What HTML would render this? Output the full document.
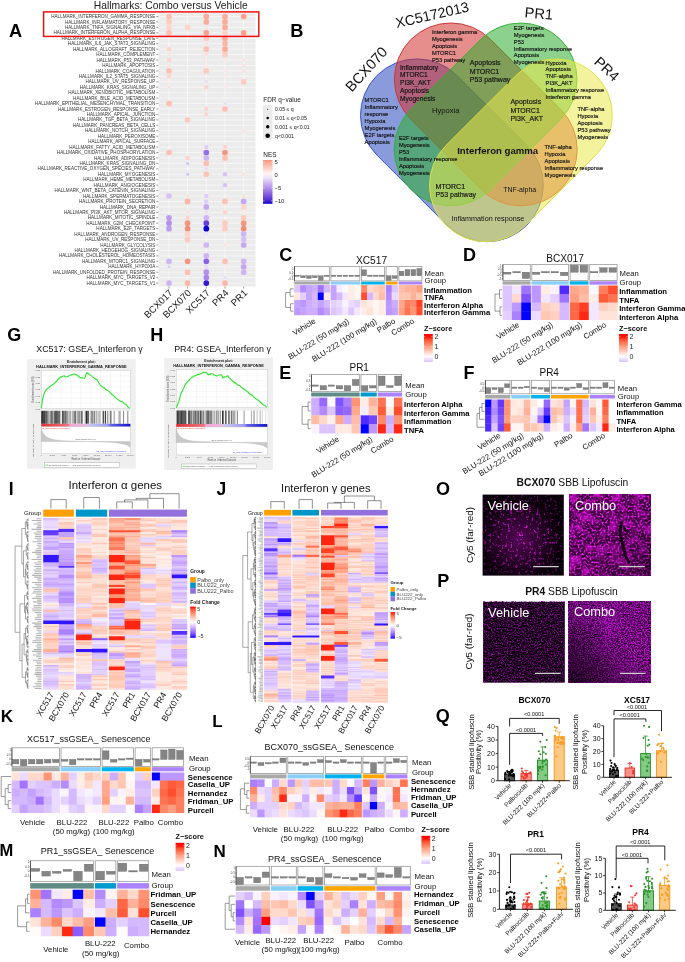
<!DOCTYPE html>
<html><head><meta charset="utf-8"><style>
html,body{margin:0;padding:0;background:#fff;width:685px;height:962px;overflow:hidden}
svg{display:block;will-change:transform}
text{font-family:"Liberation Sans",sans-serif}
</style></head><body>
<svg width="685" height="962" viewBox="0 0 685 962">
<text x="170.80" y="8.90" font-size="10.3" text-anchor="middle" fill="#1a1a1a">Hallmarks: Combo versus Vehicle</text>
<rect x="158.50" y="13.20" width="97.00" height="273.30" fill="#ebebeb"/>
<line x1="158.5" y1="16.50" x2="255.5" y2="16.50" stroke="#fff" stroke-width="0.55"/>
<line x1="158.5" y1="21.94" x2="255.5" y2="21.94" stroke="#fff" stroke-width="0.55"/>
<line x1="158.5" y1="27.38" x2="255.5" y2="27.38" stroke="#fff" stroke-width="0.55"/>
<line x1="158.5" y1="32.82" x2="255.5" y2="32.82" stroke="#fff" stroke-width="0.55"/>
<line x1="158.5" y1="38.26" x2="255.5" y2="38.26" stroke="#fff" stroke-width="0.55"/>
<line x1="158.5" y1="43.70" x2="255.5" y2="43.70" stroke="#fff" stroke-width="0.55"/>
<line x1="158.5" y1="49.14" x2="255.5" y2="49.14" stroke="#fff" stroke-width="0.55"/>
<line x1="158.5" y1="54.58" x2="255.5" y2="54.58" stroke="#fff" stroke-width="0.55"/>
<line x1="158.5" y1="60.02" x2="255.5" y2="60.02" stroke="#fff" stroke-width="0.55"/>
<line x1="158.5" y1="65.46" x2="255.5" y2="65.46" stroke="#fff" stroke-width="0.55"/>
<line x1="158.5" y1="70.90" x2="255.5" y2="70.90" stroke="#fff" stroke-width="0.55"/>
<line x1="158.5" y1="76.34" x2="255.5" y2="76.34" stroke="#fff" stroke-width="0.55"/>
<line x1="158.5" y1="81.78" x2="255.5" y2="81.78" stroke="#fff" stroke-width="0.55"/>
<line x1="158.5" y1="87.22" x2="255.5" y2="87.22" stroke="#fff" stroke-width="0.55"/>
<line x1="158.5" y1="92.66" x2="255.5" y2="92.66" stroke="#fff" stroke-width="0.55"/>
<line x1="158.5" y1="98.10" x2="255.5" y2="98.10" stroke="#fff" stroke-width="0.55"/>
<line x1="158.5" y1="103.54" x2="255.5" y2="103.54" stroke="#fff" stroke-width="0.55"/>
<line x1="158.5" y1="108.98" x2="255.5" y2="108.98" stroke="#fff" stroke-width="0.55"/>
<line x1="158.5" y1="114.42" x2="255.5" y2="114.42" stroke="#fff" stroke-width="0.55"/>
<line x1="158.5" y1="119.86" x2="255.5" y2="119.86" stroke="#fff" stroke-width="0.55"/>
<line x1="158.5" y1="125.30" x2="255.5" y2="125.30" stroke="#fff" stroke-width="0.55"/>
<line x1="158.5" y1="130.74" x2="255.5" y2="130.74" stroke="#fff" stroke-width="0.55"/>
<line x1="158.5" y1="136.18" x2="255.5" y2="136.18" stroke="#fff" stroke-width="0.55"/>
<line x1="158.5" y1="141.62" x2="255.5" y2="141.62" stroke="#fff" stroke-width="0.55"/>
<line x1="158.5" y1="147.06" x2="255.5" y2="147.06" stroke="#fff" stroke-width="0.55"/>
<line x1="158.5" y1="152.50" x2="255.5" y2="152.50" stroke="#fff" stroke-width="0.55"/>
<line x1="158.5" y1="157.94" x2="255.5" y2="157.94" stroke="#fff" stroke-width="0.55"/>
<line x1="158.5" y1="163.38" x2="255.5" y2="163.38" stroke="#fff" stroke-width="0.55"/>
<line x1="158.5" y1="168.82" x2="255.5" y2="168.82" stroke="#fff" stroke-width="0.55"/>
<line x1="158.5" y1="174.26" x2="255.5" y2="174.26" stroke="#fff" stroke-width="0.55"/>
<line x1="158.5" y1="179.70" x2="255.5" y2="179.70" stroke="#fff" stroke-width="0.55"/>
<line x1="158.5" y1="185.14" x2="255.5" y2="185.14" stroke="#fff" stroke-width="0.55"/>
<line x1="158.5" y1="190.58" x2="255.5" y2="190.58" stroke="#fff" stroke-width="0.55"/>
<line x1="158.5" y1="196.02" x2="255.5" y2="196.02" stroke="#fff" stroke-width="0.55"/>
<line x1="158.5" y1="201.46" x2="255.5" y2="201.46" stroke="#fff" stroke-width="0.55"/>
<line x1="158.5" y1="206.90" x2="255.5" y2="206.90" stroke="#fff" stroke-width="0.55"/>
<line x1="158.5" y1="212.34" x2="255.5" y2="212.34" stroke="#fff" stroke-width="0.55"/>
<line x1="158.5" y1="217.78" x2="255.5" y2="217.78" stroke="#fff" stroke-width="0.55"/>
<line x1="158.5" y1="223.22" x2="255.5" y2="223.22" stroke="#fff" stroke-width="0.55"/>
<line x1="158.5" y1="228.66" x2="255.5" y2="228.66" stroke="#fff" stroke-width="0.55"/>
<line x1="158.5" y1="234.10" x2="255.5" y2="234.10" stroke="#fff" stroke-width="0.55"/>
<line x1="158.5" y1="239.54" x2="255.5" y2="239.54" stroke="#fff" stroke-width="0.55"/>
<line x1="158.5" y1="244.98" x2="255.5" y2="244.98" stroke="#fff" stroke-width="0.55"/>
<line x1="158.5" y1="250.42" x2="255.5" y2="250.42" stroke="#fff" stroke-width="0.55"/>
<line x1="158.5" y1="255.86" x2="255.5" y2="255.86" stroke="#fff" stroke-width="0.55"/>
<line x1="158.5" y1="261.30" x2="255.5" y2="261.30" stroke="#fff" stroke-width="0.55"/>
<line x1="158.5" y1="266.74" x2="255.5" y2="266.74" stroke="#fff" stroke-width="0.55"/>
<line x1="158.5" y1="272.18" x2="255.5" y2="272.18" stroke="#fff" stroke-width="0.55"/>
<line x1="158.5" y1="277.62" x2="255.5" y2="277.62" stroke="#fff" stroke-width="0.55"/>
<line x1="158.5" y1="283.06" x2="255.5" y2="283.06" stroke="#fff" stroke-width="0.55"/>
<line x1="169.00" y1="13.2" x2="169.00" y2="286.5" stroke="#fff" stroke-width="0.55"/>
<line x1="187.60" y1="13.2" x2="187.60" y2="286.5" stroke="#fff" stroke-width="0.55"/>
<line x1="206.30" y1="13.2" x2="206.30" y2="286.5" stroke="#fff" stroke-width="0.55"/>
<line x1="225.00" y1="13.2" x2="225.00" y2="286.5" stroke="#fff" stroke-width="0.55"/>
<line x1="243.70" y1="13.2" x2="243.70" y2="286.5" stroke="#fff" stroke-width="0.55"/>
<text x="155.40" y="18.10" font-size="4.55" text-anchor="end" fill="#333">HALLMARK_INTERFERON_GAMMA_RESPONSE</text>
<line x1="156.3" y1="16.50" x2="158.3" y2="16.50" stroke="#333" stroke-width="0.5"/>
<text x="155.40" y="23.54" font-size="4.55" text-anchor="end" fill="#333">HALLMARK_INFLAMMATORY_RESPONSE</text>
<line x1="156.3" y1="21.94" x2="158.3" y2="21.94" stroke="#333" stroke-width="0.5"/>
<text x="155.40" y="28.98" font-size="4.55" text-anchor="end" fill="#333">HALLMARK_TNFA_SIGNALING_VIA_NFKB</text>
<line x1="156.3" y1="27.38" x2="158.3" y2="27.38" stroke="#333" stroke-width="0.5"/>
<text x="155.40" y="34.42" font-size="4.55" text-anchor="end" fill="#333">HALLMARK_INTERFERON_ALPHA_RESPONSE</text>
<line x1="156.3" y1="32.82" x2="158.3" y2="32.82" stroke="#333" stroke-width="0.5"/>
<text x="155.40" y="39.86" font-size="4.55" text-anchor="end" fill="#333">HALLMARK_ESTROGEN_RESPONSE_LATE</text>
<line x1="156.3" y1="38.26" x2="158.3" y2="38.26" stroke="#333" stroke-width="0.5"/>
<text x="155.40" y="45.30" font-size="4.55" text-anchor="end" fill="#333">HALLMARK_IL6_JAK_STAT3_SIGNALING</text>
<line x1="156.3" y1="43.70" x2="158.3" y2="43.70" stroke="#333" stroke-width="0.5"/>
<text x="155.40" y="50.74" font-size="4.55" text-anchor="end" fill="#333">HALLMARK_ALLOGRAFT_REJECTION</text>
<line x1="156.3" y1="49.14" x2="158.3" y2="49.14" stroke="#333" stroke-width="0.5"/>
<text x="155.40" y="56.18" font-size="4.55" text-anchor="end" fill="#333">HALLMARK_COMPLEMENT</text>
<line x1="156.3" y1="54.58" x2="158.3" y2="54.58" stroke="#333" stroke-width="0.5"/>
<text x="155.40" y="61.62" font-size="4.55" text-anchor="end" fill="#333">HALLMARK_P53_PATHWAY</text>
<line x1="156.3" y1="60.02" x2="158.3" y2="60.02" stroke="#333" stroke-width="0.5"/>
<text x="155.40" y="67.06" font-size="4.55" text-anchor="end" fill="#333">HALLMARK_APOPTOSIS</text>
<line x1="156.3" y1="65.46" x2="158.3" y2="65.46" stroke="#333" stroke-width="0.5"/>
<text x="155.40" y="72.50" font-size="4.55" text-anchor="end" fill="#333">HALLMARK_COAGULATION</text>
<line x1="156.3" y1="70.90" x2="158.3" y2="70.90" stroke="#333" stroke-width="0.5"/>
<text x="155.40" y="77.94" font-size="4.55" text-anchor="end" fill="#333">HALLMARK_IL2_STAT5_SIGNALING</text>
<line x1="156.3" y1="76.34" x2="158.3" y2="76.34" stroke="#333" stroke-width="0.5"/>
<text x="155.40" y="83.38" font-size="4.55" text-anchor="end" fill="#333">HALLMARK_UV_RESPONSE_UP</text>
<line x1="156.3" y1="81.78" x2="158.3" y2="81.78" stroke="#333" stroke-width="0.5"/>
<text x="155.40" y="88.82" font-size="4.55" text-anchor="end" fill="#333">HALLMARK_KRAS_SIGNALING_UP</text>
<line x1="156.3" y1="87.22" x2="158.3" y2="87.22" stroke="#333" stroke-width="0.5"/>
<text x="155.40" y="94.26" font-size="4.55" text-anchor="end" fill="#333">HALLMARK_XENOBIOTIC_METABOLISM</text>
<line x1="156.3" y1="92.66" x2="158.3" y2="92.66" stroke="#333" stroke-width="0.5"/>
<text x="155.40" y="99.70" font-size="4.55" text-anchor="end" fill="#333">HALLMARK_BILE_ACID_METABOLISM</text>
<line x1="156.3" y1="98.10" x2="158.3" y2="98.10" stroke="#333" stroke-width="0.5"/>
<text x="155.40" y="105.14" font-size="4.55" text-anchor="end" fill="#333">HALLMARK_EPITHELIAL_MESENCHYMAL_TRANSITION</text>
<line x1="156.3" y1="103.54" x2="158.3" y2="103.54" stroke="#333" stroke-width="0.5"/>
<text x="155.40" y="110.58" font-size="4.55" text-anchor="end" fill="#333">HALLMARK_ESTROGEN_RESPONSE_EARLY</text>
<line x1="156.3" y1="108.98" x2="158.3" y2="108.98" stroke="#333" stroke-width="0.5"/>
<text x="155.40" y="116.02" font-size="4.55" text-anchor="end" fill="#333">HALLMARK_APICAL_JUNCTION</text>
<line x1="156.3" y1="114.42" x2="158.3" y2="114.42" stroke="#333" stroke-width="0.5"/>
<text x="155.40" y="121.46" font-size="4.55" text-anchor="end" fill="#333">HALLMARK_TGF_BETA_SIGNALING</text>
<line x1="156.3" y1="119.86" x2="158.3" y2="119.86" stroke="#333" stroke-width="0.5"/>
<text x="155.40" y="126.90" font-size="4.55" text-anchor="end" fill="#333">HALLMARK_PANCREAS_BETA_CELLS</text>
<line x1="156.3" y1="125.30" x2="158.3" y2="125.30" stroke="#333" stroke-width="0.5"/>
<text x="155.40" y="132.34" font-size="4.55" text-anchor="end" fill="#333">HALLMARK_NOTCH_SIGNALING</text>
<line x1="156.3" y1="130.74" x2="158.3" y2="130.74" stroke="#333" stroke-width="0.5"/>
<text x="155.40" y="137.78" font-size="4.55" text-anchor="end" fill="#333">HALLMARK_PEROXISOME</text>
<line x1="156.3" y1="136.18" x2="158.3" y2="136.18" stroke="#333" stroke-width="0.5"/>
<text x="155.40" y="143.22" font-size="4.55" text-anchor="end" fill="#333">HALLMARK_APICAL_SURFACE</text>
<line x1="156.3" y1="141.62" x2="158.3" y2="141.62" stroke="#333" stroke-width="0.5"/>
<text x="155.40" y="148.66" font-size="4.55" text-anchor="end" fill="#333">HALLMARK_FATTY_ACID_METABOLISM</text>
<line x1="156.3" y1="147.06" x2="158.3" y2="147.06" stroke="#333" stroke-width="0.5"/>
<text x="155.40" y="154.10" font-size="4.55" text-anchor="end" fill="#333">HALLMARK_OXIDATIVE_PHOSPHORYLATION</text>
<line x1="156.3" y1="152.50" x2="158.3" y2="152.50" stroke="#333" stroke-width="0.5"/>
<text x="155.40" y="159.54" font-size="4.55" text-anchor="end" fill="#333">HALLMARK_ADIPOGENESIS</text>
<line x1="156.3" y1="157.94" x2="158.3" y2="157.94" stroke="#333" stroke-width="0.5"/>
<text x="155.40" y="164.98" font-size="4.55" text-anchor="end" fill="#333">HALLMARK_KRAS_SIGNALING_DN</text>
<line x1="156.3" y1="163.38" x2="158.3" y2="163.38" stroke="#333" stroke-width="0.5"/>
<text x="155.40" y="170.42" font-size="4.55" text-anchor="end" fill="#333">HALLMARK_REACTIVE_OXYGEN_SPECIES_PATHWAY</text>
<line x1="156.3" y1="168.82" x2="158.3" y2="168.82" stroke="#333" stroke-width="0.5"/>
<text x="155.40" y="175.86" font-size="4.55" text-anchor="end" fill="#333">HALLMARK_MYOGENESIS</text>
<line x1="156.3" y1="174.26" x2="158.3" y2="174.26" stroke="#333" stroke-width="0.5"/>
<text x="155.40" y="181.30" font-size="4.55" text-anchor="end" fill="#333">HALLMARK_HEME_METABOLISM</text>
<line x1="156.3" y1="179.70" x2="158.3" y2="179.70" stroke="#333" stroke-width="0.5"/>
<text x="155.40" y="186.74" font-size="4.55" text-anchor="end" fill="#333">HALLMARK_ANGIOGENESIS</text>
<line x1="156.3" y1="185.14" x2="158.3" y2="185.14" stroke="#333" stroke-width="0.5"/>
<text x="155.40" y="192.18" font-size="4.55" text-anchor="end" fill="#333">HALLMARK_WNT_BETA_CATENIN_SIGNALING</text>
<line x1="156.3" y1="190.58" x2="158.3" y2="190.58" stroke="#333" stroke-width="0.5"/>
<text x="155.40" y="197.62" font-size="4.55" text-anchor="end" fill="#333">HALLMARK_SPERMATOGENESIS</text>
<line x1="156.3" y1="196.02" x2="158.3" y2="196.02" stroke="#333" stroke-width="0.5"/>
<text x="155.40" y="203.06" font-size="4.55" text-anchor="end" fill="#333">HALLMARK_PROTEIN_SECRETION</text>
<line x1="156.3" y1="201.46" x2="158.3" y2="201.46" stroke="#333" stroke-width="0.5"/>
<text x="155.40" y="208.50" font-size="4.55" text-anchor="end" fill="#333">HALLMARK_DNA_REPAIR</text>
<line x1="156.3" y1="206.90" x2="158.3" y2="206.90" stroke="#333" stroke-width="0.5"/>
<text x="155.40" y="213.94" font-size="4.55" text-anchor="end" fill="#333">HALLMARK_PI3K_AKT_MTOR_SIGNALING</text>
<line x1="156.3" y1="212.34" x2="158.3" y2="212.34" stroke="#333" stroke-width="0.5"/>
<text x="155.40" y="219.38" font-size="4.55" text-anchor="end" fill="#333">HALLMARK_MITOTIC_SPINDLE</text>
<line x1="156.3" y1="217.78" x2="158.3" y2="217.78" stroke="#333" stroke-width="0.5"/>
<text x="155.40" y="224.82" font-size="4.55" text-anchor="end" fill="#333">HALLMARK_G2M_CHECKPOINT</text>
<line x1="156.3" y1="223.22" x2="158.3" y2="223.22" stroke="#333" stroke-width="0.5"/>
<text x="155.40" y="230.26" font-size="4.55" text-anchor="end" fill="#333">HALLMARK_E2F_TARGETS</text>
<line x1="156.3" y1="228.66" x2="158.3" y2="228.66" stroke="#333" stroke-width="0.5"/>
<text x="155.40" y="235.70" font-size="4.55" text-anchor="end" fill="#333">HALLMARK_ANDROGEN_RESPONSE</text>
<line x1="156.3" y1="234.10" x2="158.3" y2="234.10" stroke="#333" stroke-width="0.5"/>
<text x="155.40" y="241.14" font-size="4.55" text-anchor="end" fill="#333">HALLMARK_UV_RESPONSE_DN</text>
<line x1="156.3" y1="239.54" x2="158.3" y2="239.54" stroke="#333" stroke-width="0.5"/>
<text x="155.40" y="246.58" font-size="4.55" text-anchor="end" fill="#333">HALLMARK_GLYCOLYSIS</text>
<line x1="156.3" y1="244.98" x2="158.3" y2="244.98" stroke="#333" stroke-width="0.5"/>
<text x="155.40" y="252.02" font-size="4.55" text-anchor="end" fill="#333">HALLMARK_HEDGEHOG_SIGNALING</text>
<line x1="156.3" y1="250.42" x2="158.3" y2="250.42" stroke="#333" stroke-width="0.5"/>
<text x="155.40" y="257.46" font-size="4.55" text-anchor="end" fill="#333">HALLMARK_CHOLESTEROL_HOMEOSTASIS</text>
<line x1="156.3" y1="255.86" x2="158.3" y2="255.86" stroke="#333" stroke-width="0.5"/>
<text x="155.40" y="262.90" font-size="4.55" text-anchor="end" fill="#333">HALLMARK_MTORC1_SIGNALING</text>
<line x1="156.3" y1="261.30" x2="158.3" y2="261.30" stroke="#333" stroke-width="0.5"/>
<text x="155.40" y="268.34" font-size="4.55" text-anchor="end" fill="#333">HALLMARK_HYPOXIA</text>
<line x1="156.3" y1="266.74" x2="158.3" y2="266.74" stroke="#333" stroke-width="0.5"/>
<text x="155.40" y="273.78" font-size="4.55" text-anchor="end" fill="#333">HALLMARK_UNFOLDED_PROTEIN_RESPONSE</text>
<line x1="156.3" y1="272.18" x2="158.3" y2="272.18" stroke="#333" stroke-width="0.5"/>
<text x="155.40" y="279.22" font-size="4.55" text-anchor="end" fill="#333">HALLMARK_MYC_TARGETS_V2</text>
<line x1="156.3" y1="277.62" x2="158.3" y2="277.62" stroke="#333" stroke-width="0.5"/>
<text x="155.40" y="284.66" font-size="4.55" text-anchor="end" fill="#333">HALLMARK_MYC_TARGETS_V1</text>
<line x1="156.3" y1="283.06" x2="158.3" y2="283.06" stroke="#333" stroke-width="0.5"/>
<circle cx="169.00" cy="16.50" r="2.85" fill="#fcc1b2"/>
<circle cx="187.60" cy="16.50" r="0.7" fill="#fff5f2"/>
<circle cx="206.30" cy="16.50" r="2.85" fill="#f9ac99"/>
<circle cx="225.00" cy="16.50" r="2.85" fill="#f9ac99"/>
<circle cx="243.70" cy="16.50" r="2.85" fill="#f6a28d"/>
<circle cx="169.00" cy="21.94" r="2.85" fill="#fecbbf"/>
<circle cx="187.60" cy="21.94" r="0.7" fill="#fff5f2"/>
<circle cx="206.30" cy="21.94" r="2.85" fill="#f9ac99"/>
<circle cx="225.00" cy="21.94" r="2.85" fill="#f9ac99"/>
<circle cx="243.70" cy="21.94" r="0.7" fill="#fff5f2"/>
<circle cx="169.00" cy="27.38" r="2.85" fill="#ffd5cb"/>
<circle cx="187.60" cy="27.38" r="2.85" fill="#ffd5cb"/>
<circle cx="206.30" cy="27.38" r="1.5" fill="#ffe0d8"/>
<circle cx="225.00" cy="27.38" r="2.85" fill="#f9ac99"/>
<circle cx="243.70" cy="27.38" r="0.7" fill="#fff5f2"/>
<circle cx="169.00" cy="32.82" r="2.85" fill="#fcc1b2"/>
<circle cx="187.60" cy="32.82" r="0.7" fill="#f7f2fd"/>
<circle cx="206.30" cy="32.82" r="2.85" fill="#f6a28d"/>
<circle cx="225.00" cy="32.82" r="2.85" fill="#ffd5cb"/>
<circle cx="243.70" cy="32.82" r="2.85" fill="#f6a28d"/>
<circle cx="169.00" cy="38.26" r="0.7" fill="#fff5f2"/>
<circle cx="187.60" cy="38.26" r="0.7" fill="#fff5f2"/>
<circle cx="206.30" cy="38.26" r="2.85" fill="#fecbbf"/>
<circle cx="225.00" cy="38.26" r="2.85" fill="#f9ac99"/>
<circle cx="243.70" cy="38.26" r="0.7" fill="#fff5f2"/>
<circle cx="169.00" cy="43.70" r="0.7" fill="#fff5f2"/>
<circle cx="187.60" cy="43.70" r="0.7" fill="#fff9f7"/>
<circle cx="206.30" cy="43.70" r="1.5" fill="#ffe0d8"/>
<circle cx="225.00" cy="43.70" r="2.85" fill="#fbb6a6"/>
<circle cx="243.70" cy="43.70" r="0.7" fill="#fff5f2"/>
<circle cx="169.00" cy="49.14" r="2.2" fill="#ffd5cb"/>
<circle cx="187.60" cy="49.14" r="0.7" fill="#fff5f2"/>
<circle cx="206.30" cy="49.14" r="2.85" fill="#fcc1b2"/>
<circle cx="225.00" cy="49.14" r="2.85" fill="#f9ac99"/>
<circle cx="243.70" cy="49.14" r="0.7" fill="#fff5f2"/>
<circle cx="169.00" cy="54.58" r="1.5" fill="#ffe0d8"/>
<circle cx="187.60" cy="54.58" r="0.7" fill="#fff9f7"/>
<circle cx="206.30" cy="54.58" r="1.5" fill="#ffe0d8"/>
<circle cx="225.00" cy="54.58" r="2.85" fill="#fecbbf"/>
<circle cx="243.70" cy="54.58" r="0.7" fill="#fff5f2"/>
<circle cx="169.00" cy="60.02" r="2.2" fill="#ffd5cb"/>
<circle cx="187.60" cy="60.02" r="0.7" fill="#fff9f7"/>
<circle cx="206.30" cy="60.02" r="1.5" fill="#ffeae5"/>
<circle cx="225.00" cy="60.02" r="1.5" fill="#ffeae5"/>
<circle cx="243.70" cy="60.02" r="1.5" fill="#ffe0d8"/>
<circle cx="169.00" cy="65.46" r="1.5" fill="#ffe0d8"/>
<circle cx="187.60" cy="65.46" r="0.7" fill="#fff9f7"/>
<circle cx="206.30" cy="65.46" r="1.5" fill="#ffeae5"/>
<circle cx="225.00" cy="65.46" r="0.7" fill="#fff5f2"/>
<circle cx="243.70" cy="65.46" r="1.5" fill="#ffe0d8"/>
<circle cx="169.00" cy="70.90" r="2.85" fill="#fcc1b2"/>
<circle cx="187.60" cy="70.90" r="0.7" fill="#efe6fb"/>
<circle cx="206.30" cy="70.90" r="2.85" fill="#fecbbf"/>
<circle cx="225.00" cy="70.90" r="1.5" fill="#ffeae5"/>
<circle cx="243.70" cy="70.90" r="1.5" fill="#ffe0d8"/>
<circle cx="169.00" cy="76.34" r="2.2" fill="#ffd5cb"/>
<circle cx="187.60" cy="76.34" r="0.7" fill="#fff9f7"/>
<circle cx="206.30" cy="76.34" r="0.7" fill="#fff5f2"/>
<circle cx="225.00" cy="76.34" r="1.5" fill="#ffeae5"/>
<circle cx="243.70" cy="76.34" r="0.7" fill="#fff5f2"/>
<circle cx="169.00" cy="81.78" r="1.5" fill="#ffeae5"/>
<circle cx="187.60" cy="81.78" r="0.7" fill="#fff9f7"/>
<circle cx="206.30" cy="81.78" r="1.5" fill="#e6daf9"/>
<circle cx="225.00" cy="81.78" r="0.7" fill="#fff5f2"/>
<circle cx="243.70" cy="81.78" r="2.85" fill="#fecbbf"/>
<circle cx="169.00" cy="87.22" r="1.5" fill="#ffe0d8"/>
<circle cx="187.60" cy="87.22" r="0.7" fill="#fff9f7"/>
<circle cx="206.30" cy="87.22" r="2.2" fill="#ffd5cb"/>
<circle cx="225.00" cy="87.22" r="1.5" fill="#ffeae5"/>
<circle cx="243.70" cy="87.22" r="0.7" fill="#fff5f2"/>
<circle cx="169.00" cy="92.66" r="0.7" fill="#fff5f2"/>
<circle cx="187.60" cy="92.66" r="0.7" fill="#fff9f7"/>
<circle cx="206.30" cy="92.66" r="0.7" fill="#fff5f2"/>
<circle cx="225.00" cy="92.66" r="0.7" fill="#fff9f7"/>
<circle cx="243.70" cy="92.66" r="0.7" fill="#fff9f7"/>
<circle cx="169.00" cy="98.10" r="0.7" fill="#fff5f2"/>
<circle cx="187.60" cy="98.10" r="0.7" fill="#fff9f7"/>
<circle cx="206.30" cy="98.10" r="0.7" fill="#fff5f2"/>
<circle cx="225.00" cy="98.10" r="0.7" fill="#fff9f7"/>
<circle cx="243.70" cy="98.10" r="0.7" fill="#fff9f7"/>
<circle cx="169.00" cy="103.54" r="2.85" fill="#fcc1b2"/>
<circle cx="187.60" cy="103.54" r="0.7" fill="#fff9f7"/>
<circle cx="206.30" cy="103.54" r="0.7" fill="#fff5f2"/>
<circle cx="225.00" cy="103.54" r="1.5" fill="#e6daf9"/>
<circle cx="243.70" cy="103.54" r="0.7" fill="#fff9f7"/>
<circle cx="169.00" cy="108.98" r="0.7" fill="#fff5f2"/>
<circle cx="187.60" cy="108.98" r="0.7" fill="#fff9f7"/>
<circle cx="206.30" cy="108.98" r="2.2" fill="#ffd5cb"/>
<circle cx="225.00" cy="108.98" r="2.85" fill="#fcc1b2"/>
<circle cx="243.70" cy="108.98" r="0.7" fill="#fff9f7"/>
<circle cx="169.00" cy="114.42" r="0.7" fill="#fff5f2"/>
<circle cx="187.60" cy="114.42" r="0.7" fill="#faf7fe"/>
<circle cx="206.30" cy="114.42" r="2.2" fill="#ffd5cb"/>
<circle cx="225.00" cy="114.42" r="0.7" fill="#fff5f2"/>
<circle cx="243.70" cy="114.42" r="0.7" fill="#fff9f7"/>
<circle cx="169.00" cy="119.86" r="0.7" fill="#fff5f2"/>
<circle cx="187.60" cy="119.86" r="2.85" fill="#fecbbf"/>
<circle cx="206.30" cy="119.86" r="0.7" fill="#fff5f2"/>
<circle cx="225.00" cy="119.86" r="0.7" fill="#fff5f2"/>
<circle cx="243.70" cy="119.86" r="0.7" fill="#fff9f7"/>
<circle cx="169.00" cy="125.30" r="0.7" fill="#fff5f2"/>
<circle cx="187.60" cy="125.30" r="0.7" fill="#fff9f7"/>
<circle cx="206.30" cy="125.30" r="0.7" fill="#fff5f2"/>
<circle cx="225.00" cy="125.30" r="0.7" fill="#fff9f7"/>
<circle cx="243.70" cy="125.30" r="0.7" fill="#fff9f7"/>
<circle cx="169.00" cy="130.74" r="0.7" fill="#fff5f2"/>
<circle cx="187.60" cy="130.74" r="0.7" fill="#fff9f7"/>
<circle cx="206.30" cy="130.74" r="0.7" fill="#fff5f2"/>
<circle cx="225.00" cy="130.74" r="0.7" fill="#fff9f7"/>
<circle cx="243.70" cy="130.74" r="1.5" fill="#ffe0d8"/>
<circle cx="169.00" cy="136.18" r="0.7" fill="#fff5f2"/>
<circle cx="187.60" cy="136.18" r="0.7" fill="#fff9f7"/>
<circle cx="206.30" cy="136.18" r="0.7" fill="#fff5f2"/>
<circle cx="225.00" cy="136.18" r="0.7" fill="#fff9f7"/>
<circle cx="243.70" cy="136.18" r="0.7" fill="#fff9f7"/>
<circle cx="169.00" cy="141.62" r="0.7" fill="#fff5f2"/>
<circle cx="187.60" cy="141.62" r="0.7" fill="#fff9f7"/>
<circle cx="206.30" cy="141.62" r="0.7" fill="#fff5f2"/>
<circle cx="225.00" cy="141.62" r="0.7" fill="#fff9f7"/>
<circle cx="243.70" cy="141.62" r="0.7" fill="#fff9f7"/>
<circle cx="169.00" cy="147.06" r="0.7" fill="#fff5f2"/>
<circle cx="187.60" cy="147.06" r="0.7" fill="#fff9f7"/>
<circle cx="206.30" cy="147.06" r="2.2" fill="#decdf7"/>
<circle cx="225.00" cy="147.06" r="2.2" fill="#ffd5cb"/>
<circle cx="243.70" cy="147.06" r="0.7" fill="#fff9f7"/>
<circle cx="169.00" cy="152.50" r="2.85" fill="#fcc1b2"/>
<circle cx="187.60" cy="152.50" r="0.7" fill="#fff9f7"/>
<circle cx="206.30" cy="152.50" r="2.85" fill="#946ee4"/>
<circle cx="225.00" cy="152.50" r="2.85" fill="#f49781"/>
<circle cx="243.70" cy="152.50" r="0.7" fill="#fff9f7"/>
<circle cx="169.00" cy="157.94" r="0.7" fill="#fff5f2"/>
<circle cx="187.60" cy="157.94" r="2.2" fill="#ffd5cb"/>
<circle cx="206.30" cy="157.94" r="2.85" fill="#cdb5f2"/>
<circle cx="225.00" cy="157.94" r="2.85" fill="#fcc1b2"/>
<circle cx="243.70" cy="157.94" r="0.7" fill="#fff9f7"/>
<circle cx="169.00" cy="163.38" r="0.7" fill="#fff5f2"/>
<circle cx="187.60" cy="163.38" r="1.5" fill="#d5c1f5"/>
<circle cx="206.30" cy="163.38" r="2.85" fill="#fcc1b2"/>
<circle cx="225.00" cy="163.38" r="0.7" fill="#fff5f2"/>
<circle cx="243.70" cy="163.38" r="0.7" fill="#fff9f7"/>
<circle cx="169.00" cy="168.82" r="0.7" fill="#fff5f2"/>
<circle cx="187.60" cy="168.82" r="0.7" fill="#fff9f7"/>
<circle cx="206.30" cy="168.82" r="1.5" fill="#e6daf9"/>
<circle cx="225.00" cy="168.82" r="0.7" fill="#fff5f2"/>
<circle cx="243.70" cy="168.82" r="0.7" fill="#fff9f7"/>
<circle cx="169.00" cy="174.26" r="0.7" fill="#fff5f2"/>
<circle cx="187.60" cy="174.26" r="1.5" fill="#d5c1f5"/>
<circle cx="206.30" cy="174.26" r="2.85" fill="#fcc1b2"/>
<circle cx="225.00" cy="174.26" r="2.2" fill="#d5c1f5"/>
<circle cx="243.70" cy="174.26" r="1.5" fill="#ffe0d8"/>
<circle cx="169.00" cy="179.70" r="0.7" fill="#fff5f2"/>
<circle cx="187.60" cy="179.70" r="0.7" fill="#fff9f7"/>
<circle cx="206.30" cy="179.70" r="0.7" fill="#fff5f2"/>
<circle cx="225.00" cy="179.70" r="0.7" fill="#fff9f7"/>
<circle cx="243.70" cy="179.70" r="0.7" fill="#fff9f7"/>
<circle cx="169.00" cy="185.14" r="0.7" fill="#fff5f2"/>
<circle cx="187.60" cy="185.14" r="0.7" fill="#fff9f7"/>
<circle cx="206.30" cy="185.14" r="0.7" fill="#fff5f2"/>
<circle cx="225.00" cy="185.14" r="2.2" fill="#d5c1f5"/>
<circle cx="243.70" cy="185.14" r="0.7" fill="#fff9f7"/>
<circle cx="169.00" cy="190.58" r="0.7" fill="#fff5f2"/>
<circle cx="187.60" cy="190.58" r="0.7" fill="#fff9f7"/>
<circle cx="206.30" cy="190.58" r="0.7" fill="#fff5f2"/>
<circle cx="225.00" cy="190.58" r="0.7" fill="#fff9f7"/>
<circle cx="243.70" cy="190.58" r="0.7" fill="#fff9f7"/>
<circle cx="169.00" cy="196.02" r="2.85" fill="#d5c1f5"/>
<circle cx="187.60" cy="196.02" r="1.5" fill="#ffe0d8"/>
<circle cx="206.30" cy="196.02" r="2.2" fill="#decdf7"/>
<circle cx="225.00" cy="196.02" r="0.7" fill="#fff9f7"/>
<circle cx="243.70" cy="196.02" r="1.5" fill="#ffe0d8"/>
<circle cx="169.00" cy="201.46" r="0.7" fill="#fff9f7"/>
<circle cx="187.60" cy="201.46" r="2.85" fill="#fbb6a6"/>
<circle cx="206.30" cy="201.46" r="2.2" fill="#decdf7"/>
<circle cx="225.00" cy="201.46" r="2.85" fill="#fcc1b2"/>
<circle cx="243.70" cy="201.46" r="2.85" fill="#c4a9f0"/>
<circle cx="169.00" cy="206.90" r="0.7" fill="#fff5f2"/>
<circle cx="187.60" cy="206.90" r="0.7" fill="#fff9f7"/>
<circle cx="206.30" cy="206.90" r="2.85" fill="#c4a9f0"/>
<circle cx="225.00" cy="206.90" r="0.7" fill="#fff5f2"/>
<circle cx="243.70" cy="206.90" r="2.85" fill="#ffd5cb"/>
<circle cx="169.00" cy="212.34" r="0.7" fill="#fff5f2"/>
<circle cx="187.60" cy="212.34" r="1.5" fill="#ffe0d8"/>
<circle cx="206.30" cy="212.34" r="1.5" fill="#e6daf9"/>
<circle cx="225.00" cy="212.34" r="2.2" fill="#ffd5cb"/>
<circle cx="243.70" cy="212.34" r="1.5" fill="#ffeae5"/>
<circle cx="169.00" cy="217.78" r="2.85" fill="#bb9dee"/>
<circle cx="187.60" cy="217.78" r="2.2" fill="#ffd5cb"/>
<circle cx="206.30" cy="217.78" r="2.85" fill="#cdb5f2"/>
<circle cx="225.00" cy="217.78" r="0.7" fill="#fff5f2"/>
<circle cx="243.70" cy="217.78" r="2.85" fill="#fecbbf"/>
<circle cx="169.00" cy="223.22" r="2.85" fill="#b291eb"/>
<circle cx="187.60" cy="223.22" r="2.85" fill="#f49781"/>
<circle cx="206.30" cy="223.22" r="2.85" fill="#663fd9"/>
<circle cx="225.00" cy="223.22" r="2.85" fill="#fecbbf"/>
<circle cx="243.70" cy="223.22" r="2.85" fill="#f49781"/>
<circle cx="169.00" cy="228.66" r="2.85" fill="#bb9dee"/>
<circle cx="187.60" cy="228.66" r="2.85" fill="#f18d76"/>
<circle cx="206.30" cy="228.66" r="2.85" fill="#0c00cd"/>
<circle cx="225.00" cy="228.66" r="2.85" fill="#fecbbf"/>
<circle cx="243.70" cy="228.66" r="2.85" fill="#f18d76"/>
<circle cx="169.00" cy="234.10" r="0.7" fill="#fff5f2"/>
<circle cx="187.60" cy="234.10" r="2.85" fill="#ffd5cb"/>
<circle cx="206.30" cy="234.10" r="2.2" fill="#efe6fb"/>
<circle cx="225.00" cy="234.10" r="0.7" fill="#fff5f2"/>
<circle cx="243.70" cy="234.10" r="2.85" fill="#cdb5f2"/>
<circle cx="169.00" cy="239.54" r="0.7" fill="#fff5f2"/>
<circle cx="187.60" cy="239.54" r="2.85" fill="#fecbbf"/>
<circle cx="206.30" cy="239.54" r="0.7" fill="#fff5f2"/>
<circle cx="225.00" cy="239.54" r="0.7" fill="#fff5f2"/>
<circle cx="243.70" cy="239.54" r="2.85" fill="#d5c1f5"/>
<circle cx="169.00" cy="244.98" r="0.7" fill="#fff5f2"/>
<circle cx="187.60" cy="244.98" r="0.7" fill="#fff9f7"/>
<circle cx="206.30" cy="244.98" r="2.85" fill="#cdb5f2"/>
<circle cx="225.00" cy="244.98" r="1.5" fill="#ffe0d8"/>
<circle cx="243.70" cy="244.98" r="2.85" fill="#c4a9f0"/>
<circle cx="169.00" cy="250.42" r="0.7" fill="#fff5f2"/>
<circle cx="187.60" cy="250.42" r="0.7" fill="#fff9f7"/>
<circle cx="206.30" cy="250.42" r="0.7" fill="#fff5f2"/>
<circle cx="225.00" cy="250.42" r="0.7" fill="#fff9f7"/>
<circle cx="243.70" cy="250.42" r="0.7" fill="#fff9f7"/>
<circle cx="169.00" cy="255.86" r="0.7" fill="#fff5f2"/>
<circle cx="187.60" cy="255.86" r="0.7" fill="#fff9f7"/>
<circle cx="206.30" cy="255.86" r="2.85" fill="#cdb5f2"/>
<circle cx="225.00" cy="255.86" r="0.7" fill="#fff5f2"/>
<circle cx="243.70" cy="255.86" r="0.7" fill="#fff9f7"/>
<circle cx="169.00" cy="261.30" r="2.85" fill="#cdb5f2"/>
<circle cx="187.60" cy="261.30" r="2.85" fill="#f49781"/>
<circle cx="206.30" cy="261.30" r="2.85" fill="#8962e1"/>
<circle cx="225.00" cy="261.30" r="2.85" fill="#fcc1b2"/>
<circle cx="243.70" cy="261.30" r="2.85" fill="#cdb5f2"/>
<circle cx="169.00" cy="266.74" r="1.5" fill="#decdf7"/>
<circle cx="187.60" cy="266.74" r="0.7" fill="#fff9f7"/>
<circle cx="206.30" cy="266.74" r="2.2" fill="#e6daf9"/>
<circle cx="225.00" cy="266.74" r="1.5" fill="#ffeae5"/>
<circle cx="243.70" cy="266.74" r="2.85" fill="#c4a9f0"/>
<circle cx="169.00" cy="272.18" r="0.7" fill="#fff5f2"/>
<circle cx="187.60" cy="272.18" r="2.85" fill="#fcc1b2"/>
<circle cx="206.30" cy="272.18" r="2.85" fill="#b291eb"/>
<circle cx="225.00" cy="272.18" r="0.7" fill="#fff5f2"/>
<circle cx="243.70" cy="272.18" r="2.85" fill="#cdb5f2"/>
<circle cx="169.00" cy="277.62" r="0.7" fill="#fff5f2"/>
<circle cx="187.60" cy="277.62" r="0.7" fill="#fff9f7"/>
<circle cx="206.30" cy="277.62" r="2.85" fill="#a886e9"/>
<circle cx="225.00" cy="277.62" r="1.5" fill="#e6daf9"/>
<circle cx="243.70" cy="277.62" r="0.7" fill="#fff9f7"/>
<circle cx="169.00" cy="283.06" r="2.85" fill="#cdb5f2"/>
<circle cx="187.60" cy="283.06" r="2.85" fill="#fbb6a6"/>
<circle cx="206.30" cy="283.06" r="2.85" fill="#3216d0"/>
<circle cx="225.00" cy="283.06" r="2.85" fill="#fbb6a6"/>
<circle cx="243.70" cy="283.06" r="1.5" fill="#efe6fb"/>
<line x1="169.00" y1="286.5" x2="169.00" y2="288.5" stroke="#333" stroke-width="0.5"/>
<line x1="187.60" y1="286.5" x2="187.60" y2="288.5" stroke="#333" stroke-width="0.5"/>
<line x1="206.30" y1="286.5" x2="206.30" y2="288.5" stroke="#333" stroke-width="0.5"/>
<line x1="225.00" y1="286.5" x2="225.00" y2="288.5" stroke="#333" stroke-width="0.5"/>
<line x1="243.70" y1="286.5" x2="243.70" y2="288.5" stroke="#333" stroke-width="0.5"/>
<text x="173.30" y="293.50" font-size="9.6" text-anchor="end" fill="#1a1a1a" transform="rotate(-45 173.30 293.50)">BCX017</text>
<text x="191.90" y="293.50" font-size="9.6" text-anchor="end" fill="#1a1a1a" transform="rotate(-45 191.90 293.50)">BCX070</text>
<text x="210.60" y="293.50" font-size="9.6" text-anchor="end" fill="#1a1a1a" transform="rotate(-45 210.60 293.50)">XC517</text>
<text x="229.30" y="293.50" font-size="9.6" text-anchor="end" fill="#1a1a1a" transform="rotate(-45 229.30 293.50)">PR4</text>
<text x="248.00" y="293.50" font-size="9.6" text-anchor="end" fill="#1a1a1a" transform="rotate(-45 248.00 293.50)">PR1</text>
<rect x="43.6" y="11.9" width="215.2" height="24.5" fill="none" stroke="#f50a0a" stroke-width="1.45"/>
<text x="9.00" y="37.20" font-size="18.2" font-weight="bold">A</text>
<text x="263.30" y="102.00" font-size="6.4" fill="#1a1a1a">FDR q−value</text>
<rect x="263.00" y="105.00" width="9.50" height="34.80" fill="#ebebeb"/>
<circle cx="267.7" cy="109.2" r="0.55" fill="#000"/>
<text x="275.00" y="111.10" font-size="5.2" fill="#1a1a1a">0.05 ≤ q</text>
<circle cx="267.7" cy="118.0" r="1.25" fill="#000"/>
<text x="275.00" y="119.90" font-size="5.2" fill="#1a1a1a">0.01 ≤ q&lt;0.05</text>
<circle cx="267.7" cy="126.8" r="1.7" fill="#000"/>
<text x="275.00" y="128.70" font-size="5.2" fill="#1a1a1a">0.001 ≤ q&lt;0.01</text>
<circle cx="267.7" cy="135.8" r="2.3" fill="#000"/>
<text x="275.00" y="137.70" font-size="5.2" fill="#1a1a1a">q&lt;0.001</text>
<text x="263.30" y="157.30" font-size="6.4" fill="#1a1a1a">NES</text>
<defs><linearGradient id="nesg" x1="0" y1="0" x2="0" y2="1">
<stop offset="0.00" stop-color="#f49781"/>
<stop offset="0.10" stop-color="#fbb6a6"/>
<stop offset="0.20" stop-color="#ffd5cb"/>
<stop offset="0.30" stop-color="#fff5f2"/>
<stop offset="0.40" stop-color="#efe6fb"/>
<stop offset="0.50" stop-color="#d5c1f5"/>
<stop offset="0.60" stop-color="#bb9dee"/>
<stop offset="0.70" stop-color="#9e7ae6"/>
<stop offset="0.80" stop-color="#7e57de"/>
<stop offset="0.90" stop-color="#5833d6"/>
<stop offset="1.00" stop-color="#0c00cd"/>
</linearGradient></defs>
<rect x="263.00" y="160.00" width="9.50" height="43.80" fill="url(#nesg)"/>
<line x1="263" y1="162.3" x2="264.6" y2="162.3" stroke="#fff" stroke-width="0.5"/>
<line x1="270.9" y1="162.3" x2="272.5" y2="162.3" stroke="#fff" stroke-width="0.5"/>
<text x="274.50" y="164.40" font-size="5.8" fill="#1a1a1a">5</text>
<line x1="263" y1="175.3" x2="264.6" y2="175.3" stroke="#fff" stroke-width="0.5"/>
<line x1="270.9" y1="175.3" x2="272.5" y2="175.3" stroke="#fff" stroke-width="0.5"/>
<text x="274.50" y="177.40" font-size="5.8" fill="#1a1a1a">0</text>
<line x1="263" y1="188.0" x2="264.6" y2="188.0" stroke="#fff" stroke-width="0.5"/>
<line x1="270.9" y1="188.0" x2="272.5" y2="188.0" stroke="#fff" stroke-width="0.5"/>
<text x="274.50" y="190.10" font-size="5.8" fill="#1a1a1a">−5</text>
<line x1="263" y1="200.9" x2="264.6" y2="200.9" stroke="#fff" stroke-width="0.5"/>
<line x1="270.9" y1="200.9" x2="272.5" y2="200.9" stroke="#fff" stroke-width="0.5"/>
<text x="274.50" y="203.00" font-size="5.8" fill="#1a1a1a">−10</text>
<rect x="-105.9" y="-56.4" width="211.8" height="112.8" rx="56.4" ry="56.4" transform="translate(451.9 150.3) rotate(45)" fill="#2949bf" fill-opacity="0.55" stroke="#3050c8" stroke-width="0.9"/>
<rect x="-105.9" y="-56.4" width="211.8" height="112.8" rx="56.4" ry="56.4" transform="translate(485.8 114.4) rotate(45)" fill="#d1312e" fill-opacity="0.55" stroke="#d03030" stroke-width="0.9"/>
<rect x="-105.9" y="-56.4" width="211.8" height="112.8" rx="56.4" ry="56.4" transform="translate(485.6 114.4) rotate(-45)" fill="#2ead2e" fill-opacity="0.55" stroke="#30b030" stroke-width="0.9"/>
<rect x="-105.9" y="-56.4" width="211.8" height="112.8" rx="56.4" ry="56.4" transform="translate(520.9 150.3) rotate(-45)" fill="#e9e94f" fill-opacity="0.55" stroke="#e0e040" stroke-width="0.9"/>
<text x="433.30" y="19.60" font-size="14.2" text-anchor="middle" fill="#111" transform="rotate(-13 433.30 19.60)">XC5172013</text>
<text x="538.40" y="18.60" font-size="14.6" text-anchor="middle" fill="#111" transform="rotate(5 538.40 18.60)">PR1</text>
<text x="370.00" y="72.60" font-size="14.6" text-anchor="middle" fill="#111" transform="rotate(-47.5 370.00 72.60)">BCX070</text>
<text x="603.40" y="72.60" font-size="14.3" text-anchor="middle" fill="#111" transform="rotate(43 603.40 72.60)">PR4</text>
<text x="431.90" y="34.20" font-size="5.75" fill="#111" stroke="#111" stroke-width="0.16">Interferon gamma</text>
<text x="431.90" y="41.20" font-size="5.75" fill="#111" stroke="#111" stroke-width="0.16">Myogenesis</text>
<text x="431.90" y="48.20" font-size="5.75" fill="#111" stroke="#111" stroke-width="0.16">Apoptosis</text>
<text x="431.90" y="55.20" font-size="5.75" fill="#111" stroke="#111" stroke-width="0.16">MTORC1</text>
<text x="431.90" y="62.20" font-size="5.75" fill="#111" stroke="#111" stroke-width="0.16">P53 pathway</text>
<text x="400.00" y="69.50" font-size="6.6" fill="#111" stroke="#111" stroke-width="0.16">Inflammatory</text>
<text x="400.00" y="77.40" font-size="6.6" fill="#111" stroke="#111" stroke-width="0.16">MTORC1</text>
<text x="400.00" y="85.30" font-size="6.6" fill="#111" stroke="#111" stroke-width="0.16">PI3K_AKT</text>
<text x="400.00" y="93.20" font-size="6.6" fill="#111" stroke="#111" stroke-width="0.16">Apoptosis</text>
<text x="400.00" y="101.10" font-size="6.6" fill="#111" stroke="#111" stroke-width="0.16">Myogenesis</text>
<text x="364.60" y="102.20" font-size="5.75" fill="#111" stroke="#111" stroke-width="0.16">MTORC1</text>
<text x="364.60" y="109.10" font-size="5.75" fill="#111" stroke="#111" stroke-width="0.16">Inflammatory</text>
<text x="364.60" y="116.00" font-size="5.75" fill="#111" stroke="#111" stroke-width="0.16">response</text>
<text x="364.60" y="122.90" font-size="5.75" fill="#111" stroke="#111" stroke-width="0.16">Hypoxia</text>
<text x="364.60" y="129.80" font-size="5.75" fill="#111" stroke="#111" stroke-width="0.16">Myogenesis</text>
<text x="364.60" y="136.70" font-size="5.75" fill="#111" stroke="#111" stroke-width="0.16">E2F targets</text>
<text x="364.60" y="143.60" font-size="5.75" fill="#111" stroke="#111" stroke-width="0.16">Apoptosis</text>
<text x="445.80" y="113.00" font-size="7.6" text-anchor="middle" fill="#111">Hypoxia</text>
<text x="469.80" y="65.30" font-size="7.0" fill="#111" stroke="#111" stroke-width="0.16">Apoptosis</text>
<text x="469.80" y="73.80" font-size="7.0" fill="#111" stroke="#111" stroke-width="0.16">MTORC1</text>
<text x="469.80" y="82.30" font-size="7.0" fill="#111" stroke="#111" stroke-width="0.16">P53 pathway</text>
<text x="513.80" y="30.00" font-size="5.75" fill="#111" stroke="#111" stroke-width="0.16">E2F targets</text>
<text x="513.80" y="36.85" font-size="5.75" fill="#111" stroke="#111" stroke-width="0.16">Myogenesis</text>
<text x="513.80" y="43.70" font-size="5.75" fill="#111" stroke="#111" stroke-width="0.16">P53</text>
<text x="513.80" y="50.55" font-size="5.75" fill="#111" stroke="#111" stroke-width="0.16">Inflammatory response</text>
<text x="513.80" y="57.40" font-size="5.75" fill="#111" stroke="#111" stroke-width="0.16">Apoptosis</text>
<text x="513.80" y="64.25" font-size="5.75" fill="#111" stroke="#111" stroke-width="0.16">Myogenesis</text>
<text x="545.60" y="64.60" font-size="5.75" fill="#111" stroke="#111" stroke-width="0.16">Hypoxia</text>
<text x="545.60" y="71.45" font-size="5.75" fill="#111" stroke="#111" stroke-width="0.16">Apoptosis</text>
<text x="545.60" y="78.30" font-size="5.75" fill="#111" stroke="#111" stroke-width="0.16">TNF-alpha</text>
<text x="545.60" y="85.15" font-size="5.75" fill="#111" stroke="#111" stroke-width="0.16">PI3K_AKT</text>
<text x="545.60" y="92.00" font-size="5.75" fill="#111" stroke="#111" stroke-width="0.16">Inflammatory response</text>
<text x="545.60" y="98.85" font-size="5.75" fill="#111" stroke="#111" stroke-width="0.16">Interferon gamma</text>
<text x="510.40" y="104.00" font-size="7.0" fill="#111" stroke="#111" stroke-width="0.16">Apoptosis</text>
<text x="510.40" y="112.50" font-size="7.0" fill="#111" stroke="#111" stroke-width="0.16">MTORC1</text>
<text x="510.40" y="121.00" font-size="7.0" fill="#111" stroke="#111" stroke-width="0.16">PI3K_AKT</text>
<text x="577.40" y="111.00" font-size="5.75" fill="#111" stroke="#111" stroke-width="0.16">TNF-alpha</text>
<text x="577.40" y="118.10" font-size="5.75" fill="#111" stroke="#111" stroke-width="0.16">Hypoxia</text>
<text x="577.40" y="125.20" font-size="5.75" fill="#111" stroke="#111" stroke-width="0.16">Apoptosis</text>
<text x="577.40" y="132.30" font-size="5.75" fill="#111" stroke="#111" stroke-width="0.16">P53 pathway</text>
<text x="577.40" y="139.40" font-size="5.75" fill="#111" stroke="#111" stroke-width="0.16">Myogenesis</text>
<text x="398.90" y="140.40" font-size="5.75" fill="#111" stroke="#111" stroke-width="0.16">E2F targets</text>
<text x="398.90" y="147.35" font-size="5.75" fill="#111" stroke="#111" stroke-width="0.16">Myogenesis</text>
<text x="398.90" y="154.30" font-size="5.75" fill="#111" stroke="#111" stroke-width="0.16">P53</text>
<text x="398.90" y="161.25" font-size="5.75" fill="#111" stroke="#111" stroke-width="0.16">Inflammatory response</text>
<text x="398.90" y="168.20" font-size="5.75" fill="#111" stroke="#111" stroke-width="0.16">Apoptosis</text>
<text x="398.90" y="175.15" font-size="5.75" fill="#111" stroke="#111" stroke-width="0.16">Myogenesis</text>
<text x="497.70" y="154.00" font-size="9.6" text-anchor="middle" font-weight="bold" fill="#111">Interferon gamma</text>
<text x="544.60" y="148.70" font-size="5.75" fill="#111" stroke="#111" stroke-width="0.16">TNF-alpha</text>
<text x="544.60" y="155.65" font-size="5.75" fill="#111" stroke="#111" stroke-width="0.16">Hypoxia</text>
<text x="544.60" y="162.60" font-size="5.75" fill="#111" stroke="#111" stroke-width="0.16">Apoptosis</text>
<text x="544.60" y="169.55" font-size="5.75" fill="#111" stroke="#111" stroke-width="0.16">Inflammatory response</text>
<text x="544.60" y="176.50" font-size="5.75" fill="#111" stroke="#111" stroke-width="0.16">Myogenesis</text>
<text x="435.60" y="188.50" font-size="7.0" fill="#111" stroke="#111" stroke-width="0.16">MTORC1</text>
<text x="435.60" y="196.80" font-size="7.0" fill="#111" stroke="#111" stroke-width="0.16">P53 pathway</text>
<text x="519.70" y="191.90" font-size="7.0" text-anchor="middle" fill="#111">TNF-alpha</text>
<text x="487.90" y="221.30" font-size="7.2" text-anchor="middle" fill="#111">Inflammation response</text>
<text x="290.20" y="37.00" font-size="18.2" font-weight="bold">B</text>
<rect x="294.20" y="285.10" width="6.25" height="7.80" fill="#dcc4ff"/>
<rect x="300.10" y="285.10" width="6.25" height="7.80" fill="#b38bff"/>
<rect x="306.01" y="285.10" width="6.25" height="7.80" fill="#c4a2ff"/>
<rect x="311.91" y="285.10" width="6.25" height="7.80" fill="#ccadff"/>
<rect x="317.82" y="285.10" width="6.25" height="7.80" fill="#a074ff"/>
<rect x="323.72" y="285.10" width="6.25" height="7.80" fill="#d4b9ff"/>
<rect x="330.63" y="285.10" width="6.25" height="7.80" fill="#c4a2ff"/>
<rect x="336.53" y="285.10" width="6.25" height="7.80" fill="#f4ecff"/>
<rect x="342.44" y="285.10" width="6.25" height="7.80" fill="#fbf8ff"/>
<rect x="348.34" y="285.10" width="6.25" height="7.80" fill="#ffece5"/>
<rect x="354.25" y="285.10" width="6.25" height="7.80" fill="#fff5f2"/>
<rect x="361.15" y="285.10" width="6.25" height="7.80" fill="#ff8969"/>
<rect x="367.06" y="285.10" width="6.25" height="7.80" fill="#ffd9cb"/>
<rect x="372.96" y="285.10" width="6.25" height="7.80" fill="#ffcfbf"/>
<rect x="378.87" y="285.10" width="6.25" height="7.80" fill="#ffc6b2"/>
<rect x="385.77" y="285.10" width="6.25" height="7.80" fill="#aa80ff"/>
<rect x="391.68" y="285.10" width="6.25" height="7.80" fill="#dcc4ff"/>
<rect x="398.58" y="285.10" width="6.25" height="7.80" fill="#ffbca6"/>
<rect x="404.49" y="285.10" width="6.25" height="7.80" fill="#ffb299"/>
<rect x="410.39" y="285.10" width="6.25" height="7.80" fill="#ffb299"/>
<rect x="416.30" y="285.10" width="6.25" height="7.80" fill="#ff9e81"/>
<rect x="294.20" y="292.55" width="6.25" height="7.80" fill="#ffe8e0"/>
<rect x="300.10" y="292.55" width="6.25" height="7.80" fill="#e3d0ff"/>
<rect x="306.01" y="292.55" width="6.25" height="7.80" fill="#c4a2ff"/>
<rect x="311.91" y="292.55" width="6.25" height="7.80" fill="#d4b9ff"/>
<rect x="317.82" y="292.55" width="6.25" height="7.80" fill="#0000ff"/>
<rect x="323.72" y="292.55" width="6.25" height="7.80" fill="#ffece5"/>
<rect x="330.63" y="292.55" width="6.25" height="7.80" fill="#c4a2ff"/>
<rect x="336.53" y="292.55" width="6.25" height="7.80" fill="#d4b9ff"/>
<rect x="342.44" y="292.55" width="6.25" height="7.80" fill="#f2e7ff"/>
<rect x="348.34" y="292.55" width="6.25" height="7.80" fill="#ffece5"/>
<rect x="354.25" y="292.55" width="6.25" height="7.80" fill="#fff5f2"/>
<rect x="361.15" y="292.55" width="6.25" height="7.80" fill="#ff4d2e"/>
<rect x="367.06" y="292.55" width="6.25" height="7.80" fill="#d4b9ff"/>
<rect x="372.96" y="292.55" width="6.25" height="7.80" fill="#ffd9cb"/>
<rect x="378.87" y="292.55" width="6.25" height="7.80" fill="#ffbca6"/>
<rect x="385.77" y="292.55" width="6.25" height="7.80" fill="#b38bff"/>
<rect x="391.68" y="292.55" width="6.25" height="7.80" fill="#ebdcff"/>
<rect x="398.58" y="292.55" width="6.25" height="7.80" fill="#ffc6b2"/>
<rect x="404.49" y="292.55" width="6.25" height="7.80" fill="#ffc6b2"/>
<rect x="410.39" y="292.55" width="6.25" height="7.80" fill="#ffb299"/>
<rect x="416.30" y="292.55" width="6.25" height="7.80" fill="#ffc6b2"/>
<rect x="294.20" y="300.00" width="6.25" height="7.80" fill="#c4a2ff"/>
<rect x="300.10" y="300.00" width="6.25" height="7.80" fill="#bc97ff"/>
<rect x="306.01" y="300.00" width="6.25" height="7.80" fill="#ccadff"/>
<rect x="311.91" y="300.00" width="6.25" height="7.80" fill="#d4b9ff"/>
<rect x="317.82" y="300.00" width="6.25" height="7.80" fill="#c4a2ff"/>
<rect x="323.72" y="300.00" width="6.25" height="7.80" fill="#d4b9ff"/>
<rect x="330.63" y="300.00" width="6.25" height="7.80" fill="#e3d0ff"/>
<rect x="336.53" y="300.00" width="6.25" height="7.80" fill="#ebdcff"/>
<rect x="342.44" y="300.00" width="6.25" height="7.80" fill="#f8f3ff"/>
<rect x="348.34" y="300.00" width="6.25" height="7.80" fill="#ebdcff"/>
<rect x="354.25" y="300.00" width="6.25" height="7.80" fill="#e3d0ff"/>
<rect x="361.15" y="300.00" width="6.25" height="7.80" fill="#ffe2d8"/>
<rect x="367.06" y="300.00" width="6.25" height="7.80" fill="#ffece5"/>
<rect x="372.96" y="300.00" width="6.25" height="7.80" fill="#fff5f2"/>
<rect x="378.87" y="300.00" width="6.25" height="7.80" fill="#ffece5"/>
<rect x="385.77" y="300.00" width="6.25" height="7.80" fill="#bc97ff"/>
<rect x="391.68" y="300.00" width="6.25" height="7.80" fill="#ccadff"/>
<rect x="398.58" y="300.00" width="6.25" height="7.80" fill="#ffa88d"/>
<rect x="404.49" y="300.00" width="6.25" height="7.80" fill="#ff7e5e"/>
<rect x="410.39" y="300.00" width="6.25" height="7.80" fill="#ff8969"/>
<rect x="416.30" y="300.00" width="6.25" height="7.80" fill="#ff3e22"/>
<rect x="294.20" y="307.45" width="6.25" height="7.80" fill="#bc97ff"/>
<rect x="300.10" y="307.45" width="6.25" height="7.80" fill="#c4a2ff"/>
<rect x="306.01" y="307.45" width="6.25" height="7.80" fill="#ccadff"/>
<rect x="311.91" y="307.45" width="6.25" height="7.80" fill="#ccadff"/>
<rect x="317.82" y="307.45" width="6.25" height="7.80" fill="#b38bff"/>
<rect x="323.72" y="307.45" width="6.25" height="7.80" fill="#c4a2ff"/>
<rect x="330.63" y="307.45" width="6.25" height="7.80" fill="#dcc4ff"/>
<rect x="336.53" y="307.45" width="6.25" height="7.80" fill="#e3d0ff"/>
<rect x="342.44" y="307.45" width="6.25" height="7.80" fill="#f2e7ff"/>
<rect x="348.34" y="307.45" width="6.25" height="7.80" fill="#dcc4ff"/>
<rect x="354.25" y="307.45" width="6.25" height="7.80" fill="#f2e7ff"/>
<rect x="361.15" y="307.45" width="6.25" height="7.80" fill="#ffece5"/>
<rect x="367.06" y="307.45" width="6.25" height="7.80" fill="#ffe2d8"/>
<rect x="372.96" y="307.45" width="6.25" height="7.80" fill="#fff5f2"/>
<rect x="378.87" y="307.45" width="6.25" height="7.80" fill="#ffece5"/>
<rect x="385.77" y="307.45" width="6.25" height="7.80" fill="#bc97ff"/>
<rect x="391.68" y="307.45" width="6.25" height="7.80" fill="#c4a2ff"/>
<rect x="398.58" y="307.45" width="6.25" height="7.80" fill="#ff9e81"/>
<rect x="404.49" y="307.45" width="6.25" height="7.80" fill="#ff7352"/>
<rect x="410.39" y="307.45" width="6.25" height="7.80" fill="#ff9475"/>
<rect x="416.30" y="307.45" width="6.25" height="7.80" fill="#ff4d2e"/>
<rect x="294.20" y="281.60" width="35.43" height="2.90" fill="#a9a9a9"/>
<rect x="330.63" y="281.60" width="29.52" height="2.90" fill="#87cefa"/>
<rect x="361.15" y="281.60" width="23.62" height="2.90" fill="#00b2ee"/>
<rect x="385.77" y="281.60" width="11.81" height="2.90" fill="#ffa500"/>
<rect x="398.58" y="281.60" width="23.62" height="2.90" fill="#ab82ff"/>
<rect x="294.50" y="266.40" width="34.83" height="14.50" fill="#fff" stroke="#8c8c8c" stroke-width="0.7"/>
<rect x="330.93" y="266.40" width="28.92" height="14.50" fill="#fff" stroke="#8c8c8c" stroke-width="0.7"/>
<rect x="361.45" y="266.40" width="23.02" height="14.50" fill="#fff" stroke="#8c8c8c" stroke-width="0.7"/>
<rect x="386.07" y="266.40" width="11.21" height="14.50" fill="#fff" stroke="#8c8c8c" stroke-width="0.7"/>
<rect x="398.88" y="266.40" width="23.02" height="14.50" fill="#fff" stroke="#8c8c8c" stroke-width="0.7"/>
<rect x="294.79" y="275.15" width="4.72" height="1.30" fill="#858585" stroke="#5c5c5c" stroke-width="0.35"/>
<rect x="300.70" y="275.80" width="4.72" height="1.98" fill="#858585" stroke="#5c5c5c" stroke-width="0.35"/>
<rect x="306.60" y="275.80" width="4.72" height="2.64" fill="#858585" stroke="#5c5c5c" stroke-width="0.35"/>
<rect x="312.50" y="275.80" width="4.72" height="1.98" fill="#858585" stroke="#5c5c5c" stroke-width="0.35"/>
<rect x="318.41" y="275.80" width="4.72" height="4.50" fill="#858585" stroke="#5c5c5c" stroke-width="0.35"/>
<rect x="324.31" y="275.15" width="4.72" height="1.30" fill="#858585" stroke="#5c5c5c" stroke-width="0.35"/>
<rect x="331.22" y="275.15" width="4.72" height="1.30" fill="#858585" stroke="#5c5c5c" stroke-width="0.35"/>
<rect x="337.12" y="275.15" width="4.72" height="1.30" fill="#858585" stroke="#5c5c5c" stroke-width="0.35"/>
<rect x="343.03" y="275.15" width="4.72" height="1.30" fill="#858585" stroke="#5c5c5c" stroke-width="0.35"/>
<rect x="348.93" y="275.15" width="4.72" height="1.30" fill="#858585" stroke="#5c5c5c" stroke-width="0.35"/>
<rect x="354.84" y="275.15" width="4.72" height="1.30" fill="#858585" stroke="#5c5c5c" stroke-width="0.35"/>
<rect x="361.74" y="269.86" width="4.72" height="5.94" fill="#858585" stroke="#5c5c5c" stroke-width="0.35"/>
<rect x="367.65" y="275.15" width="4.72" height="1.30" fill="#858585" stroke="#5c5c5c" stroke-width="0.35"/>
<rect x="373.55" y="275.15" width="4.72" height="1.30" fill="#858585" stroke="#5c5c5c" stroke-width="0.35"/>
<rect x="379.46" y="275.15" width="4.72" height="1.30" fill="#858585" stroke="#5c5c5c" stroke-width="0.35"/>
<rect x="386.36" y="275.80" width="4.72" height="4.50" fill="#858585" stroke="#5c5c5c" stroke-width="0.35"/>
<rect x="392.27" y="275.80" width="4.72" height="2.64" fill="#858585" stroke="#5c5c5c" stroke-width="0.35"/>
<rect x="399.17" y="271.18" width="4.72" height="4.62" fill="#858585" stroke="#5c5c5c" stroke-width="0.35"/>
<rect x="405.08" y="269.53" width="4.72" height="6.27" fill="#858585" stroke="#5c5c5c" stroke-width="0.35"/>
<rect x="410.98" y="269.53" width="4.72" height="6.27" fill="#858585" stroke="#5c5c5c" stroke-width="0.35"/>
<rect x="416.89" y="268.54" width="4.72" height="7.26" fill="#858585" stroke="#5c5c5c" stroke-width="0.35"/>
<line x1="294.50" y1="266.40" x2="294.50" y2="280.90" stroke="#333" stroke-width="0.7"/>
<line x1="293.60" y1="269.20" x2="294.50" y2="269.20" stroke="#333" stroke-width="0.4"/>
<text x="293.30" y="270.20" font-size="2.9" text-anchor="end" fill="#444">1</text>
<line x1="293.60" y1="272.50" x2="294.50" y2="272.50" stroke="#333" stroke-width="0.4"/>
<text x="293.30" y="273.50" font-size="2.9" text-anchor="end" fill="#444">0.5</text>
<line x1="293.60" y1="275.80" x2="294.50" y2="275.80" stroke="#333" stroke-width="0.4"/>
<text x="293.30" y="276.80" font-size="2.9" text-anchor="end" fill="#444">0</text>
<line x1="293.60" y1="279.10" x2="294.50" y2="279.10" stroke="#333" stroke-width="0.4"/>
<text x="293.30" y="280.10" font-size="2.9" text-anchor="end" fill="#444">-0.5</text>
<text x="424.00" y="292.70" font-size="7.7" font-weight="bold">Inflammation</text>
<text x="424.00" y="300.30" font-size="7.7" font-weight="bold">TNFA</text>
<text x="424.00" y="307.90" font-size="7.7" font-weight="bold">Interferon Alpha</text>
<text x="424.00" y="314.90" font-size="7.7" font-weight="bold">Interferon Gamma</text>
<path d="M293.60 288.83H290.10V296.27H293.60" fill="none" stroke="#555" stroke-width="0.6"/>
<path d="M293.60 303.73H290.60V311.17H293.60" fill="none" stroke="#555" stroke-width="0.6"/>
<path d="M290.10 292.55H285.60V307.45H290.60" fill="none" stroke="#555" stroke-width="0.6"/>
<text x="424.60" y="275.60" font-size="7.7" fill="#111">Mean</text>
<text x="424.60" y="282.80" font-size="7.7" fill="#111">Group</text>
<text x="316.21" y="322.50" font-size="7.8" text-anchor="end" fill="#111" transform="rotate(-32 316.21 322.50)">Vehicle</text>
<text x="349.69" y="322.50" font-size="7.8" text-anchor="end" fill="#111" transform="rotate(-32 349.69 322.50)">BLU-222 (50 mg/kg)</text>
<text x="377.26" y="322.50" font-size="7.8" text-anchor="end" fill="#111" transform="rotate(-32 377.26 322.50)">BLU-222 (100 mg/kg)</text>
<text x="395.98" y="322.50" font-size="7.8" text-anchor="end" fill="#111" transform="rotate(-32 395.98 322.50)">Palbo</text>
<text x="414.69" y="322.50" font-size="7.8" text-anchor="end" fill="#111" transform="rotate(-32 414.69 322.50)">Combo</text>
<text x="371.50" y="263.60" font-size="10.2" text-anchor="middle" fill="#111">XC517</text>
<text x="279.30" y="260.80" font-size="18.0" font-weight="bold">C</text>
<text x="424.00" y="330.50" font-size="7.3" font-weight="bold" fill="#111">Z−score</text>
<defs><linearGradient id="zgC" x1="0" y1="0" x2="0" y2="1">
<stop offset="0.00" stop-color="#ff0000"/>
<stop offset="0.10" stop-color="#ff0f04"/>
<stop offset="0.20" stop-color="#ff4e2e"/>
<stop offset="0.30" stop-color="#ff7150"/>
<stop offset="0.40" stop-color="#ff9071"/>
<stop offset="0.50" stop-color="#ffac93"/>
<stop offset="0.60" stop-color="#ffc8b5"/>
<stop offset="0.70" stop-color="#ffe3d9"/>
<stop offset="0.80" stop-color="#fffefd"/>
<stop offset="0.90" stop-color="#eddfff"/>
<stop offset="1.00" stop-color="#d8bfff"/>
</linearGradient></defs>
<rect x="424.00" y="334.00" width="8.80" height="28.00" fill="url(#zgC)"/>
<path d="M424.00 336.59h1.6M431.20 336.59h1.6" stroke="#fff" stroke-width="0.45" stroke-dasharray="0.8 0.4"/>
<text x="434.40" y="339.11" font-size="7.0" fill="#222">2</text>
<path d="M424.00 346.56h1.6M431.20 346.56h1.6" stroke="#fff" stroke-width="0.45" stroke-dasharray="0.8 0.4"/>
<text x="434.40" y="349.08" font-size="7.0" fill="#222">1</text>
<text x="434.40" y="359.04" font-size="7.0" fill="#222">0</text>
<rect x="502.60" y="285.50" width="9.67" height="8.90" fill="#dcc4ff"/>
<rect x="511.92" y="285.50" width="9.67" height="8.90" fill="#f2e7ff"/>
<rect x="521.23" y="285.50" width="9.67" height="8.90" fill="#a074ff"/>
<rect x="531.55" y="285.50" width="9.67" height="8.90" fill="#bc97ff"/>
<rect x="540.87" y="285.50" width="9.67" height="8.90" fill="#ffece5"/>
<rect x="550.18" y="285.50" width="9.67" height="8.90" fill="#f8f3ff"/>
<rect x="559.50" y="285.50" width="9.67" height="8.90" fill="#502bff"/>
<rect x="569.82" y="285.50" width="9.67" height="8.90" fill="#ffa88d"/>
<rect x="579.13" y="285.50" width="9.67" height="8.90" fill="#ffb299"/>
<rect x="589.45" y="285.50" width="9.67" height="8.90" fill="#fbf8ff"/>
<rect x="598.77" y="285.50" width="9.67" height="8.90" fill="#ff7e5e"/>
<rect x="608.08" y="285.50" width="9.67" height="8.90" fill="#ff4d2e"/>
<rect x="502.60" y="294.05" width="9.67" height="8.90" fill="#dcc4ff"/>
<rect x="511.92" y="294.05" width="9.67" height="8.90" fill="#ffd9cb"/>
<rect x="521.23" y="294.05" width="9.67" height="8.90" fill="#7e52ff"/>
<rect x="531.55" y="294.05" width="9.67" height="8.90" fill="#bc97ff"/>
<rect x="540.87" y="294.05" width="9.67" height="8.90" fill="#f2e7ff"/>
<rect x="550.18" y="294.05" width="9.67" height="8.90" fill="#e3d0ff"/>
<rect x="559.50" y="294.05" width="9.67" height="8.90" fill="#a074ff"/>
<rect x="569.82" y="294.05" width="9.67" height="8.90" fill="#ff9e81"/>
<rect x="579.13" y="294.05" width="9.67" height="8.90" fill="#ffbca6"/>
<rect x="589.45" y="294.05" width="9.67" height="8.90" fill="#ffece5"/>
<rect x="598.77" y="294.05" width="9.67" height="8.90" fill="#ff5b3a"/>
<rect x="608.08" y="294.05" width="9.67" height="8.90" fill="#ff7352"/>
<rect x="502.60" y="302.60" width="9.67" height="8.90" fill="#dcc4ff"/>
<rect x="511.92" y="302.60" width="9.67" height="8.90" fill="#bc97ff"/>
<rect x="521.23" y="302.60" width="9.67" height="8.90" fill="#0000ff"/>
<rect x="531.55" y="302.60" width="9.67" height="8.90" fill="#d4b9ff"/>
<rect x="540.87" y="302.60" width="9.67" height="8.90" fill="#ffcfbf"/>
<rect x="550.18" y="302.60" width="9.67" height="8.90" fill="#ffd9cb"/>
<rect x="559.50" y="302.60" width="9.67" height="8.90" fill="#d4b9ff"/>
<rect x="569.82" y="302.60" width="9.67" height="8.90" fill="#ff6846"/>
<rect x="579.13" y="302.60" width="9.67" height="8.90" fill="#ff3e22"/>
<rect x="589.45" y="302.60" width="9.67" height="8.90" fill="#f2e7ff"/>
<rect x="598.77" y="302.60" width="9.67" height="8.90" fill="#ffcfbf"/>
<rect x="608.08" y="302.60" width="9.67" height="8.90" fill="#ffd9cb"/>
<rect x="502.60" y="311.15" width="9.67" height="8.90" fill="#e3d0ff"/>
<rect x="511.92" y="311.15" width="9.67" height="8.90" fill="#aa80ff"/>
<rect x="521.23" y="311.15" width="9.67" height="8.90" fill="#0000ff"/>
<rect x="531.55" y="311.15" width="9.67" height="8.90" fill="#ebdcff"/>
<rect x="540.87" y="311.15" width="9.67" height="8.90" fill="#ffc6b2"/>
<rect x="550.18" y="311.15" width="9.67" height="8.90" fill="#ffcfbf"/>
<rect x="559.50" y="311.15" width="9.67" height="8.90" fill="#d4b9ff"/>
<rect x="569.82" y="311.15" width="9.67" height="8.90" fill="#ff6846"/>
<rect x="579.13" y="311.15" width="9.67" height="8.90" fill="#ff2913"/>
<rect x="589.45" y="311.15" width="9.67" height="8.90" fill="#f2e7ff"/>
<rect x="598.77" y="311.15" width="9.67" height="8.90" fill="#ffe2d8"/>
<rect x="608.08" y="311.15" width="9.67" height="8.90" fill="#ffe2d8"/>
<rect x="502.60" y="281.30" width="27.95" height="3.30" fill="#a9a9a9"/>
<rect x="531.55" y="281.30" width="37.27" height="3.30" fill="#87cefa"/>
<rect x="569.82" y="281.30" width="18.63" height="3.30" fill="#00b2ee"/>
<rect x="589.45" y="281.30" width="27.95" height="3.30" fill="#ab82ff"/>
<rect x="502.90" y="264.60" width="27.35" height="15.80" fill="#fff" stroke="#8c8c8c" stroke-width="0.7"/>
<rect x="531.85" y="264.60" width="36.67" height="15.80" fill="#fff" stroke="#8c8c8c" stroke-width="0.7"/>
<rect x="570.12" y="264.60" width="18.03" height="15.80" fill="#fff" stroke="#8c8c8c" stroke-width="0.7"/>
<rect x="589.75" y="264.60" width="27.35" height="15.80" fill="#fff" stroke="#8c8c8c" stroke-width="0.7"/>
<rect x="503.53" y="272.20" width="7.45" height="1.89" fill="#858585" stroke="#5c5c5c" stroke-width="0.35"/>
<rect x="512.85" y="271.55" width="7.45" height="1.30" fill="#858585" stroke="#5c5c5c" stroke-width="0.35"/>
<rect x="522.16" y="272.20" width="7.45" height="6.30" fill="#858585" stroke="#5c5c5c" stroke-width="0.35"/>
<rect x="532.48" y="272.20" width="7.45" height="2.20" fill="#858585" stroke="#5c5c5c" stroke-width="0.35"/>
<rect x="541.80" y="271.55" width="7.45" height="1.30" fill="#858585" stroke="#5c5c5c" stroke-width="0.35"/>
<rect x="551.11" y="271.55" width="7.45" height="1.30" fill="#858585" stroke="#5c5c5c" stroke-width="0.35"/>
<rect x="560.43" y="272.20" width="7.45" height="3.47" fill="#858585" stroke="#5c5c5c" stroke-width="0.35"/>
<rect x="570.75" y="265.27" width="7.45" height="6.93" fill="#858585" stroke="#5c5c5c" stroke-width="0.35"/>
<rect x="580.06" y="265.27" width="7.45" height="6.93" fill="#858585" stroke="#5c5c5c" stroke-width="0.35"/>
<rect x="590.38" y="271.55" width="7.45" height="1.30" fill="#858585" stroke="#5c5c5c" stroke-width="0.35"/>
<rect x="599.70" y="267.79" width="7.45" height="4.41" fill="#858585" stroke="#5c5c5c" stroke-width="0.35"/>
<rect x="609.01" y="267.79" width="7.45" height="4.41" fill="#858585" stroke="#5c5c5c" stroke-width="0.35"/>
<line x1="502.90" y1="264.60" x2="502.90" y2="280.40" stroke="#333" stroke-width="0.7"/>
<line x1="502.00" y1="265.90" x2="502.90" y2="265.90" stroke="#333" stroke-width="0.4"/>
<text x="501.70" y="266.90" font-size="2.9" text-anchor="end" fill="#444">1</text>
<line x1="502.00" y1="269.05" x2="502.90" y2="269.05" stroke="#333" stroke-width="0.4"/>
<text x="501.70" y="270.05" font-size="2.9" text-anchor="end" fill="#444">0.5</text>
<line x1="502.00" y1="272.20" x2="502.90" y2="272.20" stroke="#333" stroke-width="0.4"/>
<text x="501.70" y="273.20" font-size="2.9" text-anchor="end" fill="#444">0</text>
<line x1="502.00" y1="275.35" x2="502.90" y2="275.35" stroke="#333" stroke-width="0.4"/>
<text x="501.70" y="276.35" font-size="2.9" text-anchor="end" fill="#444">-0.5</text>
<line x1="502.00" y1="278.50" x2="502.90" y2="278.50" stroke="#333" stroke-width="0.4"/>
<text x="501.70" y="279.50" font-size="2.9" text-anchor="end" fill="#444">-1</text>
<text x="619.20" y="293.60" font-size="7.7" font-weight="bold">Inflammation</text>
<text x="619.20" y="302.60" font-size="7.7" font-weight="bold">TNFA</text>
<text x="619.20" y="310.80" font-size="7.7" font-weight="bold">Interferon Gamma</text>
<text x="619.20" y="319.50" font-size="7.7" font-weight="bold">Interferon Alpha</text>
<path d="M502.00 289.77H499.50V298.32H502.00" fill="none" stroke="#555" stroke-width="0.6"/>
<path d="M502.00 306.88H500.00V315.43H502.00" fill="none" stroke="#555" stroke-width="0.6"/>
<path d="M499.50 294.05H495.00V311.15H500.00" fill="none" stroke="#555" stroke-width="0.6"/>
<text x="619.60" y="275.60" font-size="7.7" fill="#111">Mean</text>
<text x="619.60" y="285.00" font-size="7.7" fill="#111">Group</text>
<text x="519.88" y="326.10" font-size="7.8" text-anchor="end" fill="#111" transform="rotate(-32 519.88 326.10)">Vehicle</text>
<text x="553.48" y="326.10" font-size="7.8" text-anchor="end" fill="#111" transform="rotate(-32 553.48 326.10)">BLU-222 (50 mg/kg)</text>
<text x="582.43" y="326.10" font-size="7.8" text-anchor="end" fill="#111" transform="rotate(-32 582.43 326.10)">BLU-222 (100 mg/kg)</text>
<text x="606.72" y="326.10" font-size="7.8" text-anchor="end" fill="#111" transform="rotate(-32 606.72 326.10)">Combo</text>
<text x="565.00" y="262.00" font-size="10.1" text-anchor="middle" fill="#111">BCX017</text>
<text x="463.10" y="260.80" font-size="18.0" font-weight="bold">D</text>
<text x="619.00" y="330.50" font-size="7.3" font-weight="bold" fill="#111">Z−score</text>
<defs><linearGradient id="zgD" x1="0" y1="0" x2="0" y2="1">
<stop offset="0.00" stop-color="#ff0000"/>
<stop offset="0.10" stop-color="#ff0f04"/>
<stop offset="0.20" stop-color="#ff4e2e"/>
<stop offset="0.30" stop-color="#ff7150"/>
<stop offset="0.40" stop-color="#ff9071"/>
<stop offset="0.50" stop-color="#ffac93"/>
<stop offset="0.60" stop-color="#ffc8b5"/>
<stop offset="0.70" stop-color="#ffe3d9"/>
<stop offset="0.80" stop-color="#fffefd"/>
<stop offset="0.90" stop-color="#eddfff"/>
<stop offset="1.00" stop-color="#d8bfff"/>
</linearGradient></defs>
<rect x="619.00" y="334.00" width="8.80" height="28.00" fill="url(#zgD)"/>
<path d="M619.00 336.59h1.6M626.20 336.59h1.6" stroke="#fff" stroke-width="0.45" stroke-dasharray="0.8 0.4"/>
<text x="629.40" y="339.11" font-size="7.0" fill="#222">2</text>
<path d="M619.00 346.56h1.6M626.20 346.56h1.6" stroke="#fff" stroke-width="0.45" stroke-dasharray="0.8 0.4"/>
<text x="629.40" y="349.08" font-size="7.0" fill="#222">1</text>
<text x="629.40" y="359.04" font-size="7.0" fill="#222">0</text>
<rect x="311.20" y="397.60" width="8.42" height="9.22" fill="#ccadff"/>
<rect x="319.27" y="397.60" width="8.42" height="9.22" fill="#9569ff"/>
<rect x="327.35" y="397.60" width="8.42" height="9.22" fill="#fbf8ff"/>
<rect x="335.42" y="397.60" width="8.42" height="9.22" fill="#7e52ff"/>
<rect x="343.49" y="397.60" width="8.42" height="9.22" fill="#aa80ff"/>
<rect x="351.56" y="397.60" width="8.42" height="9.22" fill="#ff9475"/>
<rect x="360.64" y="397.60" width="8.42" height="9.22" fill="#ffece5"/>
<rect x="368.71" y="397.60" width="8.42" height="9.22" fill="#ffb299"/>
<rect x="377.78" y="397.60" width="8.42" height="9.22" fill="#ff7352"/>
<rect x="385.85" y="397.60" width="8.42" height="9.22" fill="#fcfaff"/>
<rect x="393.93" y="397.60" width="8.42" height="9.22" fill="#ff7352"/>
<rect x="311.20" y="406.48" width="8.42" height="9.22" fill="#ccadff"/>
<rect x="319.27" y="406.48" width="8.42" height="9.22" fill="#b38bff"/>
<rect x="327.35" y="406.48" width="8.42" height="9.22" fill="#dcc4ff"/>
<rect x="335.42" y="406.48" width="8.42" height="9.22" fill="#8a5dff"/>
<rect x="343.49" y="406.48" width="8.42" height="9.22" fill="#9569ff"/>
<rect x="351.56" y="406.48" width="8.42" height="9.22" fill="#ffa88d"/>
<rect x="360.64" y="406.48" width="8.42" height="9.22" fill="#f4ecff"/>
<rect x="368.71" y="406.48" width="8.42" height="9.22" fill="#ffc6b2"/>
<rect x="377.78" y="406.48" width="8.42" height="9.22" fill="#ff5b3a"/>
<rect x="385.85" y="406.48" width="8.42" height="9.22" fill="#ffece5"/>
<rect x="393.93" y="406.48" width="8.42" height="9.22" fill="#ff4d2e"/>
<rect x="311.20" y="415.35" width="8.42" height="9.22" fill="#ffbca6"/>
<rect x="319.27" y="415.35" width="8.42" height="9.22" fill="#ffd9cb"/>
<rect x="327.35" y="415.35" width="8.42" height="9.22" fill="#fff2ed"/>
<rect x="335.42" y="415.35" width="8.42" height="9.22" fill="#ffa88d"/>
<rect x="343.49" y="415.35" width="8.42" height="9.22" fill="#ccadff"/>
<rect x="351.56" y="415.35" width="8.42" height="9.22" fill="#ffbca6"/>
<rect x="360.64" y="415.35" width="8.42" height="9.22" fill="#502bff"/>
<rect x="368.71" y="415.35" width="8.42" height="9.22" fill="#7145ff"/>
<rect x="377.78" y="415.35" width="8.42" height="9.22" fill="#ff8969"/>
<rect x="385.85" y="415.35" width="8.42" height="9.22" fill="#ccadff"/>
<rect x="393.93" y="415.35" width="8.42" height="9.22" fill="#ff9475"/>
<rect x="311.20" y="424.23" width="8.42" height="9.22" fill="#f8f3ff"/>
<rect x="319.27" y="424.23" width="8.42" height="9.22" fill="#dcc4ff"/>
<rect x="327.35" y="424.23" width="8.42" height="9.22" fill="#dcc4ff"/>
<rect x="335.42" y="424.23" width="8.42" height="9.22" fill="#ffe8e0"/>
<rect x="343.49" y="424.23" width="8.42" height="9.22" fill="#ffece5"/>
<rect x="351.56" y="424.23" width="8.42" height="9.22" fill="#ffc6b2"/>
<rect x="360.64" y="424.23" width="8.42" height="9.22" fill="#0000ff"/>
<rect x="368.71" y="424.23" width="8.42" height="9.22" fill="#bc97ff"/>
<rect x="377.78" y="424.23" width="8.42" height="9.22" fill="#ff2913"/>
<rect x="385.85" y="424.23" width="8.42" height="9.22" fill="#d4b9ff"/>
<rect x="393.93" y="424.23" width="8.42" height="9.22" fill="#ff2913"/>
<rect x="311.20" y="392.50" width="48.44" height="4.00" fill="#608b87"/>
<rect x="360.64" y="392.50" width="16.15" height="4.00" fill="#009acd"/>
<rect x="377.78" y="392.50" width="24.22" height="4.00" fill="#ab82ff"/>
<rect x="311.50" y="374.50" width="47.84" height="16.90" fill="#fff" stroke="#8c8c8c" stroke-width="0.7"/>
<rect x="360.94" y="374.50" width="15.55" height="16.90" fill="#fff" stroke="#8c8c8c" stroke-width="0.7"/>
<rect x="378.08" y="374.50" width="23.62" height="16.90" fill="#fff" stroke="#8c8c8c" stroke-width="0.7"/>
<rect x="312.01" y="384.95" width="6.46" height="1.30" fill="#858585" stroke="#5c5c5c" stroke-width="0.35"/>
<rect x="320.08" y="385.60" width="6.46" height="4.28" fill="#858585" stroke="#5c5c5c" stroke-width="0.35"/>
<rect x="328.15" y="384.95" width="6.46" height="1.30" fill="#858585" stroke="#5c5c5c" stroke-width="0.35"/>
<rect x="336.23" y="385.60" width="6.46" height="3.32" fill="#858585" stroke="#5c5c5c" stroke-width="0.35"/>
<rect x="344.30" y="385.60" width="6.46" height="5.20" fill="#858585" stroke="#5c5c5c" stroke-width="0.35"/>
<rect x="352.37" y="379.43" width="6.46" height="6.18" fill="#858585" stroke="#5c5c5c" stroke-width="0.35"/>
<rect x="361.44" y="385.60" width="6.46" height="5.20" fill="#858585" stroke="#5c5c5c" stroke-width="0.35"/>
<rect x="369.52" y="385.60" width="6.46" height="2.38" fill="#858585" stroke="#5c5c5c" stroke-width="0.35"/>
<rect x="378.59" y="376.10" width="6.46" height="9.50" fill="#858585" stroke="#5c5c5c" stroke-width="0.35"/>
<rect x="386.66" y="385.60" width="6.46" height="1.90" fill="#858585" stroke="#5c5c5c" stroke-width="0.35"/>
<rect x="394.73" y="376.10" width="6.46" height="9.50" fill="#858585" stroke="#5c5c5c" stroke-width="0.35"/>
<line x1="311.50" y1="374.50" x2="311.50" y2="391.40" stroke="#333" stroke-width="0.7"/>
<line x1="310.60" y1="376.10" x2="311.50" y2="376.10" stroke="#333" stroke-width="0.4"/>
<text x="310.30" y="377.10" font-size="2.9" text-anchor="end" fill="#444">1</text>
<line x1="310.60" y1="380.85" x2="311.50" y2="380.85" stroke="#333" stroke-width="0.4"/>
<text x="310.30" y="381.85" font-size="2.9" text-anchor="end" fill="#444">0.5</text>
<line x1="310.60" y1="385.60" x2="311.50" y2="385.60" stroke="#333" stroke-width="0.4"/>
<text x="310.30" y="386.60" font-size="2.9" text-anchor="end" fill="#444">0</text>
<line x1="310.60" y1="390.35" x2="311.50" y2="390.35" stroke="#333" stroke-width="0.4"/>
<text x="310.30" y="391.35" font-size="2.9" text-anchor="end" fill="#444">-0.5</text>
<text x="404.10" y="406.80" font-size="7.6" font-weight="bold">Interferon Alpha</text>
<text x="404.10" y="415.50" font-size="7.6" font-weight="bold">Interferon Gamma</text>
<text x="404.10" y="424.30" font-size="7.6" font-weight="bold">Inflammation</text>
<text x="404.10" y="432.80" font-size="7.6" font-weight="bold">TNFA</text>
<path d="M310.60 402.04H308.10V410.91H310.60" fill="none" stroke="#555" stroke-width="0.6"/>
<path d="M310.60 419.79H308.10V428.66H310.60" fill="none" stroke="#555" stroke-width="0.6"/>
<path d="M308.10 406.48H302.10V424.23H308.10" fill="none" stroke="#555" stroke-width="0.6"/>
<text x="405.30" y="387.50" font-size="7.7" fill="#111">Mean</text>
<text x="405.30" y="397.10" font-size="7.7" fill="#111">Group</text>
<text x="339.72" y="440.50" font-size="7.8" text-anchor="end" fill="#111" transform="rotate(-32 339.72 440.50)">Vehicle</text>
<text x="373.01" y="440.50" font-size="7.8" text-anchor="end" fill="#111" transform="rotate(-32 373.01 440.50)">BLU-222 (50 mg/kg)</text>
<text x="394.19" y="440.50" font-size="7.8" text-anchor="end" fill="#111" transform="rotate(-32 394.19 440.50)">Combo</text>
<text x="359.20" y="370.70" font-size="10.0" text-anchor="middle" fill="#111">PR1</text>
<text x="279.30" y="378.60" font-size="18.0" font-weight="bold">E</text>
<rect x="485.10" y="399.50" width="6.64" height="8.27" fill="#0000ff"/>
<rect x="491.39" y="399.50" width="6.64" height="8.27" fill="#bc97ff"/>
<rect x="497.68" y="399.50" width="6.64" height="8.27" fill="#6239ff"/>
<rect x="503.97" y="399.50" width="6.64" height="8.27" fill="#ff9475"/>
<rect x="511.26" y="399.50" width="6.64" height="8.27" fill="#ffe8e0"/>
<rect x="517.55" y="399.50" width="6.64" height="8.27" fill="#ffece5"/>
<rect x="523.84" y="399.50" width="6.64" height="8.27" fill="#ffbca6"/>
<rect x="531.13" y="399.50" width="6.64" height="8.27" fill="#ffece5"/>
<rect x="537.42" y="399.50" width="6.64" height="8.27" fill="#ffffff"/>
<rect x="543.71" y="399.50" width="6.64" height="8.27" fill="#9569ff"/>
<rect x="551.00" y="399.50" width="6.64" height="8.27" fill="#ffe2d8"/>
<rect x="557.29" y="399.50" width="6.64" height="8.27" fill="#ffd9cb"/>
<rect x="563.58" y="399.50" width="6.64" height="8.27" fill="#c4a2ff"/>
<rect x="569.87" y="399.50" width="6.64" height="8.27" fill="#fff5f2"/>
<rect x="576.16" y="399.50" width="6.64" height="8.27" fill="#ff7352"/>
<rect x="582.45" y="399.50" width="6.64" height="8.27" fill="#d4b9ff"/>
<rect x="589.74" y="399.50" width="6.64" height="8.27" fill="#ffe2d8"/>
<rect x="596.03" y="399.50" width="6.64" height="8.27" fill="#fff5f2"/>
<rect x="602.32" y="399.50" width="6.64" height="8.27" fill="#ff5b3a"/>
<rect x="608.61" y="399.50" width="6.64" height="8.27" fill="#ffffff"/>
<rect x="485.10" y="407.43" width="6.64" height="8.27" fill="#381bff"/>
<rect x="491.39" y="407.43" width="6.64" height="8.27" fill="#b38bff"/>
<rect x="497.68" y="407.43" width="6.64" height="8.27" fill="#7145ff"/>
<rect x="503.97" y="407.43" width="6.64" height="8.27" fill="#ff9475"/>
<rect x="511.26" y="407.43" width="6.64" height="8.27" fill="#ffece5"/>
<rect x="517.55" y="407.43" width="6.64" height="8.27" fill="#ffe2d8"/>
<rect x="523.84" y="407.43" width="6.64" height="8.27" fill="#ffb299"/>
<rect x="531.13" y="407.43" width="6.64" height="8.27" fill="#fff5f2"/>
<rect x="537.42" y="407.43" width="6.64" height="8.27" fill="#dcc4ff"/>
<rect x="543.71" y="407.43" width="6.64" height="8.27" fill="#6239ff"/>
<rect x="551.00" y="407.43" width="6.64" height="8.27" fill="#ffbca6"/>
<rect x="557.29" y="407.43" width="6.64" height="8.27" fill="#ffc6b2"/>
<rect x="563.58" y="407.43" width="6.64" height="8.27" fill="#ccadff"/>
<rect x="569.87" y="407.43" width="6.64" height="8.27" fill="#ebdcff"/>
<rect x="576.16" y="407.43" width="6.64" height="8.27" fill="#ff7352"/>
<rect x="582.45" y="407.43" width="6.64" height="8.27" fill="#dcc4ff"/>
<rect x="589.74" y="407.43" width="6.64" height="8.27" fill="#ffb299"/>
<rect x="596.03" y="407.43" width="6.64" height="8.27" fill="#fff5f2"/>
<rect x="602.32" y="407.43" width="6.64" height="8.27" fill="#ff6846"/>
<rect x="608.61" y="407.43" width="6.64" height="8.27" fill="#ffffff"/>
<rect x="485.10" y="415.35" width="6.64" height="8.27" fill="#502bff"/>
<rect x="491.39" y="415.35" width="6.64" height="8.27" fill="#c4a2ff"/>
<rect x="497.68" y="415.35" width="6.64" height="8.27" fill="#7e52ff"/>
<rect x="503.97" y="415.35" width="6.64" height="8.27" fill="#ff9e81"/>
<rect x="511.26" y="415.35" width="6.64" height="8.27" fill="#ffcfbf"/>
<rect x="517.55" y="415.35" width="6.64" height="8.27" fill="#ffcfbf"/>
<rect x="523.84" y="415.35" width="6.64" height="8.27" fill="#ffc6b2"/>
<rect x="531.13" y="415.35" width="6.64" height="8.27" fill="#f2e7ff"/>
<rect x="537.42" y="415.35" width="6.64" height="8.27" fill="#a074ff"/>
<rect x="543.71" y="415.35" width="6.64" height="8.27" fill="#0000ff"/>
<rect x="551.00" y="415.35" width="6.64" height="8.27" fill="#ffc6b2"/>
<rect x="557.29" y="415.35" width="6.64" height="8.27" fill="#ffe2d8"/>
<rect x="563.58" y="415.35" width="6.64" height="8.27" fill="#dcc4ff"/>
<rect x="569.87" y="415.35" width="6.64" height="8.27" fill="#f8f3ff"/>
<rect x="576.16" y="415.35" width="6.64" height="8.27" fill="#ff7352"/>
<rect x="582.45" y="415.35" width="6.64" height="8.27" fill="#e3d0ff"/>
<rect x="589.74" y="415.35" width="6.64" height="8.27" fill="#ffc6b2"/>
<rect x="596.03" y="415.35" width="6.64" height="8.27" fill="#ffece5"/>
<rect x="602.32" y="415.35" width="6.64" height="8.27" fill="#ff7e5e"/>
<rect x="608.61" y="415.35" width="6.64" height="8.27" fill="#ffffff"/>
<rect x="485.10" y="423.27" width="6.64" height="8.27" fill="#502bff"/>
<rect x="491.39" y="423.27" width="6.64" height="8.27" fill="#dcc4ff"/>
<rect x="497.68" y="423.27" width="6.64" height="8.27" fill="#7145ff"/>
<rect x="503.97" y="423.27" width="6.64" height="8.27" fill="#ff5b3a"/>
<rect x="511.26" y="423.27" width="6.64" height="8.27" fill="#fff5f2"/>
<rect x="517.55" y="423.27" width="6.64" height="8.27" fill="#fff5f2"/>
<rect x="523.84" y="423.27" width="6.64" height="8.27" fill="#ffbca6"/>
<rect x="531.13" y="423.27" width="6.64" height="8.27" fill="#ffc6b2"/>
<rect x="537.42" y="423.27" width="6.64" height="8.27" fill="#ffd9cb"/>
<rect x="543.71" y="423.27" width="6.64" height="8.27" fill="#ccadff"/>
<rect x="551.00" y="423.27" width="6.64" height="8.27" fill="#ffece5"/>
<rect x="557.29" y="423.27" width="6.64" height="8.27" fill="#fff5f2"/>
<rect x="563.58" y="423.27" width="6.64" height="8.27" fill="#ccadff"/>
<rect x="569.87" y="423.27" width="6.64" height="8.27" fill="#ffece5"/>
<rect x="576.16" y="423.27" width="6.64" height="8.27" fill="#ff9e81"/>
<rect x="582.45" y="423.27" width="6.64" height="8.27" fill="#a074ff"/>
<rect x="589.74" y="423.27" width="6.64" height="8.27" fill="#dcc4ff"/>
<rect x="596.03" y="423.27" width="6.64" height="8.27" fill="#f2e7ff"/>
<rect x="602.32" y="423.27" width="6.64" height="8.27" fill="#ff2913"/>
<rect x="608.61" y="423.27" width="6.64" height="8.27" fill="#ffece5"/>
<rect x="485.10" y="395.00" width="25.16" height="3.50" fill="#a9a9a9"/>
<rect x="511.26" y="395.00" width="18.87" height="3.50" fill="#87cefa"/>
<rect x="531.13" y="395.00" width="18.87" height="3.50" fill="#00b2ee"/>
<rect x="551.00" y="395.00" width="37.74" height="3.50" fill="#ffa500"/>
<rect x="589.74" y="395.00" width="25.16" height="3.50" fill="#ab82ff"/>
<rect x="485.40" y="380.30" width="24.56" height="13.50" fill="#fff" stroke="#8c8c8c" stroke-width="0.7"/>
<rect x="511.56" y="380.30" width="18.27" height="13.50" fill="#fff" stroke="#8c8c8c" stroke-width="0.7"/>
<rect x="531.43" y="380.30" width="18.27" height="13.50" fill="#fff" stroke="#8c8c8c" stroke-width="0.7"/>
<rect x="551.30" y="380.30" width="37.14" height="13.50" fill="#fff" stroke="#8c8c8c" stroke-width="0.7"/>
<rect x="590.04" y="380.30" width="24.56" height="13.50" fill="#fff" stroke="#8c8c8c" stroke-width="0.7"/>
<rect x="485.73" y="387.70" width="5.03" height="5.50" fill="#858585" stroke="#5c5c5c" stroke-width="0.35"/>
<rect x="492.02" y="387.70" width="5.03" height="1.75" fill="#858585" stroke="#5c5c5c" stroke-width="0.35"/>
<rect x="498.31" y="387.70" width="5.03" height="4.90" fill="#858585" stroke="#5c5c5c" stroke-width="0.35"/>
<rect x="504.60" y="383.85" width="5.03" height="3.85" fill="#858585" stroke="#5c5c5c" stroke-width="0.35"/>
<rect x="511.89" y="387.05" width="5.03" height="1.30" fill="#858585" stroke="#5c5c5c" stroke-width="0.35"/>
<rect x="518.18" y="387.05" width="5.03" height="1.30" fill="#858585" stroke="#5c5c5c" stroke-width="0.35"/>
<rect x="524.47" y="386.30" width="5.03" height="1.40" fill="#858585" stroke="#5c5c5c" stroke-width="0.35"/>
<rect x="531.76" y="387.05" width="5.03" height="1.30" fill="#858585" stroke="#5c5c5c" stroke-width="0.35"/>
<rect x="538.05" y="387.70" width="5.03" height="1.40" fill="#858585" stroke="#5c5c5c" stroke-width="0.35"/>
<rect x="544.34" y="387.70" width="5.03" height="3.85" fill="#858585" stroke="#5c5c5c" stroke-width="0.35"/>
<rect x="551.63" y="387.05" width="5.03" height="1.30" fill="#858585" stroke="#5c5c5c" stroke-width="0.35"/>
<rect x="557.92" y="387.05" width="5.03" height="1.30" fill="#858585" stroke="#5c5c5c" stroke-width="0.35"/>
<rect x="564.21" y="387.70" width="5.03" height="2.45" fill="#858585" stroke="#5c5c5c" stroke-width="0.35"/>
<rect x="570.50" y="387.05" width="5.03" height="1.30" fill="#858585" stroke="#5c5c5c" stroke-width="0.35"/>
<rect x="576.79" y="383.50" width="5.03" height="4.20" fill="#858585" stroke="#5c5c5c" stroke-width="0.35"/>
<rect x="583.08" y="387.70" width="5.03" height="1.75" fill="#858585" stroke="#5c5c5c" stroke-width="0.35"/>
<rect x="590.37" y="387.05" width="5.03" height="1.30" fill="#858585" stroke="#5c5c5c" stroke-width="0.35"/>
<rect x="596.66" y="387.05" width="5.03" height="1.30" fill="#858585" stroke="#5c5c5c" stroke-width="0.35"/>
<rect x="602.95" y="382.80" width="5.03" height="4.90" fill="#858585" stroke="#5c5c5c" stroke-width="0.35"/>
<rect x="609.24" y="387.05" width="5.03" height="1.30" fill="#858585" stroke="#5c5c5c" stroke-width="0.35"/>
<line x1="485.40" y1="380.30" x2="485.40" y2="393.80" stroke="#333" stroke-width="0.7"/>
<line x1="484.50" y1="384.20" x2="485.40" y2="384.20" stroke="#333" stroke-width="0.4"/>
<text x="484.20" y="385.20" font-size="2.9" text-anchor="end" fill="#444">0.5</text>
<line x1="484.50" y1="387.70" x2="485.40" y2="387.70" stroke="#333" stroke-width="0.4"/>
<text x="484.20" y="388.70" font-size="2.9" text-anchor="end" fill="#444">0</text>
<line x1="484.50" y1="391.20" x2="485.40" y2="391.20" stroke="#333" stroke-width="0.4"/>
<text x="484.20" y="392.20" font-size="2.9" text-anchor="end" fill="#444">-0.5</text>
<text x="616.40" y="407.10" font-size="7.6" font-weight="bold">Interferon Gamma</text>
<text x="616.40" y="415.30" font-size="7.6" font-weight="bold">Inflammation</text>
<text x="616.40" y="424.00" font-size="7.6" font-weight="bold">TNFA</text>
<text x="616.40" y="432.20" font-size="7.6" font-weight="bold">Interferon Alpha</text>
<path d="M484.50 403.46H482.00V411.39H484.50" fill="none" stroke="#555" stroke-width="0.6"/>
<path d="M482.00 407.42H479.50V419.31H484.50" fill="none" stroke="#555" stroke-width="0.6"/>
<path d="M479.50 413.37H477.00V427.24H484.50" fill="none" stroke="#555" stroke-width="0.6"/>
<text x="617.80" y="391.10" font-size="7.7" fill="#111">Mean</text>
<text x="617.80" y="398.90" font-size="7.7" fill="#111">Group</text>
<text x="501.08" y="437.00" font-size="7.8" text-anchor="end" fill="#111" transform="rotate(-32 501.08 437.00)">Vehicle</text>
<text x="524.10" y="437.00" font-size="7.8" text-anchor="end" fill="#111" transform="rotate(-32 524.10 437.00)">BLU-222 (50 mg/kg)</text>
<text x="543.96" y="437.00" font-size="7.8" text-anchor="end" fill="#111" transform="rotate(-32 543.96 437.00)">BLU-222 (100 mg/kg)</text>
<text x="573.27" y="437.00" font-size="7.8" text-anchor="end" fill="#111" transform="rotate(-32 573.27 437.00)">Palbo</text>
<text x="605.72" y="437.00" font-size="7.8" text-anchor="end" fill="#111" transform="rotate(-32 605.72 437.00)">Combo</text>
<text x="549.20" y="376.00" font-size="10.0" text-anchor="middle" fill="#111">PR4</text>
<text x="463.50" y="378.50" font-size="18.0" font-weight="bold">F</text>
<text x="7.20" y="340.50" font-size="18.0" font-weight="bold">G</text>
<text x="89.50" y="352.30" font-size="8.9" text-anchor="middle" fill="#111">XC517: GSEA_Interferon γ</text>
<rect x="27.00" y="359.20" width="108.80" height="109.60" fill="#efefef"/>
<text x="81.40" y="363.40" font-size="3.6" text-anchor="middle" font-weight="bold" fill="#222">Enrichment plot:</text>
<text x="81.40" y="368.40" font-size="3.9" text-anchor="middle" font-weight="bold" fill="#111">HALLMARK_INTERFERON_GAMMA_RESPONSE</text>
<rect x="41.30" y="370.40" width="89.10" height="38.20" fill="#fff" stroke="#bbb" stroke-width="0.4"/>
<line x1="41.3" y1="375.86" x2="130.4" y2="375.86" stroke="#ececec" stroke-width="0.4"/>
<line x1="41.3" y1="381.31" x2="130.4" y2="381.31" stroke="#ececec" stroke-width="0.4"/>
<line x1="41.3" y1="386.77" x2="130.4" y2="386.77" stroke="#ececec" stroke-width="0.4"/>
<line x1="41.3" y1="392.23" x2="130.4" y2="392.23" stroke="#ececec" stroke-width="0.4"/>
<line x1="41.3" y1="397.69" x2="130.4" y2="397.69" stroke="#ececec" stroke-width="0.4"/>
<line x1="41.3" y1="403.14" x2="130.4" y2="403.14" stroke="#ececec" stroke-width="0.4"/>
<line x1="51.20" y1="370.4" x2="51.20" y2="453.7" stroke="#ececec" stroke-width="0.4"/>
<line x1="61.10" y1="370.4" x2="61.10" y2="453.7" stroke="#ececec" stroke-width="0.4"/>
<line x1="71.00" y1="370.4" x2="71.00" y2="453.7" stroke="#ececec" stroke-width="0.4"/>
<line x1="80.90" y1="370.4" x2="80.90" y2="453.7" stroke="#ececec" stroke-width="0.4"/>
<line x1="90.80" y1="370.4" x2="90.80" y2="453.7" stroke="#ececec" stroke-width="0.4"/>
<line x1="100.70" y1="370.4" x2="100.70" y2="453.7" stroke="#ececec" stroke-width="0.4"/>
<line x1="110.60" y1="370.4" x2="110.60" y2="453.7" stroke="#ececec" stroke-width="0.4"/>
<line x1="120.50" y1="370.4" x2="120.50" y2="453.7" stroke="#ececec" stroke-width="0.4"/>
<polyline points="41.30,408.40 41.62,405.69 41.95,403.54 42.27,400.92 42.60,398.70 43.23,396.85 43.85,394.42 44.48,392.49 45.10,391.44 46.38,389.61 47.65,388.33 48.93,387.85 50.20,386.07 51.45,385.59 52.70,384.38 53.95,383.69 55.20,382.35 56.05,381.78 56.90,380.97 57.75,379.57 58.60,378.74 59.65,378.05 60.70,376.81 61.75,376.88 62.80,376.09 63.62,376.00 64.45,375.93 65.27,376.97 66.10,376.77 67.15,376.59 68.20,376.33 69.25,375.74 70.30,375.52 71.58,374.67 72.85,374.75 74.12,374.07 75.40,374.24 76.23,374.93 77.05,374.90 77.88,375.69 78.70,376.52 80.17,377.69 81.65,377.59 83.12,378.20 84.60,378.30 85.15,377.03 85.70,375.44 86.25,373.93 86.80,372.69 88.12,373.53 89.45,374.70 90.77,375.33 92.10,376.43 93.38,377.41 94.65,378.59 95.92,379.32 97.20,379.86 98.25,382.04 99.30,383.61 100.35,385.03 101.40,386.17 102.88,387.36 104.35,387.91 105.83,389.58 107.30,390.37 108.55,391.11 109.80,391.91 111.05,393.73 112.30,394.89 113.55,395.26 114.80,397.25 116.05,398.14 117.30,399.15 118.58,399.92 119.85,401.02 121.12,401.75 122.40,401.54 124.28,403.71 126.15,404.74 128.03,407.02 129.90,408.40" fill="none" stroke="#33e533" stroke-width="1.15" stroke-linejoin="round"/>
<text x="40.10" y="371.30" font-size="2.4" text-anchor="end" fill="#555">0.30</text>
<text x="40.10" y="377.67" font-size="2.4" text-anchor="end" fill="#555">0.25</text>
<text x="40.10" y="384.03" font-size="2.4" text-anchor="end" fill="#555">0.20</text>
<text x="40.10" y="390.40" font-size="2.4" text-anchor="end" fill="#555">0.15</text>
<text x="40.10" y="396.77" font-size="2.4" text-anchor="end" fill="#555">0.10</text>
<text x="40.10" y="403.13" font-size="2.4" text-anchor="end" fill="#555">0.05</text>
<text x="40.10" y="409.50" font-size="2.4" text-anchor="end" fill="#555">0.00</text>
<text x="34.10" y="389.50" font-size="2.6" text-anchor="middle" fill="#555" transform="rotate(-90 34.10 389.50)">Enrichment score (ES)</text>
<rect x="41.30" y="410.90" width="89.10" height="12.90" fill="#fff"/>
<line x1="41.60" y1="410.9" x2="41.60" y2="423.8" stroke="rgb(38,38,38)" stroke-width="0.73"/>
<line x1="42.15" y1="410.9" x2="42.15" y2="423.8" stroke="rgb(20,20,20)" stroke-width="0.68"/>
<line x1="42.71" y1="410.9" x2="42.71" y2="423.8" stroke="rgb(1,1,1)" stroke-width="0.77"/>
<line x1="43.27" y1="410.9" x2="43.27" y2="423.8" stroke="rgb(0,0,0)" stroke-width="0.57"/>
<line x1="43.84" y1="410.9" x2="43.84" y2="423.8" stroke="rgb(46,46,46)" stroke-width="0.80"/>
<line x1="44.39" y1="410.9" x2="44.39" y2="423.8" stroke="rgb(27,27,27)" stroke-width="0.82"/>
<line x1="44.96" y1="410.9" x2="44.96" y2="423.8" stroke="rgb(21,21,21)" stroke-width="0.36"/>
<line x1="45.53" y1="410.9" x2="45.53" y2="423.8" stroke="rgb(25,25,25)" stroke-width="0.47"/>
<line x1="46.09" y1="410.9" x2="46.09" y2="423.8" stroke="rgb(24,24,24)" stroke-width="0.49"/>
<line x1="46.64" y1="410.9" x2="46.64" y2="423.8" stroke="rgb(30,30,30)" stroke-width="0.67"/>
<line x1="47.84" y1="410.9" x2="47.84" y2="423.8" stroke="rgb(18,18,18)" stroke-width="0.71"/>
<line x1="49.06" y1="410.9" x2="49.06" y2="423.8" stroke="rgb(38,38,38)" stroke-width="0.50"/>
<line x1="50.34" y1="410.9" x2="50.34" y2="423.8" stroke="rgb(35,35,35)" stroke-width="0.37"/>
<line x1="50.93" y1="410.9" x2="50.93" y2="423.8" stroke="rgb(25,25,25)" stroke-width="0.44"/>
<line x1="51.56" y1="410.9" x2="51.56" y2="423.8" stroke="rgb(42,42,42)" stroke-width="0.54"/>
<line x1="52.18" y1="410.9" x2="52.18" y2="423.8" stroke="rgb(49,49,49)" stroke-width="0.61"/>
<line x1="52.80" y1="410.9" x2="52.80" y2="423.8" stroke="rgb(1,1,1)" stroke-width="0.37"/>
<line x1="54.14" y1="410.9" x2="54.14" y2="423.8" stroke="rgb(11,11,11)" stroke-width="0.60"/>
<line x1="54.89" y1="410.9" x2="54.89" y2="423.8" stroke="rgb(36,36,36)" stroke-width="0.78"/>
<line x1="55.49" y1="410.9" x2="55.49" y2="423.8" stroke="rgb(65,65,65)" stroke-width="0.64"/>
<line x1="56.14" y1="410.9" x2="56.14" y2="423.8" stroke="rgb(38,38,38)" stroke-width="0.83"/>
<line x1="56.69" y1="410.9" x2="56.69" y2="423.8" stroke="rgb(58,58,58)" stroke-width="0.79"/>
<line x1="57.42" y1="410.9" x2="57.42" y2="423.8" stroke="rgb(37,37,37)" stroke-width="0.63"/>
<line x1="58.08" y1="410.9" x2="58.08" y2="423.8" stroke="rgb(63,63,63)" stroke-width="0.63"/>
<line x1="58.68" y1="410.9" x2="58.68" y2="423.8" stroke="rgb(36,36,36)" stroke-width="0.53"/>
<line x1="59.32" y1="410.9" x2="59.32" y2="423.8" stroke="rgb(46,46,46)" stroke-width="0.66"/>
<line x1="60.00" y1="410.9" x2="60.00" y2="423.8" stroke="rgb(17,17,17)" stroke-width="0.44"/>
<line x1="62.33" y1="410.9" x2="62.33" y2="423.8" stroke="rgb(67,67,67)" stroke-width="0.69"/>
<line x1="62.91" y1="410.9" x2="62.91" y2="423.8" stroke="rgb(1,1,1)" stroke-width="0.73"/>
<line x1="63.54" y1="410.9" x2="63.54" y2="423.8" stroke="rgb(51,51,51)" stroke-width="0.52"/>
<line x1="64.11" y1="410.9" x2="64.11" y2="423.8" stroke="rgb(43,43,43)" stroke-width="0.43"/>
<line x1="64.76" y1="410.9" x2="64.76" y2="423.8" stroke="rgb(38,38,38)" stroke-width="0.51"/>
<line x1="65.49" y1="410.9" x2="65.49" y2="423.8" stroke="rgb(33,33,33)" stroke-width="0.56"/>
<line x1="66.11" y1="410.9" x2="66.11" y2="423.8" stroke="rgb(78,78,78)" stroke-width="0.61"/>
<line x1="66.74" y1="410.9" x2="66.74" y2="423.8" stroke="rgb(71,71,71)" stroke-width="0.36"/>
<line x1="67.30" y1="410.9" x2="67.30" y2="423.8" stroke="rgb(63,63,63)" stroke-width="0.43"/>
<line x1="68.14" y1="410.9" x2="68.14" y2="423.8" stroke="rgb(49,49,49)" stroke-width="0.46"/>
<line x1="69.87" y1="410.9" x2="69.87" y2="423.8" stroke="rgb(60,60,60)" stroke-width="0.55"/>
<line x1="70.68" y1="410.9" x2="70.68" y2="423.8" stroke="rgb(59,59,59)" stroke-width="0.38"/>
<line x1="72.33" y1="410.9" x2="72.33" y2="423.8" stroke="rgb(83,83,83)" stroke-width="0.51"/>
<line x1="74.10" y1="410.9" x2="74.10" y2="423.8" stroke="rgb(0,0,0)" stroke-width="0.79"/>
<line x1="75.72" y1="410.9" x2="75.72" y2="423.8" stroke="rgb(17,17,17)" stroke-width="0.78"/>
<line x1="77.63" y1="410.9" x2="77.63" y2="423.8" stroke="rgb(36,36,36)" stroke-width="0.45"/>
<line x1="78.57" y1="410.9" x2="78.57" y2="423.8" stroke="rgb(20,20,20)" stroke-width="0.40"/>
<line x1="79.51" y1="410.9" x2="79.51" y2="423.8" stroke="rgb(54,54,54)" stroke-width="0.51"/>
<line x1="81.14" y1="410.9" x2="81.14" y2="423.8" stroke="rgb(36,36,36)" stroke-width="0.84"/>
<line x1="82.18" y1="410.9" x2="82.18" y2="423.8" stroke="rgb(24,24,24)" stroke-width="0.69"/>
<line x1="85.06" y1="410.9" x2="85.06" y2="423.8" stroke="rgb(116,116,116)" stroke-width="0.47"/>
<line x1="86.11" y1="410.9" x2="86.11" y2="423.8" stroke="rgb(20,20,20)" stroke-width="0.81"/>
<line x1="88.61" y1="410.9" x2="88.61" y2="423.8" stroke="rgb(36,36,36)" stroke-width="0.78"/>
<line x1="90.83" y1="410.9" x2="90.83" y2="423.8" stroke="rgb(70,70,70)" stroke-width="0.40"/>
<line x1="91.41" y1="410.9" x2="91.41" y2="423.8" stroke="rgb(112,112,112)" stroke-width="0.74"/>
<line x1="92.61" y1="410.9" x2="92.61" y2="423.8" stroke="rgb(80,80,80)" stroke-width="0.74"/>
<line x1="94.20" y1="410.9" x2="94.20" y2="423.8" stroke="rgb(35,35,35)" stroke-width="0.80"/>
<line x1="96.16" y1="410.9" x2="96.16" y2="423.8" stroke="rgb(108,108,108)" stroke-width="0.76"/>
<line x1="97.35" y1="410.9" x2="97.35" y2="423.8" stroke="rgb(123,123,123)" stroke-width="0.37"/>
<line x1="99.03" y1="410.9" x2="99.03" y2="423.8" stroke="rgb(23,23,23)" stroke-width="0.47"/>
<line x1="100.26" y1="410.9" x2="100.26" y2="423.8" stroke="rgb(131,131,131)" stroke-width="0.54"/>
<line x1="102.54" y1="410.9" x2="102.54" y2="423.8" stroke="rgb(70,70,70)" stroke-width="0.40"/>
<line x1="103.72" y1="410.9" x2="103.72" y2="423.8" stroke="rgb(1,1,1)" stroke-width="0.84"/>
<line x1="105.55" y1="410.9" x2="105.55" y2="423.8" stroke="rgb(9,9,9)" stroke-width="0.81"/>
<line x1="107.75" y1="410.9" x2="107.75" y2="423.8" stroke="rgb(96,96,96)" stroke-width="0.84"/>
<line x1="110.12" y1="410.9" x2="110.12" y2="423.8" stroke="rgb(87,87,87)" stroke-width="0.50"/>
<line x1="110.93" y1="410.9" x2="110.93" y2="423.8" stroke="rgb(45,45,45)" stroke-width="0.84"/>
<line x1="114.23" y1="410.9" x2="114.23" y2="423.8" stroke="rgb(54,54,54)" stroke-width="0.51"/>
<line x1="119.11" y1="410.9" x2="119.11" y2="423.8" stroke="rgb(3,3,3)" stroke-width="0.47"/>
<line x1="120.39" y1="410.9" x2="120.39" y2="423.8" stroke="rgb(113,113,113)" stroke-width="0.50"/>
<line x1="123.57" y1="410.9" x2="123.57" y2="423.8" stroke="rgb(92,92,92)" stroke-width="0.75"/>
<line x1="127.82" y1="410.9" x2="127.82" y2="423.8" stroke="rgb(98,98,98)" stroke-width="0.81"/>
<rect x="86.30" y="410.90" width="1.30" height="12.90" fill="#000"/>
<defs><linearGradient id="gbar1" x1="0" y1="0" x2="1" y2="0"><stop offset="0" stop-color="#e0303a"/><stop offset="0.3" stop-color="#f0707a"/><stop offset="0.33" stop-color="#f0a8d8"/><stop offset="0.5" stop-color="#f0b8e0"/><stop offset="0.53" stop-color="#c8c8f4"/><stop offset="0.75" stop-color="#9a9af0"/><stop offset="0.78" stop-color="#6464e6"/><stop offset="1" stop-color="#1414cc"/></linearGradient></defs>
<rect x="41.30" y="423.80" width="89.10" height="3.00" fill="url(#gbar1)"/>
<rect x="41.30" y="426.80" width="89.10" height="26.90" fill="#fff" stroke="#bbb" stroke-width="0.4"/>
<path d="M41.30 441.60 L41.30 429.00 C44.30 437.60 49.30 439.60 63.30 440.80 L110.80 442.20 C120.40 443.10 127.40 444.10 129.90 447.10 L129.90 441.60 Z" fill="#c8c8c8" stroke="#aaa" stroke-width="0.3"/>
<text x="41.70" y="428.70" font-size="2.2" fill="#e03030">na_pos (positively correlated)</text>
<text x="96.54" y="451.50" font-size="2.2" fill="#3030e0">na_neg (negatively correlated)</text>
<text x="85.85" y="440.00" font-size="2.4" text-anchor="middle" fill="#555">Zero cross at 8XXX</text>
<text x="34.10" y="440.25" font-size="2.4" text-anchor="middle" fill="#555" transform="rotate(-90 34.10 440.25)">Ranked list metric (PreRanked)</text>
<text x="41.30" y="456.30" font-size="2.1" text-anchor="middle" fill="#555">0</text>
<text x="52.44" y="456.30" font-size="2.1" text-anchor="middle" fill="#555">2,000</text>
<text x="63.58" y="456.30" font-size="2.1" text-anchor="middle" fill="#555">4,000</text>
<text x="74.71" y="456.30" font-size="2.1" text-anchor="middle" fill="#555">6,000</text>
<text x="85.85" y="456.30" font-size="2.1" text-anchor="middle" fill="#555">8,000</text>
<text x="96.99" y="456.30" font-size="2.1" text-anchor="middle" fill="#555">10,000</text>
<text x="108.12" y="456.30" font-size="2.1" text-anchor="middle" fill="#555">12,000</text>
<text x="119.26" y="456.30" font-size="2.1" text-anchor="middle" fill="#555">14,000</text>
<text x="130.40" y="456.30" font-size="2.1" text-anchor="middle" fill="#555">16,000</text>
<text x="85.85" y="459.70" font-size="2.6" text-anchor="middle" fill="#555">Rank in Ordered Dataset</text>
<rect x="44.41" y="462.80" width="75.07" height="4.60" fill="#fff" stroke="#999" stroke-width="0.4"/>
<line x1="45.408" y1="465.1" x2="48.408" y2="465.1" stroke="#3ee03e" stroke-width="0.8"/>
<text x="49.01" y="466.00" font-size="2.4" fill="#555">Enrichment profile  — Hits      Ranking metric scores</text>
<text x="150.20" y="340.50" font-size="18.0" font-weight="bold">H</text>
<text x="222.50" y="352.30" font-size="8.9" text-anchor="middle" fill="#111">PR4: GSEA_Interferon γ</text>
<rect x="164.20" y="358.00" width="108.80" height="112.00" fill="#efefef"/>
<text x="218.60" y="362.20" font-size="3.6" text-anchor="middle" font-weight="bold" fill="#222">Enrichment plot:</text>
<text x="218.60" y="367.20" font-size="3.9" text-anchor="middle" font-weight="bold" fill="#111">HALLMARK_INTERFERON_GAMMA_RESPONSE</text>
<rect x="176.20" y="369.80" width="91.10" height="38.00" fill="#fff" stroke="#bbb" stroke-width="0.4"/>
<line x1="176.2" y1="375.23" x2="267.3" y2="375.23" stroke="#ececec" stroke-width="0.4"/>
<line x1="176.2" y1="380.66" x2="267.3" y2="380.66" stroke="#ececec" stroke-width="0.4"/>
<line x1="176.2" y1="386.09" x2="267.3" y2="386.09" stroke="#ececec" stroke-width="0.4"/>
<line x1="176.2" y1="391.51" x2="267.3" y2="391.51" stroke="#ececec" stroke-width="0.4"/>
<line x1="176.2" y1="396.94" x2="267.3" y2="396.94" stroke="#ececec" stroke-width="0.4"/>
<line x1="176.2" y1="402.37" x2="267.3" y2="402.37" stroke="#ececec" stroke-width="0.4"/>
<line x1="186.32" y1="369.8" x2="186.32" y2="455.0" stroke="#ececec" stroke-width="0.4"/>
<line x1="196.44" y1="369.8" x2="196.44" y2="455.0" stroke="#ececec" stroke-width="0.4"/>
<line x1="206.57" y1="369.8" x2="206.57" y2="455.0" stroke="#ececec" stroke-width="0.4"/>
<line x1="216.69" y1="369.8" x2="216.69" y2="455.0" stroke="#ececec" stroke-width="0.4"/>
<line x1="226.81" y1="369.8" x2="226.81" y2="455.0" stroke="#ececec" stroke-width="0.4"/>
<line x1="236.93" y1="369.8" x2="236.93" y2="455.0" stroke="#ececec" stroke-width="0.4"/>
<line x1="247.06" y1="369.8" x2="247.06" y2="455.0" stroke="#ececec" stroke-width="0.4"/>
<line x1="257.18" y1="369.8" x2="257.18" y2="455.0" stroke="#ececec" stroke-width="0.4"/>
<polyline points="176.20,407.80 176.77,406.50 177.35,405.19 177.93,403.82 178.50,402.54 179.20,399.96 179.90,397.77 180.60,394.50 181.30,392.57 182.25,391.14 183.20,388.95 184.15,387.30 185.10,384.61 186.28,383.54 187.45,381.90 188.62,380.77 189.80,379.37 191.23,377.79 192.65,376.97 194.07,376.00 195.50,375.62 196.70,375.17 197.90,374.26 199.10,374.60 200.30,373.64 201.48,373.64 202.65,372.68 203.82,372.08 205.00,372.47 205.95,372.43 206.90,373.07 207.85,374.46 208.80,374.97 209.53,374.14 210.25,374.56 210.97,373.89 211.70,373.78 212.88,373.78 214.05,374.99 215.22,375.22 216.40,375.97 217.60,375.77 218.80,375.05 220.00,374.99 221.20,374.67 221.67,375.35 222.15,375.97 222.62,376.90 223.10,377.90 224.28,376.88 225.45,377.13 226.62,376.36 227.80,375.91 228.75,377.47 229.70,378.18 230.65,379.07 231.60,380.28 232.55,381.20 233.50,381.26 234.45,382.88 235.40,382.62 236.82,384.30 238.25,385.34 239.68,385.47 241.10,387.19 242.53,387.97 243.95,389.38 245.38,390.01 246.80,391.25 248.23,392.33 249.65,394.06 251.07,394.25 252.50,395.76 254.15,397.35 255.80,398.79 257.45,399.62 259.10,401.05 261.00,402.77 262.90,404.58 264.80,405.46 266.70,407.40" fill="none" stroke="#33e533" stroke-width="1.15" stroke-linejoin="round"/>
<text x="175.00" y="370.70" font-size="2.4" text-anchor="end" fill="#555">0.30</text>
<text x="175.00" y="377.03" font-size="2.4" text-anchor="end" fill="#555">0.25</text>
<text x="175.00" y="383.37" font-size="2.4" text-anchor="end" fill="#555">0.20</text>
<text x="175.00" y="389.70" font-size="2.4" text-anchor="end" fill="#555">0.15</text>
<text x="175.00" y="396.03" font-size="2.4" text-anchor="end" fill="#555">0.10</text>
<text x="175.00" y="402.37" font-size="2.4" text-anchor="end" fill="#555">0.05</text>
<text x="175.00" y="408.70" font-size="2.4" text-anchor="end" fill="#555">0.00</text>
<text x="169.00" y="388.80" font-size="2.6" text-anchor="middle" fill="#555" transform="rotate(-90 169.00 388.80)">Enrichment score (ES)</text>
<rect x="176.20" y="410.60" width="91.10" height="13.40" fill="#fff"/>
<line x1="177.05" y1="410.6" x2="177.05" y2="424.0" stroke="rgb(3,3,3)" stroke-width="0.77"/>
<line x1="177.61" y1="410.6" x2="177.61" y2="424.0" stroke="rgb(14,14,14)" stroke-width="0.65"/>
<line x1="178.18" y1="410.6" x2="178.18" y2="424.0" stroke="rgb(7,7,7)" stroke-width="0.57"/>
<line x1="178.74" y1="410.6" x2="178.74" y2="424.0" stroke="rgb(48,48,48)" stroke-width="0.82"/>
<line x1="179.31" y1="410.6" x2="179.31" y2="424.0" stroke="rgb(13,13,13)" stroke-width="0.37"/>
<line x1="179.86" y1="410.6" x2="179.86" y2="424.0" stroke="rgb(16,16,16)" stroke-width="0.54"/>
<line x1="180.46" y1="410.6" x2="180.46" y2="424.0" stroke="rgb(29,29,29)" stroke-width="0.47"/>
<line x1="181.01" y1="410.6" x2="181.01" y2="424.0" stroke="rgb(7,7,7)" stroke-width="0.61"/>
<line x1="181.64" y1="410.6" x2="181.64" y2="424.0" stroke="rgb(9,9,9)" stroke-width="0.80"/>
<line x1="182.25" y1="410.6" x2="182.25" y2="424.0" stroke="rgb(49,49,49)" stroke-width="0.73"/>
<line x1="182.88" y1="410.6" x2="182.88" y2="424.0" stroke="rgb(54,54,54)" stroke-width="0.83"/>
<line x1="183.44" y1="410.6" x2="183.44" y2="424.0" stroke="rgb(40,40,40)" stroke-width="0.58"/>
<line x1="184.05" y1="410.6" x2="184.05" y2="424.0" stroke="rgb(53,53,53)" stroke-width="0.60"/>
<line x1="184.70" y1="410.6" x2="184.70" y2="424.0" stroke="rgb(52,52,52)" stroke-width="0.80"/>
<line x1="185.31" y1="410.6" x2="185.31" y2="424.0" stroke="rgb(55,55,55)" stroke-width="0.71"/>
<line x1="185.93" y1="410.6" x2="185.93" y2="424.0" stroke="rgb(19,19,19)" stroke-width="0.70"/>
<line x1="188.38" y1="410.6" x2="188.38" y2="424.0" stroke="rgb(33,33,33)" stroke-width="0.68"/>
<line x1="189.04" y1="410.6" x2="189.04" y2="424.0" stroke="rgb(13,13,13)" stroke-width="0.61"/>
<line x1="189.77" y1="410.6" x2="189.77" y2="424.0" stroke="rgb(5,5,5)" stroke-width="0.76"/>
<line x1="191.06" y1="410.6" x2="191.06" y2="424.0" stroke="rgb(4,4,4)" stroke-width="0.68"/>
<line x1="191.68" y1="410.6" x2="191.68" y2="424.0" stroke="rgb(61,61,61)" stroke-width="0.40"/>
<line x1="192.96" y1="410.6" x2="192.96" y2="424.0" stroke="rgb(63,63,63)" stroke-width="0.56"/>
<line x1="193.70" y1="410.6" x2="193.70" y2="424.0" stroke="rgb(26,26,26)" stroke-width="0.44"/>
<line x1="194.43" y1="410.6" x2="194.43" y2="424.0" stroke="rgb(71,71,71)" stroke-width="0.36"/>
<line x1="195.18" y1="410.6" x2="195.18" y2="424.0" stroke="rgb(19,19,19)" stroke-width="0.76"/>
<line x1="195.78" y1="410.6" x2="195.78" y2="424.0" stroke="rgb(53,53,53)" stroke-width="0.54"/>
<line x1="196.94" y1="410.6" x2="196.94" y2="424.0" stroke="rgb(27,27,27)" stroke-width="0.66"/>
<line x1="197.72" y1="410.6" x2="197.72" y2="424.0" stroke="rgb(27,27,27)" stroke-width="0.37"/>
<line x1="198.42" y1="410.6" x2="198.42" y2="424.0" stroke="rgb(60,60,60)" stroke-width="0.80"/>
<line x1="200.03" y1="410.6" x2="200.03" y2="424.0" stroke="rgb(18,18,18)" stroke-width="0.68"/>
<line x1="200.69" y1="410.6" x2="200.69" y2="424.0" stroke="rgb(38,38,38)" stroke-width="0.79"/>
<line x1="201.29" y1="410.6" x2="201.29" y2="424.0" stroke="rgb(33,33,33)" stroke-width="0.61"/>
<line x1="202.55" y1="410.6" x2="202.55" y2="424.0" stroke="rgb(37,37,37)" stroke-width="0.36"/>
<line x1="203.33" y1="410.6" x2="203.33" y2="424.0" stroke="rgb(5,5,5)" stroke-width="0.37"/>
<line x1="203.94" y1="410.6" x2="203.94" y2="424.0" stroke="rgb(57,57,57)" stroke-width="0.60"/>
<line x1="205.90" y1="410.6" x2="205.90" y2="424.0" stroke="rgb(41,41,41)" stroke-width="0.48"/>
<line x1="206.72" y1="410.6" x2="206.72" y2="424.0" stroke="rgb(76,76,76)" stroke-width="0.70"/>
<line x1="207.39" y1="410.6" x2="207.39" y2="424.0" stroke="rgb(50,50,50)" stroke-width="0.35"/>
<line x1="207.96" y1="410.6" x2="207.96" y2="424.0" stroke="rgb(10,10,10)" stroke-width="0.71"/>
<line x1="208.63" y1="410.6" x2="208.63" y2="424.0" stroke="rgb(17,17,17)" stroke-width="0.47"/>
<line x1="209.28" y1="410.6" x2="209.28" y2="424.0" stroke="rgb(46,46,46)" stroke-width="0.50"/>
<line x1="210.16" y1="410.6" x2="210.16" y2="424.0" stroke="rgb(91,91,91)" stroke-width="0.83"/>
<line x1="211.09" y1="410.6" x2="211.09" y2="424.0" stroke="rgb(52,52,52)" stroke-width="0.64"/>
<line x1="211.67" y1="410.6" x2="211.67" y2="424.0" stroke="rgb(54,54,54)" stroke-width="0.44"/>
<line x1="213.02" y1="410.6" x2="213.02" y2="424.0" stroke="rgb(97,97,97)" stroke-width="0.66"/>
<line x1="214.50" y1="410.6" x2="214.50" y2="424.0" stroke="rgb(74,74,74)" stroke-width="0.40"/>
<line x1="216.19" y1="410.6" x2="216.19" y2="424.0" stroke="rgb(50,50,50)" stroke-width="0.56"/>
<line x1="217.03" y1="410.6" x2="217.03" y2="424.0" stroke="rgb(66,66,66)" stroke-width="0.39"/>
<line x1="217.76" y1="410.6" x2="217.76" y2="424.0" stroke="rgb(106,106,106)" stroke-width="0.39"/>
<line x1="218.79" y1="410.6" x2="218.79" y2="424.0" stroke="rgb(65,65,65)" stroke-width="0.55"/>
<line x1="220.46" y1="410.6" x2="220.46" y2="424.0" stroke="rgb(14,14,14)" stroke-width="0.39"/>
<line x1="225.41" y1="410.6" x2="225.41" y2="424.0" stroke="rgb(57,57,57)" stroke-width="0.75"/>
<line x1="226.16" y1="410.6" x2="226.16" y2="424.0" stroke="rgb(60,60,60)" stroke-width="0.83"/>
<line x1="228.54" y1="410.6" x2="228.54" y2="424.0" stroke="rgb(30,30,30)" stroke-width="0.59"/>
<line x1="229.30" y1="410.6" x2="229.30" y2="424.0" stroke="rgb(89,89,89)" stroke-width="0.81"/>
<line x1="230.95" y1="410.6" x2="230.95" y2="424.0" stroke="rgb(134,134,134)" stroke-width="0.42"/>
<line x1="231.85" y1="410.6" x2="231.85" y2="424.0" stroke="rgb(11,11,11)" stroke-width="0.80"/>
<line x1="233.91" y1="410.6" x2="233.91" y2="424.0" stroke="rgb(32,32,32)" stroke-width="0.69"/>
<line x1="235.07" y1="410.6" x2="235.07" y2="424.0" stroke="rgb(74,74,74)" stroke-width="0.41"/>
<line x1="237.35" y1="410.6" x2="237.35" y2="424.0" stroke="rgb(75,75,75)" stroke-width="0.71"/>
<line x1="244.12" y1="410.6" x2="244.12" y2="424.0" stroke="rgb(80,80,80)" stroke-width="0.59"/>
<line x1="251.40" y1="410.6" x2="251.40" y2="424.0" stroke="rgb(104,104,104)" stroke-width="0.55"/>
<line x1="254.02" y1="410.6" x2="254.02" y2="424.0" stroke="rgb(80,80,80)" stroke-width="0.71"/>
<line x1="257.17" y1="410.6" x2="257.17" y2="424.0" stroke="rgb(168,168,168)" stroke-width="0.71"/>
<line x1="260.15" y1="410.6" x2="260.15" y2="424.0" stroke="rgb(149,149,149)" stroke-width="0.73"/>
<line x1="262.27" y1="410.6" x2="262.27" y2="424.0" stroke="rgb(150,150,150)" stroke-width="0.42"/>
<line x1="265.70" y1="410.6" x2="265.70" y2="424.0" stroke="rgb(185,185,185)" stroke-width="0.39"/>
<rect x="222.21" y="410.60" width="1.30" height="13.40" fill="#000"/>
<defs><linearGradient id="gbar2" x1="0" y1="0" x2="1" y2="0"><stop offset="0" stop-color="#e0303a"/><stop offset="0.3" stop-color="#f0707a"/><stop offset="0.33" stop-color="#f0a8d8"/><stop offset="0.5" stop-color="#f0b8e0"/><stop offset="0.53" stop-color="#c8c8f4"/><stop offset="0.75" stop-color="#9a9af0"/><stop offset="0.78" stop-color="#6464e6"/><stop offset="1" stop-color="#1414cc"/></linearGradient></defs>
<rect x="176.20" y="424.00" width="91.10" height="3.00" fill="url(#gbar2)"/>
<rect x="176.20" y="427.00" width="91.10" height="28.00" fill="#fff" stroke="#bbb" stroke-width="0.4"/>
<path d="M176.20 442.40 L176.20 429.20 C179.20 438.40 184.20 440.40 198.20 441.60 L247.26 443.00 C257.30 443.90 264.30 444.90 266.80 447.90 L266.80 442.40 Z" fill="#c8c8c8" stroke="#aaa" stroke-width="0.3"/>
<text x="176.60" y="428.90" font-size="2.2" fill="#e03030">na_pos (positively correlated)</text>
<text x="232.68" y="452.80" font-size="2.2" fill="#3030e0">na_neg (negatively correlated)</text>
<text x="221.75" y="440.80" font-size="2.4" text-anchor="middle" fill="#555">Zero cross at 8XXX</text>
<text x="169.00" y="441.00" font-size="2.4" text-anchor="middle" fill="#555" transform="rotate(-90 169.00 441.00)">Ranked list metric (PreRanked)</text>
<text x="176.20" y="457.60" font-size="2.1" text-anchor="middle" fill="#555">0</text>
<text x="187.59" y="457.60" font-size="2.1" text-anchor="middle" fill="#555">2,000</text>
<text x="198.97" y="457.60" font-size="2.1" text-anchor="middle" fill="#555">4,000</text>
<text x="210.36" y="457.60" font-size="2.1" text-anchor="middle" fill="#555">6,000</text>
<text x="221.75" y="457.60" font-size="2.1" text-anchor="middle" fill="#555">8,000</text>
<text x="233.14" y="457.60" font-size="2.1" text-anchor="middle" fill="#555">10,000</text>
<text x="244.53" y="457.60" font-size="2.1" text-anchor="middle" fill="#555">12,000</text>
<text x="255.91" y="457.60" font-size="2.1" text-anchor="middle" fill="#555">14,000</text>
<text x="267.30" y="457.60" font-size="2.1" text-anchor="middle" fill="#555">16,000</text>
<text x="221.75" y="461.00" font-size="2.6" text-anchor="middle" fill="#555">Rank in Ordered Dataset</text>
<rect x="181.61" y="464.00" width="75.07" height="4.60" fill="#fff" stroke="#999" stroke-width="0.4"/>
<line x1="182.608" y1="466.3" x2="185.608" y2="466.3" stroke="#3ee03e" stroke-width="0.8"/>
<text x="186.21" y="467.20" font-size="2.4" fill="#555">Enrichment profile  — Hits      Ranking metric scores</text>
<rect x="43.20" y="509.60" width="30.70" height="7.10" fill="#ffa000"/>
<rect x="75.90" y="509.60" width="31.30" height="7.10" fill="#0096c8"/>
<rect x="108.90" y="509.60" width="78.00" height="7.10" fill="#9370db"/>
<path fill="#d7beff" d="M43.2 517.90h15.65v2.02h-15.65zM43.2 542.65h15.65v3.79h-15.65zM43.2 553.26h15.65v2.02h-15.65zM43.2 565.64h15.65v2.02h-15.65zM43.2 572.71h15.65v2.02h-15.65zM43.2 579.78h15.65v2.02h-15.65zM43.2 597.46h15.65v2.02h-15.65zM43.2 613.37h15.65v2.02h-15.65zM43.2 616.91h15.65v3.79h-15.65zM43.2 652.27h15.65v2.02h-15.65zM43.2 668.18h15.65v2.02h-15.65zM43.2 682.33h15.65v3.79h-15.65zM58.6 547.96h15.65v2.02h-15.65zM58.6 567.41h15.65v2.02h-15.65zM58.6 572.71h15.65v2.02h-15.65zM58.6 581.55h15.65v2.02h-15.65zM58.6 586.85h15.65v2.02h-15.65zM58.6 609.84h15.65v2.02h-15.65zM58.6 618.68h15.65v2.02h-15.65zM58.6 652.27h15.65v2.02h-15.65zM75.9 526.74h15.95v2.02h-15.95zM75.9 618.68h15.95v2.02h-15.95zM75.9 678.79h15.95v3.79h-15.95zM75.9 684.10h15.95v2.02h-15.95zM91.6 563.87h15.95v2.02h-15.95zM91.6 570.94h15.95v2.02h-15.95zM91.6 654.04h15.95v2.02h-15.95zM91.6 662.88h15.95v2.02h-15.95zM91.6 668.18h15.95v2.02h-15.95zM108.9 618.68h15.90v2.02h-15.90zM108.9 622.21h15.90v3.79h-15.90zM108.9 645.20h15.90v2.02h-15.90zM124.5 662.88h15.90v2.02h-15.90zM140.1 567.41h15.90v2.02h-15.90zM140.1 666.42h15.90v2.02h-15.90zM140.1 675.26h15.90v2.02h-15.90zM140.1 678.79h15.90v2.02h-15.90zM140.1 685.86h15.90v2.02h-15.90zM171.3 558.56h15.90v2.02h-15.90zM171.3 567.41h15.90v2.02h-15.90zM171.3 570.94h15.90v2.02h-15.90zM171.3 588.62h15.90v2.02h-15.90zM171.3 593.93h15.90v2.02h-15.90zM171.3 597.46h15.90v2.02h-15.90zM171.3 620.45h15.90v2.02h-15.90zM171.3 634.59h15.90v2.02h-15.90zM171.3 657.58h15.90v2.02h-15.90zM171.3 661.11h15.90v2.02h-15.90z"/>
<path fill="#e3d0ff" d="M43.2 519.67h15.65v2.02h-15.65zM43.2 526.74h15.65v2.02h-15.65zM43.2 567.41h15.65v2.02h-15.65zM43.2 570.94h15.65v2.02h-15.65zM43.2 574.48h15.65v2.02h-15.65zM43.2 592.16h15.65v2.02h-15.65zM43.2 666.42h15.65v2.02h-15.65zM43.2 671.72h15.65v3.79h-15.65zM43.2 677.02h15.65v2.02h-15.65zM43.2 685.86h15.65v2.02h-15.65zM58.6 606.30h15.65v3.79h-15.65zM58.6 611.61h15.65v2.02h-15.65zM58.6 636.36h15.65v2.02h-15.65zM58.6 639.89h15.65v2.02h-15.65zM58.6 643.43h15.65v2.02h-15.65zM58.6 671.72h15.65v2.02h-15.65zM75.9 523.20h15.95v2.02h-15.95zM75.9 537.35h15.95v2.02h-15.95zM75.9 602.77h15.95v2.02h-15.95zM75.9 606.30h15.95v2.02h-15.95zM75.9 682.33h15.95v2.02h-15.95zM91.6 572.71h15.95v2.02h-15.95zM91.6 622.21h15.95v2.02h-15.95zM91.6 643.43h15.95v3.79h-15.95zM91.6 666.42h15.95v2.02h-15.95zM91.6 669.95h15.95v3.79h-15.95zM108.9 608.07h15.90v2.02h-15.90zM108.9 611.61h15.90v2.02h-15.90zM124.5 602.77h15.90v5.55h-15.90zM124.5 634.59h15.90v2.02h-15.90zM124.5 666.42h15.90v2.02h-15.90zM124.5 671.72h15.90v2.02h-15.90zM124.5 678.79h15.90v2.02h-15.90zM140.1 537.35h15.90v2.02h-15.90zM140.1 570.94h15.90v3.79h-15.90zM140.1 613.37h15.90v2.02h-15.90zM140.1 625.75h15.90v2.02h-15.90zM140.1 636.36h15.90v2.02h-15.90zM140.1 669.95h15.90v5.55h-15.90zM140.1 682.33h15.90v2.02h-15.90zM155.7 524.97h15.90v2.02h-15.90zM155.7 535.58h15.90v2.02h-15.90zM155.7 569.17h15.90v2.02h-15.90zM155.7 659.34h15.90v2.02h-15.90zM171.3 578.01h15.90v3.79h-15.90zM171.3 583.32h15.90v2.02h-15.90zM171.3 599.23h15.90v2.02h-15.90zM171.3 659.34h15.90v2.02h-15.90z"/>
<path fill="#e9d9ff" d="M43.2 521.44h15.65v5.55h-15.65zM43.2 549.72h15.65v2.02h-15.65zM43.2 593.93h15.65v2.02h-15.65zM43.2 601.00h15.65v2.02h-15.65zM43.2 608.07h15.65v2.02h-15.65zM43.2 631.05h15.65v2.02h-15.65zM43.2 654.04h15.65v2.02h-15.65zM43.2 675.26h15.65v2.02h-15.65zM43.2 687.63h15.65v2.02h-15.65zM58.6 616.91h15.65v2.02h-15.65zM58.6 654.04h15.65v3.79h-15.65zM58.6 673.49h15.65v2.02h-15.65zM75.9 535.58h15.95v2.02h-15.95zM75.9 540.88h15.95v2.02h-15.95zM75.9 629.29h15.95v3.79h-15.95zM91.6 623.98h15.95v2.02h-15.95zM91.6 639.89h15.95v2.02h-15.95zM91.6 646.97h15.95v2.02h-15.95zM108.9 643.43h15.90v2.02h-15.90zM124.5 636.36h15.90v2.02h-15.90zM124.5 659.34h15.90v2.02h-15.90zM140.1 539.12h15.90v3.79h-15.90zM140.1 569.17h15.90v2.02h-15.90zM140.1 604.53h15.90v5.55h-15.90zM140.1 616.91h15.90v2.02h-15.90zM140.1 634.59h15.90v2.02h-15.90zM140.1 687.63h15.90v2.02h-15.90zM155.7 523.20h15.90v2.02h-15.90zM155.7 537.35h15.90v2.02h-15.90zM155.7 572.71h15.90v2.02h-15.90zM155.7 602.77h15.90v3.79h-15.90zM155.7 638.13h15.90v2.02h-15.90zM155.7 645.20h15.90v2.02h-15.90zM171.3 590.39h15.90v2.02h-15.90z"/>
<path fill="#efe3ff" d="M43.2 528.51h15.65v2.02h-15.65zM43.2 606.30h15.65v2.02h-15.65zM43.2 655.81h15.65v2.02h-15.65zM58.6 540.88h15.65v2.02h-15.65zM75.9 539.12h15.95v2.02h-15.95zM75.9 604.53h15.95v2.02h-15.95zM91.6 616.91h15.95v2.02h-15.95zM91.6 620.45h15.95v2.02h-15.95zM91.6 641.66h15.95v2.02h-15.95zM124.5 601.00h15.90v2.02h-15.90zM124.5 657.58h15.90v2.02h-15.90zM140.1 609.84h15.90v2.02h-15.90zM140.1 662.88h15.90v2.02h-15.90zM140.1 680.56h15.90v2.02h-15.90zM155.7 570.94h15.90v2.02h-15.90zM155.7 643.43h15.90v2.02h-15.90zM155.7 646.97h15.90v12.63h-15.90zM171.3 629.29h15.90v2.02h-15.90z"/>
<path fill="#5731ff" d="M43.2 530.28h15.65v2.02h-15.65zM58.6 528.51h15.65v3.79h-15.65zM58.6 565.64h15.65v2.02h-15.65zM171.3 631.05h15.90v3.79h-15.90z"/>
<path fill="#653bff" d="M43.2 532.04h15.65v3.79h-15.65z"/>
<path fill="#dec7ff" d="M43.2 535.58h15.65v2.02h-15.65zM43.2 539.12h15.65v2.02h-15.65zM43.2 551.49h15.65v2.02h-15.65zM43.2 576.25h15.65v2.02h-15.65zM43.2 586.85h15.65v2.02h-15.65zM43.2 599.23h15.65v2.02h-15.65zM43.2 611.61h15.65v2.02h-15.65zM43.2 669.95h15.65v2.02h-15.65zM43.2 678.79h15.65v2.02h-15.65zM58.6 539.12h15.65v2.02h-15.65zM58.6 613.37h15.65v3.79h-15.65zM75.9 524.97h15.95v2.02h-15.95zM75.9 528.51h15.95v3.79h-15.95zM75.9 533.81h15.95v2.02h-15.95zM91.6 558.56h15.95v2.02h-15.95zM91.6 562.10h15.95v2.02h-15.95zM91.6 565.64h15.95v2.02h-15.95zM91.6 655.81h15.95v3.79h-15.95zM91.6 661.11h15.95v2.02h-15.95zM91.6 664.65h15.95v2.02h-15.95zM91.6 673.49h15.95v2.02h-15.95zM108.9 615.14h15.90v2.02h-15.90zM108.9 620.45h15.90v2.02h-15.90zM124.5 608.07h15.90v2.02h-15.90zM124.5 677.02h15.90v2.02h-15.90zM124.5 684.10h15.90v2.02h-15.90zM140.1 544.42h15.90v2.02h-15.90zM140.1 583.32h15.90v5.55h-15.90zM140.1 611.61h15.90v2.02h-15.90zM140.1 615.14h15.90v2.02h-15.90zM140.1 623.98h15.90v2.02h-15.90zM140.1 627.52h15.90v2.02h-15.90zM140.1 664.65h15.90v2.02h-15.90zM140.1 668.18h15.90v2.02h-15.90zM140.1 677.02h15.90v2.02h-15.90zM140.1 684.10h15.90v2.02h-15.90zM155.7 639.89h15.90v3.79h-15.90zM171.3 533.81h15.90v2.02h-15.90zM171.3 565.64h15.90v2.02h-15.90zM171.3 585.09h15.90v2.02h-15.90zM171.3 595.69h15.90v2.02h-15.90zM171.3 618.68h15.90v2.02h-15.90zM171.3 622.21h15.90v2.02h-15.90zM171.3 638.13h15.90v2.02h-15.90zM171.3 643.43h15.90v2.02h-15.90z"/>
<path fill="#d1b4ff" d="M43.2 537.35h15.65v2.02h-15.65zM43.2 563.87h15.65v2.02h-15.65zM43.2 585.09h15.65v2.02h-15.65zM43.2 595.69h15.65v2.02h-15.65zM43.2 664.65h15.65v2.02h-15.65zM43.2 680.56h15.65v2.02h-15.65zM58.6 569.17h15.65v3.79h-15.65zM58.6 578.01h15.65v3.79h-15.65zM58.6 585.09h15.65v2.02h-15.65zM58.6 588.62h15.65v2.02h-15.65zM58.6 602.77h15.65v3.79h-15.65zM58.6 634.59h15.65v2.02h-15.65zM58.6 641.66h15.65v2.02h-15.65zM75.9 620.45h15.95v2.02h-15.95zM75.9 632.82h15.95v2.02h-15.95zM75.9 673.49h15.95v5.55h-15.95zM75.9 685.86h15.95v3.79h-15.95zM91.6 560.33h15.95v2.02h-15.95zM91.6 569.17h15.95v2.02h-15.95zM91.6 652.27h15.95v2.02h-15.95zM108.9 609.84h15.90v2.02h-15.90zM108.9 655.81h15.90v3.79h-15.90zM124.5 664.65h15.90v2.02h-15.90zM124.5 673.49h15.90v2.02h-15.90zM124.5 680.56h15.90v2.02h-15.90zM124.5 685.86h15.90v2.02h-15.90zM140.1 629.29h15.90v2.02h-15.90zM171.3 556.80h15.90v2.02h-15.90zM171.3 563.87h15.90v2.02h-15.90zM171.3 581.55h15.90v2.02h-15.90zM171.3 592.16h15.90v2.02h-15.90zM171.3 601.00h15.90v2.02h-15.90zM171.3 639.89h15.90v3.79h-15.90zM171.3 650.50h15.90v3.79h-15.90zM171.3 662.88h15.90v2.02h-15.90z"/>
<path fill="#cbabff" d="M43.2 540.88h15.65v2.02h-15.65zM43.2 562.10h15.65v2.02h-15.65zM43.2 569.17h15.65v2.02h-15.65zM43.2 578.01h15.65v2.02h-15.65zM43.2 581.55h15.65v2.02h-15.65zM43.2 615.14h15.65v2.02h-15.65zM58.6 549.72h15.65v3.79h-15.65zM58.6 555.03h15.65v2.02h-15.65zM58.6 623.98h15.65v2.02h-15.65zM75.9 532.04h15.95v2.02h-15.95zM75.9 622.21h15.95v2.02h-15.95zM91.6 567.41h15.95v2.02h-15.95zM108.9 613.37h15.90v2.02h-15.90zM124.5 668.18h15.90v3.79h-15.90zM124.5 682.33h15.90v2.02h-15.90zM124.5 687.63h15.90v2.02h-15.90zM171.3 532.04h15.90v2.02h-15.90zM171.3 535.58h15.90v2.02h-15.90zM171.3 560.33h15.90v2.02h-15.90zM171.3 572.71h15.90v2.02h-15.90zM171.3 586.85h15.90v2.02h-15.90zM171.3 623.98h15.90v3.79h-15.90zM171.3 636.36h15.90v2.02h-15.90zM171.3 648.74h15.90v2.02h-15.90zM171.3 654.04h15.90v3.79h-15.90z"/>
<path fill="#c4a2ff" d="M43.2 546.19h15.65v3.79h-15.65zM43.2 583.32h15.65v2.02h-15.65zM58.6 532.04h15.65v5.55h-15.65zM58.6 544.42h15.65v2.02h-15.65zM58.6 553.26h15.65v2.02h-15.65zM58.6 556.80h15.65v2.02h-15.65zM58.6 560.33h15.65v2.02h-15.65zM58.6 583.32h15.65v2.02h-15.65zM58.6 590.39h15.65v2.02h-15.65zM58.6 595.69h15.65v2.02h-15.65zM58.6 625.75h15.65v3.79h-15.65zM108.9 616.91h15.90v2.02h-15.90zM108.9 652.27h15.90v2.02h-15.90zM124.5 661.11h15.90v2.02h-15.90zM124.5 675.26h15.90v2.02h-15.90zM171.3 562.10h15.90v2.02h-15.90zM171.3 569.17h15.90v2.02h-15.90zM171.3 627.52h15.90v2.02h-15.90zM171.3 664.65h15.90v2.02h-15.90z"/>
<path fill="#3117ff" d="M43.2 555.03h15.65v7.32h-15.65zM43.2 620.45h15.65v3.79h-15.65zM58.6 620.45h15.65v3.79h-15.65zM75.9 648.74h15.95v3.79h-15.95zM91.6 648.74h15.95v3.79h-15.95zM171.3 574.48h15.90v3.79h-15.90z"/>
<path fill="#ffbaa3" d="M43.2 588.62h15.65v2.02h-15.65zM43.2 609.84h15.65v2.02h-15.65zM58.6 657.58h15.65v2.02h-15.65zM75.9 574.48h15.95v2.02h-15.95zM75.9 627.52h15.95v2.02h-15.95zM75.9 641.66h15.95v2.02h-15.95zM91.6 613.37h15.95v3.79h-15.95zM108.9 579.78h15.90v2.02h-15.90zM124.5 549.72h15.90v2.02h-15.90zM124.5 579.78h15.90v2.02h-15.90zM124.5 583.32h15.90v3.79h-15.90zM124.5 592.16h15.90v2.02h-15.90zM140.1 542.65h15.90v2.02h-15.90zM140.1 599.23h15.90v2.02h-15.90zM155.7 530.28h15.90v2.02h-15.90z"/>
<path fill="#ffc9b7" d="M43.2 590.39h15.65v2.02h-15.65zM43.2 625.75h15.65v2.02h-15.65zM43.2 632.82h15.65v3.79h-15.65zM43.2 639.89h15.65v3.79h-15.65zM58.6 521.44h15.65v3.79h-15.65zM58.6 659.34h15.65v2.02h-15.65zM58.6 680.56h15.65v2.02h-15.65zM58.6 684.10h15.65v2.02h-15.65zM75.9 547.96h15.95v2.02h-15.95zM75.9 570.94h15.95v2.02h-15.95zM75.9 581.55h15.95v2.02h-15.95zM75.9 597.46h15.95v3.79h-15.95zM75.9 609.84h15.95v2.02h-15.95zM75.9 643.43h15.95v2.02h-15.95zM75.9 654.04h15.95v2.02h-15.95zM91.6 517.90h15.95v2.02h-15.95zM91.6 533.81h15.95v3.79h-15.95zM91.6 542.65h15.95v2.02h-15.95zM91.6 583.32h15.95v5.55h-15.95zM91.6 608.07h15.95v2.02h-15.95zM91.6 625.75h15.95v2.02h-15.95zM91.6 632.82h15.95v2.02h-15.95zM91.6 675.26h15.95v2.02h-15.95zM91.6 678.79h15.95v2.02h-15.95zM91.6 684.10h15.95v2.02h-15.95zM108.9 523.20h15.90v2.02h-15.90zM108.9 551.49h15.90v3.79h-15.90zM108.9 650.50h15.90v2.02h-15.90zM108.9 673.49h15.90v2.02h-15.90zM108.9 684.10h15.90v3.79h-15.90zM124.5 532.04h15.90v2.02h-15.90zM124.5 537.35h15.90v2.02h-15.90zM124.5 540.88h15.90v2.02h-15.90zM124.5 544.42h15.90v5.55h-15.90zM124.5 615.14h15.90v2.02h-15.90zM124.5 631.05h15.90v3.79h-15.90zM124.5 638.13h15.90v3.79h-15.90zM124.5 648.74h15.90v2.02h-15.90zM140.1 519.67h15.90v2.02h-15.90zM140.1 523.20h15.90v3.79h-15.90zM140.1 528.51h15.90v3.79h-15.90zM140.1 533.81h15.90v2.02h-15.90zM140.1 556.80h15.90v2.02h-15.90zM140.1 618.68h15.90v2.02h-15.90zM140.1 641.66h15.90v2.02h-15.90zM140.1 645.20h15.90v3.79h-15.90zM155.7 521.44h15.90v2.02h-15.90zM155.7 539.12h15.90v2.02h-15.90zM155.7 547.96h15.90v2.02h-15.90zM155.7 579.78h15.90v2.02h-15.90zM155.7 583.32h15.90v2.02h-15.90zM155.7 595.69h15.90v2.02h-15.90zM155.7 599.23h15.90v2.02h-15.90zM155.7 609.84h15.90v2.02h-15.90zM155.7 627.52h15.90v3.79h-15.90zM155.7 666.42h15.90v2.02h-15.90zM155.7 684.10h15.90v2.02h-15.90zM171.3 519.67h15.90v3.79h-15.90zM171.3 539.12h15.90v3.79h-15.90zM171.3 546.19h15.90v2.02h-15.90zM171.3 645.20h15.90v2.02h-15.90zM171.3 666.42h15.90v2.02h-15.90zM171.3 673.49h15.90v2.02h-15.90zM171.3 680.56h15.90v2.02h-15.90z"/>
<path fill="#fff0ea" d="M43.2 602.77h15.65v2.02h-15.65zM58.6 662.88h15.65v2.02h-15.65zM58.6 669.95h15.65v2.02h-15.65zM75.9 669.95h15.95v2.02h-15.95zM155.7 555.03h15.90v3.79h-15.90zM155.7 560.33h15.90v2.02h-15.90zM155.7 563.87h15.90v2.02h-15.90zM171.3 613.37h15.90v2.02h-15.90zM171.3 616.91h15.90v2.02h-15.90z"/>
<path fill="#ffe0d6" d="M43.2 604.53h15.65v2.02h-15.65zM43.2 623.98h15.65v2.02h-15.65zM43.2 627.52h15.65v2.02h-15.65zM58.6 675.26h15.65v2.02h-15.65zM58.6 678.79h15.65v2.02h-15.65zM58.6 685.86h15.65v3.79h-15.65zM75.9 542.65h15.95v3.79h-15.95zM75.9 579.78h15.95v2.02h-15.95zM75.9 585.09h15.95v2.02h-15.95zM75.9 613.37h15.95v2.02h-15.95zM75.9 645.20h15.95v3.79h-15.95zM75.9 657.58h15.95v2.02h-15.95zM75.9 662.88h15.95v2.02h-15.95zM75.9 666.42h15.95v2.02h-15.95zM75.9 671.72h15.95v2.02h-15.95zM91.6 524.97h15.95v2.02h-15.95zM91.6 532.04h15.95v2.02h-15.95zM91.6 540.88h15.95v2.02h-15.95zM91.6 546.19h15.95v2.02h-15.95zM91.6 578.01h15.95v5.55h-15.95zM91.6 592.16h15.95v2.02h-15.95zM91.6 599.23h15.95v2.02h-15.95zM91.6 604.53h15.95v2.02h-15.95zM91.6 609.84h15.95v2.02h-15.95zM91.6 677.02h15.95v2.02h-15.95zM91.6 682.33h15.95v2.02h-15.95zM108.9 634.59h15.90v2.02h-15.90zM108.9 687.63h15.90v2.02h-15.90zM124.5 650.50h15.90v2.02h-15.90zM140.1 535.58h15.90v2.02h-15.90zM140.1 549.72h15.90v2.02h-15.90zM140.1 555.03h15.90v2.02h-15.90zM140.1 592.16h15.90v2.02h-15.90zM140.1 595.69h15.90v2.02h-15.90zM140.1 643.43h15.90v2.02h-15.90zM140.1 648.74h15.90v2.02h-15.90zM140.1 661.11h15.90v2.02h-15.90zM155.7 517.90h15.90v2.02h-15.90zM155.7 528.51h15.90v2.02h-15.90zM155.7 540.88h15.90v3.79h-15.90zM155.7 553.26h15.90v2.02h-15.90zM155.7 558.56h15.90v2.02h-15.90zM155.7 574.48h15.90v3.79h-15.90zM155.7 586.85h15.90v3.79h-15.90zM155.7 613.37h15.90v3.79h-15.90zM155.7 622.21h15.90v2.02h-15.90zM155.7 680.56h15.90v3.79h-15.90zM171.3 523.20h15.90v3.79h-15.90zM171.3 544.42h15.90v2.02h-15.90zM171.3 547.96h15.90v2.02h-15.90zM171.3 602.77h15.90v3.79h-15.90zM171.3 615.14h15.90v2.02h-15.90zM171.3 668.18h15.90v3.79h-15.90zM171.3 678.79h15.90v2.02h-15.90z"/>
<path fill="#ffd9cb" d="M43.2 629.29h15.65v2.02h-15.65zM43.2 646.97h15.65v2.02h-15.65zM58.6 517.90h15.65v2.02h-15.65zM58.6 524.97h15.65v2.02h-15.65zM75.9 553.26h15.95v2.02h-15.95zM75.9 569.17h15.95v2.02h-15.95zM75.9 578.01h15.95v2.02h-15.95zM75.9 586.85h15.95v2.02h-15.95zM75.9 590.39h15.95v5.55h-15.95zM75.9 639.89h15.95v2.02h-15.95zM75.9 652.27h15.95v2.02h-15.95zM75.9 659.34h15.95v2.02h-15.95zM91.6 519.67h15.95v2.02h-15.95zM91.6 551.49h15.95v2.02h-15.95zM91.6 555.03h15.95v2.02h-15.95zM91.6 576.25h15.95v2.02h-15.95zM91.6 588.62h15.95v2.02h-15.95zM91.6 593.93h15.95v2.02h-15.95zM91.6 597.46h15.95v2.02h-15.95zM91.6 636.36h15.95v2.02h-15.95zM108.9 661.11h15.90v3.79h-15.90zM108.9 669.95h15.90v2.02h-15.90zM124.5 641.66h15.90v2.02h-15.90zM140.1 546.19h15.90v2.02h-15.90zM140.1 551.49h15.90v2.02h-15.90zM140.1 560.33h15.90v2.02h-15.90zM140.1 576.25h15.90v3.79h-15.90zM140.1 590.39h15.90v2.02h-15.90zM140.1 593.93h15.90v2.02h-15.90zM140.1 632.82h15.90v2.02h-15.90zM140.1 639.89h15.90v2.02h-15.90zM140.1 650.50h15.90v3.79h-15.90zM155.7 519.67h15.90v2.02h-15.90zM155.7 526.74h15.90v2.02h-15.90zM155.7 533.81h15.90v2.02h-15.90zM155.7 546.19h15.90v2.02h-15.90zM155.7 590.39h15.90v2.02h-15.90zM155.7 606.30h15.90v2.02h-15.90zM155.7 611.61h15.90v2.02h-15.90zM155.7 618.68h15.90v3.79h-15.90zM155.7 632.82h15.90v2.02h-15.90zM155.7 636.36h15.90v2.02h-15.90zM155.7 662.88h15.90v2.02h-15.90zM155.7 669.95h15.90v2.02h-15.90zM171.3 608.07h15.90v3.79h-15.90zM171.3 682.33h15.90v2.02h-15.90zM171.3 687.63h15.90v2.02h-15.90z"/>
<path fill="#ffd1c1" d="M43.2 636.36h15.65v2.02h-15.65zM43.2 643.43h15.65v3.79h-15.65zM43.2 659.34h15.65v3.79h-15.65zM58.6 526.74h15.65v2.02h-15.65zM58.6 661.11h15.65v2.02h-15.65zM58.6 664.65h15.65v3.79h-15.65zM75.9 519.67h15.95v2.02h-15.95zM75.9 549.72h15.95v3.79h-15.95zM75.9 560.33h15.95v2.02h-15.95zM75.9 567.41h15.95v2.02h-15.95zM75.9 588.62h15.95v2.02h-15.95zM75.9 595.69h15.95v2.02h-15.95zM75.9 601.00h15.95v2.02h-15.95zM75.9 608.07h15.95v2.02h-15.95zM75.9 611.61h15.95v2.02h-15.95zM75.9 615.14h15.95v3.79h-15.95zM91.6 521.44h15.95v3.79h-15.95zM91.6 528.51h15.95v2.02h-15.95zM91.6 556.80h15.95v2.02h-15.95zM91.6 574.48h15.95v2.02h-15.95zM91.6 590.39h15.95v2.02h-15.95zM91.6 611.61h15.95v2.02h-15.95zM91.6 627.52h15.95v2.02h-15.95zM91.6 631.05h15.95v2.02h-15.95zM91.6 687.63h15.95v2.02h-15.95zM108.9 639.89h15.90v3.79h-15.90zM108.9 659.34h15.90v2.02h-15.90zM108.9 664.65h15.90v2.02h-15.90zM108.9 680.56h15.90v3.79h-15.90zM124.5 542.65h15.90v2.02h-15.90zM124.5 553.26h15.90v2.02h-15.90zM124.5 613.37h15.90v2.02h-15.90zM124.5 616.91h15.90v2.02h-15.90zM140.1 517.90h15.90v2.02h-15.90zM140.1 574.48h15.90v2.02h-15.90zM140.1 620.45h15.90v2.02h-15.90zM140.1 638.13h15.90v2.02h-15.90zM140.1 654.04h15.90v3.79h-15.90zM140.1 659.34h15.90v2.02h-15.90zM155.7 549.72h15.90v2.02h-15.90zM155.7 578.01h15.90v2.02h-15.90zM155.7 581.55h15.90v2.02h-15.90zM155.7 585.09h15.90v2.02h-15.90zM155.7 592.16h15.90v3.79h-15.90zM155.7 597.46h15.90v2.02h-15.90zM155.7 601.00h15.90v2.02h-15.90zM155.7 608.07h15.90v2.02h-15.90zM155.7 616.91h15.90v2.02h-15.90zM155.7 623.98h15.90v3.79h-15.90zM155.7 634.59h15.90v2.02h-15.90zM155.7 664.65h15.90v2.02h-15.90zM155.7 668.18h15.90v2.02h-15.90zM171.3 549.72h15.90v5.55h-15.90zM171.3 611.61h15.90v2.02h-15.90zM171.3 646.97h15.90v2.02h-15.90zM171.3 671.72h15.90v2.02h-15.90zM171.3 685.86h15.90v2.02h-15.90z"/>
<path fill="#ffb299" d="M43.2 638.13h15.65v2.02h-15.65zM43.2 648.74h15.65v3.79h-15.65zM75.9 556.80h15.95v2.02h-15.95zM75.9 576.25h15.95v2.02h-15.95zM75.9 625.75h15.95v2.02h-15.95zM108.9 521.44h15.90v2.02h-15.90zM108.9 526.74h15.90v3.79h-15.90zM108.9 569.17h15.90v5.55h-15.90zM108.9 583.32h15.90v2.02h-15.90zM108.9 602.77h15.90v2.02h-15.90zM108.9 631.05h15.90v2.02h-15.90zM124.5 521.44h15.90v2.02h-15.90zM124.5 526.74h15.90v2.02h-15.90zM124.5 535.58h15.90v2.02h-15.90zM124.5 551.49h15.90v2.02h-15.90zM124.5 567.41h15.90v2.02h-15.90zM124.5 586.85h15.90v2.02h-15.90zM124.5 593.93h15.90v3.79h-15.90zM124.5 609.84h15.90v2.02h-15.90zM124.5 654.04h15.90v3.79h-15.90z"/>
<path fill="#ffe8e0" d="M43.2 657.58h15.65v2.02h-15.65zM43.2 662.88h15.65v2.02h-15.65zM58.6 519.67h15.65v2.02h-15.65zM58.6 668.18h15.65v2.02h-15.65zM58.6 677.02h15.65v2.02h-15.65zM58.6 682.33h15.65v2.02h-15.65zM75.9 517.90h15.95v2.02h-15.95zM75.9 521.44h15.95v2.02h-15.95zM75.9 546.19h15.95v2.02h-15.95zM75.9 583.32h15.95v2.02h-15.95zM75.9 655.81h15.95v2.02h-15.95zM75.9 661.11h15.95v2.02h-15.95zM75.9 664.65h15.95v2.02h-15.95zM75.9 668.18h15.95v2.02h-15.95zM91.6 526.74h15.95v2.02h-15.95zM91.6 530.28h15.95v2.02h-15.95zM91.6 537.35h15.95v3.79h-15.95zM91.6 544.42h15.95v2.02h-15.95zM91.6 547.96h15.95v3.79h-15.95zM91.6 553.26h15.95v2.02h-15.95zM91.6 595.69h15.95v2.02h-15.95zM91.6 601.00h15.95v2.02h-15.95zM91.6 634.59h15.95v2.02h-15.95zM91.6 680.56h15.95v2.02h-15.95zM91.6 685.86h15.95v2.02h-15.95zM108.9 646.97h15.90v3.79h-15.90zM124.5 643.43h15.90v2.02h-15.90zM124.5 646.97h15.90v2.02h-15.90zM140.1 521.44h15.90v2.02h-15.90zM140.1 526.74h15.90v2.02h-15.90zM140.1 532.04h15.90v2.02h-15.90zM140.1 547.96h15.90v2.02h-15.90zM140.1 553.26h15.90v2.02h-15.90zM140.1 558.56h15.90v2.02h-15.90zM140.1 562.10h15.90v2.02h-15.90zM140.1 579.78h15.90v3.79h-15.90zM140.1 622.21h15.90v2.02h-15.90zM140.1 631.05h15.90v2.02h-15.90zM140.1 657.58h15.90v2.02h-15.90zM155.7 544.42h15.90v2.02h-15.90zM155.7 551.49h15.90v2.02h-15.90zM155.7 562.10h15.90v2.02h-15.90zM155.7 565.64h15.90v2.02h-15.90zM155.7 631.05h15.90v2.02h-15.90zM155.7 671.72h15.90v9.09h-15.90zM155.7 685.86h15.90v3.79h-15.90zM171.3 517.90h15.90v2.02h-15.90zM171.3 526.74h15.90v3.79h-15.90zM171.3 537.35h15.90v2.02h-15.90zM171.3 542.65h15.90v2.02h-15.90zM171.3 675.26h15.90v3.79h-15.90zM171.3 684.10h15.90v2.02h-15.90z"/>
<path fill="#ffc2ad" d="M58.6 537.35h15.65v2.02h-15.65zM75.9 558.56h15.95v2.02h-15.95zM75.9 563.87h15.95v3.79h-15.95zM75.9 572.71h15.95v2.02h-15.95zM91.6 602.77h15.95v2.02h-15.95zM91.6 606.30h15.95v2.02h-15.95zM91.6 629.29h15.95v2.02h-15.95zM91.6 659.34h15.95v2.02h-15.95zM108.9 524.97h15.90v2.02h-15.90zM108.9 532.04h15.90v3.79h-15.90zM108.9 549.72h15.90v2.02h-15.90zM108.9 581.55h15.90v2.02h-15.90zM108.9 586.85h15.90v2.02h-15.90zM108.9 604.53h15.90v3.79h-15.90zM108.9 629.29h15.90v2.02h-15.90zM108.9 632.82h15.90v2.02h-15.90zM108.9 671.72h15.90v2.02h-15.90zM108.9 675.26h15.90v5.55h-15.90zM124.5 519.67h15.90v2.02h-15.90zM124.5 524.97h15.90v2.02h-15.90zM124.5 528.51h15.90v2.02h-15.90zM124.5 533.81h15.90v2.02h-15.90zM124.5 539.12h15.90v2.02h-15.90zM124.5 611.61h15.90v2.02h-15.90zM124.5 629.29h15.90v2.02h-15.90zM140.1 565.64h15.90v2.02h-15.90zM140.1 588.62h15.90v2.02h-15.90zM140.1 597.46h15.90v2.02h-15.90zM140.1 601.00h15.90v2.02h-15.90zM155.7 532.04h15.90v2.02h-15.90zM155.7 661.11h15.90v2.02h-15.90z"/>
<path fill="#bd99ff" d="M58.6 542.65h15.65v2.02h-15.65zM58.6 546.19h15.65v2.02h-15.65zM58.6 558.56h15.65v2.02h-15.65zM58.6 562.10h15.65v2.02h-15.65zM58.6 638.13h15.65v2.02h-15.65zM58.6 645.20h15.65v5.55h-15.65zM108.9 654.04h15.90v2.02h-15.90zM171.3 555.03h15.90v2.02h-15.90z"/>
<path fill="#b690ff" d="M58.6 563.87h15.65v2.02h-15.65zM58.6 574.48h15.65v3.79h-15.65zM58.6 593.93h15.65v2.02h-15.65zM58.6 597.46h15.65v5.55h-15.65z"/>
<path fill="#af87ff" d="M58.6 592.16h15.65v2.02h-15.65zM58.6 631.05h15.65v2.02h-15.65z"/>
<path fill="#a87eff" d="M58.6 629.29h15.65v2.02h-15.65zM58.6 632.82h15.65v2.02h-15.65zM58.6 650.50h15.65v2.02h-15.65zM171.3 530.28h15.90v2.02h-15.90z"/>
<path fill="#ffaa90" d="M75.9 555.03h15.95v2.02h-15.95zM108.9 517.90h15.90v3.79h-15.90zM108.9 562.10h15.90v3.79h-15.90zM124.5 523.20h15.90v2.02h-15.90zM124.5 556.80h15.90v2.02h-15.90zM124.5 565.64h15.90v2.02h-15.90zM124.5 590.39h15.90v2.02h-15.90zM124.5 597.46h15.90v3.79h-15.90zM124.5 645.20h15.90v2.02h-15.90zM124.5 652.27h15.90v2.02h-15.90zM140.1 563.87h15.90v2.02h-15.90z"/>
<path fill="#ff9a7c" d="M75.9 562.10h15.95v2.02h-15.95zM108.9 540.88h15.90v2.02h-15.90zM108.9 593.93h15.90v2.02h-15.90zM124.5 563.87h15.90v2.02h-15.90zM124.5 569.17h15.90v2.02h-15.90zM124.5 581.55h15.90v2.02h-15.90z"/>
<path fill="#ffa286" d="M75.9 623.98h15.95v2.02h-15.95zM108.9 535.58h15.90v2.02h-15.90zM124.5 555.03h15.90v2.02h-15.90zM124.5 558.56h15.90v2.02h-15.90zM124.5 578.01h15.90v2.02h-15.90zM124.5 588.62h15.90v2.02h-15.90z"/>
<path fill="#ff2410" d="M75.9 634.59h15.95v5.55h-15.95zM108.9 555.03h15.90v7.32h-15.90zM108.9 574.48h15.90v5.55h-15.90zM108.9 588.62h15.90v5.55h-15.90zM108.9 597.46h15.90v5.55h-15.90zM108.9 636.36h15.90v3.79h-15.90zM108.9 666.42h15.90v3.79h-15.90zM124.5 620.45h15.90v9.09h-15.90z"/>
<path fill="#f4ecff" d="M91.6 618.68h15.95v2.02h-15.95zM155.7 567.41h15.90v2.02h-15.90z"/>
<path fill="#8f62ff" d="M91.6 638.13h15.95v2.02h-15.95z"/>
<path fill="#ff5031" d="M108.9 530.28h15.90v2.02h-15.90zM108.9 565.64h15.90v3.79h-15.90zM124.5 530.28h15.90v2.02h-15.90z"/>
<path fill="#ff6f4d" d="M108.9 537.35h15.90v3.79h-15.90zM108.9 625.75h15.90v2.02h-15.90z"/>
<path fill="#ff8160" d="M108.9 542.65h15.90v2.02h-15.90zM108.9 546.19h15.90v2.02h-15.90z"/>
<path fill="#ff9273" d="M108.9 544.42h15.90v2.02h-15.90zM108.9 595.69h15.90v2.02h-15.90zM124.5 517.90h15.90v2.02h-15.90zM124.5 570.94h15.90v2.02h-15.90z"/>
<path fill="#ff7857" d="M108.9 547.96h15.90v2.02h-15.90z"/>
<path fill="#ff4427" d="M108.9 585.09h15.90v2.02h-15.90zM124.5 574.48h15.90v3.79h-15.90z"/>
<path fill="#ff6544" d="M108.9 627.52h15.90v2.02h-15.90z"/>
<path fill="#ff5b3a" d="M124.5 560.33h15.90v3.79h-15.90zM124.5 572.71h15.90v2.02h-15.90zM124.5 618.68h15.90v2.02h-15.90z"/>
<path fill="#faf6ff" d="M140.1 602.77h15.90v2.02h-15.90z"/>
<path fill="#fff7f5" d="M171.3 606.30h15.90v2.02h-15.90z"/>
<path d="M28.5 518.8H27.9V520.6H28.5M28.5 524.1H27.9V525.9H28.5M28.5 527.6H27.9V529.4H28.5M27.9 525.0H27.4V528.5H27.9M28.5 522.3H27.1V526.7H27.4M27.9 519.7H26.9V524.5H27.1M28.5 531.2H27.8V532.9H28.5M28.5 534.7H27.8V536.5H28.5M28.5 540.0H27.9V541.8H28.5M28.5 538.2H27.6V540.9H27.9M27.8 535.6H27.3V539.6H27.6M27.8 532.0H26.8V537.6H27.3M26.9 522.1H25.4V534.8H26.8M28.5 543.5H27.9V545.3H28.5M28.5 548.8H27.9V550.6H28.5M28.5 547.1H27.6V549.7H27.9M27.9 544.4H27.2V548.4H27.6M28.5 552.4H27.9V554.1H28.5M28.5 557.7H27.8V559.4H28.5M28.5 555.9H27.6V558.6H27.8M27.9 553.3H27.2V557.2H27.6M27.2 546.4H26.2V555.2H27.2M28.5 561.2H27.9V563.0H28.5M28.5 568.3H27.9V570.1H28.5M28.5 566.5H27.6V569.2H27.9M28.5 564.8H27.4V567.8H27.6M27.9 562.1H26.9V566.3H27.4M28.5 571.8H27.9V573.6H28.5M28.5 577.1H27.9V578.9H28.5M28.5 575.4H27.6V578.0H27.9M27.9 572.7H27.1V576.7H27.6M26.9 564.2H25.9V574.7H27.1M28.5 580.7H27.9V582.4H28.5M28.5 584.2H27.8V586.0H28.5M28.5 587.7H27.9V589.5H28.5M27.8 585.1H27.4V588.6H27.9M27.9 581.5H26.9V586.9H27.4M25.9 569.4H25.3V584.2H26.9M26.2 550.8H23.5V576.8H25.3M25.4 528.5H21.8V563.8H23.5M28.5 593.0H27.9V594.8H28.5M28.5 591.3H27.6V593.9H27.9M28.5 598.3H27.9V600.1H28.5M28.5 596.6H27.6V599.2H27.9M27.6 592.6H26.9V597.9H27.6M28.5 603.6H27.8V605.4H28.5M28.5 601.9H27.6V604.5H27.8M28.5 612.5H27.9V614.3H28.5M28.5 610.7H27.6V613.4H27.9M28.5 609.0H27.4V612.0H27.6M28.5 607.2H27.1V610.5H27.4M27.6 603.2H26.6V608.8H27.1M28.5 616.0H27.8V617.8H28.5M28.5 621.3H27.9V623.1H28.5M28.5 619.6H27.6V622.2H27.9M27.8 616.9H27.3V620.9H27.6M26.6 606.0H25.5V618.9H27.3M26.9 595.3H24.5V612.5H25.5M28.5 624.9H27.9V626.6H28.5M28.5 631.9H27.9V633.7H28.5M28.5 630.2H27.7V632.8H27.9M28.5 628.4H27.4V631.5H27.7M27.9 625.8H27.1V629.9H27.4M28.5 635.5H27.9V637.2H28.5M28.5 642.5H27.9V644.3H28.5M28.5 640.8H27.6V643.4H27.9M28.5 646.1H27.9V647.9H28.5M27.6 642.1H27.1V647.0H27.9M28.5 639.0H26.9V644.5H27.1M27.9 636.4H26.6V641.8H26.9M27.1 627.9H25.5V639.1H26.6M28.5 651.4H27.9V653.2H28.5M28.5 649.6H27.6V652.3H27.9M28.5 654.9H27.8V656.7H28.5M28.5 658.5H27.9V660.2H28.5M28.5 663.8H27.8V665.5H28.5M28.5 662.0H27.6V664.6H27.8M27.9 659.3H27.1V663.3H27.6M27.8 655.8H26.8V661.3H27.1M27.6 650.9H26.3V658.6H26.8M25.5 633.5H24.1V654.8H26.3M28.5 669.1H27.9V670.8H28.5M28.5 667.3H27.6V670.0H27.9M28.5 672.6H27.8V674.4H28.5M28.5 676.1H27.8V677.9H28.5M27.8 673.5H27.5V677.0H27.8M27.6 668.6H26.8V675.3H27.5M28.5 679.7H27.9V681.4H28.5M28.5 686.7H27.8V688.5H28.5M28.5 685.0H27.6V687.6H27.8M28.5 683.2H27.3V686.3H27.6M27.9 680.6H26.9V684.8H27.3M26.8 671.9H25.5V682.7H26.9M24.1 644.1H22.1V677.3H25.5M24.5 603.9H19.9V660.7H22.1M21.8 546.1H15.1V632.3H19.9" fill="none" stroke="#333" stroke-width="0.42"/>
<path fill="#b4b4b4" d="M36.5 518.25h4.97v1.06h-4.97zM31.7 520.02h9.75v1.06h-9.75zM37.2 521.79h4.32v1.06h-4.32zM33.4 523.56h8.08v1.06h-8.08zM37.4 525.33h4.05v1.06h-4.05zM36.4 527.09h5.11v1.06h-5.11zM31.5 528.86h9.99v1.06h-9.99zM36.6 530.63h4.86v1.06h-4.86zM33.8 532.40h7.67v1.06h-7.67zM35.0 534.17h6.48v1.06h-6.48zM35.1 535.93h6.45v1.06h-6.45zM34.8 537.70h6.72v1.06h-6.72zM36.8 539.47h4.75v1.06h-4.75zM32.6 541.24h8.90v1.06h-8.90zM37.4 543.01h4.08v1.06h-4.08zM36.5 544.77h5.02v1.06h-5.02zM37.9 546.54h3.63v1.06h-3.63zM36.3 548.31h5.23v1.06h-5.23zM35.4 550.08h6.15v1.06h-6.15zM32.1 551.85h9.36v1.06h-9.36zM35.5 553.61h5.96v1.06h-5.96zM37.3 555.38h4.24v1.06h-4.24zM36.3 557.15h5.18v1.06h-5.18zM31.6 558.92h9.95v1.06h-9.95zM37.6 560.69h3.91v1.06h-3.91zM34.0 562.45h7.53v1.06h-7.53zM35.5 564.22h5.95v1.06h-5.95zM33.7 565.99h7.80v1.06h-7.80zM35.8 567.76h5.70v1.06h-5.70zM33.5 569.53h7.99v1.06h-7.99zM34.8 571.29h6.73v1.06h-6.73zM33.8 573.06h7.72v1.06h-7.72zM32.1 574.83h9.36v1.06h-9.36zM34.2 576.60h7.28v1.06h-7.28zM37.1 578.37h4.42v1.06h-4.42zM37.6 580.14h3.92v1.06h-3.92zM31.9 581.90h9.65v1.06h-9.65zM34.8 583.67h6.68v1.06h-6.68zM36.7 585.44h4.76v1.06h-4.76zM31.9 587.21h9.65v1.06h-9.65zM34.2 588.98h7.26v1.06h-7.26zM33.3 590.74h8.24v1.06h-8.24zM32.3 592.51h9.23v1.06h-9.23zM36.1 594.28h5.36v1.06h-5.36zM35.7 596.05h5.82v1.06h-5.82zM32.3 597.82h9.21v1.06h-9.21zM37.1 599.58h4.38v1.06h-4.38zM33.0 601.35h8.47v1.06h-8.47zM37.4 603.12h4.13v1.06h-4.13zM33.5 604.89h7.99v1.06h-7.99zM33.4 606.66h8.06v1.06h-8.06zM31.8 608.42h9.67v1.06h-9.67zM32.5 610.19h8.98v1.06h-8.98zM34.7 611.96h6.77v1.06h-6.77zM36.7 613.73h4.78v1.06h-4.78zM37.0 615.50h4.48v1.06h-4.48zM34.6 617.26h6.94v1.06h-6.94zM34.7 619.03h6.81v1.06h-6.81zM37.5 620.80h3.96v1.06h-3.96zM32.1 622.57h9.37v1.06h-9.37zM34.7 624.34h6.80v1.06h-6.80zM33.4 626.10h8.06v1.06h-8.06zM36.6 627.87h4.93v1.06h-4.93zM36.4 629.64h5.09v1.06h-5.09zM37.9 631.41h3.58v1.06h-3.58zM35.8 633.18h5.73v1.06h-5.73zM36.3 634.94h5.23v1.06h-5.23zM35.2 636.71h6.25v1.06h-6.25zM35.5 638.48h5.95v1.06h-5.95zM32.6 640.25h8.92v1.06h-8.92zM32.2 642.02h9.29v1.06h-9.29zM36.9 643.78h4.64v1.06h-4.64zM35.4 645.55h6.08v1.06h-6.08zM36.9 647.32h4.58v1.06h-4.58zM33.7 649.09h7.81v1.06h-7.81zM31.7 650.86h9.84v1.06h-9.84zM36.7 652.62h4.81v1.06h-4.81zM33.0 654.39h8.48v1.06h-8.48zM36.0 656.16h5.45v1.06h-5.45zM37.9 657.93h3.59v1.06h-3.59zM33.0 659.70h8.47v1.06h-8.47zM35.8 661.46h5.72v1.06h-5.72zM36.9 663.23h4.61v1.06h-4.61zM35.2 665.00h6.33v1.06h-6.33zM36.5 666.77h5.01v1.06h-5.01zM35.3 668.54h6.17v1.06h-6.17zM35.1 670.31h6.40v1.06h-6.40zM35.3 672.07h6.22v1.06h-6.22zM34.2 673.84h7.33v1.06h-7.33zM36.1 675.61h5.38v1.06h-5.38zM37.4 677.38h4.12v1.06h-4.12zM37.4 679.15h4.05v1.06h-4.05zM37.3 680.91h4.19v1.06h-4.19zM34.6 682.68h6.89v1.06h-6.89zM35.7 684.45h5.84v1.06h-5.84zM32.7 686.22h8.75v1.06h-8.75zM34.7 687.99h6.78v1.06h-6.78z"/>
<text x="24.00" y="515.20" font-size="6.1" fill="#111">Group</text>
<path d="M50.88 508.60V499.60H66.23V508.60" fill="none" stroke="#333" stroke-width="0.55"/>
<path d="M83.73 508.60V497.50H99.38V508.60" fill="none" stroke="#333" stroke-width="0.55"/>
<path d="M116.70 508.60V501.90H132.30V508.60" fill="none" stroke="#333" stroke-width="0.55"/>
<path d="M124.50 501.90V499.90H147.90V508.60" fill="none" stroke="#333" stroke-width="0.55"/>
<path d="M136.20 499.90V498.40H163.50V508.60" fill="none" stroke="#333" stroke-width="0.55"/>
<path d="M149.85 498.40V493.70H179.10V508.60" fill="none" stroke="#333" stroke-width="0.55"/>
<text x="54.08" y="694.30" font-size="8.6" text-anchor="end" fill="#111" transform="rotate(-60 54.08 694.30)">XC517</text>
<text x="69.43" y="694.30" font-size="8.6" text-anchor="end" fill="#111" transform="rotate(-60 69.43 694.30)">BCX070</text>
<text x="86.93" y="694.30" font-size="8.6" text-anchor="end" fill="#111" transform="rotate(-60 86.93 694.30)">XC517</text>
<text x="102.58" y="694.30" font-size="8.6" text-anchor="end" fill="#111" transform="rotate(-60 102.58 694.30)">PR4</text>
<text x="119.90" y="694.30" font-size="8.6" text-anchor="end" fill="#111" transform="rotate(-60 119.90 694.30)">XC517</text>
<text x="135.50" y="694.30" font-size="8.6" text-anchor="end" fill="#111" transform="rotate(-60 135.50 694.30)">PR1</text>
<text x="151.10" y="694.30" font-size="8.6" text-anchor="end" fill="#111" transform="rotate(-60 151.10 694.30)">BCX017</text>
<text x="166.70" y="694.30" font-size="8.6" text-anchor="end" fill="#111" transform="rotate(-60 166.70 694.30)">PR4</text>
<text x="182.30" y="694.30" font-size="8.6" text-anchor="end" fill="#111" transform="rotate(-60 182.30 694.30)">BCX070</text>
<text x="115.30" y="488.80" font-size="11.5" text-anchor="middle" fill="#111">Interferon α genes</text>
<text x="8.70" y="494.60" font-size="17.5" font-weight="bold">I</text>
<text x="190.20" y="573.30" font-size="4.9" font-weight="bold" fill="#222">Group</text>
<rect x="190.20" y="577.00" width="5.60" height="5.57" fill="#ffa000"/>
<text x="197.30" y="581.73" font-size="5.4" fill="#444">Palbo_only</text>
<rect x="190.20" y="582.57" width="5.60" height="5.57" fill="#0096c8"/>
<text x="197.30" y="587.30" font-size="5.4" fill="#444">BLU222_only</text>
<rect x="190.20" y="588.14" width="5.60" height="5.57" fill="#9370db"/>
<text x="197.30" y="592.87" font-size="5.4" fill="#444">BLU222_Palbo</text>
<text x="190.20" y="603.70" font-size="4.9" font-weight="bold" fill="#222">Fold Change</text>
<defs><linearGradient id="fcI" x1="0" y1="0" x2="0" y2="1"><stop offset="0.0" stop-color="#ff0000"/><stop offset="0.1" stop-color="#ff5b3a"/><stop offset="0.2" stop-color="#ff8969"/><stop offset="0.3" stop-color="#ffb299"/><stop offset="0.4" stop-color="#ffd9cb"/><stop offset="0.5" stop-color="#ffffff"/><stop offset="0.6" stop-color="#e3d0ff"/><stop offset="0.7" stop-color="#c4a2ff"/><stop offset="0.8" stop-color="#a074ff"/><stop offset="0.9" stop-color="#7145ff"/><stop offset="1.0" stop-color="#0000ff"/></linearGradient></defs>
<rect x="190.20" y="606.60" width="5.60" height="31.20" fill="url(#fcI)"/>
<text x="197.30" y="610.54" font-size="5.4" fill="#333">5</text>
<text x="197.30" y="624.34" font-size="5.4" fill="#333">0</text>
<text x="197.30" y="638.24" font-size="5.4" fill="#333">−5</text>
<rect x="264.10" y="509.90" width="26.90" height="5.60" fill="#ffa000"/>
<rect x="292.40" y="509.90" width="26.60" height="5.60" fill="#0096c8"/>
<rect x="321.00" y="509.90" width="66.70" height="5.60" fill="#9370db"/>
<path fill="#d7beff" d="M264.1 516.80h13.75v1.18h-13.75zM264.1 519.58h13.75v1.18h-13.75zM264.1 534.42h13.75v1.18h-13.75zM264.1 540.91h13.75v1.18h-13.75zM264.1 542.77h13.75v1.18h-13.75zM264.1 546.48h13.75v2.10h-13.75zM264.1 552.04h13.75v1.18h-13.75zM264.1 556.68h13.75v1.18h-13.75zM264.1 561.32h13.75v1.18h-13.75zM264.1 564.10h13.75v1.18h-13.75zM264.1 574.30h13.75v1.18h-13.75zM264.1 576.16h13.75v1.18h-13.75zM264.1 602.13h13.75v1.18h-13.75zM264.1 611.40h13.75v2.10h-13.75zM264.1 652.21h13.75v1.18h-13.75zM264.1 675.40h13.75v1.18h-13.75zM264.1 677.26h13.75v1.18h-13.75zM264.1 680.04h13.75v1.18h-13.75zM264.1 681.89h13.75v3.03h-13.75zM264.1 687.46h13.75v1.18h-13.75zM277.6 516.80h13.75v1.18h-13.75zM277.6 518.65h13.75v1.18h-13.75zM277.6 526.07h13.75v1.18h-13.75zM277.6 533.50h13.75v1.18h-13.75zM277.6 535.35h13.75v1.18h-13.75zM277.6 541.84h13.75v1.18h-13.75zM277.6 543.70h13.75v1.18h-13.75zM277.6 551.12h13.75v1.18h-13.75zM277.6 577.09h13.75v1.18h-13.75zM277.6 578.94h13.75v1.18h-13.75zM277.6 580.80h13.75v1.18h-13.75zM277.6 606.77h13.75v1.18h-13.75zM277.6 608.62h13.75v1.18h-13.75zM277.6 620.68h13.75v3.03h-13.75zM277.6 628.10h13.75v3.03h-13.75zM277.6 652.21h13.75v1.18h-13.75zM277.6 655.92h13.75v2.10h-13.75zM277.6 661.49h13.75v1.18h-13.75zM277.6 667.05h13.75v2.10h-13.75zM277.6 669.84h13.75v1.18h-13.75zM277.6 689.31h13.75v2.10h-13.75zM277.6 693.02h13.75v1.18h-13.75zM277.6 696.73h13.75v1.18h-13.75zM292.4 556.68h13.60v1.18h-13.60zM292.4 598.42h13.60v3.03h-13.60zM292.4 658.71h13.60v1.18h-13.60zM305.7 603.98h13.60v1.18h-13.60zM305.7 606.77h13.60v1.18h-13.60zM305.7 608.62h13.60v1.18h-13.60zM305.7 611.40h13.60v1.18h-13.60zM305.7 618.82h13.60v1.18h-13.60zM305.7 620.68h13.60v2.10h-13.60zM305.7 627.17h13.60v1.18h-13.60zM305.7 629.03h13.60v1.18h-13.60zM305.7 642.01h13.60v1.18h-13.60zM305.7 667.05h13.60v2.10h-13.60zM305.7 669.84h13.60v2.10h-13.60zM305.7 692.10h13.60v2.10h-13.60zM321.0 629.95h13.64v1.18h-13.64zM321.0 684.68h13.64v1.18h-13.64zM321.0 687.46h13.64v1.18h-13.64zM334.3 555.75h13.64v1.18h-13.64zM334.3 665.20h13.64v1.18h-13.64zM334.3 667.05h13.64v2.10h-13.64zM334.3 681.89h13.64v1.18h-13.64zM334.3 685.61h13.64v2.10h-13.64zM334.3 688.39h13.64v1.18h-13.64zM334.3 694.88h13.64v1.18h-13.64zM347.7 576.16h13.64v1.18h-13.64zM347.7 590.07h13.64v1.18h-13.64zM347.7 597.49h13.64v1.18h-13.64zM347.7 599.35h13.64v2.10h-13.64zM347.7 667.05h13.64v1.18h-13.64zM347.7 671.69h13.64v1.18h-13.64zM347.7 673.55h13.64v1.18h-13.64zM347.7 679.11h13.64v2.10h-13.64zM347.7 681.89h13.64v1.18h-13.64zM361.0 555.75h13.64v1.18h-13.64zM361.0 557.61h13.64v1.18h-13.64zM361.0 576.16h13.64v2.10h-13.64zM361.0 595.64h13.64v1.18h-13.64zM361.0 630.88h13.64v1.18h-13.64zM361.0 636.45h13.64v1.18h-13.64zM361.0 648.50h13.64v2.10h-13.64zM361.0 652.21h13.64v1.18h-13.64zM361.0 655.92h13.64v2.10h-13.64zM361.0 675.40h13.64v1.18h-13.64zM374.4 524.22h13.64v1.18h-13.64zM374.4 527.93h13.64v1.18h-13.64zM374.4 533.50h13.64v1.18h-13.64zM374.4 546.48h13.64v2.10h-13.64zM374.4 551.12h13.64v2.10h-13.64zM374.4 554.83h13.64v2.10h-13.64zM374.4 561.32h13.64v1.18h-13.64zM374.4 568.74h13.64v1.18h-13.64zM374.4 573.38h13.64v1.18h-13.64zM374.4 577.09h13.64v1.18h-13.64zM374.4 617.90h13.64v1.18h-13.64zM374.4 649.43h13.64v1.18h-13.64zM374.4 676.33h13.64v1.18h-13.64z"/>
<path fill="#dec7ff" d="M264.1 517.73h13.75v1.18h-13.75zM264.1 521.44h13.75v1.18h-13.75zM264.1 528.86h13.75v1.18h-13.75zM264.1 530.71h13.75v1.18h-13.75zM264.1 557.61h13.75v1.18h-13.75zM264.1 559.46h13.75v1.18h-13.75zM264.1 606.77h13.75v1.18h-13.75zM264.1 629.03h13.75v1.18h-13.75zM264.1 651.29h13.75v1.18h-13.75zM264.1 671.69h13.75v2.10h-13.75zM264.1 676.33h13.75v1.18h-13.75zM277.6 517.73h13.75v1.18h-13.75zM277.6 519.58h13.75v1.18h-13.75zM277.6 523.29h13.75v1.18h-13.75zM277.6 525.15h13.75v1.18h-13.75zM277.6 527.93h13.75v3.03h-13.75zM277.6 552.97h13.75v2.10h-13.75zM277.6 578.01h13.75v1.18h-13.75zM277.6 581.72h13.75v1.18h-13.75zM277.6 591.00h13.75v1.18h-13.75zM277.6 595.64h13.75v1.18h-13.75zM277.6 598.42h13.75v1.18h-13.75zM277.6 603.06h13.75v1.18h-13.75zM277.6 617.90h13.75v1.18h-13.75zM277.6 640.16h13.75v1.18h-13.75zM277.6 644.79h13.75v2.10h-13.75zM277.6 647.58h13.75v1.18h-13.75zM277.6 664.27h13.75v1.18h-13.75zM277.6 693.95h13.75v1.18h-13.75zM292.4 540.91h13.60v1.18h-13.60zM292.4 557.61h13.60v1.18h-13.60zM292.4 629.95h13.60v1.18h-13.60zM292.4 660.56h13.60v1.18h-13.60zM292.4 698.59h13.60v1.18h-13.60zM292.4 701.37h13.60v1.18h-13.60zM305.7 572.45h13.60v2.10h-13.60zM305.7 607.69h13.60v1.18h-13.60zM305.7 625.32h13.60v1.18h-13.60zM305.7 628.10h13.60v1.18h-13.60zM305.7 633.66h13.60v1.18h-13.60zM305.7 666.13h13.60v1.18h-13.60zM305.7 695.81h13.60v1.18h-13.60zM305.7 697.66h13.60v1.18h-13.60zM321.0 679.11h13.64v1.18h-13.64zM334.3 554.83h13.64v1.18h-13.64zM334.3 646.65h13.64v2.10h-13.64zM334.3 655.92h13.64v1.18h-13.64zM334.3 664.27h13.64v1.18h-13.64zM334.3 666.13h13.64v1.18h-13.64zM334.3 671.69h13.64v1.18h-13.64zM334.3 700.44h13.64v1.18h-13.64zM347.7 534.42h13.64v1.18h-13.64zM347.7 578.01h13.64v1.18h-13.64zM347.7 596.56h13.64v1.18h-13.64zM347.7 663.34h13.64v1.18h-13.64zM347.7 670.76h13.64v1.18h-13.64zM347.7 685.61h13.64v1.18h-13.64zM347.7 689.31h13.64v1.18h-13.64zM361.0 552.97h13.64v2.10h-13.64zM361.0 556.68h13.64v1.18h-13.64zM361.0 559.46h13.64v1.18h-13.64zM361.0 578.01h13.64v3.96h-13.64zM361.0 593.78h13.64v2.10h-13.64zM361.0 629.95h13.64v1.18h-13.64zM361.0 634.59h13.64v1.18h-13.64zM374.4 532.57h13.64v1.18h-13.64zM374.4 541.84h13.64v1.18h-13.64zM374.4 543.70h13.64v3.03h-13.64zM374.4 549.26h13.64v1.18h-13.64zM374.4 580.80h13.64v2.10h-13.64zM374.4 619.75h13.64v3.03h-13.64zM374.4 629.95h13.64v1.18h-13.64zM374.4 673.55h13.64v1.18h-13.64zM374.4 675.40h13.64v1.18h-13.64zM374.4 677.26h13.64v1.18h-13.64z"/>
<path fill="#e9d9ff" d="M264.1 518.65h13.75v1.18h-13.75zM264.1 688.39h13.75v2.10h-13.75zM277.6 648.50h13.75v1.18h-13.75zM277.6 650.36h13.75v1.18h-13.75zM292.4 601.20h13.60v1.18h-13.60zM292.4 700.44h13.60v1.18h-13.60zM305.7 617.90h13.60v1.18h-13.60zM305.7 626.24h13.60v1.18h-13.60zM305.7 629.95h13.60v1.18h-13.60zM305.7 631.81h13.60v2.10h-13.60zM321.0 605.84h13.64v2.10h-13.64zM321.0 680.04h13.64v1.18h-13.64zM321.0 681.89h13.64v1.18h-13.64zM321.0 683.75h13.64v1.18h-13.64zM347.7 532.57h13.64v1.18h-13.64zM347.7 577.09h13.64v1.18h-13.64zM347.7 601.20h13.64v1.18h-13.64zM347.7 660.56h13.64v2.10h-13.64zM347.7 666.13h13.64v1.18h-13.64zM347.7 676.33h13.64v2.10h-13.64zM347.7 682.82h13.64v1.18h-13.64zM347.7 684.68h13.64v1.18h-13.64zM347.7 686.53h13.64v1.18h-13.64zM361.0 554.83h13.64v1.18h-13.64zM361.0 558.54h13.64v1.18h-13.64zM361.0 637.38h13.64v1.18h-13.64zM361.0 650.36h13.64v1.18h-13.64zM361.0 654.07h13.64v1.18h-13.64zM361.0 669.84h13.64v1.18h-13.64zM361.0 671.69h13.64v2.10h-13.64zM361.0 674.47h13.64v1.18h-13.64zM374.4 646.65h13.64v1.18h-13.64zM374.4 671.69h13.64v2.10h-13.64zM374.4 674.47h13.64v1.18h-13.64zM374.4 678.18h13.64v1.18h-13.64z"/>
<path fill="#efe3ff" d="M264.1 520.51h13.75v1.18h-13.75zM292.4 539.99h13.60v1.18h-13.60zM292.4 558.54h13.60v2.10h-13.60zM292.4 630.88h13.60v1.18h-13.60zM292.4 699.52h13.60v1.18h-13.60zM305.7 624.39h13.60v1.18h-13.60zM305.7 630.88h13.60v1.18h-13.60zM305.7 634.59h13.60v1.18h-13.60zM321.0 678.18h13.64v1.18h-13.64zM321.0 686.53h13.64v1.18h-13.64zM347.7 607.69h13.64v1.18h-13.64zM347.7 664.27h13.64v2.10h-13.64zM347.7 667.98h13.64v1.18h-13.64zM347.7 669.84h13.64v1.18h-13.64zM347.7 672.62h13.64v1.18h-13.64zM347.7 674.47h13.64v1.18h-13.64zM347.7 678.18h13.64v1.18h-13.64zM347.7 683.75h13.64v1.18h-13.64zM347.7 687.46h13.64v1.18h-13.64zM361.0 655.00h13.64v1.18h-13.64zM361.0 668.91h13.64v1.18h-13.64zM361.0 673.55h13.64v1.18h-13.64zM361.0 678.18h13.64v1.18h-13.64z"/>
<path fill="#a87eff" d="M264.1 522.37h13.75v1.18h-13.75zM264.1 614.19h13.75v1.18h-13.75zM264.1 636.45h13.75v1.18h-13.75zM305.7 616.04h13.60v1.18h-13.60zM374.4 613.26h13.64v1.18h-13.64z"/>
<path fill="#b690ff" d="M264.1 523.29h13.75v1.18h-13.75zM264.1 571.52h13.75v1.18h-13.75zM305.7 614.19h13.60v1.18h-13.60z"/>
<path fill="#cbabff" d="M264.1 524.22h13.75v1.18h-13.75zM264.1 526.07h13.75v1.18h-13.75zM264.1 527.93h13.75v1.18h-13.75zM264.1 532.57h13.75v1.18h-13.75zM264.1 539.99h13.75v1.18h-13.75zM264.1 541.84h13.75v1.18h-13.75zM264.1 551.12h13.75v1.18h-13.75zM264.1 558.54h13.75v1.18h-13.75zM264.1 568.74h13.75v1.18h-13.75zM264.1 578.94h13.75v1.18h-13.75zM264.1 603.98h13.75v2.10h-13.75zM264.1 609.55h13.75v1.18h-13.75zM264.1 626.24h13.75v1.18h-13.75zM264.1 649.43h13.75v1.18h-13.75zM264.1 670.76h13.75v1.18h-13.75zM264.1 673.55h13.75v1.18h-13.75zM277.6 579.87h13.75v1.18h-13.75zM277.6 584.51h13.75v1.18h-13.75zM277.6 587.29h13.75v1.18h-13.75zM277.6 594.71h13.75v1.18h-13.75zM277.6 596.56h13.75v1.18h-13.75zM277.6 616.04h13.75v2.10h-13.75zM277.6 618.82h13.75v1.18h-13.75zM277.6 624.39h13.75v1.18h-13.75zM277.6 637.38h13.75v1.18h-13.75zM277.6 649.43h13.75v1.18h-13.75zM277.6 658.71h13.75v1.18h-13.75zM277.6 662.42h13.75v1.18h-13.75zM277.6 666.13h13.75v1.18h-13.75zM277.6 692.10h13.75v1.18h-13.75zM277.6 694.88h13.75v1.18h-13.75zM277.6 697.66h13.75v1.18h-13.75zM292.4 547.41h13.60v1.18h-13.60zM292.4 549.26h13.60v1.18h-13.60zM305.7 593.78h13.60v1.18h-13.60zM305.7 596.56h13.60v1.18h-13.60zM305.7 600.27h13.60v1.18h-13.60zM305.7 605.84h13.60v1.18h-13.60zM305.7 609.55h13.60v1.18h-13.60zM305.7 642.94h13.60v1.18h-13.60zM305.7 662.42h13.60v1.18h-13.60zM305.7 665.20h13.60v1.18h-13.60zM305.7 671.69h13.60v1.18h-13.60zM305.7 698.59h13.60v2.10h-13.60zM321.0 689.31h13.64v2.10h-13.64zM321.0 695.81h13.64v1.18h-13.64zM321.0 697.66h13.64v2.10h-13.64zM321.0 701.37h13.64v1.18h-13.64zM334.3 648.50h13.64v1.18h-13.64zM334.3 651.29h13.64v1.18h-13.64zM334.3 656.85h13.64v2.10h-13.64zM334.3 659.63h13.64v3.03h-13.64zM334.3 680.97h13.64v1.18h-13.64zM334.3 682.82h13.64v1.18h-13.64zM334.3 684.68h13.64v1.18h-13.64zM334.3 692.10h13.64v1.18h-13.64zM334.3 693.95h13.64v1.18h-13.64zM334.3 698.59h13.64v1.18h-13.64zM347.7 572.45h13.64v1.18h-13.64zM347.7 578.94h13.64v1.18h-13.64zM347.7 589.14h13.64v1.18h-13.64zM347.7 591.00h13.64v1.18h-13.64zM361.0 635.52h13.64v1.18h-13.64zM374.4 529.78h13.64v1.18h-13.64zM374.4 534.42h13.64v1.18h-13.64zM374.4 548.33h13.64v1.18h-13.64zM374.4 558.54h13.64v1.18h-13.64zM374.4 560.39h13.64v1.18h-13.64zM374.4 563.17h13.64v1.18h-13.64zM374.4 565.03h13.64v1.18h-13.64zM374.4 567.81h13.64v1.18h-13.64zM374.4 575.23h13.64v1.18h-13.64zM374.4 579.87h13.64v1.18h-13.64zM374.4 615.12h13.64v3.03h-13.64zM374.4 618.82h13.64v1.18h-13.64z"/>
<path fill="#c4a2ff" d="M264.1 525.15h13.75v1.18h-13.75zM264.1 544.62h13.75v1.18h-13.75zM264.1 553.90h13.75v1.18h-13.75zM264.1 560.39h13.75v1.18h-13.75zM264.1 565.03h13.75v1.18h-13.75zM264.1 570.59h13.75v1.18h-13.75zM264.1 577.09h13.75v1.18h-13.75zM264.1 603.06h13.75v1.18h-13.75zM264.1 605.84h13.75v1.18h-13.75zM264.1 608.62h13.75v1.18h-13.75zM277.6 542.77h13.75v1.18h-13.75zM277.6 544.62h13.75v1.18h-13.75zM277.6 586.36h13.75v1.18h-13.75zM277.6 600.27h13.75v2.10h-13.75zM277.6 607.69h13.75v1.18h-13.75zM277.6 626.24h13.75v1.18h-13.75zM277.6 657.78h13.75v1.18h-13.75zM277.6 688.39h13.75v1.18h-13.75zM292.4 659.63h13.60v1.18h-13.60zM305.7 594.71h13.60v2.10h-13.60zM305.7 604.91h13.60v1.18h-13.60zM305.7 613.26h13.60v1.18h-13.60zM305.7 643.87h13.60v1.18h-13.60zM305.7 668.91h13.60v1.18h-13.60zM305.7 696.73h13.60v1.18h-13.60zM321.0 691.17h13.64v1.18h-13.64zM321.0 693.02h13.64v2.10h-13.64zM334.3 650.36h13.64v1.18h-13.64zM334.3 652.21h13.64v1.18h-13.64zM334.3 658.71h13.64v1.18h-13.64zM334.3 669.84h13.64v1.18h-13.64zM334.3 672.62h13.64v2.10h-13.64zM334.3 699.52h13.64v1.18h-13.64zM347.7 586.36h13.64v1.18h-13.64zM361.0 631.81h13.64v1.18h-13.64zM374.4 552.97h13.64v1.18h-13.64zM374.4 562.25h13.64v1.18h-13.64zM374.4 578.01h13.64v1.18h-13.64zM374.4 642.94h13.64v2.10h-13.64z"/>
<path fill="#af87ff" d="M264.1 527.00h13.75v1.18h-13.75zM264.1 552.97h13.75v1.18h-13.75zM277.6 588.22h13.75v1.18h-13.75zM292.4 555.75h13.60v1.18h-13.60zM361.0 632.74h13.64v1.18h-13.64z"/>
<path fill="#d1b4ff" d="M264.1 529.78h13.75v1.18h-13.75zM264.1 531.64h13.75v1.18h-13.75zM264.1 533.50h13.75v1.18h-13.75zM264.1 535.35h13.75v1.18h-13.75zM264.1 545.55h13.75v1.18h-13.75zM264.1 555.75h13.75v1.18h-13.75zM264.1 563.17h13.75v1.18h-13.75zM264.1 566.88h13.75v2.10h-13.75zM264.1 575.23h13.75v1.18h-13.75zM264.1 578.01h13.75v1.18h-13.75zM264.1 590.07h13.75v1.18h-13.75zM264.1 607.69h13.75v1.18h-13.75zM264.1 610.48h13.75v1.18h-13.75zM264.1 624.39h13.75v1.18h-13.75zM264.1 627.17h13.75v2.10h-13.75zM264.1 650.36h13.75v1.18h-13.75zM264.1 654.07h13.75v2.10h-13.75zM264.1 668.91h13.75v1.18h-13.75zM264.1 674.47h13.75v1.18h-13.75zM264.1 678.18h13.75v1.18h-13.75zM264.1 684.68h13.75v1.18h-13.75zM277.6 524.22h13.75v1.18h-13.75zM277.6 527.00h13.75v1.18h-13.75zM277.6 530.71h13.75v1.18h-13.75zM277.6 532.57h13.75v1.18h-13.75zM277.6 534.42h13.75v1.18h-13.75zM277.6 536.28h13.75v1.18h-13.75zM277.6 552.04h13.75v1.18h-13.75zM277.6 583.58h13.75v1.18h-13.75zM277.6 590.07h13.75v1.18h-13.75zM277.6 591.93h13.75v1.18h-13.75zM277.6 597.49h13.75v1.18h-13.75zM277.6 599.35h13.75v1.18h-13.75zM277.6 604.91h13.75v2.10h-13.75zM277.6 638.30h13.75v1.18h-13.75zM277.6 641.08h13.75v1.18h-13.75zM277.6 653.14h13.75v2.10h-13.75zM277.6 659.63h13.75v2.10h-13.75zM277.6 663.34h13.75v1.18h-13.75zM277.6 668.91h13.75v1.18h-13.75zM277.6 695.81h13.75v1.18h-13.75zM277.6 698.59h13.75v1.18h-13.75zM305.7 612.33h13.60v1.18h-13.60zM305.7 616.97h13.60v1.18h-13.60zM305.7 622.53h13.60v1.18h-13.60zM305.7 663.34h13.60v1.18h-13.60zM305.7 688.39h13.60v1.18h-13.60zM305.7 690.24h13.60v2.10h-13.60zM305.7 693.95h13.60v2.10h-13.60zM305.7 700.44h13.60v1.18h-13.60zM321.0 688.39h13.64v1.18h-13.64zM321.0 692.10h13.64v1.18h-13.64zM334.3 649.43h13.64v1.18h-13.64zM334.3 654.07h13.64v2.10h-13.64zM334.3 662.42h13.64v2.10h-13.64zM334.3 674.47h13.64v1.18h-13.64zM334.3 683.75h13.64v1.18h-13.64zM334.3 687.46h13.64v1.18h-13.64zM334.3 689.31h13.64v1.18h-13.64zM334.3 691.17h13.64v1.18h-13.64zM334.3 693.02h13.64v1.18h-13.64zM334.3 695.81h13.64v2.10h-13.64zM334.3 701.37h13.64v1.18h-13.64zM347.7 587.29h13.64v2.10h-13.64zM347.7 598.42h13.64v1.18h-13.64zM347.7 602.13h13.64v1.18h-13.64zM361.0 560.39h13.64v1.18h-13.64zM361.0 638.30h13.64v1.18h-13.64zM374.4 528.86h13.64v1.18h-13.64zM374.4 531.64h13.64v1.18h-13.64zM374.4 535.35h13.64v2.10h-13.64zM374.4 542.77h13.64v1.18h-13.64zM374.4 557.61h13.64v1.18h-13.64zM374.4 559.46h13.64v1.18h-13.64zM374.4 564.10h13.64v1.18h-13.64zM374.4 570.59h13.64v1.18h-13.64zM374.4 574.30h13.64v1.18h-13.64zM374.4 578.94h13.64v1.18h-13.64zM374.4 622.53h13.64v1.18h-13.64z"/>
<path fill="#ffd1c1" d="M264.1 536.28h13.75v1.18h-13.75zM264.1 581.72h13.75v2.10h-13.75zM264.1 588.22h13.75v1.18h-13.75zM264.1 617.90h13.75v1.18h-13.75zM264.1 621.61h13.75v1.18h-13.75zM264.1 631.81h13.75v1.18h-13.75zM264.1 634.59h13.75v1.18h-13.75zM264.1 639.23h13.75v1.18h-13.75zM264.1 645.72h13.75v1.18h-13.75zM264.1 647.58h13.75v1.18h-13.75zM264.1 667.98h13.75v1.18h-13.75zM264.1 699.52h13.75v1.18h-13.75zM277.6 520.51h13.75v2.10h-13.75zM277.6 545.55h13.75v1.18h-13.75zM277.6 558.54h13.75v1.18h-13.75zM277.6 568.74h13.75v1.18h-13.75zM277.6 572.45h13.75v1.18h-13.75zM277.6 633.66h13.75v1.18h-13.75zM277.6 635.52h13.75v1.18h-13.75zM277.6 675.40h13.75v3.03h-13.75zM277.6 684.68h13.75v1.18h-13.75zM292.4 516.80h13.60v2.10h-13.60zM292.4 520.51h13.60v1.18h-13.60zM292.4 527.93h13.60v1.18h-13.60zM292.4 534.42h13.60v2.10h-13.60zM292.4 544.62h13.60v1.18h-13.60zM292.4 552.04h13.60v1.18h-13.60zM292.4 581.72h13.60v1.18h-13.60zM292.4 584.51h13.60v1.18h-13.60zM292.4 592.85h13.60v1.18h-13.60zM292.4 594.71h13.60v1.18h-13.60zM292.4 605.84h13.60v2.10h-13.60zM292.4 616.04h13.60v1.18h-13.60zM292.4 619.75h13.60v1.18h-13.60zM292.4 625.32h13.60v1.18h-13.60zM292.4 628.10h13.60v1.18h-13.60zM292.4 638.30h13.60v1.18h-13.60zM292.4 640.16h13.60v1.18h-13.60zM292.4 645.72h13.60v1.18h-13.60zM292.4 650.36h13.60v1.18h-13.60zM292.4 661.49h13.60v1.18h-13.60zM292.4 665.20h13.60v2.10h-13.60zM292.4 671.69h13.60v2.10h-13.60zM292.4 681.89h13.60v1.18h-13.60zM292.4 688.39h13.60v1.18h-13.60zM292.4 693.02h13.60v1.18h-13.60zM292.4 694.88h13.60v2.10h-13.60zM292.4 697.66h13.60v1.18h-13.60zM305.7 518.65h13.60v1.18h-13.60zM305.7 521.44h13.60v1.18h-13.60zM305.7 523.29h13.60v1.18h-13.60zM305.7 529.78h13.60v1.18h-13.60zM305.7 542.77h13.60v1.18h-13.60zM305.7 544.62h13.60v1.18h-13.60zM305.7 551.12h13.60v1.18h-13.60zM305.7 567.81h13.60v1.18h-13.60zM305.7 570.59h13.60v1.18h-13.60zM305.7 579.87h13.60v2.10h-13.60zM305.7 591.93h13.60v1.18h-13.60zM305.7 597.49h13.60v1.18h-13.60zM305.7 640.16h13.60v1.18h-13.60zM305.7 644.79h13.60v1.18h-13.60zM305.7 647.58h13.60v1.18h-13.60zM305.7 652.21h13.60v1.18h-13.60zM305.7 676.33h13.60v1.18h-13.60zM305.7 680.04h13.60v2.10h-13.60zM305.7 689.31h13.60v1.18h-13.60zM321.0 516.80h13.64v1.18h-13.64zM321.0 520.51h13.64v1.18h-13.64zM321.0 532.57h13.64v3.03h-13.64zM321.0 579.87h13.64v1.18h-13.64zM321.0 585.43h13.64v1.18h-13.64zM321.0 590.07h13.64v1.18h-13.64zM321.0 591.93h13.64v1.18h-13.64zM321.0 626.24h13.64v1.18h-13.64zM321.0 628.10h13.64v1.18h-13.64zM321.0 636.45h13.64v1.18h-13.64zM321.0 640.16h13.64v1.18h-13.64zM321.0 650.36h13.64v2.10h-13.64zM321.0 653.14h13.64v1.18h-13.64zM321.0 663.34h13.64v1.18h-13.64zM321.0 670.76h13.64v1.18h-13.64zM321.0 672.62h13.64v1.18h-13.64zM321.0 674.47h13.64v1.18h-13.64zM334.3 585.43h13.64v3.03h-13.64zM334.3 589.14h13.64v2.10h-13.64zM334.3 593.78h13.64v1.18h-13.64zM334.3 619.75h13.64v1.18h-13.64zM334.3 623.46h13.64v1.18h-13.64zM334.3 628.10h13.64v1.18h-13.64zM334.3 639.23h13.64v1.18h-13.64zM334.3 676.33h13.64v1.18h-13.64zM334.3 678.18h13.64v1.18h-13.64zM347.7 524.22h13.64v1.18h-13.64zM347.7 531.64h13.64v1.18h-13.64zM347.7 539.99h13.64v2.10h-13.64zM347.7 553.90h13.64v1.18h-13.64zM347.7 561.32h13.64v2.10h-13.64zM347.7 584.51h13.64v2.10h-13.64zM347.7 592.85h13.64v1.18h-13.64zM347.7 608.62h13.64v1.18h-13.64zM347.7 614.19h13.64v1.18h-13.64zM347.7 623.46h13.64v1.18h-13.64zM347.7 627.17h13.64v1.18h-13.64zM347.7 629.95h13.64v2.10h-13.64zM347.7 634.59h13.64v1.18h-13.64zM347.7 647.58h13.64v1.18h-13.64zM347.7 652.21h13.64v1.18h-13.64zM347.7 655.92h13.64v1.18h-13.64zM347.7 658.71h13.64v1.18h-13.64zM347.7 694.88h13.64v1.18h-13.64zM347.7 696.73h13.64v1.18h-13.64zM361.0 516.80h13.64v1.18h-13.64zM361.0 526.07h13.64v1.18h-13.64zM361.0 530.71h13.64v1.18h-13.64zM361.0 543.70h13.64v2.10h-13.64zM361.0 546.48h13.64v2.10h-13.64zM361.0 549.26h13.64v1.18h-13.64zM361.0 564.10h13.64v1.18h-13.64zM361.0 570.59h13.64v2.10h-13.64zM361.0 582.65h13.64v1.18h-13.64zM361.0 605.84h13.64v1.18h-13.64zM361.0 607.69h13.64v1.18h-13.64zM361.0 621.61h13.64v2.10h-13.64zM361.0 625.32h13.64v1.18h-13.64zM361.0 628.10h13.64v1.18h-13.64zM361.0 658.71h13.64v2.10h-13.64zM361.0 663.34h13.64v1.18h-13.64zM361.0 665.20h13.64v1.18h-13.64zM361.0 667.98h13.64v1.18h-13.64zM361.0 682.82h13.64v3.96h-13.64zM361.0 698.59h13.64v1.18h-13.64zM374.4 517.73h13.64v1.18h-13.64zM374.4 519.58h13.64v1.18h-13.64zM374.4 537.20h13.64v1.18h-13.64zM374.4 588.22h13.64v1.18h-13.64zM374.4 591.93h13.64v2.10h-13.64zM374.4 606.77h13.64v1.18h-13.64zM374.4 628.10h13.64v1.18h-13.64zM374.4 635.52h13.64v1.18h-13.64zM374.4 641.08h13.64v1.18h-13.64zM374.4 654.07h13.64v1.18h-13.64zM374.4 655.92h13.64v2.10h-13.64zM374.4 666.13h13.64v1.18h-13.64zM374.4 680.97h13.64v1.18h-13.64zM374.4 682.82h13.64v1.18h-13.64zM374.4 687.46h13.64v1.18h-13.64zM374.4 693.95h13.64v1.18h-13.64zM374.4 698.59h13.64v1.18h-13.64z"/>
<path fill="#ffe8e0" d="M264.1 537.20h13.75v1.18h-13.75zM264.1 584.51h13.75v2.10h-13.75zM264.1 591.93h13.75v1.18h-13.75zM264.1 594.71h13.75v1.18h-13.75zM264.1 598.42h13.75v2.10h-13.75zM264.1 618.82h13.75v2.10h-13.75zM264.1 622.53h13.75v1.18h-13.75zM264.1 638.30h13.75v1.18h-13.75zM264.1 641.08h13.75v1.18h-13.75zM264.1 661.49h13.75v1.18h-13.75zM264.1 664.27h13.75v1.18h-13.75zM264.1 691.17h13.75v2.10h-13.75zM264.1 698.59h13.75v1.18h-13.75zM277.6 561.32h13.75v1.18h-13.75zM277.6 570.59h13.75v1.18h-13.75zM277.6 631.81h13.75v1.18h-13.75zM277.6 670.76h13.75v2.10h-13.75zM277.6 683.75h13.75v1.18h-13.75zM277.6 686.53h13.75v1.18h-13.75zM292.4 519.58h13.60v1.18h-13.60zM292.4 524.22h13.60v1.18h-13.60zM292.4 532.57h13.60v1.18h-13.60zM292.4 536.28h13.60v1.18h-13.60zM292.4 541.84h13.60v1.18h-13.60zM292.4 545.55h13.60v1.18h-13.60zM292.4 550.19h13.60v1.18h-13.60zM292.4 552.97h13.60v1.18h-13.60zM292.4 562.25h13.60v2.10h-13.60zM292.4 567.81h13.60v1.18h-13.60zM292.4 573.38h13.60v1.18h-13.60zM292.4 578.01h13.60v1.18h-13.60zM292.4 579.87h13.60v1.18h-13.60zM292.4 589.14h13.60v3.03h-13.60zM292.4 595.64h13.60v2.10h-13.60zM292.4 603.98h13.60v2.10h-13.60zM292.4 609.55h13.60v1.18h-13.60zM292.4 622.53h13.60v1.18h-13.60zM292.4 634.59h13.60v1.18h-13.60zM292.4 637.38h13.60v1.18h-13.60zM292.4 655.92h13.60v1.18h-13.60zM292.4 667.05h13.60v3.03h-13.60zM292.4 677.26h13.60v1.18h-13.60zM292.4 680.04h13.60v1.18h-13.60zM292.4 683.75h13.60v3.03h-13.60zM292.4 689.31h13.60v1.18h-13.60zM305.7 516.80h13.60v1.18h-13.60zM305.7 527.00h13.60v1.18h-13.60zM305.7 587.29h13.60v1.18h-13.60zM305.7 590.07h13.60v1.18h-13.60zM305.7 637.38h13.60v1.18h-13.60zM305.7 658.71h13.60v1.18h-13.60zM305.7 660.56h13.60v1.18h-13.60zM305.7 686.53h13.60v1.18h-13.60zM321.0 624.39h13.64v1.18h-13.64zM321.0 627.17h13.64v1.18h-13.64zM321.0 667.98h13.64v1.18h-13.64zM347.7 538.13h13.64v1.18h-13.64zM347.7 542.77h13.64v2.10h-13.64zM347.7 547.41h13.64v1.18h-13.64zM347.7 559.46h13.64v1.18h-13.64zM347.7 564.10h13.64v1.18h-13.64zM347.7 567.81h13.64v3.03h-13.64zM347.7 593.78h13.64v1.18h-13.64zM347.7 595.64h13.64v1.18h-13.64zM347.7 605.84h13.64v1.18h-13.64zM347.7 609.55h13.64v1.18h-13.64zM347.7 611.40h13.64v3.03h-13.64zM347.7 617.90h13.64v2.10h-13.64zM347.7 649.43h13.64v3.03h-13.64zM347.7 653.14h13.64v2.10h-13.64zM347.7 656.85h13.64v2.10h-13.64zM347.7 693.95h13.64v1.18h-13.64zM361.0 562.25h13.64v1.18h-13.64zM361.0 575.23h13.64v1.18h-13.64zM361.0 583.58h13.64v2.10h-13.64zM361.0 587.29h13.64v1.18h-13.64zM361.0 591.00h13.64v1.18h-13.64zM361.0 610.48h13.64v2.10h-13.64zM361.0 613.26h13.64v3.03h-13.64zM361.0 627.17h13.64v1.18h-13.64zM361.0 639.23h13.64v1.18h-13.64zM361.0 643.87h13.64v1.18h-13.64zM361.0 645.72h13.64v3.03h-13.64zM361.0 662.42h13.64v1.18h-13.64zM361.0 681.89h13.64v1.18h-13.64zM361.0 686.53h13.64v1.18h-13.64zM361.0 693.95h13.64v1.18h-13.64zM361.0 700.44h13.64v1.18h-13.64zM374.4 518.65h13.64v1.18h-13.64zM374.4 584.51h13.64v1.18h-13.64zM374.4 589.14h13.64v1.18h-13.64zM374.4 593.78h13.64v1.18h-13.64zM374.4 595.64h13.64v1.18h-13.64zM374.4 603.98h13.64v1.18h-13.64zM374.4 605.84h13.64v1.18h-13.64zM374.4 609.55h13.64v1.18h-13.64zM374.4 611.40h13.64v1.18h-13.64zM374.4 626.24h13.64v1.18h-13.64zM374.4 651.29h13.64v1.18h-13.64zM374.4 661.49h13.64v2.10h-13.64zM374.4 679.11h13.64v2.10h-13.64z"/>
<path fill="#bd99ff" d="M264.1 538.13h13.75v2.10h-13.75zM264.1 543.70h13.75v1.18h-13.75zM264.1 554.83h13.75v1.18h-13.75zM264.1 562.25h13.75v1.18h-13.75zM264.1 565.96h13.75v1.18h-13.75zM264.1 569.67h13.75v1.18h-13.75zM264.1 589.14h13.75v1.18h-13.75zM264.1 615.12h13.75v1.18h-13.75zM277.6 582.65h13.75v1.18h-13.75zM277.6 585.43h13.75v1.18h-13.75zM277.6 589.14h13.75v1.18h-13.75zM305.7 615.12h13.60v1.18h-13.60zM305.7 664.27h13.60v1.18h-13.60zM321.0 694.88h13.64v1.18h-13.64zM321.0 696.73h13.64v1.18h-13.64zM321.0 699.52h13.64v2.10h-13.64zM334.3 690.24h13.64v1.18h-13.64zM334.3 697.66h13.64v1.18h-13.64zM347.7 573.38h13.64v1.18h-13.64zM361.0 633.66h13.64v1.18h-13.64zM374.4 553.90h13.64v1.18h-13.64zM374.4 556.68h13.64v1.18h-13.64zM374.4 565.96h13.64v2.10h-13.64zM374.4 569.67h13.64v1.18h-13.64zM374.4 571.52h13.64v1.18h-13.64zM374.4 612.33h13.64v1.18h-13.64zM374.4 614.19h13.64v1.18h-13.64zM374.4 642.01h13.64v1.18h-13.64zM374.4 644.79h13.64v1.18h-13.64z"/>
<path fill="#5731ff" d="M264.1 548.33h13.75v3.03h-13.75zM277.6 609.55h13.75v3.03h-13.75zM277.6 623.46h13.75v1.18h-13.75zM305.7 623.46h13.60v1.18h-13.60zM321.0 675.40h13.64v3.03h-13.64zM374.4 572.45h13.64v1.18h-13.64z"/>
<path fill="#8659ff" d="M264.1 572.45h13.75v2.10h-13.75z"/>
<path fill="#ffe0d6" d="M264.1 579.87h13.75v1.18h-13.75zM264.1 583.58h13.75v1.18h-13.75zM264.1 591.00h13.75v1.18h-13.75zM264.1 596.56h13.75v2.10h-13.75zM264.1 630.88h13.75v1.18h-13.75zM264.1 637.38h13.75v1.18h-13.75zM264.1 660.56h13.75v1.18h-13.75zM264.1 701.37h13.75v1.18h-13.75zM277.6 565.96h13.75v1.18h-13.75zM277.6 567.81h13.75v1.18h-13.75zM277.6 569.67h13.75v1.18h-13.75zM277.6 630.88h13.75v1.18h-13.75zM277.6 632.74h13.75v1.18h-13.75zM277.6 634.59h13.75v1.18h-13.75zM277.6 672.62h13.75v1.18h-13.75zM277.6 674.47h13.75v1.18h-13.75zM277.6 679.11h13.75v1.18h-13.75zM277.6 680.97h13.75v3.03h-13.75zM277.6 685.61h13.75v1.18h-13.75zM277.6 687.46h13.75v1.18h-13.75zM292.4 526.07h13.60v1.18h-13.60zM292.4 531.64h13.60v1.18h-13.60zM292.4 537.20h13.60v2.10h-13.60zM292.4 546.48h13.60v1.18h-13.60zM292.4 551.12h13.60v1.18h-13.60zM292.4 560.39h13.60v2.10h-13.60zM292.4 564.10h13.60v1.18h-13.60zM292.4 566.88h13.60v1.18h-13.60zM292.4 569.67h13.60v2.10h-13.60zM292.4 576.16h13.60v1.18h-13.60zM292.4 583.58h13.60v1.18h-13.60zM292.4 591.93h13.60v1.18h-13.60zM292.4 607.69h13.60v1.18h-13.60zM292.4 617.90h13.60v1.18h-13.60zM292.4 620.68h13.60v1.18h-13.60zM292.4 633.66h13.60v1.18h-13.60zM292.4 642.01h13.60v1.18h-13.60zM292.4 643.87h13.60v1.18h-13.60zM292.4 646.65h13.60v1.18h-13.60zM292.4 653.14h13.60v1.18h-13.60zM292.4 663.34h13.60v1.18h-13.60zM292.4 674.47h13.60v2.10h-13.60zM292.4 679.11h13.60v1.18h-13.60zM292.4 680.97h13.60v1.18h-13.60zM292.4 687.46h13.60v1.18h-13.60zM292.4 690.24h13.60v1.18h-13.60zM292.4 692.10h13.60v1.18h-13.60zM292.4 693.95h13.60v1.18h-13.60zM305.7 519.58h13.60v1.18h-13.60zM305.7 528.86h13.60v1.18h-13.60zM305.7 532.57h13.60v1.18h-13.60zM305.7 534.42h13.60v1.18h-13.60zM305.7 540.91h13.60v1.18h-13.60zM305.7 559.46h13.60v1.18h-13.60zM305.7 561.32h13.60v1.18h-13.60zM305.7 563.17h13.60v1.18h-13.60zM305.7 568.74h13.60v1.18h-13.60zM305.7 582.65h13.60v1.18h-13.60zM305.7 584.51h13.60v1.18h-13.60zM305.7 599.35h13.60v1.18h-13.60zM305.7 638.30h13.60v1.18h-13.60zM305.7 641.08h13.60v1.18h-13.60zM305.7 656.85h13.60v1.18h-13.60zM305.7 659.63h13.60v1.18h-13.60zM305.7 672.62h13.60v1.18h-13.60zM305.7 674.47h13.60v2.10h-13.60zM305.7 683.75h13.60v3.03h-13.60zM321.0 517.73h13.64v1.18h-13.64zM321.0 519.58h13.64v1.18h-13.64zM321.0 525.15h13.64v1.18h-13.64zM321.0 625.32h13.64v1.18h-13.64zM321.0 635.52h13.64v1.18h-13.64zM321.0 641.08h13.64v1.18h-13.64zM321.0 642.94h13.64v1.18h-13.64zM321.0 652.21h13.64v1.18h-13.64zM321.0 661.49h13.64v2.10h-13.64zM321.0 669.84h13.64v1.18h-13.64zM334.3 621.61h13.64v1.18h-13.64zM334.3 626.24h13.64v1.18h-13.64zM334.3 675.40h13.64v1.18h-13.64zM334.3 677.26h13.64v1.18h-13.64zM334.3 680.04h13.64v1.18h-13.64zM347.7 516.80h13.64v1.18h-13.64zM347.7 536.28h13.64v2.10h-13.64zM347.7 557.61h13.64v2.10h-13.64zM347.7 560.39h13.64v1.18h-13.64zM347.7 563.17h13.64v1.18h-13.64zM347.7 583.58h13.64v1.18h-13.64zM347.7 594.71h13.64v1.18h-13.64zM347.7 603.98h13.64v2.10h-13.64zM347.7 615.12h13.64v1.18h-13.64zM347.7 622.53h13.64v1.18h-13.64zM347.7 628.10h13.64v1.18h-13.64zM347.7 637.38h13.64v1.18h-13.64zM347.7 641.08h13.64v1.18h-13.64zM347.7 648.50h13.64v1.18h-13.64zM347.7 691.17h13.64v1.18h-13.64zM347.7 695.81h13.64v1.18h-13.64zM347.7 700.44h13.64v1.18h-13.64zM361.0 532.57h13.64v3.03h-13.64zM361.0 541.84h13.64v1.18h-13.64zM361.0 563.17h13.64v1.18h-13.64zM361.0 565.03h13.64v1.18h-13.64zM361.0 588.22h13.64v1.18h-13.64zM361.0 601.20h13.64v1.18h-13.64zM361.0 612.33h13.64v1.18h-13.64zM361.0 620.68h13.64v1.18h-13.64zM361.0 623.46h13.64v1.18h-13.64zM361.0 641.08h13.64v3.03h-13.64zM361.0 644.79h13.64v1.18h-13.64zM361.0 657.78h13.64v1.18h-13.64zM361.0 661.49h13.64v1.18h-13.64zM361.0 664.27h13.64v1.18h-13.64zM361.0 680.04h13.64v2.10h-13.64zM361.0 687.46h13.64v1.18h-13.64zM361.0 691.17h13.64v1.18h-13.64zM361.0 697.66h13.64v1.18h-13.64zM374.4 516.80h13.64v1.18h-13.64zM374.4 520.51h13.64v1.18h-13.64zM374.4 523.29h13.64v1.18h-13.64zM374.4 538.13h13.64v1.18h-13.64zM374.4 540.91h13.64v1.18h-13.64zM374.4 583.58h13.64v1.18h-13.64zM374.4 586.36h13.64v1.18h-13.64zM374.4 594.71h13.64v1.18h-13.64zM374.4 604.91h13.64v1.18h-13.64zM374.4 608.62h13.64v1.18h-13.64zM374.4 610.48h13.64v1.18h-13.64zM374.4 636.45h13.64v1.18h-13.64zM374.4 639.23h13.64v1.18h-13.64zM374.4 667.98h13.64v1.18h-13.64zM374.4 669.84h13.64v2.10h-13.64zM374.4 681.89h13.64v1.18h-13.64zM374.4 683.75h13.64v3.03h-13.64zM374.4 693.02h13.64v1.18h-13.64zM374.4 700.44h13.64v1.18h-13.64z"/>
<path fill="#ffc9b7" d="M264.1 580.80h13.75v1.18h-13.75zM264.1 587.29h13.75v1.18h-13.75zM264.1 595.64h13.75v1.18h-13.75zM264.1 620.68h13.75v1.18h-13.75zM264.1 629.95h13.75v1.18h-13.75zM264.1 644.79h13.75v1.18h-13.75zM264.1 666.13h13.75v2.10h-13.75zM264.1 690.24h13.75v1.18h-13.75zM264.1 693.02h13.75v1.18h-13.75zM264.1 696.73h13.75v2.10h-13.75zM264.1 700.44h13.75v1.18h-13.75zM277.6 560.39h13.75v1.18h-13.75zM277.6 563.17h13.75v2.10h-13.75zM277.6 673.55h13.75v1.18h-13.75zM292.4 521.44h13.60v1.18h-13.60zM292.4 523.29h13.60v1.18h-13.60zM292.4 528.86h13.60v1.18h-13.60zM292.4 530.71h13.60v1.18h-13.60zM292.4 542.77h13.60v2.10h-13.60zM292.4 553.90h13.60v1.18h-13.60zM292.4 571.52h13.60v1.18h-13.60zM292.4 574.30h13.60v2.10h-13.60zM292.4 577.09h13.60v1.18h-13.60zM292.4 578.94h13.60v1.18h-13.60zM292.4 580.80h13.60v1.18h-13.60zM292.4 582.65h13.60v1.18h-13.60zM292.4 585.43h13.60v1.18h-13.60zM292.4 602.13h13.60v1.18h-13.60zM292.4 615.12h13.60v1.18h-13.60zM292.4 616.97h13.60v1.18h-13.60zM292.4 624.39h13.60v1.18h-13.60zM292.4 627.17h13.60v1.18h-13.60zM292.4 644.79h13.60v1.18h-13.60zM292.4 648.50h13.60v2.10h-13.60zM292.4 651.29h13.60v2.10h-13.60zM292.4 664.27h13.60v1.18h-13.60zM292.4 669.84h13.60v1.18h-13.60zM292.4 673.55h13.60v1.18h-13.60zM292.4 676.33h13.60v1.18h-13.60zM292.4 678.18h13.60v1.18h-13.60zM305.7 517.73h13.60v1.18h-13.60zM305.7 520.51h13.60v1.18h-13.60zM305.7 522.37h13.60v1.18h-13.60zM305.7 524.22h13.60v2.10h-13.60zM305.7 527.93h13.60v1.18h-13.60zM305.7 535.35h13.60v1.18h-13.60zM305.7 538.13h13.60v1.18h-13.60zM305.7 543.70h13.60v1.18h-13.60zM305.7 552.04h13.60v3.03h-13.60zM305.7 558.54h13.60v1.18h-13.60zM305.7 571.52h13.60v1.18h-13.60zM305.7 575.23h13.60v4.89h-13.60zM305.7 583.58h13.60v1.18h-13.60zM305.7 585.43h13.60v1.18h-13.60zM305.7 588.22h13.60v1.18h-13.60zM305.7 591.00h13.60v1.18h-13.60zM305.7 592.85h13.60v1.18h-13.60zM305.7 645.72h13.60v1.18h-13.60zM305.7 651.29h13.60v1.18h-13.60zM305.7 653.14h13.60v2.10h-13.60zM305.7 661.49h13.60v1.18h-13.60zM305.7 673.55h13.60v1.18h-13.60zM305.7 682.82h13.60v1.18h-13.60zM321.0 518.65h13.64v1.18h-13.64zM321.0 522.37h13.64v1.18h-13.64zM321.0 578.01h13.64v1.18h-13.64zM321.0 580.80h13.64v1.18h-13.64zM321.0 592.85h13.64v1.18h-13.64zM321.0 599.35h13.64v2.10h-13.64zM321.0 632.74h13.64v1.18h-13.64zM321.0 634.59h13.64v1.18h-13.64zM321.0 638.30h13.64v2.10h-13.64zM321.0 642.01h13.64v1.18h-13.64zM321.0 643.87h13.64v1.18h-13.64zM321.0 654.07h13.64v2.10h-13.64zM321.0 660.56h13.64v1.18h-13.64zM321.0 665.20h13.64v1.18h-13.64zM321.0 667.05h13.64v1.18h-13.64zM321.0 668.91h13.64v1.18h-13.64zM334.3 516.80h13.64v1.18h-13.64zM334.3 528.86h13.64v1.18h-13.64zM334.3 530.71h13.64v1.18h-13.64zM334.3 533.50h13.64v1.18h-13.64zM334.3 561.32h13.64v1.18h-13.64zM334.3 572.45h13.64v1.18h-13.64zM334.3 574.30h13.64v1.18h-13.64zM334.3 577.09h13.64v1.18h-13.64zM334.3 582.65h13.64v1.18h-13.64zM334.3 584.51h13.64v1.18h-13.64zM334.3 588.22h13.64v1.18h-13.64zM334.3 603.98h13.64v2.10h-13.64zM334.3 620.68h13.64v1.18h-13.64zM334.3 627.17h13.64v1.18h-13.64zM334.3 636.45h13.64v2.10h-13.64zM347.7 518.65h13.64v1.18h-13.64zM347.7 525.15h13.64v1.18h-13.64zM347.7 527.00h13.64v1.18h-13.64zM347.7 528.86h13.64v2.10h-13.64zM347.7 535.35h13.64v1.18h-13.64zM347.7 539.06h13.64v1.18h-13.64zM347.7 545.55h13.64v2.10h-13.64zM347.7 552.04h13.64v1.18h-13.64zM347.7 565.96h13.64v2.10h-13.64zM347.7 603.06h13.64v1.18h-13.64zM347.7 616.04h13.64v1.18h-13.64zM347.7 619.75h13.64v1.18h-13.64zM347.7 621.61h13.64v1.18h-13.64zM347.7 624.39h13.64v1.18h-13.64zM347.7 626.24h13.64v1.18h-13.64zM347.7 629.03h13.64v1.18h-13.64zM347.7 636.45h13.64v1.18h-13.64zM347.7 639.23h13.64v1.18h-13.64zM347.7 645.72h13.64v1.18h-13.64zM347.7 655.00h13.64v1.18h-13.64zM347.7 659.63h13.64v1.18h-13.64zM347.7 699.52h13.64v1.18h-13.64zM361.0 517.73h13.64v1.18h-13.64zM361.0 521.44h13.64v1.18h-13.64zM361.0 523.29h13.64v1.18h-13.64zM361.0 536.28h13.64v1.18h-13.64zM361.0 540.91h13.64v1.18h-13.64zM361.0 545.55h13.64v1.18h-13.64zM361.0 550.19h13.64v2.10h-13.64zM361.0 561.32h13.64v1.18h-13.64zM361.0 565.96h13.64v2.10h-13.64zM361.0 569.67h13.64v1.18h-13.64zM361.0 573.38h13.64v2.10h-13.64zM361.0 585.43h13.64v2.10h-13.64zM361.0 591.93h13.64v1.18h-13.64zM361.0 600.27h13.64v1.18h-13.64zM361.0 603.98h13.64v1.18h-13.64zM361.0 616.04h13.64v4.89h-13.64zM361.0 624.39h13.64v1.18h-13.64zM361.0 629.03h13.64v1.18h-13.64zM361.0 660.56h13.64v1.18h-13.64zM361.0 666.13h13.64v1.18h-13.64zM361.0 696.73h13.64v1.18h-13.64zM361.0 699.52h13.64v1.18h-13.64zM361.0 701.37h13.64v1.18h-13.64zM374.4 522.37h13.64v1.18h-13.64zM374.4 585.43h13.64v1.18h-13.64zM374.4 591.00h13.64v1.18h-13.64zM374.4 597.49h13.64v1.18h-13.64zM374.4 599.35h13.64v2.10h-13.64zM374.4 603.06h13.64v1.18h-13.64zM374.4 607.69h13.64v1.18h-13.64zM374.4 625.32h13.64v1.18h-13.64zM374.4 634.59h13.64v1.18h-13.64zM374.4 650.36h13.64v1.18h-13.64zM374.4 652.21h13.64v1.18h-13.64zM374.4 663.34h13.64v1.18h-13.64zM374.4 668.91h13.64v1.18h-13.64zM374.4 689.31h13.64v1.18h-13.64zM374.4 691.17h13.64v2.10h-13.64z"/>
<path fill="#ffd9cb" d="M264.1 586.36h13.75v1.18h-13.75zM264.1 592.85h13.75v2.10h-13.75zM264.1 616.97h13.75v1.18h-13.75zM264.1 632.74h13.75v2.10h-13.75zM264.1 640.16h13.75v1.18h-13.75zM264.1 646.65h13.75v1.18h-13.75zM264.1 662.42h13.75v2.10h-13.75zM264.1 665.20h13.75v1.18h-13.75zM277.6 522.37h13.75v1.18h-13.75zM277.6 546.48h13.75v2.10h-13.75zM277.6 557.61h13.75v1.18h-13.75zM277.6 559.46h13.75v1.18h-13.75zM277.6 562.25h13.75v1.18h-13.75zM277.6 565.03h13.75v1.18h-13.75zM277.6 566.88h13.75v1.18h-13.75zM277.6 571.52h13.75v1.18h-13.75zM277.6 573.38h13.75v3.03h-13.75zM277.6 678.18h13.75v1.18h-13.75zM277.6 680.04h13.75v1.18h-13.75zM292.4 518.65h13.60v1.18h-13.60zM292.4 522.37h13.60v1.18h-13.60zM292.4 525.15h13.60v1.18h-13.60zM292.4 527.00h13.60v1.18h-13.60zM292.4 529.78h13.60v1.18h-13.60zM292.4 533.50h13.60v1.18h-13.60zM292.4 539.06h13.60v1.18h-13.60zM292.4 565.03h13.60v2.10h-13.60zM292.4 568.74h13.60v1.18h-13.60zM292.4 572.45h13.60v1.18h-13.60zM292.4 588.22h13.60v1.18h-13.60zM292.4 593.78h13.60v1.18h-13.60zM292.4 597.49h13.60v1.18h-13.60zM292.4 603.06h13.60v1.18h-13.60zM292.4 608.62h13.60v1.18h-13.60zM292.4 614.19h13.60v1.18h-13.60zM292.4 618.82h13.60v1.18h-13.60zM292.4 621.61h13.60v1.18h-13.60zM292.4 623.46h13.60v1.18h-13.60zM292.4 626.24h13.60v1.18h-13.60zM292.4 629.03h13.60v1.18h-13.60zM292.4 631.81h13.60v2.10h-13.60zM292.4 639.23h13.60v1.18h-13.60zM292.4 641.08h13.60v1.18h-13.60zM292.4 642.94h13.60v1.18h-13.60zM292.4 647.58h13.60v1.18h-13.60zM292.4 654.07h13.60v2.10h-13.60zM292.4 656.85h13.60v2.10h-13.60zM292.4 662.42h13.60v1.18h-13.60zM292.4 670.76h13.60v1.18h-13.60zM292.4 682.82h13.60v1.18h-13.60zM292.4 686.53h13.60v1.18h-13.60zM292.4 691.17h13.60v1.18h-13.60zM292.4 696.73h13.60v1.18h-13.60zM305.7 526.07h13.60v1.18h-13.60zM305.7 531.64h13.60v1.18h-13.60zM305.7 533.50h13.60v1.18h-13.60zM305.7 539.06h13.60v2.10h-13.60zM305.7 548.33h13.60v1.18h-13.60zM305.7 557.61h13.60v1.18h-13.60zM305.7 564.10h13.60v3.03h-13.60zM305.7 569.67h13.60v1.18h-13.60zM305.7 581.72h13.60v1.18h-13.60zM305.7 586.36h13.60v1.18h-13.60zM305.7 589.14h13.60v1.18h-13.60zM305.7 598.42h13.60v1.18h-13.60zM305.7 639.23h13.60v1.18h-13.60zM305.7 655.00h13.60v2.10h-13.60zM305.7 657.78h13.60v1.18h-13.60zM305.7 677.26h13.60v3.03h-13.60zM305.7 681.89h13.60v1.18h-13.60zM305.7 687.46h13.60v1.18h-13.60zM321.0 521.44h13.64v1.18h-13.64zM321.0 523.29h13.64v1.18h-13.64zM321.0 527.93h13.64v1.18h-13.64zM321.0 596.56h13.64v2.10h-13.64zM321.0 629.03h13.64v1.18h-13.64zM321.0 637.38h13.64v1.18h-13.64zM321.0 664.27h13.64v1.18h-13.64zM321.0 666.13h13.64v1.18h-13.64zM321.0 671.69h13.64v1.18h-13.64zM321.0 673.55h13.64v1.18h-13.64zM334.3 591.93h13.64v2.10h-13.64zM334.3 594.71h13.64v1.18h-13.64zM334.3 618.82h13.64v1.18h-13.64zM334.3 624.39h13.64v1.18h-13.64zM334.3 679.11h13.64v1.18h-13.64zM347.7 517.73h13.64v1.18h-13.64zM347.7 522.37h13.64v2.10h-13.64zM347.7 526.07h13.64v1.18h-13.64zM347.7 527.93h13.64v1.18h-13.64zM347.7 530.71h13.64v1.18h-13.64zM347.7 541.84h13.64v1.18h-13.64zM347.7 544.62h13.64v1.18h-13.64zM347.7 554.83h13.64v1.18h-13.64zM347.7 565.03h13.64v1.18h-13.64zM347.7 570.59h13.64v2.10h-13.64zM347.7 582.65h13.64v1.18h-13.64zM347.7 610.48h13.64v1.18h-13.64zM347.7 616.97h13.64v1.18h-13.64zM347.7 620.68h13.64v1.18h-13.64zM347.7 625.32h13.64v1.18h-13.64zM347.7 633.66h13.64v1.18h-13.64zM347.7 640.16h13.64v1.18h-13.64zM347.7 644.79h13.64v1.18h-13.64zM347.7 646.65h13.64v1.18h-13.64zM347.7 690.24h13.64v1.18h-13.64zM347.7 692.10h13.64v2.10h-13.64zM347.7 697.66h13.64v2.10h-13.64zM347.7 701.37h13.64v1.18h-13.64zM361.0 519.58h13.64v2.10h-13.64zM361.0 522.37h13.64v1.18h-13.64zM361.0 527.00h13.64v2.10h-13.64zM361.0 529.78h13.64v1.18h-13.64zM361.0 531.64h13.64v1.18h-13.64zM361.0 537.20h13.64v1.18h-13.64zM361.0 539.99h13.64v1.18h-13.64zM361.0 542.77h13.64v1.18h-13.64zM361.0 567.81h13.64v2.10h-13.64zM361.0 572.45h13.64v1.18h-13.64zM361.0 589.14h13.64v2.10h-13.64zM361.0 596.56h13.64v1.18h-13.64zM361.0 599.35h13.64v1.18h-13.64zM361.0 603.06h13.64v1.18h-13.64zM361.0 608.62h13.64v2.10h-13.64zM361.0 626.24h13.64v1.18h-13.64zM361.0 640.16h13.64v1.18h-13.64zM361.0 667.05h13.64v1.18h-13.64zM361.0 679.11h13.64v1.18h-13.64zM361.0 688.39h13.64v3.03h-13.64zM361.0 692.10h13.64v2.10h-13.64zM361.0 694.88h13.64v2.10h-13.64zM374.4 521.44h13.64v1.18h-13.64zM374.4 539.06h13.64v2.10h-13.64zM374.4 582.65h13.64v1.18h-13.64zM374.4 587.29h13.64v1.18h-13.64zM374.4 590.07h13.64v1.18h-13.64zM374.4 596.56h13.64v1.18h-13.64zM374.4 598.42h13.64v1.18h-13.64zM374.4 601.20h13.64v2.10h-13.64zM374.4 627.17h13.64v1.18h-13.64zM374.4 629.03h13.64v1.18h-13.64zM374.4 638.30h13.64v1.18h-13.64zM374.4 653.14h13.64v1.18h-13.64zM374.4 655.00h13.64v1.18h-13.64zM374.4 657.78h13.64v1.18h-13.64zM374.4 664.27h13.64v2.10h-13.64zM374.4 667.05h13.64v1.18h-13.64zM374.4 686.53h13.64v1.18h-13.64zM374.4 695.81h13.64v2.10h-13.64zM374.4 699.52h13.64v1.18h-13.64z"/>
<path fill="#e3d0ff" d="M264.1 600.27h13.75v2.10h-13.75zM264.1 623.46h13.75v1.18h-13.75zM264.1 625.32h13.75v1.18h-13.75zM264.1 648.50h13.75v1.18h-13.75zM264.1 653.14h13.75v1.18h-13.75zM264.1 669.84h13.75v1.18h-13.75zM264.1 679.11h13.75v1.18h-13.75zM264.1 680.97h13.75v1.18h-13.75zM264.1 685.61h13.75v2.10h-13.75zM277.6 531.64h13.75v1.18h-13.75zM277.6 537.20h13.75v1.18h-13.75zM277.6 548.33h13.75v3.03h-13.75zM277.6 576.16h13.75v1.18h-13.75zM277.6 592.85h13.75v2.10h-13.75zM277.6 602.13h13.75v1.18h-13.75zM277.6 603.98h13.75v1.18h-13.75zM277.6 619.75h13.75v1.18h-13.75zM277.6 625.32h13.75v1.18h-13.75zM277.6 627.17h13.75v1.18h-13.75zM277.6 636.45h13.75v1.18h-13.75zM277.6 639.23h13.75v1.18h-13.75zM277.6 646.65h13.75v1.18h-13.75zM277.6 651.29h13.75v1.18h-13.75zM277.6 655.00h13.75v1.18h-13.75zM277.6 665.20h13.75v1.18h-13.75zM277.6 691.17h13.75v1.18h-13.75zM277.6 699.52h13.75v3.03h-13.75zM292.4 548.33h13.60v1.18h-13.60zM305.7 574.30h13.60v1.18h-13.60zM305.7 601.20h13.60v3.03h-13.60zM305.7 610.48h13.60v1.18h-13.60zM305.7 619.75h13.60v1.18h-13.60zM305.7 701.37h13.60v1.18h-13.60zM321.0 604.91h13.64v1.18h-13.64zM321.0 607.69h13.64v1.18h-13.64zM321.0 680.97h13.64v1.18h-13.64zM321.0 682.82h13.64v1.18h-13.64zM321.0 685.61h13.64v1.18h-13.64zM334.3 653.14h13.64v1.18h-13.64zM334.3 668.91h13.64v1.18h-13.64zM334.3 670.76h13.64v1.18h-13.64zM347.7 533.50h13.64v1.18h-13.64zM347.7 574.30h13.64v2.10h-13.64zM347.7 579.87h13.64v3.03h-13.64zM347.7 591.93h13.64v1.18h-13.64zM347.7 606.77h13.64v1.18h-13.64zM347.7 662.42h13.64v1.18h-13.64zM347.7 668.91h13.64v1.18h-13.64zM347.7 675.40h13.64v1.18h-13.64zM347.7 680.97h13.64v1.18h-13.64zM347.7 688.39h13.64v1.18h-13.64zM361.0 581.72h13.64v1.18h-13.64zM361.0 592.85h13.64v1.18h-13.64zM361.0 651.29h13.64v1.18h-13.64zM361.0 653.14h13.64v1.18h-13.64zM361.0 670.76h13.64v1.18h-13.64zM361.0 676.33h13.64v2.10h-13.64zM374.4 525.15h13.64v1.18h-13.64zM374.4 530.71h13.64v1.18h-13.64zM374.4 550.19h13.64v1.18h-13.64zM374.4 576.16h13.64v1.18h-13.64zM374.4 645.72h13.64v1.18h-13.64zM374.4 647.58h13.64v2.10h-13.64z"/>
<path fill="#3117ff" d="M264.1 613.26h13.75v1.18h-13.75zM264.1 642.01h13.75v3.03h-13.75zM277.6 538.13h13.75v3.96h-13.75zM277.6 612.33h13.75v3.96h-13.75zM277.6 642.01h13.75v3.03h-13.75zM292.4 635.52h13.60v2.10h-13.60zM305.7 635.52h13.60v2.10h-13.60zM374.4 526.07h13.64v2.10h-13.64zM374.4 623.46h13.64v2.10h-13.64z"/>
<path fill="#a074ff" d="M264.1 616.04h13.75v1.18h-13.75zM292.4 554.83h13.60v1.18h-13.60z"/>
<path fill="#976bff" d="M264.1 635.52h13.75v1.18h-13.75z"/>
<path fill="#ffc2ad" d="M264.1 655.92h13.75v1.18h-13.75zM264.1 695.81h13.75v1.18h-13.75zM292.4 586.36h13.60v2.10h-13.60zM292.4 613.26h13.60v1.18h-13.60zM305.7 530.71h13.60v1.18h-13.60zM305.7 541.84h13.60v1.18h-13.60zM305.7 549.26h13.60v1.18h-13.60zM305.7 556.68h13.60v1.18h-13.60zM305.7 560.39h13.60v1.18h-13.60zM305.7 562.25h13.60v1.18h-13.60zM305.7 566.88h13.60v1.18h-13.60zM305.7 646.65h13.60v1.18h-13.60zM305.7 648.50h13.60v2.10h-13.60zM321.0 528.86h13.64v1.18h-13.64zM321.0 557.61h13.64v1.18h-13.64zM321.0 560.39h13.64v1.18h-13.64zM321.0 577.09h13.64v1.18h-13.64zM321.0 593.78h13.64v1.18h-13.64zM321.0 595.64h13.64v1.18h-13.64zM321.0 601.20h13.64v1.18h-13.64zM321.0 603.06h13.64v2.10h-13.64zM321.0 630.88h13.64v1.18h-13.64zM334.3 539.06h13.64v1.18h-13.64zM334.3 543.70h13.64v1.18h-13.64zM334.3 560.39h13.64v1.18h-13.64zM334.3 573.38h13.64v1.18h-13.64zM334.3 603.06h13.64v1.18h-13.64zM334.3 605.84h13.64v1.18h-13.64zM334.3 625.32h13.64v1.18h-13.64zM334.3 629.03h13.64v2.10h-13.64zM334.3 634.59h13.64v1.18h-13.64zM334.3 638.30h13.64v1.18h-13.64zM334.3 641.08h13.64v1.18h-13.64zM347.7 519.58h13.64v2.10h-13.64zM347.7 552.97h13.64v1.18h-13.64zM347.7 555.75h13.64v1.18h-13.64zM347.7 631.81h13.64v2.10h-13.64zM347.7 635.52h13.64v1.18h-13.64zM347.7 638.30h13.64v1.18h-13.64zM361.0 518.65h13.64v1.18h-13.64zM361.0 525.15h13.64v1.18h-13.64zM361.0 528.86h13.64v1.18h-13.64zM361.0 535.35h13.64v1.18h-13.64zM361.0 538.13h13.64v2.10h-13.64zM361.0 548.33h13.64v1.18h-13.64zM361.0 552.04h13.64v1.18h-13.64zM361.0 598.42h13.64v1.18h-13.64zM361.0 602.13h13.64v1.18h-13.64zM361.0 604.91h13.64v1.18h-13.64zM374.4 630.88h13.64v1.18h-13.64zM374.4 632.74h13.64v2.10h-13.64zM374.4 640.16h13.64v1.18h-13.64zM374.4 688.39h13.64v1.18h-13.64zM374.4 690.24h13.64v1.18h-13.64zM374.4 694.88h13.64v1.18h-13.64zM374.4 697.66h13.64v1.18h-13.64zM374.4 701.37h13.64v1.18h-13.64z"/>
<path fill="#ffaa90" d="M264.1 656.85h13.75v2.10h-13.75zM292.4 611.40h13.60v1.18h-13.60zM305.7 536.28h13.60v1.18h-13.60zM321.0 559.46h13.64v1.18h-13.64zM321.0 617.90h13.64v1.18h-13.64zM321.0 622.53h13.64v1.18h-13.64zM321.0 631.81h13.64v1.18h-13.64zM334.3 531.64h13.64v1.18h-13.64zM334.3 534.42h13.64v1.18h-13.64zM334.3 540.91h13.64v1.18h-13.64zM334.3 544.62h13.64v1.18h-13.64zM334.3 552.04h13.64v1.18h-13.64zM334.3 558.54h13.64v2.10h-13.64zM334.3 562.25h13.64v2.10h-13.64zM334.3 565.03h13.64v1.18h-13.64zM334.3 610.48h13.64v1.18h-13.64zM334.3 612.33h13.64v1.18h-13.64z"/>
<path fill="#ff8160" d="M264.1 658.71h13.75v1.18h-13.75zM334.3 517.73h13.64v1.18h-13.64zM347.7 551.12h13.64v1.18h-13.64z"/>
<path fill="#ff9273" d="M264.1 659.63h13.75v1.18h-13.75zM321.0 544.62h13.64v1.18h-13.64zM321.0 546.48h13.64v2.10h-13.64zM334.3 521.44h13.64v1.18h-13.64zM334.3 553.90h13.64v1.18h-13.64zM334.3 566.88h13.64v1.18h-13.64zM334.3 570.59h13.64v1.18h-13.64z"/>
<path fill="#ffb299" d="M264.1 693.95h13.75v1.18h-13.75zM277.6 556.68h13.75v1.18h-13.75zM292.4 610.48h13.60v1.18h-13.60zM292.4 612.33h13.60v1.18h-13.60zM305.7 537.20h13.60v1.18h-13.60zM321.0 529.78h13.64v1.18h-13.64zM321.0 558.54h13.64v1.18h-13.64zM321.0 578.94h13.64v1.18h-13.64zM321.0 581.72h13.64v1.18h-13.64zM321.0 618.82h13.64v2.10h-13.64zM334.3 529.78h13.64v1.18h-13.64zM334.3 532.57h13.64v1.18h-13.64zM334.3 550.19h13.64v1.18h-13.64zM334.3 557.61h13.64v1.18h-13.64zM334.3 575.23h13.64v1.18h-13.64zM334.3 578.94h13.64v3.03h-13.64zM334.3 601.20h13.64v2.10h-13.64zM334.3 640.16h13.64v1.18h-13.64zM347.7 642.01h13.64v2.10h-13.64zM361.0 606.77h13.64v1.18h-13.64z"/>
<path fill="#ffbaa3" d="M264.1 694.88h13.75v1.18h-13.75zM305.7 547.41h13.60v1.18h-13.60zM305.7 550.19h13.60v1.18h-13.60zM305.7 650.36h13.60v1.18h-13.60zM321.0 524.22h13.64v1.18h-13.64zM321.0 530.71h13.64v2.10h-13.64zM321.0 552.97h13.64v1.18h-13.64zM321.0 582.65h13.64v3.03h-13.64zM321.0 591.00h13.64v1.18h-13.64zM321.0 594.71h13.64v1.18h-13.64zM321.0 598.42h13.64v1.18h-13.64zM321.0 602.13h13.64v1.18h-13.64zM321.0 615.12h13.64v1.18h-13.64zM321.0 620.68h13.64v1.18h-13.64zM321.0 633.66h13.64v1.18h-13.64zM334.3 527.93h13.64v1.18h-13.64zM334.3 537.20h13.64v1.18h-13.64zM334.3 539.99h13.64v1.18h-13.64zM334.3 541.84h13.64v2.10h-13.64zM334.3 556.68h13.64v1.18h-13.64zM334.3 576.16h13.64v1.18h-13.64zM334.3 578.01h13.64v1.18h-13.64zM334.3 581.72h13.64v1.18h-13.64zM334.3 583.58h13.64v1.18h-13.64zM334.3 591.00h13.64v1.18h-13.64zM334.3 595.64h13.64v3.96h-13.64zM334.3 606.77h13.64v3.96h-13.64zM334.3 622.53h13.64v1.18h-13.64zM334.3 633.66h13.64v1.18h-13.64zM334.3 635.52h13.64v1.18h-13.64zM347.7 521.44h13.64v1.18h-13.64zM347.7 556.68h13.64v1.18h-13.64zM347.7 643.87h13.64v1.18h-13.64zM361.0 597.49h13.64v1.18h-13.64zM374.4 631.81h13.64v1.18h-13.64zM374.4 637.38h13.64v1.18h-13.64z"/>
<path fill="#ff9a7c" d="M277.6 554.83h13.75v2.10h-13.75zM321.0 545.55h13.64v1.18h-13.64zM321.0 569.67h13.64v1.18h-13.64zM321.0 586.36h13.64v2.10h-13.64zM334.3 564.10h13.64v1.18h-13.64zM334.3 565.96h13.64v1.18h-13.64zM334.3 571.52h13.64v1.18h-13.64zM334.3 611.40h13.64v1.18h-13.64zM334.3 614.19h13.64v1.18h-13.64zM347.7 548.33h13.64v3.03h-13.64z"/>
<path fill="#ff6f4d" d="M305.7 545.55h13.60v2.10h-13.60z"/>
<path fill="#ff6544" d="M305.7 554.83h13.60v2.10h-13.60z"/>
<path fill="#ff4427" d="M321.0 526.07h13.64v2.10h-13.64zM321.0 548.33h13.64v4.89h-13.64zM321.0 573.38h13.64v3.96h-13.64zM321.0 623.46h13.64v1.18h-13.64zM334.3 613.26h13.64v1.18h-13.64z"/>
<path fill="#ff2410" d="M321.0 535.35h13.64v9.53h-13.64zM321.0 562.25h13.64v7.67h-13.64zM321.0 608.62h13.64v5.81h-13.64zM321.0 644.79h13.64v5.81h-13.64zM321.0 655.92h13.64v4.89h-13.64zM334.3 523.29h13.64v3.03h-13.64z"/>
<path fill="#ffa286" d="M321.0 553.90h13.64v2.10h-13.64zM321.0 561.32h13.64v1.18h-13.64zM321.0 570.59h13.64v2.10h-13.64zM321.0 614.19h13.64v1.18h-13.64zM321.0 616.04h13.64v2.10h-13.64zM321.0 621.61h13.64v1.18h-13.64zM334.3 538.13h13.64v1.18h-13.64zM334.3 545.55h13.64v1.18h-13.64zM334.3 551.12h13.64v1.18h-13.64zM334.3 552.97h13.64v1.18h-13.64zM334.3 568.74h13.64v2.10h-13.64zM334.3 599.35h13.64v2.10h-13.64zM334.3 615.12h13.64v1.18h-13.64zM334.3 616.97h13.64v2.10h-13.64zM361.0 524.22h13.64v1.18h-13.64z"/>
<path fill="#ff5031" d="M321.0 555.75h13.64v2.10h-13.64zM334.3 526.07h13.64v2.10h-13.64zM334.3 630.88h13.64v3.03h-13.64z"/>
<path fill="#ff7857" d="M321.0 572.45h13.64v1.18h-13.64zM334.3 520.51h13.64v1.18h-13.64zM334.3 522.37h13.64v1.18h-13.64z"/>
<path fill="#ff8969" d="M321.0 588.22h13.64v2.10h-13.64zM334.3 518.65h13.64v2.10h-13.64zM334.3 567.81h13.64v1.18h-13.64zM334.3 616.04h13.64v1.18h-13.64z"/>
<path fill="#ff5b3a" d="M334.3 535.35h13.64v2.10h-13.64zM334.3 546.48h13.64v3.96h-13.64zM334.3 642.01h13.64v3.03h-13.64zM374.4 658.71h13.64v3.03h-13.64z"/>
<path fill="#7145ff" d="M334.3 644.79h13.64v2.10h-13.64z"/>
<path d="M256.0 517.3H255.6V518.2H256.0M256.0 519.1H255.6V520.0H256.0M256.0 523.8H255.6V524.7H256.0M256.0 522.8H255.4V524.2H255.6M256.0 521.9H255.1V523.5H255.4M256.0 521.0H254.9V522.7H255.1M255.6 519.6H254.6V521.8H254.9M255.6 517.7H254.4V520.7H254.6M256.0 526.5H255.6V527.5H256.0M256.0 525.6H255.4V527.0H255.6M256.0 529.3H255.6V530.2H256.0M256.0 528.4H255.4V529.8H255.6M255.4 526.3H255.1V529.1H255.4M254.4 519.2H254.1V527.7H255.1M256.0 531.2H255.6V532.1H256.0M256.0 533.0H255.7V534.0H256.0M255.6 531.6H255.4V533.5H255.7M256.0 534.9H255.7V535.8H256.0M256.0 536.7H255.6V537.7H256.0M256.0 538.6H255.6V539.5H256.0M255.6 537.2H255.3V539.1H255.6M255.7 535.3H255.1V538.1H255.3M255.4 532.6H254.8V536.7H255.1M256.0 541.4H255.6V542.3H256.0M256.0 540.5H255.4V541.8H255.6M256.0 544.2H255.6V545.1H256.0M256.0 543.2H255.4V544.6H255.6M255.4 541.1H255.1V543.9H255.4M256.0 546.0H255.7V546.9H256.0M256.0 547.9H255.6V548.8H256.0M255.7 546.5H255.4V548.3H255.6M256.0 549.7H255.7V550.7H256.0M255.7 550.2H255.4V551.6H256.0M256.0 553.4H255.7V554.4H256.0M256.0 552.5H255.4V553.9H255.7M256.0 555.3H255.6V556.2H256.0M255.4 553.2H255.2V555.8H255.6M255.4 550.9H254.9V554.5H255.2M255.4 547.4H254.6V552.7H254.9M255.1 542.5H253.8V550.0H254.6M254.8 534.7H253.0V546.3H253.8M254.1 523.5H251.9V540.5H253.0M256.0 557.1H255.7V558.1H256.0M256.0 559.0H255.7V559.9H256.0M256.0 562.7H255.7V563.6H256.0M256.0 561.8H255.4V563.2H255.7M256.0 560.9H255.2V562.5H255.4M255.7 559.5H254.9V561.7H255.2M255.7 557.6H254.7V560.6H254.9M256.0 565.5H255.6V566.4H256.0M256.0 564.6H255.4V566.0H255.6M256.0 568.3H255.7V569.2H256.0M256.0 570.1H255.7V571.1H256.0M255.7 568.7H255.4V570.6H255.7M256.0 567.3H255.1V569.7H255.4M255.4 565.3H254.9V568.5H255.1M254.7 559.1H254.2V566.9H254.9M256.0 572.0H255.7V572.9H256.0M256.0 573.8H255.7V574.8H256.0M256.0 575.7H255.7V576.6H256.0M255.7 574.3H255.4V576.2H255.7M256.0 577.6H255.6V578.5H256.0M255.4 575.2H255.1V578.0H255.6M255.7 572.4H254.9V576.6H255.1M254.2 563.0H253.4V574.5H254.9M256.0 580.3H255.7V581.3H256.0M256.0 579.4H255.4V580.8H255.7M256.0 582.2H255.6V583.1H256.0M256.0 584.0H255.6V585.0H256.0M255.6 582.7H255.4V584.5H255.6M256.0 586.8H255.7V587.8H256.0M256.0 585.9H255.4V587.3H255.7M255.4 583.6H255.0V586.6H255.4M255.4 580.1H254.8V585.1H255.0M256.0 589.6H255.7V590.5H256.0M256.0 588.7H255.4V590.1H255.7M256.0 592.4H255.7V593.3H256.0M256.0 591.5H255.4V592.9H255.7M256.0 595.2H255.7V596.1H256.0M256.0 594.2H255.4V595.6H255.7M256.0 597.0H255.6V598.0H256.0M255.4 594.9H255.2V597.5H255.6M255.4 592.2H254.9V596.2H255.2M255.4 589.4H254.5V594.2H254.9M256.0 598.9H255.6V599.8H256.0M256.0 600.7H255.6V601.7H256.0M256.0 603.5H255.6V604.4H256.0M256.0 605.4H255.7V606.3H256.0M255.6 604.0H255.4V605.8H255.7M256.0 602.6H255.1V604.9H255.4M255.6 601.2H254.9V603.8H255.1M255.6 599.3H254.6V602.5H254.9M254.5 591.8H253.7V600.9H254.6M254.8 582.6H252.8V596.3H253.7M253.4 568.8H251.0V589.5H252.8M251.9 532.0H247.6V579.1H251.0M256.0 607.2H255.7V608.2H256.0M256.0 610.0H255.7V610.9H256.0M256.0 609.1H255.4V610.5H255.7M255.7 607.7H255.2V609.8H255.4M256.0 611.9H255.6V612.8H256.0M256.0 613.7H255.6V614.7H256.0M255.6 612.3H255.4V614.2H255.6M255.2 608.7H254.7V613.3H255.4M256.0 615.6H255.6V616.5H256.0M256.0 617.4H255.7V618.4H256.0M255.6 616.0H255.4V617.9H255.7M256.0 619.3H255.7V620.2H256.0M256.0 621.1H255.7V622.1H256.0M255.7 619.8H255.3V621.6H255.7M255.4 617.0H254.8V620.7H255.3M254.7 611.0H254.1V618.8H254.8M256.0 623.9H255.6V624.9H256.0M256.0 623.0H255.4V624.4H255.6M256.0 625.8H255.7V626.7H256.0M256.0 628.6H255.7V629.5H256.0M256.0 627.6H255.4V629.0H255.7M255.7 626.2H255.2V628.3H255.4M255.4 623.7H254.9V627.3H255.2M256.0 630.4H255.6V631.3H256.0M256.0 635.1H255.6V636.0H256.0M256.0 634.1H255.4V635.5H255.6M256.0 633.2H255.1V634.8H255.4M256.0 632.3H254.9V634.0H255.1M255.6 630.9H254.6V633.1H254.9M254.9 625.5H254.1V632.0H254.6M254.1 614.9H252.5V628.8H254.1M256.0 636.9H255.6V637.8H256.0M256.0 640.6H255.7V641.5H256.0M256.0 639.7H255.4V641.1H255.7M256.0 638.8H255.2V640.4H255.4M255.6 637.4H254.9V639.6H255.2M256.0 642.5H255.7V643.4H256.0M256.0 645.3H255.6V646.2H256.0M256.0 644.3H255.4V645.7H255.6M255.7 642.9H255.1V645.0H255.4M256.0 647.1H255.6V648.0H256.0M256.0 649.9H255.6V650.8H256.0M256.0 649.0H255.4V650.4H255.6M255.6 647.6H255.1V649.7H255.4M255.1 644.0H254.7V648.6H255.1M254.9 638.5H254.2V646.3H254.7M256.0 652.7H255.6V653.6H256.0M256.0 655.5H255.6V656.4H256.0M256.0 654.5H255.4V655.9H255.6M255.6 653.1H255.1V655.2H255.4M256.0 651.8H254.9V654.2H255.1M256.0 659.2H255.7V660.1H256.0M255.7 659.6H255.4V661.0H256.0M256.0 658.2H255.2V660.3H255.4M256.0 657.3H254.9V659.3H255.2M256.0 662.9H255.6V663.8H256.0M256.0 662.0H255.4V663.3H255.6M256.0 664.7H255.6V665.7H256.0M255.4 662.6H255.1V665.2H255.6M254.9 658.3H254.7V663.9H255.1M254.9 653.0H254.2V661.1H254.7M256.0 666.6H255.6V667.5H256.0M256.0 668.4H255.6V669.4H256.0M256.0 671.2H255.6V672.2H256.0M256.0 670.3H255.4V671.7H255.6M255.6 668.9H255.1V671.0H255.4M255.6 667.1H254.9V670.0H255.1M256.0 674.0H255.6V674.9H256.0M256.0 673.1H255.4V674.5H255.6M256.0 675.9H255.7V676.8H256.0M256.0 677.7H255.6V678.6H256.0M256.0 679.6H255.7V680.5H256.0M255.6 678.2H255.4V680.0H255.7M255.7 676.3H255.1V679.1H255.4M255.4 673.8H254.9V677.7H255.1M254.9 668.5H254.2V675.8H254.9M254.2 657.0H252.9V672.1H254.2M254.2 642.4H251.5V664.6H252.9M256.0 682.4H255.6V683.3H256.0M256.0 684.2H255.6V685.1H256.0M255.6 682.8H255.4V684.7H255.6M256.0 681.4H255.1V683.8H255.4M256.0 687.0H255.6V687.9H256.0M256.0 686.1H255.4V687.5H255.6M256.0 688.9H255.6V689.8H256.0M256.0 690.7H255.7V691.6H256.0M255.6 689.3H255.3V691.2H255.7M256.0 693.5H255.7V694.4H256.0M256.0 692.6H255.4V694.0H255.7M255.3 690.2H255.0V693.3H255.4M255.4 686.8H254.7V691.7H255.0M255.1 682.6H254.2V689.3H254.7M256.0 698.1H255.7V699.1H256.0M256.0 697.2H255.4V698.6H255.7M256.0 696.3H255.2V697.9H255.4M256.0 695.3H254.9V697.1H255.2M256.0 700.9H255.7V701.8H256.0M256.0 700.0H255.4V701.4H255.7M254.9 696.2H254.7V700.7H255.4M254.2 685.9H253.3V698.4H254.7M251.5 653.5H250.3V692.2H253.3M252.5 621.8H248.2V672.8H250.3M247.6 555.5H242.8V647.3H248.2" fill="none" stroke="#333" stroke-width="0.42"/>
<path fill="#b4b4b4" d="M259.0 516.99h4.04v0.56h-4.04zM259.5 517.91h3.52v0.56h-3.52zM258.9 518.84h4.06v0.56h-4.06zM260.3 519.77h2.71v0.56h-2.71zM258.1 520.70h4.92v0.56h-4.92zM258.0 521.62h4.96v0.56h-4.96zM258.7 522.55h4.34v0.56h-4.34zM260.5 523.48h2.54v0.56h-2.54zM259.1 524.41h3.86v0.56h-3.86zM259.8 525.33h3.15v0.56h-3.15zM260.1 526.26h2.87v0.56h-2.87zM257.6 527.19h5.43v0.56h-5.43zM257.4 528.12h5.59v0.56h-5.59zM260.9 529.04h2.12v0.56h-2.12zM257.9 529.97h5.09v0.56h-5.09zM258.8 530.90h4.16v0.56h-4.16zM259.7 531.83h3.35v0.56h-3.35zM260.0 532.75h2.99v0.56h-2.99zM258.6 533.68h4.42v0.56h-4.42zM259.4 534.61h3.62v0.56h-3.62zM258.5 535.54h4.46v0.56h-4.46zM258.6 536.46h4.37v0.56h-4.37zM260.6 537.39h2.44v0.56h-2.44zM258.2 538.32h4.75v0.56h-4.75zM257.5 539.25h5.54v0.56h-5.54zM257.5 540.17h5.49v0.56h-5.49zM258.8 541.10h4.19v0.56h-4.19zM260.9 542.03h2.12v0.56h-2.12zM261.0 542.96h1.97v0.56h-1.97zM260.6 543.88h2.45v0.56h-2.45zM257.6 544.81h5.39v0.56h-5.39zM259.9 545.74h3.06v0.56h-3.06zM259.7 546.67h3.29v0.56h-3.29zM257.8 547.59h5.23v0.56h-5.23zM259.9 548.52h3.10v0.56h-3.10zM259.0 549.45h3.96v0.56h-3.96zM259.5 550.38h3.55v0.56h-3.55zM260.8 551.30h2.20v0.56h-2.20zM258.9 552.23h4.09v0.56h-4.09zM258.0 553.16h5.03v0.56h-5.03zM260.5 554.09h2.53v0.56h-2.53zM260.2 555.01h2.78v0.56h-2.78zM259.5 555.94h3.46v0.56h-3.46zM260.9 556.87h2.09v0.56h-2.09zM259.2 557.80h3.77v0.56h-3.77zM258.1 558.72h4.94v0.56h-4.94zM258.6 559.65h4.35v0.56h-4.35zM259.1 560.58h3.90v0.56h-3.90zM257.9 561.51h5.07v0.56h-5.07zM260.5 562.43h2.50v0.56h-2.50zM259.0 563.36h4.02v0.56h-4.02zM259.7 564.29h3.32v0.56h-3.32zM258.9 565.22h4.15v0.56h-4.15zM260.6 566.14h2.37v0.56h-2.37zM258.2 567.07h4.78v0.56h-4.78zM260.7 568.00h2.31v0.56h-2.31zM260.4 568.93h2.57v0.56h-2.57zM258.1 569.85h4.90v0.56h-4.90zM257.6 570.78h5.41v0.56h-5.41zM259.5 571.71h3.54v0.56h-3.54zM259.5 572.64h3.47v0.56h-3.47zM260.1 573.56h2.85v0.56h-2.85zM260.0 574.49h2.96v0.56h-2.96zM258.8 575.42h4.21v0.56h-4.21zM260.4 576.35h2.61v0.56h-2.61zM260.6 577.27h2.39v0.56h-2.39zM259.4 578.20h3.62v0.56h-3.62zM260.4 579.13h2.56v0.56h-2.56zM258.7 580.06h4.32v0.56h-4.32zM258.1 580.98h4.95v0.56h-4.95zM258.2 581.91h4.79v0.56h-4.79zM259.3 582.84h3.71v0.56h-3.71zM259.8 583.77h3.23v0.56h-3.23zM259.5 584.69h3.54v0.56h-3.54zM261.0 585.62h1.98v0.56h-1.98zM258.4 586.55h4.55v0.56h-4.55zM259.8 587.48h3.17v0.56h-3.17zM259.9 588.40h3.12v0.56h-3.12zM260.7 589.33h2.25v0.56h-2.25zM259.4 590.26h3.59v0.56h-3.59zM258.9 591.19h4.08v0.56h-4.08zM259.6 592.11h3.38v0.56h-3.38zM257.9 593.04h5.13v0.56h-5.13zM258.6 593.97h4.41v0.56h-4.41zM260.2 594.90h2.84v0.56h-2.84zM259.1 595.82h3.87v0.56h-3.87zM257.7 596.75h5.27v0.56h-5.27zM259.1 597.68h3.85v0.56h-3.85zM258.8 598.61h4.15v0.56h-4.15zM260.8 599.53h2.19v0.56h-2.19zM259.3 600.46h3.74v0.56h-3.74zM259.4 601.39h3.64v0.56h-3.64zM259.6 602.32h3.42v0.56h-3.42zM259.5 603.24h3.49v0.56h-3.49zM258.9 604.17h4.09v0.56h-4.09zM259.1 605.10h3.92v0.56h-3.92zM259.3 606.03h3.74v0.56h-3.74zM260.4 606.95h2.56v0.56h-2.56zM259.4 607.88h3.57v0.56h-3.57zM257.5 608.81h5.49v0.56h-5.49zM259.5 609.74h3.47v0.56h-3.47zM260.9 610.66h2.09v0.56h-2.09zM261.0 611.59h1.97v0.56h-1.97zM259.1 612.52h3.91v0.56h-3.91zM260.9 613.45h2.14v0.56h-2.14zM260.7 614.37h2.30v0.56h-2.30zM260.6 615.30h2.36v0.56h-2.36zM259.4 616.23h3.61v0.56h-3.61zM257.4 617.16h5.57v0.56h-5.57zM259.3 618.08h3.73v0.56h-3.73zM259.4 619.01h3.63v0.56h-3.63zM259.5 619.94h3.55v0.56h-3.55zM259.2 620.87h3.78v0.56h-3.78zM259.4 621.79h3.59v0.56h-3.59zM258.4 622.72h4.60v0.56h-4.60zM257.8 623.65h5.23v0.56h-5.23zM258.5 624.58h4.50v0.56h-4.50zM259.5 625.50h3.50v0.56h-3.50zM258.7 626.43h4.32v0.56h-4.32zM257.7 627.36h5.27v0.56h-5.27zM260.5 628.29h2.52v0.56h-2.52zM260.2 629.21h2.82v0.56h-2.82zM258.8 630.14h4.21v0.56h-4.21zM258.5 631.07h4.46v0.56h-4.46zM258.7 632.00h4.30v0.56h-4.30zM258.9 632.92h4.10v0.56h-4.10zM258.0 633.85h4.98v0.56h-4.98zM259.3 634.78h3.70v0.56h-3.70zM258.1 635.71h4.90v0.56h-4.90zM257.5 636.63h5.46v0.56h-5.46zM259.5 637.56h3.54v0.56h-3.54zM257.9 638.49h5.09v0.56h-5.09zM258.4 639.42h4.57v0.56h-4.57zM257.8 640.34h5.19v0.56h-5.19zM260.9 641.27h2.13v0.56h-2.13zM257.7 642.20h5.28v0.56h-5.28zM258.2 643.13h4.75v0.56h-4.75zM257.5 644.05h5.46v0.56h-5.46zM257.5 644.98h5.53v0.56h-5.53zM260.0 645.91h3.00v0.56h-3.00zM258.6 646.84h4.40v0.56h-4.40zM260.5 647.76h2.47v0.56h-2.47zM258.9 648.69h4.13v0.56h-4.13zM257.7 649.62h5.31v0.56h-5.31zM260.3 650.55h2.66v0.56h-2.66zM259.8 651.47h3.23v0.56h-3.23zM260.7 652.40h2.25v0.56h-2.25zM260.3 653.33h2.67v0.56h-2.67zM260.3 654.26h2.72v0.56h-2.72zM260.7 655.18h2.31v0.56h-2.31zM257.4 656.11h5.60v0.56h-5.60zM257.8 657.04h5.19v0.56h-5.19zM259.4 657.97h3.65v0.56h-3.65zM258.3 658.89h4.67v0.56h-4.67zM258.5 659.82h4.49v0.56h-4.49zM259.1 660.75h3.86v0.56h-3.86zM259.5 661.68h3.50v0.56h-3.50zM258.6 662.60h4.38v0.56h-4.38zM259.0 663.53h3.98v0.56h-3.98zM260.1 664.46h2.93v0.56h-2.93zM259.7 665.39h3.29v0.56h-3.29zM258.8 666.31h4.24v0.56h-4.24zM258.8 667.24h4.24v0.56h-4.24zM260.3 668.17h2.72v0.56h-2.72zM258.8 669.10h4.18v0.56h-4.18zM257.9 670.02h5.14v0.56h-5.14zM257.9 670.95h5.13v0.56h-5.13zM258.7 671.88h4.33v0.56h-4.33zM260.8 672.81h2.22v0.56h-2.22zM259.5 673.73h3.50v0.56h-3.50zM260.7 674.66h2.28v0.56h-2.28zM260.8 675.59h2.16v0.56h-2.16zM260.1 676.52h2.89v0.56h-2.89zM259.4 677.44h3.62v0.56h-3.62zM258.3 678.37h4.72v0.56h-4.72zM258.8 679.30h4.25v0.56h-4.25zM260.0 680.23h2.99v0.56h-2.99zM258.5 681.15h4.49v0.56h-4.49zM259.2 682.08h3.80v0.56h-3.80zM259.2 683.01h3.81v0.56h-3.81zM260.1 683.94h2.92v0.56h-2.92zM259.4 684.86h3.57v0.56h-3.57zM259.8 685.79h3.20v0.56h-3.20zM258.4 686.72h4.60v0.56h-4.60zM259.3 687.65h3.72v0.56h-3.72zM259.4 688.57h3.59v0.56h-3.59zM259.3 689.50h3.70v0.56h-3.70zM259.3 690.43h3.71v0.56h-3.71zM258.5 691.36h4.47v0.56h-4.47zM258.4 692.28h4.58v0.56h-4.58zM258.1 693.21h4.88v0.56h-4.88zM259.6 694.14h3.44v0.56h-3.44zM258.2 695.07h4.85v0.56h-4.85zM257.5 695.99h5.47v0.56h-5.47zM257.4 696.92h5.57v0.56h-5.57zM258.4 697.85h4.58v0.56h-4.58zM260.8 698.78h2.20v0.56h-2.20zM258.0 699.70h5.04v0.56h-5.04zM258.0 700.63h5.00v0.56h-5.00zM261.0 701.56h2.02v0.56h-2.02z"/>
<text x="248.00" y="514.60" font-size="5.3" fill="#111">Group</text>
<path d="M270.83 508.80V501.60H284.27V508.80" fill="none" stroke="#333" stroke-width="0.55"/>
<path d="M299.05 508.80V499.60H312.35V508.80" fill="none" stroke="#333" stroke-width="0.55"/>
<path d="M327.67 508.80V503.00H341.01V508.80" fill="none" stroke="#333" stroke-width="0.55"/>
<path d="M334.34 503.00V502.40H354.35V508.80" fill="none" stroke="#333" stroke-width="0.55"/>
<path d="M367.69 508.80V500.70H381.03V508.80" fill="none" stroke="#333" stroke-width="0.55"/>
<path d="M344.35 502.40V496.00H374.36V500.70" fill="none" stroke="#333" stroke-width="0.55"/>
<text x="274.63" y="707.60" font-size="8.3" text-anchor="end" fill="#111" transform="rotate(-60 274.63 707.60)">BCX070</text>
<text x="288.07" y="707.60" font-size="8.3" text-anchor="end" fill="#111" transform="rotate(-60 288.07 707.60)">XC517</text>
<text x="302.85" y="707.60" font-size="8.3" text-anchor="end" fill="#111" transform="rotate(-60 302.85 707.60)">PR4</text>
<text x="316.15" y="707.60" font-size="8.3" text-anchor="end" fill="#111" transform="rotate(-60 316.15 707.60)">XC517</text>
<text x="331.47" y="707.60" font-size="8.3" text-anchor="end" fill="#111" transform="rotate(-60 331.47 707.60)">XC517</text>
<text x="344.81" y="707.60" font-size="8.3" text-anchor="end" fill="#111" transform="rotate(-60 344.81 707.60)">PR1</text>
<text x="358.15" y="707.60" font-size="8.3" text-anchor="end" fill="#111" transform="rotate(-60 358.15 707.60)">BCX017</text>
<text x="371.49" y="707.60" font-size="8.3" text-anchor="end" fill="#111" transform="rotate(-60 371.49 707.60)">PR4</text>
<text x="384.83" y="707.60" font-size="8.3" text-anchor="end" fill="#111" transform="rotate(-60 384.83 707.60)">BCX070</text>
<text x="325.80" y="492.40" font-size="11.1" text-anchor="middle" fill="#111">Interferon γ genes</text>
<text x="216.60" y="494.60" font-size="17.5" font-weight="bold">J</text>
<text x="390.50" y="584.10" font-size="4.3" font-weight="bold" fill="#222">Group</text>
<rect x="390.50" y="587.00" width="4.50" height="4.75" fill="#ffa000"/>
<text x="396.60" y="590.96" font-size="4.4" fill="#444">Palbo_only</text>
<rect x="390.50" y="591.75" width="4.50" height="4.75" fill="#0096c8"/>
<text x="396.60" y="595.71" font-size="4.4" fill="#444">BLU222_only</text>
<rect x="390.50" y="596.50" width="4.50" height="4.75" fill="#9370db"/>
<text x="396.60" y="600.46" font-size="4.4" fill="#444">BLU222_Palbo</text>
<text x="390.50" y="609.50" font-size="4.3" font-weight="bold" fill="#222">Fold Change</text>
<defs><linearGradient id="fcJ" x1="0" y1="0" x2="0" y2="1"><stop offset="0.0" stop-color="#ff0000"/><stop offset="0.1" stop-color="#ff5b3a"/><stop offset="0.2" stop-color="#ff8969"/><stop offset="0.3" stop-color="#ffb299"/><stop offset="0.4" stop-color="#ffd9cb"/><stop offset="0.5" stop-color="#ffffff"/><stop offset="0.6" stop-color="#e3d0ff"/><stop offset="0.7" stop-color="#c4a2ff"/><stop offset="0.8" stop-color="#a074ff"/><stop offset="0.9" stop-color="#7145ff"/><stop offset="1.0" stop-color="#0000ff"/></linearGradient></defs>
<rect x="390.50" y="612.10" width="4.50" height="26.50" fill="url(#fcJ)"/>
<text x="396.60" y="614.98" font-size="4.4" fill="#333">5</text>
<text x="396.60" y="626.88" font-size="4.4" fill="#333">0</text>
<text x="396.60" y="638.78" font-size="4.4" fill="#333">−5</text>
<rect x="11.65" y="772.50" width="8.36" height="8.39" fill="#ffe2d8"/>
<rect x="19.66" y="772.50" width="8.36" height="8.39" fill="#ebdcff"/>
<rect x="27.67" y="772.50" width="8.36" height="8.39" fill="#ffd9cb"/>
<rect x="35.69" y="772.50" width="8.36" height="8.39" fill="#ffd9cb"/>
<rect x="43.70" y="772.50" width="8.36" height="8.39" fill="#ff9475"/>
<rect x="51.71" y="772.50" width="8.36" height="8.39" fill="#ffe8e0"/>
<rect x="60.72" y="772.50" width="8.36" height="8.39" fill="#ffb299"/>
<rect x="68.73" y="772.50" width="8.36" height="8.39" fill="#e3d0ff"/>
<rect x="76.75" y="772.50" width="8.36" height="8.39" fill="#ffece5"/>
<rect x="84.76" y="772.50" width="8.36" height="8.39" fill="#ffc6b2"/>
<rect x="92.77" y="772.50" width="8.36" height="8.39" fill="#ffd9cb"/>
<rect x="101.78" y="772.50" width="8.36" height="8.39" fill="#ffcfbf"/>
<rect x="109.79" y="772.50" width="8.36" height="8.39" fill="#ccadff"/>
<rect x="117.80" y="772.50" width="8.36" height="8.39" fill="#ffc6b2"/>
<rect x="125.82" y="772.50" width="8.36" height="8.39" fill="#fffbfa"/>
<rect x="134.83" y="772.50" width="8.36" height="8.39" fill="#e3d0ff"/>
<rect x="142.84" y="772.50" width="8.36" height="8.39" fill="#ffcfbf"/>
<rect x="151.85" y="772.50" width="8.36" height="8.39" fill="#0000ff"/>
<rect x="159.86" y="772.50" width="8.36" height="8.39" fill="#bc97ff"/>
<rect x="167.88" y="772.50" width="8.36" height="8.39" fill="#bc97ff"/>
<rect x="175.89" y="772.50" width="8.36" height="8.39" fill="#bc97ff"/>
<rect x="11.65" y="780.54" width="8.36" height="8.39" fill="#d4b9ff"/>
<rect x="19.66" y="780.54" width="8.36" height="8.39" fill="#a074ff"/>
<rect x="27.67" y="780.54" width="8.36" height="8.39" fill="#e3d0ff"/>
<rect x="35.69" y="780.54" width="8.36" height="8.39" fill="#dcc4ff"/>
<rect x="43.70" y="780.54" width="8.36" height="8.39" fill="#dcc4ff"/>
<rect x="51.71" y="780.54" width="8.36" height="8.39" fill="#ccadff"/>
<rect x="60.72" y="780.54" width="8.36" height="8.39" fill="#b38bff"/>
<rect x="68.73" y="780.54" width="8.36" height="8.39" fill="#ebdcff"/>
<rect x="76.75" y="780.54" width="8.36" height="8.39" fill="#ffece5"/>
<rect x="84.76" y="780.54" width="8.36" height="8.39" fill="#ffd9cb"/>
<rect x="92.77" y="780.54" width="8.36" height="8.39" fill="#f2e7ff"/>
<rect x="101.78" y="780.54" width="8.36" height="8.39" fill="#ffa88d"/>
<rect x="109.79" y="780.54" width="8.36" height="8.39" fill="#ffd9cb"/>
<rect x="117.80" y="780.54" width="8.36" height="8.39" fill="#ffc6b2"/>
<rect x="125.82" y="780.54" width="8.36" height="8.39" fill="#fff5f2"/>
<rect x="134.83" y="780.54" width="8.36" height="8.39" fill="#d4b9ff"/>
<rect x="142.84" y="780.54" width="8.36" height="8.39" fill="#d4b9ff"/>
<rect x="151.85" y="780.54" width="8.36" height="8.39" fill="#f2e7ff"/>
<rect x="159.86" y="780.54" width="8.36" height="8.39" fill="#ff7352"/>
<rect x="167.88" y="780.54" width="8.36" height="8.39" fill="#ff5b3a"/>
<rect x="175.89" y="780.54" width="8.36" height="8.39" fill="#ff6846"/>
<rect x="11.65" y="788.58" width="8.36" height="8.39" fill="#ccadff"/>
<rect x="19.66" y="788.58" width="8.36" height="8.39" fill="#d4b9ff"/>
<rect x="27.67" y="788.58" width="8.36" height="8.39" fill="#c4a2ff"/>
<rect x="35.69" y="788.58" width="8.36" height="8.39" fill="#d4b9ff"/>
<rect x="43.70" y="788.58" width="8.36" height="8.39" fill="#dcc4ff"/>
<rect x="51.71" y="788.58" width="8.36" height="8.39" fill="#ebdcff"/>
<rect x="60.72" y="788.58" width="8.36" height="8.39" fill="#f8f3ff"/>
<rect x="68.73" y="788.58" width="8.36" height="8.39" fill="#d4b9ff"/>
<rect x="76.75" y="788.58" width="8.36" height="8.39" fill="#f2e7ff"/>
<rect x="84.76" y="788.58" width="8.36" height="8.39" fill="#f8f3ff"/>
<rect x="92.77" y="788.58" width="8.36" height="8.39" fill="#f2e7ff"/>
<rect x="101.78" y="788.58" width="8.36" height="8.39" fill="#ffa88d"/>
<rect x="109.79" y="788.58" width="8.36" height="8.39" fill="#e3d0ff"/>
<rect x="117.80" y="788.58" width="8.36" height="8.39" fill="#f8f3ff"/>
<rect x="125.82" y="788.58" width="8.36" height="8.39" fill="#ffece5"/>
<rect x="134.83" y="788.58" width="8.36" height="8.39" fill="#dcc4ff"/>
<rect x="142.84" y="788.58" width="8.36" height="8.39" fill="#dcc4ff"/>
<rect x="151.85" y="788.58" width="8.36" height="8.39" fill="#ffcfbf"/>
<rect x="159.86" y="788.58" width="8.36" height="8.39" fill="#ff6846"/>
<rect x="167.88" y="788.58" width="8.36" height="8.39" fill="#ff4d2e"/>
<rect x="175.89" y="788.58" width="8.36" height="8.39" fill="#ff7352"/>
<rect x="11.65" y="796.62" width="8.36" height="8.39" fill="#d4b9ff"/>
<rect x="19.66" y="796.62" width="8.36" height="8.39" fill="#d4b9ff"/>
<rect x="27.67" y="796.62" width="8.36" height="8.39" fill="#ccadff"/>
<rect x="35.69" y="796.62" width="8.36" height="8.39" fill="#a074ff"/>
<rect x="43.70" y="796.62" width="8.36" height="8.39" fill="#d4b9ff"/>
<rect x="51.71" y="796.62" width="8.36" height="8.39" fill="#ebdcff"/>
<rect x="60.72" y="796.62" width="8.36" height="8.39" fill="#e3d0ff"/>
<rect x="68.73" y="796.62" width="8.36" height="8.39" fill="#d4b9ff"/>
<rect x="76.75" y="796.62" width="8.36" height="8.39" fill="#ebdcff"/>
<rect x="84.76" y="796.62" width="8.36" height="8.39" fill="#f2e7ff"/>
<rect x="92.77" y="796.62" width="8.36" height="8.39" fill="#e3d0ff"/>
<rect x="101.78" y="796.62" width="8.36" height="8.39" fill="#ff9e81"/>
<rect x="109.79" y="796.62" width="8.36" height="8.39" fill="#fff5f2"/>
<rect x="117.80" y="796.62" width="8.36" height="8.39" fill="#fff5f2"/>
<rect x="125.82" y="796.62" width="8.36" height="8.39" fill="#ffb299"/>
<rect x="134.83" y="796.62" width="8.36" height="8.39" fill="#d4b9ff"/>
<rect x="142.84" y="796.62" width="8.36" height="8.39" fill="#d4b9ff"/>
<rect x="151.85" y="796.62" width="8.36" height="8.39" fill="#ffece5"/>
<rect x="159.86" y="796.62" width="8.36" height="8.39" fill="#ff7352"/>
<rect x="167.88" y="796.62" width="8.36" height="8.39" fill="#ff6846"/>
<rect x="175.89" y="796.62" width="8.36" height="8.39" fill="#ff7e5e"/>
<rect x="11.65" y="804.66" width="8.36" height="8.39" fill="#e3d0ff"/>
<rect x="19.66" y="804.66" width="8.36" height="8.39" fill="#c4a2ff"/>
<rect x="27.67" y="804.66" width="8.36" height="8.39" fill="#d4b9ff"/>
<rect x="35.69" y="804.66" width="8.36" height="8.39" fill="#d4b9ff"/>
<rect x="43.70" y="804.66" width="8.36" height="8.39" fill="#dcc4ff"/>
<rect x="51.71" y="804.66" width="8.36" height="8.39" fill="#ebdcff"/>
<rect x="60.72" y="804.66" width="8.36" height="8.39" fill="#f8f3ff"/>
<rect x="68.73" y="804.66" width="8.36" height="8.39" fill="#e3d0ff"/>
<rect x="76.75" y="804.66" width="8.36" height="8.39" fill="#dcc4ff"/>
<rect x="84.76" y="804.66" width="8.36" height="8.39" fill="#fff5f2"/>
<rect x="92.77" y="804.66" width="8.36" height="8.39" fill="#f8f3ff"/>
<rect x="101.78" y="804.66" width="8.36" height="8.39" fill="#ffd9cb"/>
<rect x="109.79" y="804.66" width="8.36" height="8.39" fill="#e3d0ff"/>
<rect x="117.80" y="804.66" width="8.36" height="8.39" fill="#e3d0ff"/>
<rect x="125.82" y="804.66" width="8.36" height="8.39" fill="#fffbfa"/>
<rect x="134.83" y="804.66" width="8.36" height="8.39" fill="#aa80ff"/>
<rect x="142.84" y="804.66" width="8.36" height="8.39" fill="#c4a2ff"/>
<rect x="151.85" y="804.66" width="8.36" height="8.39" fill="#ff2913"/>
<rect x="159.86" y="804.66" width="8.36" height="8.39" fill="#ff8969"/>
<rect x="167.88" y="804.66" width="8.36" height="8.39" fill="#ff9e81"/>
<rect x="175.89" y="804.66" width="8.36" height="8.39" fill="#ff7e5e"/>
<rect x="11.65" y="767.20" width="48.07" height="4.10" fill="#a9a9a9"/>
<rect x="60.72" y="767.20" width="40.06" height="4.10" fill="#87cefa"/>
<rect x="101.78" y="767.20" width="32.05" height="4.10" fill="#00b2ee"/>
<rect x="134.83" y="767.20" width="16.02" height="4.10" fill="#ffa500"/>
<rect x="151.85" y="767.20" width="32.05" height="4.10" fill="#ab82ff"/>
<rect x="11.95" y="747.80" width="47.47" height="18.60" fill="#fff" stroke="#8c8c8c" stroke-width="0.7"/>
<rect x="61.02" y="747.80" width="39.46" height="18.60" fill="#fff" stroke="#8c8c8c" stroke-width="0.7"/>
<rect x="102.08" y="747.80" width="31.45" height="18.60" fill="#fff" stroke="#8c8c8c" stroke-width="0.7"/>
<rect x="135.13" y="747.80" width="15.42" height="18.60" fill="#fff" stroke="#8c8c8c" stroke-width="0.7"/>
<rect x="152.15" y="747.80" width="31.45" height="18.60" fill="#fff" stroke="#8c8c8c" stroke-width="0.7"/>
<rect x="12.45" y="759.40" width="6.41" height="4.50" fill="#858585" stroke="#5c5c5c" stroke-width="0.35"/>
<rect x="20.46" y="759.40" width="6.41" height="6.40" fill="#858585" stroke="#5c5c5c" stroke-width="0.35"/>
<rect x="28.48" y="759.40" width="6.41" height="4.50" fill="#858585" stroke="#5c5c5c" stroke-width="0.35"/>
<rect x="36.49" y="759.40" width="6.41" height="4.50" fill="#858585" stroke="#5c5c5c" stroke-width="0.35"/>
<rect x="44.50" y="759.40" width="6.41" height="3.60" fill="#858585" stroke="#5c5c5c" stroke-width="0.35"/>
<rect x="52.51" y="759.40" width="6.41" height="3.15" fill="#858585" stroke="#5c5c5c" stroke-width="0.35"/>
<rect x="61.52" y="759.40" width="6.41" height="1.80" fill="#858585" stroke="#5c5c5c" stroke-width="0.35"/>
<rect x="69.53" y="759.40" width="6.41" height="5.40" fill="#858585" stroke="#5c5c5c" stroke-width="0.35"/>
<rect x="77.55" y="758.75" width="6.41" height="1.30" fill="#858585" stroke="#5c5c5c" stroke-width="0.35"/>
<rect x="85.56" y="758.75" width="6.41" height="1.30" fill="#858585" stroke="#5c5c5c" stroke-width="0.35"/>
<rect x="93.57" y="758.75" width="6.41" height="1.30" fill="#858585" stroke="#5c5c5c" stroke-width="0.35"/>
<rect x="102.58" y="750.85" width="6.41" height="8.55" fill="#858585" stroke="#5c5c5c" stroke-width="0.35"/>
<rect x="110.59" y="759.40" width="6.41" height="2.70" fill="#858585" stroke="#5c5c5c" stroke-width="0.35"/>
<rect x="118.61" y="758.75" width="6.41" height="1.30" fill="#858585" stroke="#5c5c5c" stroke-width="0.35"/>
<rect x="126.62" y="758.05" width="6.41" height="1.35" fill="#858585" stroke="#5c5c5c" stroke-width="0.35"/>
<rect x="135.63" y="759.40" width="6.41" height="6.40" fill="#858585" stroke="#5c5c5c" stroke-width="0.35"/>
<rect x="143.64" y="759.40" width="6.41" height="2.70" fill="#858585" stroke="#5c5c5c" stroke-width="0.35"/>
<rect x="152.65" y="758.75" width="6.41" height="1.30" fill="#858585" stroke="#5c5c5c" stroke-width="0.35"/>
<rect x="160.67" y="749.95" width="6.41" height="9.45" fill="#858585" stroke="#5c5c5c" stroke-width="0.35"/>
<rect x="168.68" y="749.05" width="6.41" height="10.35" fill="#858585" stroke="#5c5c5c" stroke-width="0.35"/>
<rect x="176.69" y="750.40" width="6.41" height="9.00" fill="#858585" stroke="#5c5c5c" stroke-width="0.35"/>
<line x1="11.95" y1="747.80" x2="11.95" y2="766.40" stroke="#333" stroke-width="0.7"/>
<line x1="11.05" y1="750.40" x2="11.95" y2="750.40" stroke="#333" stroke-width="0.4"/>
<text x="10.75" y="751.40" font-size="2.9" text-anchor="end" fill="#444">1</text>
<line x1="11.05" y1="754.90" x2="11.95" y2="754.90" stroke="#333" stroke-width="0.4"/>
<text x="10.75" y="755.90" font-size="2.9" text-anchor="end" fill="#444">0.5</text>
<line x1="11.05" y1="759.40" x2="11.95" y2="759.40" stroke="#333" stroke-width="0.4"/>
<text x="10.75" y="760.40" font-size="2.9" text-anchor="end" fill="#444">0</text>
<line x1="11.05" y1="763.90" x2="11.95" y2="763.90" stroke="#333" stroke-width="0.4"/>
<text x="10.75" y="764.90" font-size="2.9" text-anchor="end" fill="#444">-0.5</text>
<text x="187.80" y="779.80" font-size="7.75" font-weight="bold">Senescence</text>
<text x="187.80" y="787.30" font-size="7.75" font-weight="bold">Casella_UP</text>
<text x="187.80" y="796.40" font-size="7.75" font-weight="bold">Hernandez</text>
<text x="187.80" y="804.00" font-size="7.75" font-weight="bold">Fridman_UP</text>
<text x="187.80" y="813.30" font-size="7.75" font-weight="bold">Purcell</text>
<path d="M11.20 784.56H8.20V792.60H11.20" fill="none" stroke="#555" stroke-width="0.6"/>
<path d="M11.20 800.64H8.20V808.68H11.20" fill="none" stroke="#555" stroke-width="0.6"/>
<path d="M8.20 788.58H5.20V804.66H8.20" fill="none" stroke="#555" stroke-width="0.6"/>
<path d="M11.20 776.52H1.20V796.62H5.20" fill="none" stroke="#555" stroke-width="0.6"/>
<text x="189.00" y="760.60" font-size="7.8" fill="#111">Mean</text>
<text x="189.00" y="771.40" font-size="7.8" fill="#111">Group</text>
<text x="32.60" y="825.20" font-size="7.8" text-anchor="middle" fill="#111">Vehicle</text>
<text x="72.00" y="825.20" font-size="7.8" text-anchor="middle" fill="#111">BLU-222</text>
<text x="71.50" y="833.90" font-size="7.8" text-anchor="middle" fill="#111">(50 mg/kg)</text>
<text x="113.90" y="825.20" font-size="7.8" text-anchor="middle" fill="#111">BLU-222</text>
<text x="113.90" y="833.90" font-size="7.8" text-anchor="middle" fill="#111">(100 mg/kg)</text>
<text x="143.80" y="825.20" font-size="7.8" text-anchor="middle" fill="#111">Palbo</text>
<text x="170.40" y="825.20" font-size="7.8" text-anchor="middle" fill="#111">Combo</text>
<text x="88.80" y="742.30" font-size="9.0" text-anchor="middle" fill="#111">XC517_ssGSEA_ Senescence</text>
<text x="0.70" y="722.30" font-size="17.0" font-weight="bold">K</text>
<text x="175.60" y="838.70" font-size="7.3" font-weight="bold" fill="#111">Z−score</text>
<defs><linearGradient id="zgK" x1="0" y1="0" x2="0" y2="1">
<stop offset="0.00" stop-color="#ff0000"/>
<stop offset="0.10" stop-color="#ff0f04"/>
<stop offset="0.20" stop-color="#ff4e2e"/>
<stop offset="0.30" stop-color="#ff7150"/>
<stop offset="0.40" stop-color="#ff9071"/>
<stop offset="0.50" stop-color="#ffac93"/>
<stop offset="0.60" stop-color="#ffc8b5"/>
<stop offset="0.70" stop-color="#ffe3d9"/>
<stop offset="0.80" stop-color="#fffefd"/>
<stop offset="0.90" stop-color="#eddfff"/>
<stop offset="1.00" stop-color="#d8bfff"/>
</linearGradient></defs>
<rect x="175.60" y="842.80" width="8.80" height="28.00" fill="url(#zgK)"/>
<path d="M175.60 845.39h1.6M182.80 845.39h1.6" stroke="#fff" stroke-width="0.45" stroke-dasharray="0.8 0.4"/>
<text x="186.00" y="847.91" font-size="7.0" fill="#222">2</text>
<path d="M175.60 855.36h1.6M182.80 855.36h1.6" stroke="#fff" stroke-width="0.45" stroke-dasharray="0.8 0.4"/>
<text x="186.00" y="857.88" font-size="7.0" fill="#222">1</text>
<text x="186.00" y="867.84" font-size="7.0" fill="#222">0</text>
<rect x="250.00" y="779.40" width="7.65" height="7.87" fill="#aa80ff"/>
<rect x="257.30" y="779.40" width="7.65" height="7.87" fill="#b38bff"/>
<rect x="264.61" y="779.40" width="7.65" height="7.87" fill="#ffffff"/>
<rect x="271.91" y="779.40" width="7.65" height="7.87" fill="#ccadff"/>
<rect x="279.22" y="779.40" width="7.65" height="7.87" fill="#ffd9cb"/>
<rect x="287.52" y="779.40" width="7.65" height="7.87" fill="#bc97ff"/>
<rect x="294.83" y="779.40" width="7.65" height="7.87" fill="#ffc6b2"/>
<rect x="302.13" y="779.40" width="7.65" height="7.87" fill="#e3d0ff"/>
<rect x="309.44" y="779.40" width="7.65" height="7.87" fill="#ffbca6"/>
<rect x="316.74" y="779.40" width="7.65" height="7.87" fill="#ffbca6"/>
<rect x="325.05" y="779.40" width="7.65" height="7.87" fill="#ffc6b2"/>
<rect x="332.35" y="779.40" width="7.65" height="7.87" fill="#ccadff"/>
<rect x="339.66" y="779.40" width="7.65" height="7.87" fill="#ffd9cb"/>
<rect x="346.96" y="779.40" width="7.65" height="7.87" fill="#fffbfa"/>
<rect x="354.27" y="779.40" width="7.65" height="7.87" fill="#d4b9ff"/>
<rect x="362.57" y="779.40" width="7.65" height="7.87" fill="#ff7e5e"/>
<rect x="369.88" y="779.40" width="7.65" height="7.87" fill="#bc97ff"/>
<rect x="377.18" y="779.40" width="7.65" height="7.87" fill="#ffb299"/>
<rect x="385.49" y="779.40" width="7.65" height="7.87" fill="#ffcfbf"/>
<rect x="392.79" y="779.40" width="7.65" height="7.87" fill="#ffe2d8"/>
<rect x="400.10" y="779.40" width="7.65" height="7.87" fill="#ff7352"/>
<rect x="250.00" y="786.92" width="7.65" height="7.87" fill="#ff8969"/>
<rect x="257.30" y="786.92" width="7.65" height="7.87" fill="#ebdcff"/>
<rect x="264.61" y="786.92" width="7.65" height="7.87" fill="#e3d0ff"/>
<rect x="271.91" y="786.92" width="7.65" height="7.87" fill="#ffbca6"/>
<rect x="279.22" y="786.92" width="7.65" height="7.87" fill="#ff8969"/>
<rect x="287.52" y="786.92" width="7.65" height="7.87" fill="#ffcfbf"/>
<rect x="294.83" y="786.92" width="7.65" height="7.87" fill="#ffe2d8"/>
<rect x="302.13" y="786.92" width="7.65" height="7.87" fill="#ebdcff"/>
<rect x="309.44" y="786.92" width="7.65" height="7.87" fill="#ffece5"/>
<rect x="316.74" y="786.92" width="7.65" height="7.87" fill="#f2e7ff"/>
<rect x="325.05" y="786.92" width="7.65" height="7.87" fill="#f8f3ff"/>
<rect x="332.35" y="786.92" width="7.65" height="7.87" fill="#ccadff"/>
<rect x="339.66" y="786.92" width="7.65" height="7.87" fill="#ebdcff"/>
<rect x="346.96" y="786.92" width="7.65" height="7.87" fill="#7e52ff"/>
<rect x="354.27" y="786.92" width="7.65" height="7.87" fill="#c4a2ff"/>
<rect x="362.57" y="786.92" width="7.65" height="7.87" fill="#ffe2d8"/>
<rect x="369.88" y="786.92" width="7.65" height="7.87" fill="#7e52ff"/>
<rect x="377.18" y="786.92" width="7.65" height="7.87" fill="#fff5f2"/>
<rect x="385.49" y="786.92" width="7.65" height="7.87" fill="#f8f3ff"/>
<rect x="392.79" y="786.92" width="7.65" height="7.87" fill="#ff7352"/>
<rect x="400.10" y="786.92" width="7.65" height="7.87" fill="#f8f3ff"/>
<rect x="250.00" y="794.44" width="7.65" height="7.87" fill="#ffb299"/>
<rect x="257.30" y="794.44" width="7.65" height="7.87" fill="#ffece5"/>
<rect x="264.61" y="794.44" width="7.65" height="7.87" fill="#e3d0ff"/>
<rect x="271.91" y="794.44" width="7.65" height="7.87" fill="#ffc6b2"/>
<rect x="279.22" y="794.44" width="7.65" height="7.87" fill="#ff2913"/>
<rect x="287.52" y="794.44" width="7.65" height="7.87" fill="#f8f3ff"/>
<rect x="294.83" y="794.44" width="7.65" height="7.87" fill="#f8f3ff"/>
<rect x="302.13" y="794.44" width="7.65" height="7.87" fill="#ccadff"/>
<rect x="309.44" y="794.44" width="7.65" height="7.87" fill="#fff5f2"/>
<rect x="316.74" y="794.44" width="7.65" height="7.87" fill="#ff8969"/>
<rect x="325.05" y="794.44" width="7.65" height="7.87" fill="#e3d0ff"/>
<rect x="332.35" y="794.44" width="7.65" height="7.87" fill="#dcc4ff"/>
<rect x="339.66" y="794.44" width="7.65" height="7.87" fill="#f2e7ff"/>
<rect x="346.96" y="794.44" width="7.65" height="7.87" fill="#b38bff"/>
<rect x="354.27" y="794.44" width="7.65" height="7.87" fill="#6239ff"/>
<rect x="362.57" y="794.44" width="7.65" height="7.87" fill="#fff5f2"/>
<rect x="369.88" y="794.44" width="7.65" height="7.87" fill="#ccadff"/>
<rect x="377.18" y="794.44" width="7.65" height="7.87" fill="#fff5f2"/>
<rect x="385.49" y="794.44" width="7.65" height="7.87" fill="#f2e7ff"/>
<rect x="392.79" y="794.44" width="7.65" height="7.87" fill="#ff7352"/>
<rect x="400.10" y="794.44" width="7.65" height="7.87" fill="#f2e7ff"/>
<rect x="250.00" y="801.96" width="7.65" height="7.87" fill="#ccadff"/>
<rect x="257.30" y="801.96" width="7.65" height="7.87" fill="#e3d0ff"/>
<rect x="264.61" y="801.96" width="7.65" height="7.87" fill="#e3d0ff"/>
<rect x="271.91" y="801.96" width="7.65" height="7.87" fill="#e3d0ff"/>
<rect x="279.22" y="801.96" width="7.65" height="7.87" fill="#ffd9cb"/>
<rect x="287.52" y="801.96" width="7.65" height="7.87" fill="#ffcfbf"/>
<rect x="294.83" y="801.96" width="7.65" height="7.87" fill="#d4b9ff"/>
<rect x="302.13" y="801.96" width="7.65" height="7.87" fill="#e3d0ff"/>
<rect x="309.44" y="801.96" width="7.65" height="7.87" fill="#f2e7ff"/>
<rect x="316.74" y="801.96" width="7.65" height="7.87" fill="#f2e7ff"/>
<rect x="325.05" y="801.96" width="7.65" height="7.87" fill="#ffb299"/>
<rect x="332.35" y="801.96" width="7.65" height="7.87" fill="#ffa88d"/>
<rect x="339.66" y="801.96" width="7.65" height="7.87" fill="#ffb299"/>
<rect x="346.96" y="801.96" width="7.65" height="7.87" fill="#ffb299"/>
<rect x="354.27" y="801.96" width="7.65" height="7.87" fill="#ff7e5e"/>
<rect x="362.57" y="801.96" width="7.65" height="7.87" fill="#dcc4ff"/>
<rect x="369.88" y="801.96" width="7.65" height="7.87" fill="#0000ff"/>
<rect x="377.18" y="801.96" width="7.65" height="7.87" fill="#ccadff"/>
<rect x="385.49" y="801.96" width="7.65" height="7.87" fill="#f8f3ff"/>
<rect x="392.79" y="801.96" width="7.65" height="7.87" fill="#ffb299"/>
<rect x="400.10" y="801.96" width="7.65" height="7.87" fill="#ffbca6"/>
<rect x="250.00" y="809.48" width="7.65" height="7.87" fill="#ebdcff"/>
<rect x="257.30" y="809.48" width="7.65" height="7.87" fill="#bc97ff"/>
<rect x="264.61" y="809.48" width="7.65" height="7.87" fill="#e3d0ff"/>
<rect x="271.91" y="809.48" width="7.65" height="7.87" fill="#ebdcff"/>
<rect x="279.22" y="809.48" width="7.65" height="7.87" fill="#ffe2d8"/>
<rect x="287.52" y="809.48" width="7.65" height="7.87" fill="#ebdcff"/>
<rect x="294.83" y="809.48" width="7.65" height="7.87" fill="#e3d0ff"/>
<rect x="302.13" y="809.48" width="7.65" height="7.87" fill="#dcc4ff"/>
<rect x="309.44" y="809.48" width="7.65" height="7.87" fill="#ebdcff"/>
<rect x="316.74" y="809.48" width="7.65" height="7.87" fill="#fff5f2"/>
<rect x="325.05" y="809.48" width="7.65" height="7.87" fill="#ff9475"/>
<rect x="332.35" y="809.48" width="7.65" height="7.87" fill="#ff7e5e"/>
<rect x="339.66" y="809.48" width="7.65" height="7.87" fill="#ff2913"/>
<rect x="346.96" y="809.48" width="7.65" height="7.87" fill="#ff6846"/>
<rect x="354.27" y="809.48" width="7.65" height="7.87" fill="#ff7e5e"/>
<rect x="362.57" y="809.48" width="7.65" height="7.87" fill="#bc97ff"/>
<rect x="369.88" y="809.48" width="7.65" height="7.87" fill="#ccadff"/>
<rect x="377.18" y="809.48" width="7.65" height="7.87" fill="#d4b9ff"/>
<rect x="385.49" y="809.48" width="7.65" height="7.87" fill="#ebdcff"/>
<rect x="392.79" y="809.48" width="7.65" height="7.87" fill="#fff5f2"/>
<rect x="400.10" y="809.48" width="7.65" height="7.87" fill="#ccadff"/>
<rect x="250.00" y="774.40" width="36.52" height="4.00" fill="#a9a9a9"/>
<rect x="287.52" y="774.40" width="36.52" height="4.00" fill="#87cefa"/>
<rect x="325.05" y="774.40" width="36.52" height="4.00" fill="#00b2ee"/>
<rect x="362.57" y="774.40" width="21.91" height="4.00" fill="#ffa500"/>
<rect x="385.49" y="774.40" width="21.91" height="4.00" fill="#ab82ff"/>
<rect x="250.30" y="756.60" width="35.92" height="17.00" fill="#fff" stroke="#8c8c8c" stroke-width="0.7"/>
<rect x="287.82" y="756.60" width="35.92" height="17.00" fill="#fff" stroke="#8c8c8c" stroke-width="0.7"/>
<rect x="325.35" y="756.60" width="35.92" height="17.00" fill="#fff" stroke="#8c8c8c" stroke-width="0.7"/>
<rect x="362.87" y="756.60" width="21.31" height="17.00" fill="#fff" stroke="#8c8c8c" stroke-width="0.7"/>
<rect x="385.79" y="756.60" width="21.31" height="17.00" fill="#fff" stroke="#8c8c8c" stroke-width="0.7"/>
<rect x="250.73" y="761.95" width="5.84" height="1.30" fill="#858585" stroke="#5c5c5c" stroke-width="0.35"/>
<rect x="258.04" y="762.60" width="5.84" height="2.93" fill="#858585" stroke="#5c5c5c" stroke-width="0.35"/>
<rect x="265.34" y="762.60" width="5.84" height="1.30" fill="#858585" stroke="#5c5c5c" stroke-width="0.35"/>
<rect x="272.64" y="761.95" width="5.84" height="1.30" fill="#858585" stroke="#5c5c5c" stroke-width="0.35"/>
<rect x="279.95" y="758.05" width="5.84" height="4.55" fill="#858585" stroke="#5c5c5c" stroke-width="0.35"/>
<rect x="288.25" y="761.95" width="5.84" height="1.30" fill="#858585" stroke="#5c5c5c" stroke-width="0.35"/>
<rect x="295.56" y="761.95" width="5.84" height="1.30" fill="#858585" stroke="#5c5c5c" stroke-width="0.35"/>
<rect x="302.86" y="762.60" width="5.84" height="2.60" fill="#858585" stroke="#5c5c5c" stroke-width="0.35"/>
<rect x="310.17" y="761.95" width="5.84" height="1.30" fill="#858585" stroke="#5c5c5c" stroke-width="0.35"/>
<rect x="317.47" y="759.68" width="5.84" height="2.92" fill="#858585" stroke="#5c5c5c" stroke-width="0.35"/>
<rect x="325.78" y="760.65" width="5.84" height="1.95" fill="#858585" stroke="#5c5c5c" stroke-width="0.35"/>
<rect x="333.08" y="761.95" width="5.84" height="1.30" fill="#858585" stroke="#5c5c5c" stroke-width="0.35"/>
<rect x="340.39" y="759.68" width="5.84" height="2.92" fill="#858585" stroke="#5c5c5c" stroke-width="0.35"/>
<rect x="347.69" y="761.95" width="5.84" height="1.30" fill="#858585" stroke="#5c5c5c" stroke-width="0.35"/>
<rect x="355.00" y="761.95" width="5.84" height="1.30" fill="#858585" stroke="#5c5c5c" stroke-width="0.35"/>
<rect x="363.30" y="761.95" width="5.84" height="1.30" fill="#858585" stroke="#5c5c5c" stroke-width="0.35"/>
<rect x="370.61" y="762.60" width="5.84" height="10.40" fill="#858585" stroke="#5c5c5c" stroke-width="0.35"/>
<rect x="377.91" y="761.95" width="5.84" height="1.30" fill="#858585" stroke="#5c5c5c" stroke-width="0.35"/>
<rect x="386.22" y="761.95" width="5.84" height="1.30" fill="#858585" stroke="#5c5c5c" stroke-width="0.35"/>
<rect x="393.52" y="758.70" width="5.84" height="3.90" fill="#858585" stroke="#5c5c5c" stroke-width="0.35"/>
<rect x="400.83" y="760.33" width="5.84" height="2.27" fill="#858585" stroke="#5c5c5c" stroke-width="0.35"/>
<line x1="250.30" y1="756.60" x2="250.30" y2="773.60" stroke="#333" stroke-width="0.7"/>
<line x1="249.40" y1="759.35" x2="250.30" y2="759.35" stroke="#333" stroke-width="0.4"/>
<text x="249.10" y="760.35" font-size="2.9" text-anchor="end" fill="#444">0.5</text>
<line x1="249.40" y1="762.60" x2="250.30" y2="762.60" stroke="#333" stroke-width="0.4"/>
<text x="249.10" y="763.60" font-size="2.9" text-anchor="end" fill="#444">0</text>
<line x1="249.40" y1="765.85" x2="250.30" y2="765.85" stroke="#333" stroke-width="0.4"/>
<text x="249.10" y="766.85" font-size="2.9" text-anchor="end" fill="#444">-0.5</text>
<line x1="249.40" y1="769.10" x2="250.30" y2="769.10" stroke="#333" stroke-width="0.4"/>
<text x="249.10" y="770.10" font-size="2.9" text-anchor="end" fill="#444">-1</text>
<text x="410.90" y="783.60" font-size="7.75" font-weight="bold">Senescence</text>
<text x="410.90" y="791.50" font-size="7.75" font-weight="bold">Hernandez</text>
<text x="410.90" y="799.60" font-size="7.75" font-weight="bold">Fridman_UP</text>
<text x="410.90" y="808.40" font-size="7.75" font-weight="bold">Casella_UP</text>
<text x="410.90" y="817.10" font-size="7.75" font-weight="bold">Purcell</text>
<path d="M249.40 790.68H246.90V798.20H249.40" fill="none" stroke="#555" stroke-width="0.6"/>
<path d="M249.40 783.16H244.40V794.44H246.90" fill="none" stroke="#555" stroke-width="0.6"/>
<path d="M249.40 805.72H246.40V813.24H249.40" fill="none" stroke="#555" stroke-width="0.6"/>
<path d="M244.40 788.80H240.40V809.48H246.40" fill="none" stroke="#555" stroke-width="0.6"/>
<text x="411.90" y="764.60" font-size="7.8" fill="#111">Mean</text>
<text x="411.90" y="775.10" font-size="7.8" fill="#111">Group</text>
<text x="265.40" y="831.70" font-size="7.8" text-anchor="middle" fill="#111">Vehicle</text>
<text x="299.00" y="831.70" font-size="7.8" text-anchor="middle" fill="#111">BLU-222</text>
<text x="299.50" y="840.70" font-size="7.8" text-anchor="middle" fill="#111">(50 mg/kg)</text>
<text x="342.70" y="831.70" font-size="7.8" text-anchor="middle" fill="#111">BLU-222</text>
<text x="342.70" y="840.70" font-size="7.8" text-anchor="middle" fill="#111">(100 mg/kg)</text>
<text x="374.50" y="831.70" font-size="7.8" text-anchor="middle" fill="#111">Palbo</text>
<text x="401.70" y="831.70" font-size="7.8" text-anchor="middle" fill="#111">Combo</text>
<text x="329.30" y="749.80" font-size="9.0" text-anchor="middle" fill="#111">BCX070_ssGSEA_ Senescence</text>
<text x="212.20" y="727.00" font-size="17.0" font-weight="bold">L</text>
<text x="421.40" y="831.70" font-size="7.3" font-weight="bold" fill="#111">Z−score</text>
<defs><linearGradient id="zgL" x1="0" y1="0" x2="0" y2="1">
<stop offset="0.00" stop-color="#ff0000"/>
<stop offset="0.10" stop-color="#ff0f04"/>
<stop offset="0.20" stop-color="#ff4e2e"/>
<stop offset="0.30" stop-color="#ff7150"/>
<stop offset="0.40" stop-color="#ff9071"/>
<stop offset="0.50" stop-color="#ffac93"/>
<stop offset="0.60" stop-color="#ffc8b5"/>
<stop offset="0.70" stop-color="#ffe3d9"/>
<stop offset="0.80" stop-color="#fffefd"/>
<stop offset="0.90" stop-color="#eddfff"/>
<stop offset="1.00" stop-color="#d8bfff"/>
</linearGradient></defs>
<rect x="421.40" y="835.80" width="8.80" height="28.00" fill="url(#zgL)"/>
<path d="M421.40 838.39h1.6M428.60 838.39h1.6" stroke="#fff" stroke-width="0.45" stroke-dasharray="0.8 0.4"/>
<text x="431.80" y="840.91" font-size="7.0" fill="#222">2</text>
<path d="M421.40 848.36h1.6M428.60 848.36h1.6" stroke="#fff" stroke-width="0.45" stroke-dasharray="0.8 0.4"/>
<text x="431.80" y="850.88" font-size="7.0" fill="#222">1</text>
<text x="431.80" y="860.84" font-size="7.0" fill="#222">0</text>
<rect x="30.20" y="889.70" width="10.97" height="9.59" fill="#ff9475"/>
<rect x="40.82" y="889.70" width="10.97" height="9.59" fill="#a074ff"/>
<rect x="51.44" y="889.70" width="10.97" height="9.59" fill="#f2e7ff"/>
<rect x="62.05" y="889.70" width="10.97" height="9.59" fill="#ffece5"/>
<rect x="72.67" y="889.70" width="10.97" height="9.59" fill="#0000ff"/>
<rect x="83.29" y="889.70" width="10.97" height="9.59" fill="#ffbca6"/>
<rect x="94.91" y="889.70" width="10.97" height="9.59" fill="#b38bff"/>
<rect x="105.53" y="889.70" width="10.97" height="9.59" fill="#fff5f2"/>
<rect x="117.15" y="889.70" width="10.97" height="9.59" fill="#ffb299"/>
<rect x="127.76" y="889.70" width="10.97" height="9.59" fill="#ffd9cb"/>
<rect x="138.38" y="889.70" width="10.97" height="9.59" fill="#ff9475"/>
<rect x="30.20" y="898.94" width="10.97" height="9.59" fill="#ffb299"/>
<rect x="40.82" y="898.94" width="10.97" height="9.59" fill="#d4b9ff"/>
<rect x="51.44" y="898.94" width="10.97" height="9.59" fill="#b38bff"/>
<rect x="62.05" y="898.94" width="10.97" height="9.59" fill="#bc97ff"/>
<rect x="72.67" y="898.94" width="10.97" height="9.59" fill="#dcc4ff"/>
<rect x="83.29" y="898.94" width="10.97" height="9.59" fill="#ffece5"/>
<rect x="94.91" y="898.94" width="10.97" height="9.59" fill="#ccadff"/>
<rect x="105.53" y="898.94" width="10.97" height="9.59" fill="#e3d0ff"/>
<rect x="117.15" y="898.94" width="10.97" height="9.59" fill="#ff6846"/>
<rect x="127.76" y="898.94" width="10.97" height="9.59" fill="#ffb299"/>
<rect x="138.38" y="898.94" width="10.97" height="9.59" fill="#ff8969"/>
<rect x="30.20" y="908.18" width="10.97" height="9.59" fill="#aa80ff"/>
<rect x="40.82" y="908.18" width="10.97" height="9.59" fill="#d4b9ff"/>
<rect x="51.44" y="908.18" width="10.97" height="9.59" fill="#bc97ff"/>
<rect x="62.05" y="908.18" width="10.97" height="9.59" fill="#dcc4ff"/>
<rect x="72.67" y="908.18" width="10.97" height="9.59" fill="#ccadff"/>
<rect x="83.29" y="908.18" width="10.97" height="9.59" fill="#f8f3ff"/>
<rect x="94.91" y="908.18" width="10.97" height="9.59" fill="#f2e7ff"/>
<rect x="105.53" y="908.18" width="10.97" height="9.59" fill="#ffbca6"/>
<rect x="117.15" y="908.18" width="10.97" height="9.59" fill="#ff5b3a"/>
<rect x="127.76" y="908.18" width="10.97" height="9.59" fill="#ffe2d8"/>
<rect x="138.38" y="908.18" width="10.97" height="9.59" fill="#ff4d2e"/>
<rect x="30.20" y="917.42" width="10.97" height="9.59" fill="#ffe2d8"/>
<rect x="40.82" y="917.42" width="10.97" height="9.59" fill="#ffb299"/>
<rect x="51.44" y="917.42" width="10.97" height="9.59" fill="#ff8969"/>
<rect x="62.05" y="917.42" width="10.97" height="9.59" fill="#ffd9cb"/>
<rect x="72.67" y="917.42" width="10.97" height="9.59" fill="#ffbca6"/>
<rect x="83.29" y="917.42" width="10.97" height="9.59" fill="#ff9e81"/>
<rect x="94.91" y="917.42" width="10.97" height="9.59" fill="#0000ff"/>
<rect x="105.53" y="917.42" width="10.97" height="9.59" fill="#ccadff"/>
<rect x="117.15" y="917.42" width="10.97" height="9.59" fill="#e3d0ff"/>
<rect x="127.76" y="917.42" width="10.97" height="9.59" fill="#d4b9ff"/>
<rect x="138.38" y="917.42" width="10.97" height="9.59" fill="#d4b9ff"/>
<rect x="30.20" y="926.66" width="10.97" height="9.59" fill="#fffbfa"/>
<rect x="40.82" y="926.66" width="10.97" height="9.59" fill="#ebdcff"/>
<rect x="51.44" y="926.66" width="10.97" height="9.59" fill="#ffcfbf"/>
<rect x="62.05" y="926.66" width="10.97" height="9.59" fill="#ff2913"/>
<rect x="72.67" y="926.66" width="10.97" height="9.59" fill="#8a5dff"/>
<rect x="83.29" y="926.66" width="10.97" height="9.59" fill="#ff8969"/>
<rect x="94.91" y="926.66" width="10.97" height="9.59" fill="#ffc6b2"/>
<rect x="105.53" y="926.66" width="10.97" height="9.59" fill="#ccadff"/>
<rect x="117.15" y="926.66" width="10.97" height="9.59" fill="#fffbfa"/>
<rect x="127.76" y="926.66" width="10.97" height="9.59" fill="#ccadff"/>
<rect x="138.38" y="926.66" width="10.97" height="9.59" fill="#d4b9ff"/>
<rect x="30.20" y="883.10" width="63.71" height="5.50" fill="#608b87"/>
<rect x="94.91" y="883.10" width="21.24" height="5.50" fill="#009acd"/>
<rect x="117.15" y="883.10" width="31.85" height="5.50" fill="#ab82ff"/>
<rect x="30.50" y="860.80" width="63.11" height="20.50" fill="#fff" stroke="#8c8c8c" stroke-width="0.7"/>
<rect x="95.21" y="860.80" width="20.64" height="20.50" fill="#fff" stroke="#8c8c8c" stroke-width="0.7"/>
<rect x="117.45" y="860.80" width="31.25" height="20.50" fill="#fff" stroke="#8c8c8c" stroke-width="0.7"/>
<rect x="31.26" y="868.45" width="8.49" height="2.85" fill="#858585" stroke="#5c5c5c" stroke-width="0.35"/>
<rect x="41.88" y="871.30" width="8.49" height="4.75" fill="#858585" stroke="#5c5c5c" stroke-width="0.35"/>
<rect x="52.50" y="871.30" width="8.49" height="1.90" fill="#858585" stroke="#5c5c5c" stroke-width="0.35"/>
<rect x="63.12" y="869.40" width="8.49" height="1.90" fill="#858585" stroke="#5c5c5c" stroke-width="0.35"/>
<rect x="73.73" y="871.30" width="8.49" height="9.40" fill="#858585" stroke="#5c5c5c" stroke-width="0.35"/>
<rect x="84.35" y="864.17" width="8.49" height="7.12" fill="#858585" stroke="#5c5c5c" stroke-width="0.35"/>
<rect x="95.97" y="871.30" width="8.49" height="8.55" fill="#858585" stroke="#5c5c5c" stroke-width="0.35"/>
<rect x="106.59" y="871.30" width="8.49" height="2.85" fill="#858585" stroke="#5c5c5c" stroke-width="0.35"/>
<rect x="118.21" y="863.22" width="8.49" height="8.08" fill="#858585" stroke="#5c5c5c" stroke-width="0.35"/>
<rect x="128.83" y="870.65" width="8.49" height="1.30" fill="#858585" stroke="#5c5c5c" stroke-width="0.35"/>
<rect x="139.44" y="864.17" width="8.49" height="7.12" fill="#858585" stroke="#5c5c5c" stroke-width="0.35"/>
<line x1="30.50" y1="860.80" x2="30.50" y2="881.30" stroke="#333" stroke-width="0.7"/>
<line x1="29.60" y1="861.80" x2="30.50" y2="861.80" stroke="#333" stroke-width="0.4"/>
<text x="29.30" y="862.80" font-size="2.9" text-anchor="end" fill="#444">1</text>
<line x1="29.60" y1="866.55" x2="30.50" y2="866.55" stroke="#333" stroke-width="0.4"/>
<text x="29.30" y="867.55" font-size="2.9" text-anchor="end" fill="#444">0.5</text>
<line x1="29.60" y1="871.30" x2="30.50" y2="871.30" stroke="#333" stroke-width="0.4"/>
<text x="29.30" y="872.30" font-size="2.9" text-anchor="end" fill="#444">0</text>
<line x1="29.60" y1="876.05" x2="30.50" y2="876.05" stroke="#333" stroke-width="0.4"/>
<text x="29.30" y="877.05" font-size="2.9" text-anchor="end" fill="#444">-0.5</text>
<text x="150.50" y="897.40" font-size="7.75" font-weight="bold">Fridman_UP</text>
<text x="150.50" y="906.70" font-size="7.75" font-weight="bold">Senescence</text>
<text x="150.50" y="915.80" font-size="7.75" font-weight="bold">Purcell</text>
<text x="150.50" y="924.80" font-size="7.75" font-weight="bold">Casella_UP</text>
<text x="150.50" y="934.20" font-size="7.75" font-weight="bold">Hernandez</text>
<path d="M29.60 894.32H27.60V903.56H29.60" fill="none" stroke="#555" stroke-width="0.6"/>
<path d="M27.60 898.94H25.60V912.80H29.60" fill="none" stroke="#555" stroke-width="0.6"/>
<path d="M29.60 922.04H26.60V931.28H29.60" fill="none" stroke="#555" stroke-width="0.6"/>
<path d="M25.60 905.87H17.60V926.66H26.60" fill="none" stroke="#555" stroke-width="0.6"/>
<text x="151.40" y="876.90" font-size="7.8" fill="#111">Mean</text>
<text x="151.40" y="888.00" font-size="7.8" fill="#111">Group</text>
<text x="55.90" y="952.10" font-size="7.8" text-anchor="middle" fill="#111">Vehicle</text>
<text x="100.30" y="946.30" font-size="7.8" text-anchor="middle" fill="#111">BLU-222</text>
<text x="100.70" y="955.50" font-size="7.8" text-anchor="middle" fill="#111">(50 mg/kg)</text>
<text x="136.50" y="948.00" font-size="7.8" text-anchor="middle" fill="#111">Combo</text>
<text x="97.50" y="853.80" font-size="9.0" text-anchor="middle" fill="#111">PR1_ssGSEA_ Senescence</text>
<text x="-0.50" y="856.10" font-size="16.5" font-weight="bold">M</text>
<rect x="235.80" y="891.90" width="8.89" height="8.65" fill="#e3d0ff"/>
<rect x="244.34" y="891.90" width="8.89" height="8.65" fill="#d4b9ff"/>
<rect x="252.88" y="891.90" width="8.89" height="8.65" fill="#f8f3ff"/>
<rect x="261.42" y="891.90" width="8.89" height="8.65" fill="#ffcfbf"/>
<rect x="270.96" y="891.90" width="8.89" height="8.65" fill="#f8f3ff"/>
<rect x="279.50" y="891.90" width="8.89" height="8.65" fill="#f2e7ff"/>
<rect x="288.04" y="891.90" width="8.89" height="8.65" fill="#f8f3ff"/>
<rect x="297.58" y="891.90" width="8.89" height="8.65" fill="#b38bff"/>
<rect x="306.12" y="891.90" width="8.89" height="8.65" fill="#0000ff"/>
<rect x="314.66" y="891.90" width="8.89" height="8.65" fill="#e3d0ff"/>
<rect x="324.20" y="891.90" width="8.89" height="8.65" fill="#ffb299"/>
<rect x="332.74" y="891.90" width="8.89" height="8.65" fill="#ffd9cb"/>
<rect x="341.28" y="891.90" width="8.89" height="8.65" fill="#dcc4ff"/>
<rect x="349.82" y="891.90" width="8.89" height="8.65" fill="#ebdcff"/>
<rect x="358.36" y="891.90" width="8.89" height="8.65" fill="#ffcfbf"/>
<rect x="366.90" y="891.90" width="8.89" height="8.65" fill="#fff5f2"/>
<rect x="376.44" y="891.90" width="8.89" height="8.65" fill="#ff9e81"/>
<rect x="384.98" y="891.90" width="8.89" height="8.65" fill="#fff5f2"/>
<rect x="393.52" y="891.90" width="8.89" height="8.65" fill="#ff9475"/>
<rect x="402.06" y="891.90" width="8.89" height="8.65" fill="#fff5f2"/>
<rect x="235.80" y="900.20" width="8.89" height="8.65" fill="#a074ff"/>
<rect x="244.34" y="900.20" width="8.89" height="8.65" fill="#ffffff"/>
<rect x="252.88" y="900.20" width="8.89" height="8.65" fill="#d4b9ff"/>
<rect x="261.42" y="900.20" width="8.89" height="8.65" fill="#ffbca6"/>
<rect x="270.96" y="900.20" width="8.89" height="8.65" fill="#ffc6b2"/>
<rect x="279.50" y="900.20" width="8.89" height="8.65" fill="#ffbca6"/>
<rect x="288.04" y="900.20" width="8.89" height="8.65" fill="#ffd9cb"/>
<rect x="297.58" y="900.20" width="8.89" height="8.65" fill="#ebdcff"/>
<rect x="306.12" y="900.20" width="8.89" height="8.65" fill="#7e52ff"/>
<rect x="314.66" y="900.20" width="8.89" height="8.65" fill="#bc97ff"/>
<rect x="324.20" y="900.20" width="8.89" height="8.65" fill="#ffe2d8"/>
<rect x="332.74" y="900.20" width="8.89" height="8.65" fill="#ffcfbf"/>
<rect x="341.28" y="900.20" width="8.89" height="8.65" fill="#e3d0ff"/>
<rect x="349.82" y="900.20" width="8.89" height="8.65" fill="#aa80ff"/>
<rect x="358.36" y="900.20" width="8.89" height="8.65" fill="#ffe2d8"/>
<rect x="366.90" y="900.20" width="8.89" height="8.65" fill="#ccadff"/>
<rect x="376.44" y="900.20" width="8.89" height="8.65" fill="#ffbca6"/>
<rect x="384.98" y="900.20" width="8.89" height="8.65" fill="#ffb299"/>
<rect x="393.52" y="900.20" width="8.89" height="8.65" fill="#ff8969"/>
<rect x="402.06" y="900.20" width="8.89" height="8.65" fill="#ffece5"/>
<rect x="235.80" y="908.50" width="8.89" height="8.65" fill="#7e52ff"/>
<rect x="244.34" y="908.50" width="8.89" height="8.65" fill="#ccadff"/>
<rect x="252.88" y="908.50" width="8.89" height="8.65" fill="#aa80ff"/>
<rect x="261.42" y="908.50" width="8.89" height="8.65" fill="#ff9e81"/>
<rect x="270.96" y="908.50" width="8.89" height="8.65" fill="#ffd9cb"/>
<rect x="279.50" y="908.50" width="8.89" height="8.65" fill="#ffd9cb"/>
<rect x="288.04" y="908.50" width="8.89" height="8.65" fill="#ffc6b2"/>
<rect x="297.58" y="908.50" width="8.89" height="8.65" fill="#ffe2d8"/>
<rect x="306.12" y="908.50" width="8.89" height="8.65" fill="#ebdcff"/>
<rect x="314.66" y="908.50" width="8.89" height="8.65" fill="#a074ff"/>
<rect x="324.20" y="908.50" width="8.89" height="8.65" fill="#ffd9cb"/>
<rect x="332.74" y="908.50" width="8.89" height="8.65" fill="#ffece5"/>
<rect x="341.28" y="908.50" width="8.89" height="8.65" fill="#ccadff"/>
<rect x="349.82" y="908.50" width="8.89" height="8.65" fill="#e3d0ff"/>
<rect x="358.36" y="908.50" width="8.89" height="8.65" fill="#ffb299"/>
<rect x="366.90" y="908.50" width="8.89" height="8.65" fill="#e3d0ff"/>
<rect x="376.44" y="908.50" width="8.89" height="8.65" fill="#fff5f2"/>
<rect x="384.98" y="908.50" width="8.89" height="8.65" fill="#ffd9cb"/>
<rect x="393.52" y="908.50" width="8.89" height="8.65" fill="#ff9475"/>
<rect x="402.06" y="908.50" width="8.89" height="8.65" fill="#fff5f2"/>
<rect x="235.80" y="916.80" width="8.89" height="8.65" fill="#b38bff"/>
<rect x="244.34" y="916.80" width="8.89" height="8.65" fill="#ffe2d8"/>
<rect x="252.88" y="916.80" width="8.89" height="8.65" fill="#a074ff"/>
<rect x="261.42" y="916.80" width="8.89" height="8.65" fill="#ff0000"/>
<rect x="270.96" y="916.80" width="8.89" height="8.65" fill="#ebdcff"/>
<rect x="279.50" y="916.80" width="8.89" height="8.65" fill="#e3d0ff"/>
<rect x="288.04" y="916.80" width="8.89" height="8.65" fill="#f2e7ff"/>
<rect x="297.58" y="916.80" width="8.89" height="8.65" fill="#ffcfbf"/>
<rect x="306.12" y="916.80" width="8.89" height="8.65" fill="#ffc6b2"/>
<rect x="314.66" y="916.80" width="8.89" height="8.65" fill="#9569ff"/>
<rect x="324.20" y="916.80" width="8.89" height="8.65" fill="#ffece5"/>
<rect x="332.74" y="916.80" width="8.89" height="8.65" fill="#dcc4ff"/>
<rect x="341.28" y="916.80" width="8.89" height="8.65" fill="#f2e7ff"/>
<rect x="349.82" y="916.80" width="8.89" height="8.65" fill="#ffffff"/>
<rect x="358.36" y="916.80" width="8.89" height="8.65" fill="#ffe2d8"/>
<rect x="366.90" y="916.80" width="8.89" height="8.65" fill="#d4b9ff"/>
<rect x="376.44" y="916.80" width="8.89" height="8.65" fill="#ffd9cb"/>
<rect x="384.98" y="916.80" width="8.89" height="8.65" fill="#d4b9ff"/>
<rect x="393.52" y="916.80" width="8.89" height="8.65" fill="#ffb299"/>
<rect x="402.06" y="916.80" width="8.89" height="8.65" fill="#ffffff"/>
<rect x="235.80" y="925.10" width="8.89" height="8.65" fill="#d4b9ff"/>
<rect x="244.34" y="925.10" width="8.89" height="8.65" fill="#ffece5"/>
<rect x="252.88" y="925.10" width="8.89" height="8.65" fill="#9569ff"/>
<rect x="261.42" y="925.10" width="8.89" height="8.65" fill="#bc97ff"/>
<rect x="270.96" y="925.10" width="8.89" height="8.65" fill="#ffffff"/>
<rect x="279.50" y="925.10" width="8.89" height="8.65" fill="#fff5f2"/>
<rect x="288.04" y="925.10" width="8.89" height="8.65" fill="#ffece5"/>
<rect x="297.58" y="925.10" width="8.89" height="8.65" fill="#c4a2ff"/>
<rect x="306.12" y="925.10" width="8.89" height="8.65" fill="#fff5f2"/>
<rect x="314.66" y="925.10" width="8.89" height="8.65" fill="#aa80ff"/>
<rect x="324.20" y="925.10" width="8.89" height="8.65" fill="#ffffff"/>
<rect x="332.74" y="925.10" width="8.89" height="8.65" fill="#fff5f2"/>
<rect x="341.28" y="925.10" width="8.89" height="8.65" fill="#ffb299"/>
<rect x="349.82" y="925.10" width="8.89" height="8.65" fill="#ffe2d8"/>
<rect x="358.36" y="925.10" width="8.89" height="8.65" fill="#ffd9cb"/>
<rect x="366.90" y="925.10" width="8.89" height="8.65" fill="#dcc4ff"/>
<rect x="376.44" y="925.10" width="8.89" height="8.65" fill="#ff9e81"/>
<rect x="384.98" y="925.10" width="8.89" height="8.65" fill="#ff5b3a"/>
<rect x="393.52" y="925.10" width="8.89" height="8.65" fill="#ff8969"/>
<rect x="402.06" y="925.10" width="8.89" height="8.65" fill="#c4a2ff"/>
<rect x="235.80" y="886.20" width="34.16" height="4.50" fill="#a9a9a9"/>
<rect x="270.96" y="886.20" width="25.62" height="4.50" fill="#87cefa"/>
<rect x="297.58" y="886.20" width="25.62" height="4.50" fill="#00b2ee"/>
<rect x="324.20" y="886.20" width="51.24" height="4.50" fill="#ffa500"/>
<rect x="376.44" y="886.20" width="34.16" height="4.50" fill="#ab82ff"/>
<rect x="236.10" y="866.30" width="33.56" height="18.70" fill="#fff" stroke="#8c8c8c" stroke-width="0.7"/>
<rect x="271.26" y="866.30" width="25.02" height="18.70" fill="#fff" stroke="#8c8c8c" stroke-width="0.7"/>
<rect x="297.88" y="866.30" width="25.02" height="18.70" fill="#fff" stroke="#8c8c8c" stroke-width="0.7"/>
<rect x="324.50" y="866.30" width="50.64" height="18.70" fill="#fff" stroke="#8c8c8c" stroke-width="0.7"/>
<rect x="376.74" y="866.30" width="33.56" height="18.70" fill="#fff" stroke="#8c8c8c" stroke-width="0.7"/>
<rect x="236.65" y="877.40" width="6.83" height="7.00" fill="#858585" stroke="#5c5c5c" stroke-width="0.35"/>
<rect x="245.19" y="876.75" width="6.83" height="1.30" fill="#858585" stroke="#5c5c5c" stroke-width="0.35"/>
<rect x="253.73" y="877.40" width="6.83" height="5.40" fill="#858585" stroke="#5c5c5c" stroke-width="0.35"/>
<rect x="262.27" y="872.00" width="6.83" height="5.40" fill="#858585" stroke="#5c5c5c" stroke-width="0.35"/>
<rect x="271.81" y="876.75" width="6.83" height="1.30" fill="#858585" stroke="#5c5c5c" stroke-width="0.35"/>
<rect x="280.35" y="876.75" width="6.83" height="1.30" fill="#858585" stroke="#5c5c5c" stroke-width="0.35"/>
<rect x="288.89" y="876.75" width="6.83" height="1.30" fill="#858585" stroke="#5c5c5c" stroke-width="0.35"/>
<rect x="298.43" y="876.75" width="6.83" height="1.30" fill="#858585" stroke="#5c5c5c" stroke-width="0.35"/>
<rect x="306.97" y="877.40" width="6.83" height="4.50" fill="#858585" stroke="#5c5c5c" stroke-width="0.35"/>
<rect x="315.51" y="877.40" width="6.83" height="7.00" fill="#858585" stroke="#5c5c5c" stroke-width="0.35"/>
<rect x="325.05" y="873.80" width="6.83" height="3.60" fill="#858585" stroke="#5c5c5c" stroke-width="0.35"/>
<rect x="333.59" y="876.75" width="6.83" height="1.30" fill="#858585" stroke="#5c5c5c" stroke-width="0.35"/>
<rect x="342.13" y="877.40" width="6.83" height="1.35" fill="#858585" stroke="#5c5c5c" stroke-width="0.35"/>
<rect x="350.67" y="877.40" width="6.83" height="2.70" fill="#858585" stroke="#5c5c5c" stroke-width="0.35"/>
<rect x="359.21" y="873.80" width="6.83" height="3.60" fill="#858585" stroke="#5c5c5c" stroke-width="0.35"/>
<rect x="367.75" y="877.40" width="6.83" height="2.25" fill="#858585" stroke="#5c5c5c" stroke-width="0.35"/>
<rect x="377.29" y="872.90" width="6.83" height="4.50" fill="#858585" stroke="#5c5c5c" stroke-width="0.35"/>
<rect x="385.83" y="874.70" width="6.83" height="2.70" fill="#858585" stroke="#5c5c5c" stroke-width="0.35"/>
<rect x="394.37" y="867.50" width="6.83" height="9.90" fill="#858585" stroke="#5c5c5c" stroke-width="0.35"/>
<rect x="402.91" y="876.75" width="6.83" height="1.30" fill="#858585" stroke="#5c5c5c" stroke-width="0.35"/>
<line x1="236.10" y1="866.30" x2="236.10" y2="885.00" stroke="#333" stroke-width="0.7"/>
<line x1="235.20" y1="868.40" x2="236.10" y2="868.40" stroke="#333" stroke-width="0.4"/>
<text x="234.90" y="869.40" font-size="2.9" text-anchor="end" fill="#444">1</text>
<line x1="235.20" y1="872.90" x2="236.10" y2="872.90" stroke="#333" stroke-width="0.4"/>
<text x="234.90" y="873.90" font-size="2.9" text-anchor="end" fill="#444">0.5</text>
<line x1="235.20" y1="877.40" x2="236.10" y2="877.40" stroke="#333" stroke-width="0.4"/>
<text x="234.90" y="878.40" font-size="2.9" text-anchor="end" fill="#444">0</text>
<line x1="235.20" y1="881.90" x2="236.10" y2="881.90" stroke="#333" stroke-width="0.4"/>
<text x="234.90" y="882.90" font-size="2.9" text-anchor="end" fill="#444">-0.5</text>
<text x="414.00" y="897.40" font-size="7.75" font-weight="bold">Hernandez</text>
<text x="414.00" y="905.50" font-size="7.75" font-weight="bold">Fridman_UP</text>
<text x="414.00" y="914.90" font-size="7.75" font-weight="bold">Purcell</text>
<text x="414.00" y="923.60" font-size="7.75" font-weight="bold">Senescence</text>
<text x="414.00" y="932.20" font-size="7.75" font-weight="bold">Casella_UP</text>
<path d="M235.20 912.65H233.20V920.95H235.20" fill="none" stroke="#555" stroke-width="0.6"/>
<path d="M235.20 904.35H231.20V916.80H233.20" fill="none" stroke="#555" stroke-width="0.6"/>
<path d="M235.20 896.05H229.20V910.58H231.20" fill="none" stroke="#555" stroke-width="0.6"/>
<path d="M229.20 903.31H225.20V929.25H235.20" fill="none" stroke="#555" stroke-width="0.6"/>
<text x="414.60" y="878.70" font-size="7.8" fill="#111">Mean</text>
<text x="414.60" y="889.20" font-size="7.8" fill="#111">Group</text>
<text x="247.50" y="944.80" font-size="7.8" text-anchor="middle" fill="#111">Vehicle</text>
<text x="280.80" y="942.80" font-size="7.8" text-anchor="middle" fill="#111">BLU-222</text>
<text x="280.20" y="952.20" font-size="7.8" text-anchor="middle" fill="#111">(50 mg/kg)</text>
<text x="318.70" y="942.80" font-size="7.8" text-anchor="middle" fill="#111">BLU-222</text>
<text x="318.90" y="952.20" font-size="7.8" text-anchor="middle" fill="#111">(100 mg/kg)</text>
<text x="354.50" y="944.80" font-size="7.8" text-anchor="middle" fill="#111">Palbo</text>
<text x="390.10" y="944.80" font-size="7.8" text-anchor="middle" fill="#111">Combo</text>
<text x="324.80" y="861.60" font-size="9.0" text-anchor="middle" fill="#111">PR4_ssGSEA_ Senescence</text>
<text x="213.50" y="856.50" font-size="17.0" font-weight="bold">N</text>
<defs>
<filter id="ov1" x="0" y="0" width="1" height="1" color-interpolation-filters="sRGB"><feTurbulence type="fractalNoise" baseFrequency="0.38" numOctaves="2" seed="4"/><feColorMatrix type="matrix" values="0 0 0 0 0.85 0 0 0 0 0.06 0 0 0 0 0.85 6.5 0 0 0 -3.75"/></filter>
<filter id="ov2" x="0" y="0" width="1" height="1" color-interpolation-filters="sRGB"><feTurbulence type="fractalNoise" baseFrequency="0.04" numOctaves="2" seed="9"/><feColorMatrix type="matrix" values="0 0 0 0 0.3 0 0 0 0 0.02 0 0 0 0 0.3 2.0 0 0 0 -0.95"/></filter>
<radialGradient id="ovh" cx="0.45" cy="0.55" r="0.5"><stop offset="0" stop-color="#6a0a6a" stop-opacity="0.75"/><stop offset="1" stop-color="#6a0a6a" stop-opacity="0"/></radialGradient>
<radialGradient id="ovm" cx="0.48" cy="0.5" r="0.6"><stop offset="0" stop-color="#fff"/><stop offset="0.7" stop-color="#888"/><stop offset="1" stop-color="#444"/></radialGradient>
<mask id="ovmask" maskContentUnits="objectBoundingBox"><rect x="0" y="0" width="1" height="1" fill="url(#ovm)"/></mask>
<filter id="oc0" x="0" y="0" width="1" height="1" color-interpolation-filters="sRGB"><feTurbulence type="fractalNoise" baseFrequency="0.02" numOctaves="1" seed="3"/><feColorMatrix type="matrix" values="0 0 0 0 0.22 0 0 0 0 0.0 0 0 0 0 0.22 0 0 0 0 1.0"/></filter>
<filter id="oc1" x="0" y="0" width="1" height="1" color-interpolation-filters="sRGB"><feTurbulence type="fractalNoise" baseFrequency="0.09" numOctaves="3" seed="12"/><feColorMatrix type="matrix" values="0 0 0 0 0.8 0 0 0 0 0.06 0 0 0 0 0.8 2.6 0 0 0 -1.2"/></filter>
<filter id="oc2" x="0" y="0" width="1" height="1" color-interpolation-filters="sRGB"><feTurbulence type="fractalNoise" baseFrequency="0.5" numOctaves="2" seed="5"/><feColorMatrix type="matrix" values="0 0 0 0 0.92 0 0 0 0 0.1 0 0 0 0 0.92 3.5 0 0 0 -1.55"/></filter>
<filter id="pv1" x="0" y="0" width="1" height="1" color-interpolation-filters="sRGB"><feTurbulence type="fractalNoise" baseFrequency="0.7" numOctaves="2" seed="7"/><feColorMatrix type="matrix" values="0 0 0 0 0.55 0 0 0 0 0.03 0 0 0 0 0.6 3.2 0 0 0 -1.4"/></filter>
<filter id="pc0" x="0" y="0" width="1" height="1" color-interpolation-filters="sRGB"><feTurbulence type="fractalNoise" baseFrequency="0.02" numOctaves="1" seed="3"/><feColorMatrix type="matrix" values="0 0 0 0 0.2 0 0 0 0 0.0 0 0 0 0 0.22 0 0 0 0 1.0"/></filter>
<filter id="pc1" x="0" y="0" width="1" height="1" color-interpolation-filters="sRGB"><feTurbulence type="fractalNoise" baseFrequency="0.7" numOctaves="2" seed="8"/><feColorMatrix type="matrix" values="0 0 0 0 0.78 0 0 0 0 0.05 0 0 0 0 0.85 3.5 0 0 0 -1.35"/></filter>
<filter id="pc2" x="0" y="0" width="1" height="1" color-interpolation-filters="sRGB"><feTurbulence type="fractalNoise" baseFrequency="0.035" numOctaves="2" seed="15"/><feColorMatrix type="matrix" values="0 0 0 0 0.4 0 0 0 0 0.03 0 0 0 0 0.45 2.0 0 0 0 -0.85"/></filter>
<linearGradient id="pcd" x1="0" y1="1" x2="0.6" y2="0.4"><stop offset="0" stop-color="#000" stop-opacity="0.75"/><stop offset="1" stop-color="#000" stop-opacity="0"/></linearGradient>
<linearGradient id="ocd" x1="1" y1="1" x2="0.5" y2="0.5"><stop offset="0" stop-color="#000" stop-opacity="0.35"/><stop offset="1" stop-color="#000" stop-opacity="0"/></linearGradient>
</defs>
<rect x="482.60" y="494.60" width="81.20" height="81.00" fill="#080008"/>
<rect x="482.6" y="494.6" width="81.2" height="81.0" fill="url(#ovh)"/>
<rect x="482.6" y="494.6" width="81.2" height="81.0" filter="url(#ov1)" mask="url(#ovmask)"/>
<text x="487.60" y="509.60" font-size="12.8" fill="#fff">Vehicle</text>
<line x1="533.1" y1="566.6" x2="558.7" y2="566.6" stroke="#d0d0d0" stroke-width="1.3"/>
<rect x="569.90" y="494.60" width="80.80" height="81.00" fill="#080008"/>
<rect x="569.9" y="494.6" width="80.8" height="81.0" filter="url(#oc0)"/>
<rect x="569.9" y="494.6" width="80.8" height="81.0" filter="url(#oc1)"/>
<rect x="569.9" y="494.6" width="80.8" height="81.0" filter="url(#oc2)"/>
<rect x="569.9" y="494.6" width="80.8" height="81.0" fill="url(#ocd)"/>
<text x="574.90" y="509.60" font-size="12.8" fill="#fff">Combo</text>
<line x1="619.2" y1="566.6" x2="644.8" y2="566.6" stroke="#d0d0d0" stroke-width="1.3"/>
<path d="M621.3 523.5 L619.8 533 L622.6 544.5 L625.6 556 L628.6 562" fill="none" stroke="#050005" stroke-width="3.0" stroke-linecap="round" stroke-opacity="0.85"/>
<path d="M623.5 527 L627 532" fill="none" stroke="#050005" stroke-width="2.2" stroke-linecap="round" stroke-opacity="0.7"/>
<rect x="483.10" y="601.80" width="81.70" height="80.80" fill="#080008"/>
<rect x="483.1" y="601.8" width="81.7" height="80.8" filter="url(#pv1)"/>
<text x="488.10" y="616.80" font-size="12.8" fill="#fff">Vehicle</text>
<line x1="534.9" y1="673.4" x2="560.5" y2="673.4" stroke="#d0d0d0" stroke-width="1.3"/>
<rect x="568.90" y="601.40" width="81.80" height="81.20" fill="#080008"/>
<rect x="568.9" y="601.4" width="81.8" height="81.2" filter="url(#pc0)"/>
<rect x="568.9" y="601.4" width="81.8" height="81.2" filter="url(#pc2)"/>
<rect x="568.9" y="601.4" width="81.8" height="81.2" filter="url(#pc1)"/>
<rect x="568.9" y="601.4" width="81.8" height="81.2" fill="url(#pcd)"/>
<text x="573.90" y="616.40" font-size="12.8" fill="#fff">Combo</text>
<line x1="620.0" y1="673.4" x2="645.6" y2="673.4" stroke="#d0d0d0" stroke-width="1.3"/>
<text x="572.4" y="486.4" font-size="10.3" text-anchor="middle" fill="#111"><tspan font-weight="bold">BCX070</tspan> SBB Lipofuscin</text>
<text x="571.5" y="595.0" font-size="10.3" text-anchor="middle" fill="#111"><tspan font-weight="bold">PR4</tspan> SBB Lipofuscin</text>
<text x="472.60" y="535.00" font-size="9.9" text-anchor="middle" fill="#111" transform="rotate(-90 472.60 535.00)">Cy5 (far-red)</text>
<text x="472.00" y="641.50" font-size="9.9" text-anchor="middle" fill="#111" transform="rotate(-90 472.00 641.50)">Cy5 (far-red)</text>
<text x="436.00" y="495.20" font-size="18.0" font-weight="bold">O</text>
<text x="437.30" y="586.60" font-size="18.0" font-weight="bold">P</text>
<rect x="504.60" y="774.18" width="10.00" height="6.52" fill="#555555" stroke="#1a1a1a" stroke-width="1.0"/>
<path d="M509.60 774.18V771.47M507.40 771.47H511.80" stroke="#1a1a1a" stroke-width="0.8" fill="none"/>
<circle cx="512.0" cy="769.8" r="1.05" fill="#000"/>
<circle cx="509.1" cy="779.6" r="1.05" fill="#000"/>
<circle cx="511.0" cy="770.6" r="1.05" fill="#000"/>
<circle cx="505.4" cy="773.9" r="1.05" fill="#000"/>
<circle cx="512.6" cy="775.5" r="1.05" fill="#000"/>
<circle cx="505.1" cy="778.9" r="1.05" fill="#000"/>
<circle cx="509.1" cy="772.1" r="1.05" fill="#000"/>
<circle cx="513.6" cy="774.6" r="1.05" fill="#000"/>
<circle cx="513.2" cy="776.4" r="1.05" fill="#000"/>
<circle cx="510.0" cy="773.5" r="1.05" fill="#000"/>
<circle cx="513.6" cy="774.1" r="1.05" fill="#000"/>
<circle cx="508.9" cy="775.8" r="1.05" fill="#000"/>
<circle cx="505.4" cy="772.7" r="1.05" fill="#000"/>
<circle cx="509.6" cy="773.6" r="1.05" fill="#000"/>
<circle cx="507.2" cy="771.0" r="1.05" fill="#000"/>
<circle cx="509.2" cy="773.9" r="1.05" fill="#000"/>
<circle cx="507.7" cy="772.1" r="1.05" fill="#000"/>
<circle cx="510.1" cy="773.4" r="1.05" fill="#000"/>
<circle cx="514.0" cy="775.4" r="1.05" fill="#000"/>
<circle cx="512.8" cy="775.7" r="1.05" fill="#000"/>
<circle cx="511.6" cy="772.2" r="1.05" fill="#000"/>
<circle cx="511.5" cy="772.3" r="1.05" fill="#000"/>
<circle cx="512.6" cy="771.2" r="1.05" fill="#000"/>
<circle cx="511.1" cy="775.4" r="1.05" fill="#000"/>
<circle cx="513.0" cy="775.5" r="1.05" fill="#000"/>
<circle cx="512.7" cy="770.3" r="1.05" fill="#000"/>
<rect x="521.00" y="773.51" width="10.30" height="7.19" fill="#f6928a" stroke="#ee3a2c" stroke-width="1.0"/>
<path d="M526.15 773.51V770.52M523.95 770.52H528.35" stroke="#ee3a2c" stroke-width="0.8" fill="none"/>
<circle cx="521.8" cy="768.5" r="1.05" fill="#ee3a2c"/>
<circle cx="523.8" cy="778.7" r="1.05" fill="#ee3a2c"/>
<circle cx="523.1" cy="772.5" r="1.05" fill="#ee3a2c"/>
<circle cx="526.6" cy="776.7" r="1.05" fill="#ee3a2c"/>
<circle cx="525.0" cy="774.9" r="1.05" fill="#ee3a2c"/>
<circle cx="525.6" cy="778.1" r="1.05" fill="#ee3a2c"/>
<circle cx="526.3" cy="773.8" r="1.05" fill="#ee3a2c"/>
<circle cx="521.8" cy="776.4" r="1.05" fill="#ee3a2c"/>
<circle cx="521.9" cy="771.2" r="1.05" fill="#ee3a2c"/>
<circle cx="527.0" cy="776.1" r="1.05" fill="#ee3a2c"/>
<circle cx="526.2" cy="775.0" r="1.05" fill="#ee3a2c"/>
<circle cx="530.6" cy="772.3" r="1.05" fill="#ee3a2c"/>
<circle cx="529.5" cy="773.0" r="1.05" fill="#ee3a2c"/>
<circle cx="523.7" cy="777.4" r="1.05" fill="#ee3a2c"/>
<circle cx="526.9" cy="774.2" r="1.05" fill="#ee3a2c"/>
<circle cx="526.6" cy="775.9" r="1.05" fill="#ee3a2c"/>
<rect x="537.50" y="760.20" width="10.10" height="20.50" fill="#86c886" stroke="#2a962a" stroke-width="1.0"/>
<path d="M542.55 760.20V746.90M540.35 746.90H544.75" stroke="#2a962a" stroke-width="0.8" fill="none"/>
<circle cx="546.7" cy="740.0" r="1.05" fill="#2a962a"/>
<circle cx="545.5" cy="775.3" r="1.05" fill="#2a962a"/>
<circle cx="546.1" cy="759.5" r="1.05" fill="#2a962a"/>
<circle cx="542.7" cy="761.4" r="1.05" fill="#2a962a"/>
<circle cx="538.5" cy="771.0" r="1.05" fill="#2a962a"/>
<circle cx="545.9" cy="764.6" r="1.05" fill="#2a962a"/>
<circle cx="542.6" cy="766.9" r="1.05" fill="#2a962a"/>
<circle cx="542.4" cy="763.3" r="1.05" fill="#2a962a"/>
<circle cx="542.9" cy="766.5" r="1.05" fill="#2a962a"/>
<circle cx="543.7" cy="752.2" r="1.05" fill="#2a962a"/>
<circle cx="538.3" cy="769.5" r="1.05" fill="#2a962a"/>
<circle cx="540.1" cy="768.1" r="1.05" fill="#2a962a"/>
<circle cx="545.8" cy="753.7" r="1.05" fill="#2a962a"/>
<circle cx="545.3" cy="747.1" r="1.05" fill="#2a962a"/>
<circle cx="540.3" cy="754.3" r="1.05" fill="#2a962a"/>
<circle cx="538.8" cy="751.2" r="1.05" fill="#2a962a"/>
<circle cx="538.2" cy="774.0" r="1.05" fill="#2a962a"/>
<circle cx="540.3" cy="741.8" r="1.05" fill="#2a962a"/>
<circle cx="539.0" cy="758.5" r="1.05" fill="#2a962a"/>
<circle cx="538.6" cy="767.4" r="1.05" fill="#2a962a"/>
<circle cx="539.5" cy="767.4" r="1.05" fill="#2a962a"/>
<circle cx="540.5" cy="766.8" r="1.05" fill="#2a962a"/>
<circle cx="544.5" cy="761.3" r="1.05" fill="#2a962a"/>
<circle cx="542.3" cy="769.5" r="1.05" fill="#2a962a"/>
<rect x="554.20" y="736.85" width="10.10" height="43.85" fill="#fdca86" stroke="#fa9c1e" stroke-width="1.0"/>
<path d="M559.25 736.85V732.10M557.05 732.10H561.45" stroke="#fa9c1e" stroke-width="0.8" fill="none"/>
<circle cx="554.9" cy="727.1" r="1.05" fill="#fa9c1e"/>
<circle cx="556.4" cy="756.3" r="1.05" fill="#fa9c1e"/>
<circle cx="555.7" cy="730.6" r="1.05" fill="#fa9c1e"/>
<circle cx="556.6" cy="728.0" r="1.05" fill="#fa9c1e"/>
<circle cx="560.2" cy="743.3" r="1.05" fill="#fa9c1e"/>
<circle cx="554.9" cy="736.1" r="1.05" fill="#fa9c1e"/>
<circle cx="556.0" cy="738.6" r="1.05" fill="#fa9c1e"/>
<circle cx="561.1" cy="737.9" r="1.05" fill="#fa9c1e"/>
<circle cx="560.9" cy="742.1" r="1.05" fill="#fa9c1e"/>
<circle cx="563.6" cy="743.0" r="1.05" fill="#fa9c1e"/>
<circle cx="562.0" cy="738.6" r="1.05" fill="#fa9c1e"/>
<circle cx="560.6" cy="743.3" r="1.05" fill="#fa9c1e"/>
<circle cx="558.3" cy="737.5" r="1.05" fill="#fa9c1e"/>
<circle cx="560.4" cy="744.0" r="1.05" fill="#fa9c1e"/>
<circle cx="555.2" cy="740.5" r="1.05" fill="#fa9c1e"/>
<circle cx="562.7" cy="744.0" r="1.05" fill="#fa9c1e"/>
<circle cx="557.5" cy="743.1" r="1.05" fill="#fa9c1e"/>
<circle cx="558.5" cy="742.5" r="1.05" fill="#fa9c1e"/>
<circle cx="562.7" cy="736.9" r="1.05" fill="#fa9c1e"/>
<circle cx="555.0" cy="735.7" r="1.05" fill="#fa9c1e"/>
<circle cx="562.6" cy="741.9" r="1.05" fill="#fa9c1e"/>
<circle cx="563.6" cy="739.2" r="1.05" fill="#fa9c1e"/>
<circle cx="558.1" cy="740.0" r="1.05" fill="#fa9c1e"/>
<circle cx="557.9" cy="747.3" r="1.05" fill="#fa9c1e"/>
<path d="M497.90 726.40V780.70H569.70" stroke="#111" stroke-width="0.9" fill="none"/>
<line x1="495.70" y1="780.70" x2="497.90" y2="780.70" stroke="#111" stroke-width="0.8"/>
<text x="494.90" y="783.20" font-size="7.0" text-anchor="end" fill="#111">0</text>
<line x1="495.70" y1="767.12" x2="497.90" y2="767.12" stroke="#111" stroke-width="0.8"/>
<text x="494.90" y="769.62" font-size="7.0" text-anchor="end" fill="#111">10</text>
<line x1="495.70" y1="753.55" x2="497.90" y2="753.55" stroke="#111" stroke-width="0.8"/>
<text x="494.90" y="756.05" font-size="7.0" text-anchor="end" fill="#111">20</text>
<line x1="495.70" y1="739.98" x2="497.90" y2="739.98" stroke="#111" stroke-width="0.8"/>
<text x="494.90" y="742.48" font-size="7.0" text-anchor="end" fill="#111">30</text>
<line x1="495.70" y1="726.40" x2="497.90" y2="726.40" stroke="#111" stroke-width="0.8"/>
<text x="494.90" y="728.90" font-size="7.0" text-anchor="end" fill="#111">40</text>
<line x1="509.60" y1="780.70" x2="509.60" y2="782.70" stroke="#111" stroke-width="0.8"/>
<text x="511.80" y="785.90" font-size="6.4" text-anchor="end" fill="#111" transform="rotate(-45 511.80 785.90)">Vehicle</text>
<line x1="526.15" y1="780.70" x2="526.15" y2="782.70" stroke="#111" stroke-width="0.8"/>
<text x="528.35" y="785.90" font-size="6.4" text-anchor="end" fill="#111" transform="rotate(-45 528.35 785.90)">Palbociclib</text>
<line x1="542.55" y1="780.70" x2="542.55" y2="782.70" stroke="#111" stroke-width="0.8"/>
<text x="544.75" y="785.90" font-size="6.4" text-anchor="end" fill="#111" transform="rotate(-45 544.75 785.90)">BLU-222 (100 mpk)</text>
<line x1="559.25" y1="780.70" x2="559.25" y2="782.70" stroke="#111" stroke-width="0.8"/>
<text x="561.45" y="785.90" font-size="6.4" text-anchor="end" fill="#111" transform="rotate(-45 561.45 785.90)">BLU-222+Palbo</text>
<path d="M509.60 726.40V718.40H559.20V723.80" stroke="#111" stroke-width="0.9" fill="none"/>
<text x="534.10" y="716.40" font-size="5.6" text-anchor="middle" fill="#111">&lt;0.0001</text>
<path d="M509.60 764.90V733.40H542.60V735.90" stroke="#111" stroke-width="0.9" fill="none"/>
<text x="526.00" y="731.60" font-size="5.6" text-anchor="middle" fill="#111">&lt;0.0001</text>
<text x="534.50" y="702.80" font-size="8.5" text-anchor="middle" font-weight="bold">BCX070</text>
<text x="473.60" y="752.00" font-size="7.6" text-anchor="middle" fill="#111" transform="rotate(-90 473.60 752.00)">SBB stained lipofuscin</text>
<text x="481.40" y="752.00" font-size="7.6" text-anchor="middle" fill="#111" transform="rotate(-90 481.40 752.00)">Positivity (%)</text>
<rect x="609.50" y="770.22" width="9.00" height="7.08" fill="#555555" stroke="#1a1a1a" stroke-width="1.0"/>
<path d="M614.00 770.22V767.64M611.80 767.64H616.20" stroke="#1a1a1a" stroke-width="0.8" fill="none"/>
<circle cx="610.5" cy="760.6" r="1.05" fill="#000"/>
<circle cx="615.9" cy="776.0" r="1.05" fill="#000"/>
<circle cx="615.4" cy="765.6" r="1.05" fill="#000"/>
<circle cx="614.9" cy="772.6" r="1.05" fill="#000"/>
<circle cx="614.6" cy="764.1" r="1.05" fill="#000"/>
<circle cx="613.1" cy="767.4" r="1.05" fill="#000"/>
<circle cx="615.8" cy="765.9" r="1.05" fill="#000"/>
<circle cx="614.4" cy="770.6" r="1.05" fill="#000"/>
<circle cx="610.3" cy="773.8" r="1.05" fill="#000"/>
<circle cx="610.2" cy="768.9" r="1.05" fill="#000"/>
<circle cx="613.0" cy="774.3" r="1.05" fill="#000"/>
<circle cx="617.1" cy="769.3" r="1.05" fill="#000"/>
<circle cx="611.9" cy="771.2" r="1.05" fill="#000"/>
<circle cx="611.1" cy="766.0" r="1.05" fill="#000"/>
<circle cx="614.1" cy="769.6" r="1.05" fill="#000"/>
<circle cx="611.5" cy="763.0" r="1.05" fill="#000"/>
<circle cx="617.1" cy="770.3" r="1.05" fill="#000"/>
<circle cx="617.3" cy="767.9" r="1.05" fill="#000"/>
<circle cx="612.8" cy="769.5" r="1.05" fill="#000"/>
<circle cx="611.3" cy="771.7" r="1.05" fill="#000"/>
<circle cx="613.7" cy="770.0" r="1.05" fill="#000"/>
<circle cx="617.4" cy="775.7" r="1.05" fill="#000"/>
<rect x="625.10" y="768.03" width="9.40" height="9.27" fill="#f6928a" stroke="#ee3a2c" stroke-width="1.0"/>
<path d="M629.80 768.03V763.52M627.60 763.52H632.00" stroke="#ee3a2c" stroke-width="0.8" fill="none"/>
<circle cx="629.8" cy="763.1" r="1.05" fill="#ee3a2c"/>
<circle cx="633.0" cy="773.4" r="1.05" fill="#ee3a2c"/>
<circle cx="633.2" cy="770.7" r="1.05" fill="#ee3a2c"/>
<circle cx="633.3" cy="772.1" r="1.05" fill="#ee3a2c"/>
<circle cx="631.7" cy="767.0" r="1.05" fill="#ee3a2c"/>
<rect x="640.70" y="753.48" width="9.70" height="23.82" fill="#86c886" stroke="#2a962a" stroke-width="1.0"/>
<path d="M645.55 753.48V736.10M643.35 736.10H647.75" stroke="#2a962a" stroke-width="0.8" fill="none"/>
<circle cx="644.0" cy="725.8" r="1.05" fill="#2a962a"/>
<circle cx="647.3" cy="770.9" r="1.05" fill="#2a962a"/>
<circle cx="643.5" cy="738.0" r="1.05" fill="#2a962a"/>
<circle cx="649.1" cy="726.9" r="1.05" fill="#2a962a"/>
<circle cx="647.3" cy="766.4" r="1.05" fill="#2a962a"/>
<circle cx="646.9" cy="770.5" r="1.05" fill="#2a962a"/>
<circle cx="646.3" cy="753.9" r="1.05" fill="#2a962a"/>
<circle cx="645.7" cy="757.1" r="1.05" fill="#2a962a"/>
<circle cx="649.3" cy="744.6" r="1.05" fill="#2a962a"/>
<circle cx="648.3" cy="757.5" r="1.05" fill="#2a962a"/>
<circle cx="647.5" cy="757.4" r="1.05" fill="#2a962a"/>
<circle cx="647.7" cy="745.8" r="1.05" fill="#2a962a"/>
<circle cx="641.7" cy="758.5" r="1.05" fill="#2a962a"/>
<circle cx="643.2" cy="759.9" r="1.05" fill="#2a962a"/>
<circle cx="648.8" cy="762.7" r="1.05" fill="#2a962a"/>
<circle cx="648.6" cy="740.0" r="1.05" fill="#2a962a"/>
<rect x="656.50" y="750.78" width="10.00" height="26.52" fill="#fdca86" stroke="#fa9c1e" stroke-width="1.0"/>
<path d="M661.50 750.78V743.44M659.30 743.44H663.70" stroke="#fa9c1e" stroke-width="0.8" fill="none"/>
<circle cx="659.2" cy="734.8" r="1.05" fill="#fa9c1e"/>
<circle cx="660.8" cy="761.8" r="1.05" fill="#fa9c1e"/>
<circle cx="660.3" cy="751.2" r="1.05" fill="#fa9c1e"/>
<circle cx="658.5" cy="752.9" r="1.05" fill="#fa9c1e"/>
<circle cx="665.6" cy="752.4" r="1.05" fill="#fa9c1e"/>
<circle cx="657.2" cy="753.9" r="1.05" fill="#fa9c1e"/>
<circle cx="659.3" cy="751.0" r="1.05" fill="#fa9c1e"/>
<circle cx="664.3" cy="752.5" r="1.05" fill="#fa9c1e"/>
<circle cx="663.2" cy="747.8" r="1.05" fill="#fa9c1e"/>
<circle cx="660.5" cy="746.3" r="1.05" fill="#fa9c1e"/>
<circle cx="658.4" cy="743.9" r="1.05" fill="#fa9c1e"/>
<circle cx="662.5" cy="743.2" r="1.05" fill="#fa9c1e"/>
<circle cx="663.7" cy="749.0" r="1.05" fill="#fa9c1e"/>
<circle cx="657.3" cy="745.0" r="1.05" fill="#fa9c1e"/>
<path d="M603.60 725.80V777.30H672.00" stroke="#111" stroke-width="0.9" fill="none"/>
<line x1="601.40" y1="777.30" x2="603.60" y2="777.30" stroke="#111" stroke-width="0.8"/>
<text x="600.60" y="779.80" font-size="7.0" text-anchor="end" fill="#111">0</text>
<line x1="601.40" y1="764.42" x2="603.60" y2="764.42" stroke="#111" stroke-width="0.8"/>
<text x="600.60" y="766.92" font-size="7.0" text-anchor="end" fill="#111">10</text>
<line x1="601.40" y1="751.55" x2="603.60" y2="751.55" stroke="#111" stroke-width="0.8"/>
<text x="600.60" y="754.05" font-size="7.0" text-anchor="end" fill="#111">20</text>
<line x1="601.40" y1="738.67" x2="603.60" y2="738.67" stroke="#111" stroke-width="0.8"/>
<text x="600.60" y="741.17" font-size="7.0" text-anchor="end" fill="#111">30</text>
<line x1="601.40" y1="725.80" x2="603.60" y2="725.80" stroke="#111" stroke-width="0.8"/>
<text x="600.60" y="728.30" font-size="7.0" text-anchor="end" fill="#111">40</text>
<line x1="614.00" y1="777.30" x2="614.00" y2="779.30" stroke="#111" stroke-width="0.8"/>
<text x="616.20" y="782.50" font-size="6.4" text-anchor="end" fill="#111" transform="rotate(-45 616.20 782.50)">Vehicle</text>
<line x1="629.80" y1="777.30" x2="629.80" y2="779.30" stroke="#111" stroke-width="0.8"/>
<text x="632.00" y="782.50" font-size="6.4" text-anchor="end" fill="#111" transform="rotate(-45 632.00 782.50)">Palbociclib</text>
<line x1="645.55" y1="777.30" x2="645.55" y2="779.30" stroke="#111" stroke-width="0.8"/>
<text x="647.75" y="782.50" font-size="6.4" text-anchor="end" fill="#111" transform="rotate(-45 647.75 782.50)">BLU-222 (100 mpk)</text>
<line x1="661.50" y1="777.30" x2="661.50" y2="779.30" stroke="#111" stroke-width="0.8"/>
<text x="663.70" y="782.50" font-size="6.4" text-anchor="end" fill="#111" transform="rotate(-45 663.70 782.50)">BLU-222+Palbo</text>
<path d="M614.00 715.20V710.50H661.50V731.10" stroke="#111" stroke-width="0.9" fill="none"/>
<text x="637.00" y="709.00" font-size="5.6" text-anchor="middle" fill="#111">&lt;0.0001</text>
<path d="M614.00 757.10V718.90H645.90V721.90" stroke="#111" stroke-width="0.9" fill="none"/>
<text x="629.60" y="717.40" font-size="5.6" text-anchor="middle" fill="#111">&lt;0.0001</text>
<text x="637.10" y="703.40" font-size="8.5" text-anchor="middle" font-weight="bold">XC517</text>
<text x="578.00" y="752.00" font-size="7.6" text-anchor="middle" fill="#111" transform="rotate(-90 578.00 752.00)">SBB stained lipofuscin</text>
<text x="587.20" y="752.00" font-size="7.6" text-anchor="middle" fill="#111" transform="rotate(-90 587.20 752.00)">Positivity (%)</text>
<rect x="505.70" y="905.08" width="9.50" height="4.22" fill="#555555" stroke="#1a1a1a" stroke-width="1.0"/>
<path d="M510.45 905.08V898.83M508.25 898.83H512.65" stroke="#1a1a1a" stroke-width="0.8" fill="none"/>
<circle cx="509.3" cy="887.3" r="1.05" fill="#000"/>
<circle cx="511.3" cy="908.9" r="1.05" fill="#000"/>
<circle cx="506.3" cy="906.8" r="1.05" fill="#000"/>
<circle cx="513.3" cy="906.8" r="1.05" fill="#000"/>
<circle cx="514.7" cy="905.4" r="1.05" fill="#000"/>
<circle cx="510.2" cy="900.1" r="1.05" fill="#000"/>
<circle cx="511.6" cy="901.1" r="1.05" fill="#000"/>
<circle cx="513.6" cy="899.5" r="1.05" fill="#000"/>
<circle cx="510.6" cy="897.3" r="1.05" fill="#000"/>
<circle cx="506.7" cy="905.6" r="1.05" fill="#000"/>
<circle cx="508.8" cy="904.6" r="1.05" fill="#000"/>
<circle cx="510.2" cy="891.8" r="1.05" fill="#000"/>
<circle cx="512.3" cy="902.4" r="1.05" fill="#000"/>
<circle cx="514.0" cy="897.3" r="1.05" fill="#000"/>
<circle cx="510.0" cy="897.6" r="1.05" fill="#000"/>
<circle cx="507.0" cy="892.3" r="1.05" fill="#000"/>
<circle cx="514.4" cy="902.0" r="1.05" fill="#000"/>
<circle cx="509.9" cy="901.5" r="1.05" fill="#000"/>
<circle cx="509.2" cy="905.4" r="1.05" fill="#000"/>
<circle cx="514.1" cy="896.6" r="1.05" fill="#000"/>
<circle cx="511.9" cy="892.2" r="1.05" fill="#000"/>
<circle cx="514.4" cy="898.1" r="1.05" fill="#000"/>
<circle cx="513.9" cy="893.6" r="1.05" fill="#000"/>
<circle cx="511.1" cy="902.0" r="1.05" fill="#000"/>
<circle cx="508.6" cy="892.7" r="1.05" fill="#000"/>
<circle cx="514.6" cy="892.8" r="1.05" fill="#000"/>
<circle cx="507.0" cy="899.9" r="1.05" fill="#000"/>
<circle cx="507.5" cy="902.9" r="1.05" fill="#000"/>
<circle cx="513.6" cy="908.2" r="1.05" fill="#000"/>
<circle cx="506.6" cy="893.9" r="1.05" fill="#000"/>
<rect x="522.70" y="904.34" width="9.50" height="4.96" fill="#f6928a" stroke="#ee3a2c" stroke-width="1.0"/>
<path d="M527.45 904.34V896.99M525.25 896.99H529.65" stroke="#ee3a2c" stroke-width="0.8" fill="none"/>
<circle cx="529.3" cy="892.8" r="1.05" fill="#ee3a2c"/>
<circle cx="526.0" cy="908.9" r="1.05" fill="#ee3a2c"/>
<circle cx="527.5" cy="893.9" r="1.05" fill="#ee3a2c"/>
<circle cx="523.9" cy="900.0" r="1.05" fill="#ee3a2c"/>
<circle cx="528.3" cy="904.4" r="1.05" fill="#ee3a2c"/>
<circle cx="526.7" cy="901.1" r="1.05" fill="#ee3a2c"/>
<circle cx="528.4" cy="903.7" r="1.05" fill="#ee3a2c"/>
<circle cx="530.6" cy="903.5" r="1.05" fill="#ee3a2c"/>
<circle cx="525.9" cy="903.1" r="1.05" fill="#ee3a2c"/>
<circle cx="526.4" cy="893.9" r="1.05" fill="#ee3a2c"/>
<circle cx="527.1" cy="907.1" r="1.05" fill="#ee3a2c"/>
<circle cx="528.3" cy="905.3" r="1.05" fill="#ee3a2c"/>
<circle cx="531.2" cy="906.9" r="1.05" fill="#ee3a2c"/>
<circle cx="529.3" cy="904.6" r="1.05" fill="#ee3a2c"/>
<circle cx="531.5" cy="904.0" r="1.05" fill="#ee3a2c"/>
<circle cx="527.6" cy="900.1" r="1.05" fill="#ee3a2c"/>
<circle cx="526.7" cy="905.1" r="1.05" fill="#ee3a2c"/>
<circle cx="528.1" cy="904.6" r="1.05" fill="#ee3a2c"/>
<circle cx="528.6" cy="897.4" r="1.05" fill="#ee3a2c"/>
<circle cx="523.7" cy="903.5" r="1.05" fill="#ee3a2c"/>
<rect x="539.30" y="901.03" width="10.10" height="8.26" fill="#86c886" stroke="#2a962a" stroke-width="1.0"/>
<path d="M544.35 901.03V891.85M542.15 891.85H546.55" stroke="#2a962a" stroke-width="0.8" fill="none"/>
<circle cx="546.2" cy="876.2" r="1.05" fill="#2a962a"/>
<circle cx="540.4" cy="908.7" r="1.05" fill="#2a962a"/>
<circle cx="546.0" cy="903.2" r="1.05" fill="#2a962a"/>
<circle cx="544.0" cy="893.5" r="1.05" fill="#2a962a"/>
<circle cx="545.2" cy="902.8" r="1.05" fill="#2a962a"/>
<circle cx="542.6" cy="905.2" r="1.05" fill="#2a962a"/>
<circle cx="543.2" cy="892.3" r="1.05" fill="#2a962a"/>
<circle cx="543.2" cy="908.1" r="1.05" fill="#2a962a"/>
<circle cx="546.8" cy="905.9" r="1.05" fill="#2a962a"/>
<circle cx="546.5" cy="888.0" r="1.05" fill="#2a962a"/>
<circle cx="542.6" cy="898.8" r="1.05" fill="#2a962a"/>
<circle cx="542.0" cy="897.9" r="1.05" fill="#2a962a"/>
<circle cx="541.5" cy="883.0" r="1.05" fill="#2a962a"/>
<circle cx="540.7" cy="894.8" r="1.05" fill="#2a962a"/>
<circle cx="547.4" cy="905.0" r="1.05" fill="#2a962a"/>
<circle cx="543.8" cy="892.8" r="1.05" fill="#2a962a"/>
<circle cx="542.9" cy="897.2" r="1.05" fill="#2a962a"/>
<circle cx="545.7" cy="905.9" r="1.05" fill="#2a962a"/>
<circle cx="541.8" cy="892.7" r="1.05" fill="#2a962a"/>
<circle cx="540.9" cy="908.4" r="1.05" fill="#2a962a"/>
<circle cx="547.1" cy="907.5" r="1.05" fill="#2a962a"/>
<circle cx="547.4" cy="902.3" r="1.05" fill="#2a962a"/>
<circle cx="547.1" cy="897.7" r="1.05" fill="#2a962a"/>
<circle cx="545.6" cy="893.5" r="1.05" fill="#2a962a"/>
<rect x="556.50" y="887.08" width="9.90" height="22.22" fill="#fdca86" stroke="#fa9c1e" stroke-width="1.0"/>
<path d="M561.45 887.08V877.89M559.25 877.89H563.65" stroke="#fa9c1e" stroke-width="0.8" fill="none"/>
<circle cx="558.2" cy="863.4" r="1.05" fill="#fa9c1e"/>
<circle cx="559.6" cy="903.8" r="1.05" fill="#fa9c1e"/>
<circle cx="560.1" cy="884.3" r="1.05" fill="#fa9c1e"/>
<circle cx="560.7" cy="896.7" r="1.05" fill="#fa9c1e"/>
<circle cx="565.2" cy="898.4" r="1.05" fill="#fa9c1e"/>
<circle cx="558.4" cy="880.8" r="1.05" fill="#fa9c1e"/>
<circle cx="564.8" cy="886.2" r="1.05" fill="#fa9c1e"/>
<circle cx="565.5" cy="873.6" r="1.05" fill="#fa9c1e"/>
<circle cx="565.3" cy="888.2" r="1.05" fill="#fa9c1e"/>
<circle cx="564.4" cy="883.4" r="1.05" fill="#fa9c1e"/>
<circle cx="562.9" cy="866.5" r="1.05" fill="#fa9c1e"/>
<circle cx="560.0" cy="897.4" r="1.05" fill="#fa9c1e"/>
<circle cx="559.0" cy="888.3" r="1.05" fill="#fa9c1e"/>
<circle cx="559.6" cy="871.8" r="1.05" fill="#fa9c1e"/>
<circle cx="564.2" cy="880.1" r="1.05" fill="#fa9c1e"/>
<circle cx="563.2" cy="879.4" r="1.05" fill="#fa9c1e"/>
<circle cx="565.0" cy="899.5" r="1.05" fill="#fa9c1e"/>
<circle cx="563.6" cy="888.9" r="1.05" fill="#fa9c1e"/>
<circle cx="558.5" cy="888.0" r="1.05" fill="#fa9c1e"/>
<circle cx="561.7" cy="892.8" r="1.05" fill="#fa9c1e"/>
<circle cx="560.7" cy="869.4" r="1.05" fill="#fa9c1e"/>
<circle cx="560.0" cy="871.0" r="1.05" fill="#fa9c1e"/>
<circle cx="559.2" cy="893.6" r="1.05" fill="#fa9c1e"/>
<circle cx="564.0" cy="877.8" r="1.05" fill="#fa9c1e"/>
<circle cx="560.1" cy="898.1" r="1.05" fill="#fa9c1e"/>
<circle cx="564.3" cy="882.0" r="1.05" fill="#fa9c1e"/>
<circle cx="558.5" cy="872.3" r="1.05" fill="#fa9c1e"/>
<circle cx="564.2" cy="879.7" r="1.05" fill="#fa9c1e"/>
<circle cx="562.6" cy="886.4" r="1.05" fill="#fa9c1e"/>
<circle cx="564.7" cy="888.5" r="1.05" fill="#fa9c1e"/>
<path d="M499.40 854.20V909.30H573.00" stroke="#111" stroke-width="0.9" fill="none"/>
<line x1="497.20" y1="909.30" x2="499.40" y2="909.30" stroke="#111" stroke-width="0.8"/>
<text x="496.40" y="911.80" font-size="7.0" text-anchor="end" fill="#111">0</text>
<line x1="497.20" y1="890.93" x2="499.40" y2="890.93" stroke="#111" stroke-width="0.8"/>
<text x="496.40" y="893.43" font-size="7.0" text-anchor="end" fill="#111">10</text>
<line x1="497.20" y1="872.57" x2="499.40" y2="872.57" stroke="#111" stroke-width="0.8"/>
<text x="496.40" y="875.07" font-size="7.0" text-anchor="end" fill="#111">20</text>
<line x1="497.20" y1="854.20" x2="499.40" y2="854.20" stroke="#111" stroke-width="0.8"/>
<text x="496.40" y="856.70" font-size="7.0" text-anchor="end" fill="#111">30</text>
<line x1="510.45" y1="909.30" x2="510.45" y2="911.30" stroke="#111" stroke-width="0.8"/>
<text x="512.65" y="914.50" font-size="6.4" text-anchor="end" fill="#111" transform="rotate(-45 512.65 914.50)">Vehicle</text>
<line x1="527.45" y1="909.30" x2="527.45" y2="911.30" stroke="#111" stroke-width="0.8"/>
<text x="529.65" y="914.50" font-size="6.4" text-anchor="end" fill="#111" transform="rotate(-45 529.65 914.50)">Palbociclib</text>
<line x1="544.35" y1="909.30" x2="544.35" y2="911.30" stroke="#111" stroke-width="0.8"/>
<text x="546.55" y="914.50" font-size="6.4" text-anchor="end" fill="#111" transform="rotate(-45 546.55 914.50)">BLU-222 (100 mpk)</text>
<line x1="561.45" y1="909.30" x2="561.45" y2="911.30" stroke="#111" stroke-width="0.8"/>
<text x="563.65" y="914.50" font-size="6.4" text-anchor="end" fill="#111" transform="rotate(-45 563.65 914.50)">BLU-222+Palbo+Fulv</text>
<path d="M510.50 883.00V854.20H561.60V859.40" stroke="#111" stroke-width="0.9" fill="none"/>
<text x="535.90" y="852.40" font-size="5.6" text-anchor="middle" fill="#111">&lt;0.0001</text>
<text x="535.70" y="837.00" font-size="8.5" text-anchor="middle" font-weight="bold">PR1</text>
<text x="472.60" y="880.00" font-size="7.6" text-anchor="middle" fill="#111" transform="rotate(-90 472.60 880.00)">SBB stained lipofuscin</text>
<text x="482.00" y="880.00" font-size="7.6" text-anchor="middle" fill="#111" transform="rotate(-90 482.00 880.00)">Positivity (%)</text>
<rect x="611.50" y="903.71" width="9.70" height="6.59" fill="#555555" stroke="#1a1a1a" stroke-width="1.0"/>
<path d="M616.35 903.71V894.01M614.15 894.01H618.55" stroke="#1a1a1a" stroke-width="0.8" fill="none"/>
<circle cx="615.4" cy="879.1" r="1.05" fill="#000"/>
<circle cx="613.3" cy="910.0" r="1.05" fill="#000"/>
<circle cx="620.0" cy="894.8" r="1.05" fill="#000"/>
<circle cx="619.0" cy="899.7" r="1.05" fill="#000"/>
<circle cx="616.7" cy="903.1" r="1.05" fill="#000"/>
<circle cx="612.9" cy="904.7" r="1.05" fill="#000"/>
<circle cx="613.9" cy="897.9" r="1.05" fill="#000"/>
<circle cx="619.0" cy="887.4" r="1.05" fill="#000"/>
<circle cx="614.7" cy="901.7" r="1.05" fill="#000"/>
<circle cx="617.5" cy="909.7" r="1.05" fill="#000"/>
<circle cx="619.7" cy="905.9" r="1.05" fill="#000"/>
<circle cx="617.8" cy="892.5" r="1.05" fill="#000"/>
<circle cx="616.4" cy="896.9" r="1.05" fill="#000"/>
<circle cx="612.8" cy="898.9" r="1.05" fill="#000"/>
<circle cx="620.1" cy="893.9" r="1.05" fill="#000"/>
<circle cx="614.6" cy="895.7" r="1.05" fill="#000"/>
<circle cx="619.7" cy="893.2" r="1.05" fill="#000"/>
<circle cx="615.6" cy="897.1" r="1.05" fill="#000"/>
<circle cx="613.4" cy="909.7" r="1.05" fill="#000"/>
<circle cx="612.4" cy="909.7" r="1.05" fill="#000"/>
<circle cx="612.4" cy="887.1" r="1.05" fill="#000"/>
<circle cx="616.7" cy="909.2" r="1.05" fill="#000"/>
<circle cx="616.1" cy="909.3" r="1.05" fill="#000"/>
<circle cx="613.8" cy="900.4" r="1.05" fill="#000"/>
<circle cx="617.5" cy="894.3" r="1.05" fill="#000"/>
<circle cx="618.5" cy="905.2" r="1.05" fill="#000"/>
<rect x="627.50" y="905.10" width="9.70" height="5.20" fill="#f6928a" stroke="#ee3a2c" stroke-width="1.0"/>
<path d="M632.35 905.10V897.13M630.15 897.13H634.55" stroke="#ee3a2c" stroke-width="0.8" fill="none"/>
<circle cx="630.8" cy="886.0" r="1.05" fill="#ee3a2c"/>
<circle cx="630.0" cy="910.0" r="1.05" fill="#ee3a2c"/>
<circle cx="634.7" cy="903.5" r="1.05" fill="#ee3a2c"/>
<circle cx="630.9" cy="909.2" r="1.05" fill="#ee3a2c"/>
<circle cx="629.5" cy="908.8" r="1.05" fill="#ee3a2c"/>
<circle cx="634.1" cy="907.2" r="1.05" fill="#ee3a2c"/>
<circle cx="635.8" cy="904.5" r="1.05" fill="#ee3a2c"/>
<circle cx="636.4" cy="893.4" r="1.05" fill="#ee3a2c"/>
<circle cx="628.2" cy="908.5" r="1.05" fill="#ee3a2c"/>
<circle cx="634.7" cy="909.8" r="1.05" fill="#ee3a2c"/>
<circle cx="631.6" cy="886.2" r="1.05" fill="#ee3a2c"/>
<circle cx="635.1" cy="895.3" r="1.05" fill="#ee3a2c"/>
<circle cx="630.6" cy="908.7" r="1.05" fill="#ee3a2c"/>
<circle cx="629.2" cy="902.2" r="1.05" fill="#ee3a2c"/>
<rect x="643.50" y="890.89" width="10.00" height="19.41" fill="#86c886" stroke="#2a962a" stroke-width="1.0"/>
<path d="M648.50 890.89V876.67M646.30 876.67H650.70" stroke="#2a962a" stroke-width="0.8" fill="none"/>
<circle cx="647.4" cy="868.7" r="1.05" fill="#2a962a"/>
<circle cx="644.1" cy="906.8" r="1.05" fill="#2a962a"/>
<circle cx="644.4" cy="893.4" r="1.05" fill="#2a962a"/>
<circle cx="647.3" cy="880.8" r="1.05" fill="#2a962a"/>
<circle cx="646.6" cy="872.6" r="1.05" fill="#2a962a"/>
<circle cx="647.8" cy="871.6" r="1.05" fill="#2a962a"/>
<circle cx="644.5" cy="889.8" r="1.05" fill="#2a962a"/>
<circle cx="645.5" cy="886.9" r="1.05" fill="#2a962a"/>
<circle cx="644.4" cy="893.9" r="1.05" fill="#2a962a"/>
<circle cx="648.4" cy="897.0" r="1.05" fill="#2a962a"/>
<circle cx="645.1" cy="890.6" r="1.05" fill="#2a962a"/>
<circle cx="647.7" cy="894.6" r="1.05" fill="#2a962a"/>
<circle cx="646.2" cy="877.3" r="1.05" fill="#2a962a"/>
<circle cx="647.7" cy="891.9" r="1.05" fill="#2a962a"/>
<circle cx="646.2" cy="878.8" r="1.05" fill="#2a962a"/>
<circle cx="652.0" cy="888.0" r="1.05" fill="#2a962a"/>
<circle cx="644.3" cy="884.1" r="1.05" fill="#2a962a"/>
<circle cx="646.3" cy="903.1" r="1.05" fill="#2a962a"/>
<circle cx="646.1" cy="890.5" r="1.05" fill="#2a962a"/>
<circle cx="651.8" cy="882.8" r="1.05" fill="#2a962a"/>
<circle cx="652.4" cy="888.5" r="1.05" fill="#2a962a"/>
<circle cx="649.1" cy="887.9" r="1.05" fill="#2a962a"/>
<circle cx="652.1" cy="878.8" r="1.05" fill="#2a962a"/>
<circle cx="649.9" cy="891.6" r="1.05" fill="#2a962a"/>
<circle cx="648.4" cy="885.9" r="1.05" fill="#2a962a"/>
<circle cx="651.9" cy="884.0" r="1.05" fill="#2a962a"/>
<circle cx="652.1" cy="886.4" r="1.05" fill="#2a962a"/>
<circle cx="649.9" cy="881.3" r="1.05" fill="#2a962a"/>
<rect x="659.50" y="885.34" width="10.20" height="24.96" fill="#fdca86" stroke="#fa9c1e" stroke-width="1.0"/>
<path d="M664.60 885.34V878.06M662.40 878.06H666.80" stroke="#fa9c1e" stroke-width="0.8" fill="none"/>
<circle cx="667.4" cy="865.2" r="1.05" fill="#fa9c1e"/>
<circle cx="664.9" cy="899.9" r="1.05" fill="#fa9c1e"/>
<circle cx="662.5" cy="894.6" r="1.05" fill="#fa9c1e"/>
<circle cx="668.5" cy="899.0" r="1.05" fill="#fa9c1e"/>
<circle cx="668.9" cy="881.2" r="1.05" fill="#fa9c1e"/>
<circle cx="668.8" cy="886.5" r="1.05" fill="#fa9c1e"/>
<circle cx="668.3" cy="886.9" r="1.05" fill="#fa9c1e"/>
<circle cx="661.2" cy="888.2" r="1.05" fill="#fa9c1e"/>
<circle cx="660.6" cy="869.6" r="1.05" fill="#fa9c1e"/>
<circle cx="661.5" cy="888.5" r="1.05" fill="#fa9c1e"/>
<circle cx="666.9" cy="894.6" r="1.05" fill="#fa9c1e"/>
<circle cx="668.5" cy="895.9" r="1.05" fill="#fa9c1e"/>
<circle cx="668.5" cy="885.2" r="1.05" fill="#fa9c1e"/>
<circle cx="660.1" cy="884.5" r="1.05" fill="#fa9c1e"/>
<circle cx="667.5" cy="881.5" r="1.05" fill="#fa9c1e"/>
<circle cx="667.2" cy="889.1" r="1.05" fill="#fa9c1e"/>
<circle cx="668.1" cy="875.5" r="1.05" fill="#fa9c1e"/>
<circle cx="661.9" cy="894.9" r="1.05" fill="#fa9c1e"/>
<circle cx="668.2" cy="889.9" r="1.05" fill="#fa9c1e"/>
<circle cx="667.1" cy="893.9" r="1.05" fill="#fa9c1e"/>
<circle cx="660.2" cy="898.4" r="1.05" fill="#fa9c1e"/>
<circle cx="660.3" cy="883.0" r="1.05" fill="#fa9c1e"/>
<circle cx="668.0" cy="895.7" r="1.05" fill="#fa9c1e"/>
<circle cx="665.6" cy="892.4" r="1.05" fill="#fa9c1e"/>
<circle cx="667.1" cy="878.7" r="1.05" fill="#fa9c1e"/>
<circle cx="664.8" cy="877.5" r="1.05" fill="#fa9c1e"/>
<path d="M605.30 858.30V910.30H675.80" stroke="#111" stroke-width="0.9" fill="none"/>
<line x1="603.10" y1="910.30" x2="605.30" y2="910.30" stroke="#111" stroke-width="0.8"/>
<text x="602.30" y="912.80" font-size="7.0" text-anchor="end" fill="#111">0</text>
<line x1="603.10" y1="892.97" x2="605.30" y2="892.97" stroke="#111" stroke-width="0.8"/>
<text x="602.30" y="895.47" font-size="7.0" text-anchor="end" fill="#111">5</text>
<line x1="603.10" y1="875.63" x2="605.30" y2="875.63" stroke="#111" stroke-width="0.8"/>
<text x="602.30" y="878.13" font-size="7.0" text-anchor="end" fill="#111">10</text>
<line x1="603.10" y1="858.30" x2="605.30" y2="858.30" stroke="#111" stroke-width="0.8"/>
<text x="602.30" y="860.80" font-size="7.0" text-anchor="end" fill="#111">15</text>
<line x1="616.35" y1="910.30" x2="616.35" y2="912.30" stroke="#111" stroke-width="0.8"/>
<text x="618.55" y="915.50" font-size="6.4" text-anchor="end" fill="#111" transform="rotate(-45 618.55 915.50)">Vehicle</text>
<line x1="632.35" y1="910.30" x2="632.35" y2="912.30" stroke="#111" stroke-width="0.8"/>
<text x="634.55" y="915.50" font-size="6.4" text-anchor="end" fill="#111" transform="rotate(-45 634.55 915.50)">Palbociclib</text>
<line x1="648.50" y1="910.30" x2="648.50" y2="912.30" stroke="#111" stroke-width="0.8"/>
<text x="650.70" y="915.50" font-size="6.4" text-anchor="end" fill="#111" transform="rotate(-45 650.70 915.50)">BLU-222 (100 mpk)</text>
<line x1="664.60" y1="910.30" x2="664.60" y2="912.30" stroke="#111" stroke-width="0.8"/>
<text x="666.80" y="915.50" font-size="6.4" text-anchor="end" fill="#111" transform="rotate(-45 666.80 915.50)">BLU-222+Palbo+Fulv</text>
<path d="M616.20 858.60V846.00H664.80V860.30" stroke="#111" stroke-width="0.9" fill="none"/>
<text x="640.20" y="844.40" font-size="5.6" text-anchor="middle" fill="#111">&lt;0.0001</text>
<path d="M616.20 877.90V858.30H648.00V863.30" stroke="#111" stroke-width="0.9" fill="none"/>
<text x="632.00" y="856.70" font-size="5.6" text-anchor="middle" fill="#111">&lt;0.0001</text>
<text x="640.50" y="834.60" font-size="8.5" text-anchor="middle" font-weight="bold">PR4</text>
<text x="579.60" y="880.00" font-size="7.6" text-anchor="middle" fill="#111" transform="rotate(-90 579.60 880.00)">SBB stained lipofuscin</text>
<text x="589.00" y="880.00" font-size="7.6" text-anchor="middle" fill="#111" transform="rotate(-90 589.00 880.00)">Positivity (%)</text>
<text x="435.80" y="722.30" font-size="18.0" font-weight="bold">Q</text>
</svg>
</body></html>
